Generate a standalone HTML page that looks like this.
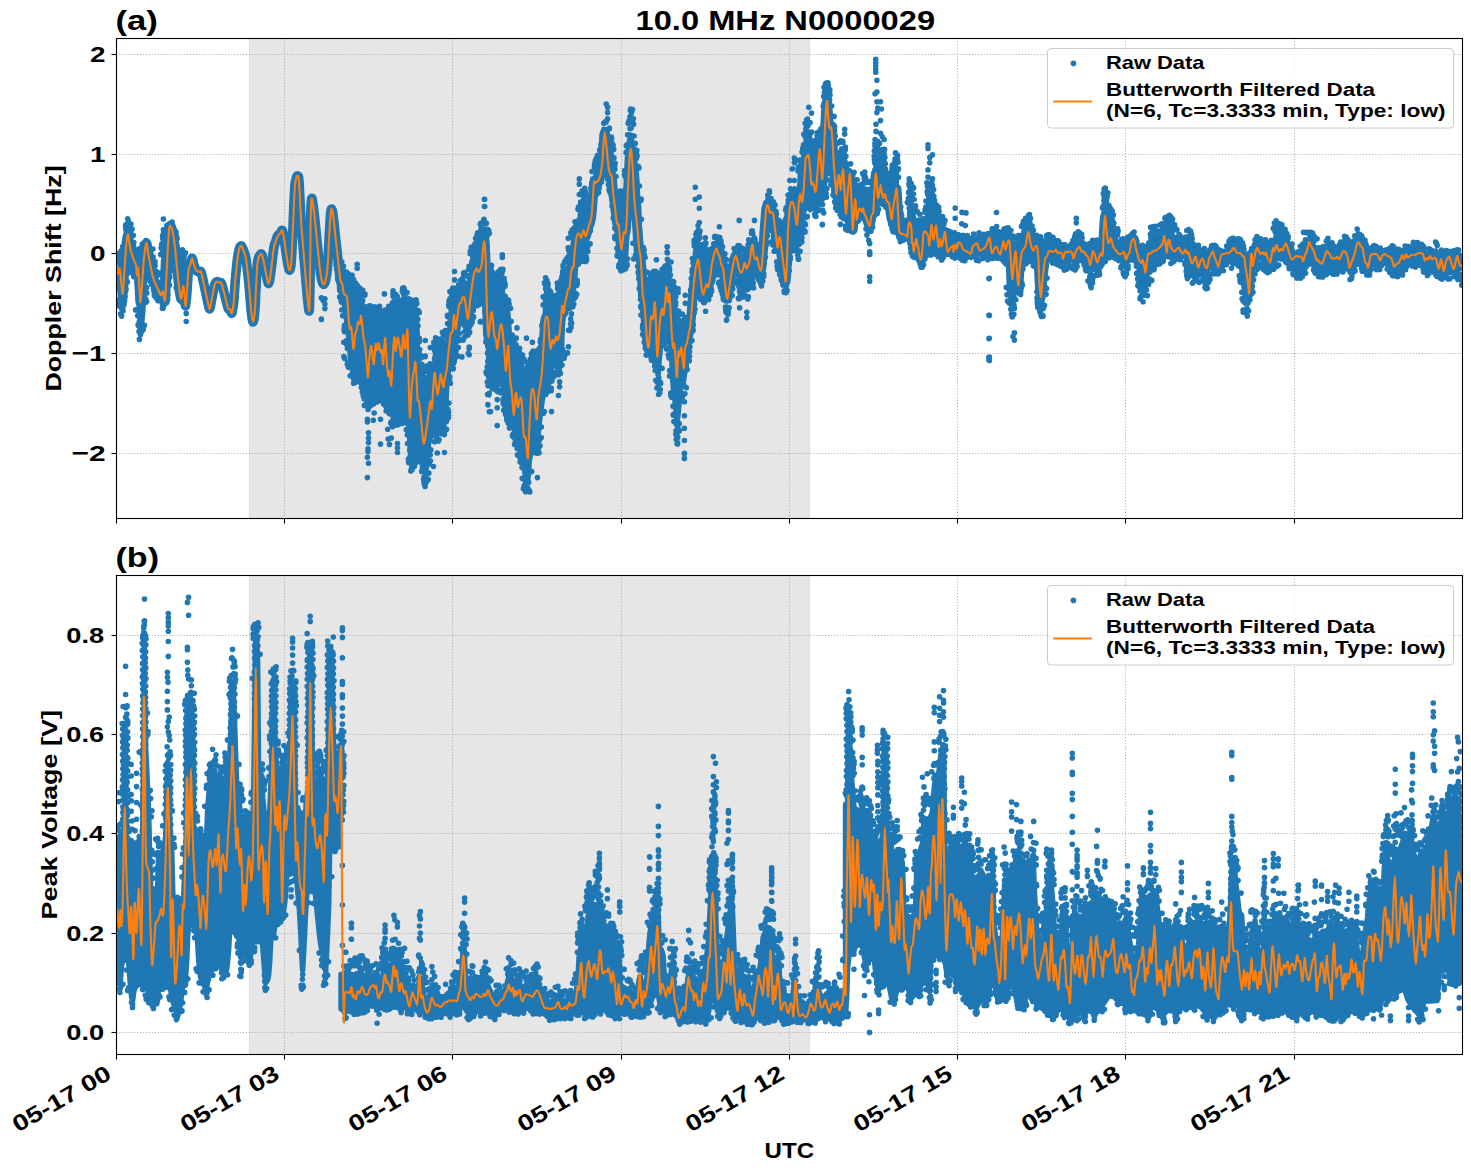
<!DOCTYPE html><html><head><meta charset="utf-8"><style>html,body{margin:0;padding:0;background:#fff}svg{display:block}text{font-family:"Liberation Sans",sans-serif;font-weight:bold;fill:#000}</style></head><body>
<svg width="1471" height="1172" viewBox="0 0 1471 1172">
<rect width="1471" height="1172" fill="#fff"/>
<clipPath id="ca"><rect x="116.5" y="38.5" width="1346.0" height="480.0"/></clipPath>
<rect x="249" y="38.5" width="560.8" height="480.0" fill="#e6e6e6"/>
<path d="M249.4 38.5V518.5M809.4 38.5V518.5" stroke="#dadada" stroke-width="0.8" fill="none"/>
<g stroke="#b0b0b0" stroke-width="1.11" stroke-dasharray="1.11,1.83" fill="none">
<path d="M284.5 38.5V518.5"/>
<path d="M452.5 38.5V518.5"/>
<path d="M621.5 38.5V518.5"/>
<path d="M789.5 38.5V518.5"/>
<path d="M957.5 38.5V518.5"/>
<path d="M1125.5 38.5V518.5"/>
<path d="M1294.5 38.5V518.5"/>
<path d="M116.5 54.5H1462.5"/>
<path d="M116.5 154.5H1462.5"/>
<path d="M116.5 253.5H1462.5"/>
<path d="M116.5 353.5H1462.5"/>
<path d="M116.5 453.5H1462.5"/>
</g>
<g clip-path="url(#ca)" id="dataa">
<defs><path id="o1" d="M117.2 264.7C117.3 266.2 117.6 272.9 118.1 273.7C118.5 274.4 119.3 267.1 119.9 269.2C120.5 271.3 121.1 282.2 121.6 286.2C122.2 290.2 122.5 295.8 122.9 293.4C123.4 291.0 123.8 279.6 124.3 271.9C124.9 264.1 125.5 253.0 126.1 246.8C126.7 240.5 127.4 234.8 127.9 234.2C128.5 233.6 128.9 240.5 129.4 243.2C129.8 245.9 130.1 248.3 130.6 250.4C131.1 252.4 131.8 253.9 132.4 255.7C133.0 257.5 133.6 259.6 134.2 261.1C134.8 262.6 135.5 262.3 136.0 264.7C136.4 267.1 136.5 274.9 136.9 275.4C137.2 276.0 137.7 265.6 138.1 268.3C138.6 271.0 139.2 285.9 139.6 291.6C140.0 297.3 140.1 303.2 140.5 302.3C140.9 301.4 141.3 293.7 141.9 286.2C142.5 278.7 143.3 264.7 144.1 257.5C144.8 250.4 145.7 244.1 146.4 243.2C147.0 242.3 147.3 248.6 148.0 252.2C148.6 255.7 149.5 260.5 150.3 264.7C151.2 268.9 152.1 274.0 153.0 277.2C153.9 280.5 154.8 282.3 155.7 284.4C156.6 286.5 157.6 288.0 158.4 289.8C159.2 291.6 160.0 294.9 160.7 295.2C161.5 295.5 162.2 290.7 162.9 291.6C163.6 292.5 164.4 303.2 165.0 300.5C165.6 297.8 166.0 283.8 166.5 275.4C166.9 267.1 167.3 258.1 167.7 250.4C168.2 242.6 168.7 232.9 169.1 228.9C169.6 224.8 170.0 225.9 170.6 226.2C171.1 226.5 171.7 227.8 172.4 230.6C173.0 233.5 173.9 238.1 174.5 243.2C175.2 248.3 175.7 255.1 176.3 261.1C176.9 267.1 177.5 273.7 178.1 279.0C178.7 284.4 179.4 290.1 179.9 293.4C180.4 296.7 180.8 299.9 181.3 298.7C181.9 297.6 182.6 287.1 183.1 286.2C183.6 285.3 184.0 290.1 184.4 293.4C184.8 296.7 185.2 306.5 185.6 305.9C186.1 305.3 186.6 295.8 187.1 289.8C187.5 283.8 188.0 274.3 188.5 270.1C189.0 265.9 189.7 266.6 190.3 264.7C190.9 262.8 191.5 258.4 192.1 258.4C192.7 258.4 193.2 262.8 193.9 264.7C194.5 266.6 195.2 268.9 196.0 270.1C196.8 271.3 197.9 271.6 198.7 271.9C199.5 272.2 200.3 270.4 201.0 271.9C201.8 273.4 202.4 277.2 203.2 280.8C204.0 284.4 205.0 289.5 205.9 293.4C206.7 297.3 207.6 301.6 208.2 304.1C208.9 306.7 209.2 309.8 209.8 308.6C210.5 307.4 211.3 301.0 212.2 297.0C213.0 292.9 214.0 286.9 214.8 284.4C215.6 281.9 216.2 282.0 217.0 281.7C217.7 281.4 218.6 282.3 219.3 282.6C220.1 282.9 220.7 282.0 221.5 283.5C222.2 285.0 223.0 288.4 223.8 291.6C224.6 294.7 225.7 299.5 226.5 302.3C227.2 305.2 227.6 307.4 228.3 308.6C228.9 309.8 229.8 308.8 230.4 309.5C231.0 310.2 231.3 314.3 231.9 313.1C232.4 311.9 233.1 308.0 233.7 302.3C234.3 296.7 234.8 286.5 235.4 279.0C236.1 271.6 236.9 262.6 237.6 257.5C238.3 252.4 238.8 250.5 239.4 248.6C240.0 246.6 240.7 245.6 241.4 245.9C242.0 246.2 242.8 248.4 243.5 250.4C244.2 252.3 245.0 253.9 245.7 257.5C246.4 261.1 247.0 266.5 247.6 271.9C248.3 277.2 248.8 283.2 249.4 289.8C250.0 296.4 250.6 305.9 251.2 311.3C251.8 316.7 252.4 322.0 253.0 322.0C253.6 322.0 254.3 317.3 254.8 311.3C255.3 305.3 255.6 294.0 256.1 286.2C256.5 278.4 256.9 269.5 257.3 264.7C257.8 259.9 258.1 259.3 258.7 257.5C259.4 255.7 260.7 253.6 261.4 253.9C262.2 254.2 262.6 256.9 263.2 259.3C263.8 261.7 264.4 265.3 265.0 268.3C265.6 271.3 266.2 274.7 266.8 277.2C267.4 279.8 268.0 283.8 268.6 283.5C269.2 283.2 269.8 279.2 270.4 275.4C271.0 271.7 271.6 265.9 272.2 261.1C272.8 256.3 273.4 250.1 274.0 246.8C274.6 243.5 275.2 243.2 275.8 241.4C276.4 239.6 276.8 237.4 277.6 236.0C278.3 234.7 279.4 234.2 280.3 233.3C281.1 232.4 281.7 229.6 282.4 230.6C283.1 231.7 283.5 235.4 284.2 239.6C284.9 243.8 285.8 251.3 286.5 255.7C287.2 260.2 287.8 264.1 288.3 266.5C288.9 268.9 289.3 270.4 289.7 270.1C290.2 269.8 290.6 269.8 291.0 264.7C291.5 259.6 292.0 248.9 292.4 239.6C292.9 230.3 293.3 218.1 293.7 209.1C294.1 200.2 294.5 191.1 294.9 185.8C295.4 180.6 295.9 179.4 296.4 177.8C296.9 176.1 297.4 175.2 297.8 176.0C298.3 176.7 298.5 174.6 299.1 182.3C299.6 189.9 300.5 212.1 301.1 221.7C301.7 231.2 302.0 233.0 302.5 239.6C303.1 246.2 303.7 253.9 304.3 261.1C304.9 268.3 305.5 275.7 306.1 282.6C306.7 289.5 307.4 297.8 307.9 302.3C308.5 306.8 309.0 314.0 309.4 309.5C309.7 305.0 309.9 290.1 310.1 275.4C310.3 260.8 310.4 234.4 310.6 221.7C310.8 209.0 311.1 202.3 311.5 199.3C311.9 196.3 312.4 200.6 312.9 203.8C313.5 206.9 314.1 212.7 314.7 218.1C315.3 223.5 315.9 230.0 316.5 236.0C317.1 242.0 317.7 248.3 318.3 253.9C318.9 259.6 319.5 265.6 320.1 270.1C320.7 274.6 321.3 278.4 321.9 280.8C322.5 283.2 323.1 284.4 323.7 284.4C324.3 284.4 324.9 283.2 325.5 280.8C326.1 278.4 326.8 275.1 327.3 270.1C327.8 265.0 328.1 257.8 328.5 250.4C328.9 242.9 329.4 231.8 329.8 225.3C330.2 218.7 330.5 213.5 330.9 210.9C331.2 208.4 331.7 208.8 332.1 210.0C332.6 211.2 333.0 214.1 333.5 218.1C334.1 222.1 334.6 228.9 335.2 234.2C335.7 239.6 336.4 245.0 337.0 250.4C337.6 255.7 338.1 261.4 338.7 266.5C339.3 271.6 339.9 277.8 340.5 280.8C341.1 283.8 341.8 282.3 342.3 284.4C342.9 286.5 343.2 291.6 343.8 293.4C344.3 295.2 345.0 294.3 345.6 295.2C346.2 296.1 346.8 294.6 347.3 298.7C347.9 302.9 348.3 315.2 348.8 320.3C349.2 325.3 349.6 328.0 350.0 329.2C350.5 330.4 350.8 325.3 351.3 327.4C351.7 329.5 352.3 338.2 352.7 341.8C353.1 345.3 353.3 349.8 353.6 348.9C354.0 348.0 354.4 339.7 354.9 336.4C355.4 333.1 356.1 331.6 356.7 329.2C357.2 326.8 357.6 322.9 358.1 322.0C358.6 321.1 359.4 324.9 359.9 323.8C360.4 322.8 360.7 314.9 361.1 315.8C361.6 316.7 362.1 325.2 362.6 329.2C363.0 333.2 363.4 337.1 363.8 340.0C364.3 342.8 364.8 342.5 365.3 346.5C365.7 350.5 366.3 358.6 366.7 363.8C367.2 368.9 367.5 377.8 368.0 377.2C368.4 376.6 368.7 365.4 369.2 360.2C369.7 355.0 370.5 346.7 371.0 345.8C371.5 344.9 372.0 351.8 372.4 354.8C372.9 357.8 373.3 365.6 373.9 363.8C374.4 362.0 375.1 346.3 375.7 344.1C376.2 341.8 376.8 350.5 377.3 350.3C377.8 350.2 378.2 342.9 378.7 343.2C379.2 343.5 380.0 350.9 380.5 352.1C381.0 353.3 381.3 348.4 381.8 350.3C382.2 352.3 382.7 365.9 383.2 363.8C383.7 361.7 384.4 338.1 385.0 337.8C385.6 337.5 386.2 355.5 386.8 362.0C387.3 368.4 387.8 374.8 388.2 376.3C388.7 377.8 389.0 369.4 389.5 370.9C390.0 372.4 390.7 388.3 391.3 385.3C391.9 382.3 392.5 361.1 393.0 353.0C393.6 344.9 393.9 337.2 394.3 336.9C394.7 336.6 395.2 351.1 395.7 351.2C396.3 351.4 396.9 339.0 397.5 337.8C398.1 336.6 398.7 340.9 399.3 344.1C400.0 347.2 400.8 358.1 401.5 356.6C402.1 355.1 402.7 336.6 403.3 335.1C403.8 333.6 404.2 345.8 404.7 347.6C405.1 349.4 405.5 348.8 405.9 345.8C406.4 342.9 407.0 326.7 407.4 329.7C407.8 332.7 408.0 352.1 408.3 363.8C408.6 375.4 408.9 390.6 409.2 399.6C409.5 408.6 409.7 419.0 410.1 417.5C410.5 416.0 411.1 397.5 411.5 390.6C412.0 383.8 412.3 379.6 412.8 376.3C413.2 373.0 413.6 373.3 414.0 370.9C414.5 368.5 415.0 360.2 415.4 362.0C415.9 363.8 416.3 375.4 416.7 381.7C417.1 388.0 417.2 396.3 417.6 399.6C418.0 402.9 418.6 399.0 419.0 401.4C419.5 403.8 420.0 409.8 420.5 413.9C420.9 418.1 421.3 422.3 421.7 426.5C422.1 430.7 422.6 436.2 423.0 439.0C423.4 441.9 423.6 444.4 424.1 443.5C424.5 442.6 425.2 437.4 425.8 433.7C426.4 429.9 427.0 425.6 427.6 421.1C428.2 416.6 428.9 410.1 429.4 406.8C429.9 403.5 430.3 401.1 430.7 401.4C431.1 401.7 431.5 411.3 431.9 408.6C432.4 405.9 432.9 391.2 433.4 385.3C433.8 379.3 434.3 372.1 434.8 372.7C435.3 373.3 436.1 385.3 436.6 388.9C437.1 392.4 437.3 395.4 437.8 394.2C438.4 393.0 439.1 385.0 439.6 381.7C440.1 378.4 440.3 373.6 440.9 374.5C441.5 375.4 442.5 386.6 443.2 387.1C443.9 387.5 444.4 380.2 445.0 377.2C445.6 374.2 446.2 373.5 446.8 369.1C447.4 364.8 448.2 355.5 448.6 351.2C449.1 347.0 449.2 346.2 449.5 343.5C449.8 340.9 450.1 336.9 450.4 335.1C450.7 333.3 450.9 333.5 451.3 332.8C451.7 332.1 452.3 334.0 452.7 331.0C453.2 328.0 453.5 315.2 454.0 314.9C454.5 314.6 455.2 329.2 455.8 329.2C456.4 329.2 457.0 319.1 457.6 314.9C458.2 310.7 458.8 306.2 459.4 304.1C460.0 302.0 460.5 303.5 461.1 302.3C461.7 301.1 462.3 297.6 462.9 297.0C463.5 296.4 464.1 296.4 464.7 298.7C465.3 301.1 466.0 308.0 466.5 311.3C467.1 314.6 467.4 319.7 468.0 318.5C468.5 317.3 469.2 308.9 469.7 304.1C470.3 299.3 470.9 294.6 471.5 289.8C472.2 285.0 473.0 278.7 473.7 275.4C474.3 272.2 475.0 271.3 475.5 270.1C476.0 268.9 476.2 268.0 476.7 268.3C477.2 268.6 477.7 272.5 478.5 271.9C479.3 271.3 480.9 268.3 481.6 264.7C482.4 261.1 482.5 254.2 482.9 250.4C483.4 246.5 483.9 240.2 484.3 241.4C484.8 242.6 485.2 248.9 485.6 257.5C485.9 266.2 486.2 282.6 486.5 293.4C486.8 304.1 487.1 314.7 487.4 322.0C487.7 329.4 488.0 337.3 488.5 337.3C488.9 337.3 489.6 326.2 490.1 322.0C490.6 317.9 491.0 312.5 491.5 312.2C492.0 311.9 492.5 316.5 492.9 320.3C493.4 324.0 493.7 331.3 494.2 334.6C494.7 337.9 495.5 337.6 496.0 340.0C496.5 342.4 496.8 349.2 497.2 348.9C497.7 348.6 498.2 341.8 498.7 338.2C499.2 334.6 499.7 329.7 500.1 327.4C500.6 325.2 500.9 323.8 501.4 324.7C501.8 325.6 502.3 328.4 502.8 332.8C503.3 337.2 503.9 344.6 504.4 351.0C504.9 357.3 505.4 370.0 505.8 370.9C506.3 371.9 506.7 360.8 507.1 356.6C507.5 352.4 507.8 345.2 508.2 345.8C508.5 346.4 508.7 354.2 509.1 360.2C509.4 366.2 509.9 376.9 510.3 381.7C510.7 386.5 511.2 385.3 511.6 388.9C512.0 392.4 512.3 398.9 512.7 403.2C513.0 407.5 513.5 415.4 513.9 414.8C514.3 414.2 514.8 403.2 515.2 399.6C515.5 396.0 515.8 392.1 516.2 393.3C516.7 394.5 517.3 405.4 517.8 406.8C518.4 408.1 518.7 402.9 519.3 401.4C519.8 399.9 520.6 396.3 521.1 397.8C521.6 399.3 521.9 404.1 522.3 410.4C522.8 416.6 523.2 431.0 523.8 435.4C524.3 439.9 525.0 434.6 525.6 437.2C526.1 439.9 526.6 448.1 527.0 451.6C527.4 455.0 527.6 459.9 527.9 457.8C528.2 455.8 528.4 446.4 528.8 439.0C529.1 431.7 529.6 421.4 530.0 413.9C530.5 406.5 530.8 398.4 531.3 394.2C531.7 390.0 532.2 388.9 532.7 388.9C533.2 388.9 533.7 390.9 534.2 394.2C534.6 397.5 535.0 404.4 535.4 408.6C535.9 412.7 536.4 420.8 536.8 419.3C537.3 417.8 537.7 404.7 538.1 399.6C538.5 394.5 539.1 391.8 539.5 388.9C540.0 385.9 540.4 384.7 540.8 381.7C541.2 378.7 541.7 375.4 542.0 370.9C542.4 366.5 542.8 360.3 543.1 354.8C543.4 349.3 543.7 343.6 544.0 338.2C544.3 332.7 544.6 325.6 544.9 322.0C545.3 318.5 545.7 317.1 546.2 316.7C546.7 316.2 547.4 316.1 548.0 319.4C548.5 322.6 548.8 331.5 549.2 336.4C549.7 341.3 550.1 348.3 550.6 348.9C551.2 349.5 551.8 340.9 552.4 340.0C553.0 339.1 553.6 344.1 554.2 343.5C554.8 343.0 555.4 337.0 556.0 336.4C556.6 335.8 557.2 340.6 557.8 340.0C558.4 339.4 559.1 336.4 559.6 332.8C560.1 329.2 560.6 322.9 561.0 318.5C561.5 314.0 561.8 306.8 562.3 305.9C562.7 305.0 563.3 313.4 563.7 313.1C564.2 312.8 564.5 307.1 565.0 304.1C565.5 301.1 566.2 297.7 566.8 295.2C567.3 292.6 567.8 290.1 568.2 288.9C568.7 287.7 569.0 290.2 569.5 288.0C569.9 285.8 570.3 278.9 570.7 275.4C571.2 272.0 571.7 268.9 572.2 267.4C572.6 265.9 573.1 269.3 573.6 266.5C574.0 263.6 574.4 254.8 574.8 250.4C575.3 245.9 575.6 242.3 576.1 239.6C576.5 236.9 577.0 235.1 577.5 234.2C578.1 233.3 578.7 233.6 579.3 234.2C579.9 234.8 580.5 238.4 581.1 237.8C581.8 237.2 582.7 231.2 583.3 230.6C583.9 230.0 584.2 233.3 584.7 234.2C585.2 235.1 585.6 236.9 586.1 236.0C586.7 235.1 587.3 230.9 587.9 228.9C588.5 226.8 589.1 225.6 589.7 223.5C590.3 221.4 591.0 220.2 591.5 216.3C592.0 212.4 592.3 205.9 592.8 200.2C593.2 194.5 593.6 185.1 594.0 182.3C594.5 179.4 594.9 183.3 595.4 183.2C596.0 183.0 596.6 182.0 597.2 181.4C597.8 180.8 598.4 180.9 599.0 179.6C599.6 178.2 600.3 176.1 600.8 173.3C601.4 170.5 601.8 167.5 602.3 162.7C602.7 157.8 603.1 149.0 603.5 143.9C603.9 138.9 604.3 132.3 604.8 132.3C605.2 132.3 605.7 139.5 606.2 143.9C606.7 148.4 607.2 154.8 607.6 159.1C608.1 163.4 608.4 167.0 608.9 169.7C609.4 172.4 610.2 173.9 610.7 175.1C611.2 176.3 611.5 173.6 611.9 176.9C612.4 180.2 612.8 189.4 613.4 194.8C613.9 200.2 614.6 204.4 615.2 209.1C615.8 213.9 616.4 220.8 617.0 223.5C617.6 226.2 618.2 222.3 618.7 225.3C619.3 228.3 619.7 237.4 620.2 241.4C620.6 245.4 621.0 249.5 621.4 249.5C621.9 249.5 622.3 244.2 622.7 241.4C623.1 238.6 623.3 233.9 623.8 232.4C624.2 230.9 625.0 234.8 625.6 232.4C626.1 230.0 626.5 224.4 626.8 218.1C627.2 211.8 627.3 203.1 627.7 194.8C628.1 186.5 628.6 175.3 629.0 168.0C629.3 160.7 629.7 154.2 630.0 151.1C630.4 148.0 630.7 148.7 630.9 149.3C631.2 149.9 631.4 151.6 631.6 154.7C631.9 157.8 632.3 161.3 632.7 168.0C633.1 174.7 633.6 188.0 634.0 194.8C634.4 201.7 634.8 204.7 635.2 209.1C635.7 213.6 636.2 217.2 636.7 221.7C637.1 226.2 637.7 231.2 638.1 236.0C638.5 240.8 638.9 246.8 639.4 250.4C639.8 253.9 640.2 253.3 640.6 257.5C641.0 261.7 641.3 268.9 641.7 275.4C642.1 282.0 642.5 292.5 642.9 297.0C643.4 301.4 643.7 298.4 644.2 302.3C644.6 306.2 645.2 314.3 645.6 320.3C646.1 326.2 646.5 333.7 646.9 338.2C647.3 342.7 647.6 346.2 648.0 347.1C648.3 348.0 648.8 348.3 649.2 343.5C649.7 338.8 650.2 322.8 650.6 318.5C651.1 314.1 651.5 317.6 651.9 317.6C652.3 317.6 652.7 321.0 653.2 318.5C653.6 315.9 654.2 303.5 654.6 302.3C655.0 301.1 655.2 305.3 655.5 311.3C655.8 317.3 656.1 330.7 656.4 338.2C656.7 345.6 657.0 354.6 657.3 356.1C657.6 357.6 657.8 351.9 658.2 347.1C658.5 342.4 659.0 332.8 659.4 327.4C659.9 322.0 660.3 318.0 660.8 314.9C661.2 311.7 661.7 308.6 662.2 308.6C662.6 308.6 663.0 315.3 663.4 314.9C663.9 314.4 664.2 310.1 664.7 305.9C665.1 301.7 665.8 292.8 666.1 289.8C666.5 286.8 666.4 285.9 666.7 288.0C667.0 290.1 667.5 301.4 667.9 302.3C668.4 303.2 668.9 291.9 669.4 293.4C669.8 294.9 670.3 305.3 670.6 311.3C671.0 317.3 671.1 323.2 671.5 329.2C671.9 335.2 672.5 345.0 672.9 347.4C673.4 349.8 673.8 342.2 674.2 343.8C674.6 345.4 675.0 351.7 675.4 357.2C675.9 362.8 676.4 378.1 676.9 377.2C677.4 376.3 677.9 355.3 678.3 351.9C678.8 348.4 679.1 357.1 679.6 356.3C680.1 355.6 680.8 346.1 681.4 347.4C682.0 348.6 682.7 360.4 683.2 363.8C683.6 367.1 683.8 369.8 684.1 367.3C684.3 364.9 684.5 353.1 684.9 349.2C685.4 345.3 686.1 346.2 686.7 343.8C687.3 341.4 687.9 337.6 688.5 334.6C689.1 331.6 689.8 329.5 690.3 325.6C690.8 321.7 691.1 316.7 691.6 311.3C692.0 305.9 692.5 298.7 693.0 293.4C693.5 288.0 694.0 283.2 694.4 279.0C694.9 274.9 695.3 271.1 695.7 268.3C696.1 265.4 696.7 263.4 697.1 262.0C697.6 260.7 697.9 258.6 698.4 260.2C698.8 261.9 699.4 268.1 699.8 271.9C700.3 275.6 700.7 279.3 701.1 282.6C701.5 285.9 701.9 289.6 702.3 291.6C702.7 293.5 703.0 294.6 703.4 294.3C703.8 294.0 704.2 291.4 704.7 289.8C705.2 288.1 705.9 284.9 706.5 284.4C707.0 284.0 707.6 288.0 708.2 287.1C708.8 286.2 709.4 282.8 710.0 279.0C710.6 275.3 711.2 268.6 711.8 264.7C712.4 260.8 713.0 258.1 713.6 255.7C714.2 253.3 714.9 251.6 715.4 250.4C715.9 249.2 716.2 248.0 716.7 248.6C717.1 249.2 717.6 252.4 718.1 253.9C718.6 255.4 719.4 255.7 719.9 257.5C720.4 259.3 720.8 262.9 721.3 264.7C721.9 266.5 722.6 265.9 723.1 268.3C723.6 270.7 724.0 275.4 724.4 279.0C724.8 282.6 725.2 286.5 725.6 289.8C726.1 293.1 726.6 298.1 727.1 298.7C727.5 299.3 728.0 296.4 728.5 293.4C729.0 290.4 729.7 284.7 730.3 280.8C730.9 276.9 731.5 273.4 732.1 270.1C732.7 266.8 733.3 263.5 733.9 261.1C734.5 258.7 735.1 255.7 735.7 255.7C736.3 255.7 736.9 258.9 737.5 261.1C738.1 263.4 738.6 267.2 739.2 269.2C739.8 271.1 740.4 272.6 741.0 272.8C741.6 272.9 742.2 271.7 742.8 270.1C743.4 268.4 744.0 263.2 744.6 262.9C745.2 262.6 745.8 267.8 746.4 268.3C747.0 268.7 747.6 267.1 748.2 265.6C748.8 264.1 749.5 262.2 750.0 259.3C750.5 256.5 750.8 251.0 751.3 248.6C751.7 246.2 752.1 243.8 752.5 245.0C753.0 246.2 753.4 253.3 753.9 255.7C754.5 258.1 755.2 259.0 755.7 259.3C756.3 259.6 756.6 256.3 757.2 257.5C757.7 258.7 758.3 264.4 759.0 266.5C759.6 268.6 760.5 271.6 761.1 270.1C761.7 268.6 762.1 262.6 762.5 257.5C763.0 252.4 763.4 245.6 763.8 239.6C764.2 233.6 764.6 227.1 765.1 221.7C765.5 216.3 765.9 210.0 766.5 207.3C767.0 204.7 767.7 204.7 768.3 205.6C768.8 206.5 769.2 211.7 769.7 212.7C770.3 213.8 770.9 211.5 771.5 211.8C772.1 212.1 772.8 212.3 773.3 214.5C773.8 216.8 774.1 221.7 774.6 225.3C775.0 228.9 775.5 232.3 776.0 236.0C776.5 239.8 777.1 247.4 777.6 247.7C778.1 248.0 778.6 239.2 779.0 237.8C779.5 236.5 780.0 237.5 780.5 239.6C780.9 241.7 781.3 246.8 781.7 250.4C782.1 253.9 782.5 257.5 783.0 261.1C783.4 264.7 784.0 268.4 784.4 271.9C784.9 275.3 785.3 282.3 785.7 281.7C786.1 281.1 786.4 275.3 786.7 268.3C787.1 261.3 787.3 247.4 787.6 239.6C787.9 231.8 788.2 227.1 788.5 221.7C788.9 216.3 789.3 210.6 789.8 207.3C790.3 204.1 791.0 202.6 791.6 202.0C792.2 201.4 792.8 202.3 793.4 203.8C793.9 205.3 794.4 207.9 794.8 210.9C795.3 213.9 795.6 219.6 796.1 221.7C796.5 223.8 796.9 226.5 797.3 223.5C797.8 220.5 798.3 208.7 798.7 203.8C799.2 198.8 799.7 194.2 800.2 193.9C800.7 193.6 801.3 201.8 801.8 202.0C802.3 202.1 802.8 199.0 803.2 194.8C803.7 190.6 804.1 182.9 804.5 176.9C804.9 170.9 805.2 162.2 805.6 159.0C805.9 155.7 806.3 157.8 806.8 157.2C807.3 156.6 808.1 153.6 808.6 155.4C809.1 157.2 809.6 163.1 810.0 167.9C810.5 172.7 810.8 181.7 811.3 184.1C811.7 186.4 812.3 182.0 812.7 182.3C813.2 182.6 813.5 184.3 814.0 185.8C814.5 187.3 815.1 194.0 815.8 191.2C816.4 188.4 817.1 176.0 817.8 169.0C818.4 162.0 819.1 150.5 819.6 149.3C820.1 148.1 820.4 156.9 820.8 161.9C821.3 166.8 821.8 179.8 822.3 178.9C822.7 178.0 823.2 164.7 823.7 156.5C824.1 148.3 824.6 137.1 824.9 129.6C825.3 122.1 825.5 116.5 825.8 111.7C826.2 106.9 826.7 100.0 827.1 100.9C827.5 101.8 827.8 112.6 828.2 117.1C828.6 121.5 828.9 126.0 829.4 127.8C829.9 129.6 830.7 125.1 831.2 127.8C831.8 130.5 832.2 137.7 832.7 143.9C833.1 150.2 833.5 159.2 833.9 165.4C834.3 171.7 834.7 176.8 835.2 181.6C835.6 186.4 836.1 194.7 836.6 194.1C837.1 193.5 837.6 181.0 838.0 178.0C838.5 175.0 838.8 174.1 839.3 176.2C839.7 178.3 840.3 190.5 840.7 190.5C841.2 190.5 841.6 179.6 842.0 176.2C842.4 172.8 842.8 166.9 843.2 169.9C843.7 172.9 844.2 186.8 844.7 194.1C845.1 201.4 845.5 213.2 845.9 213.8C846.4 214.4 846.9 202.8 847.3 197.7C847.8 192.6 848.3 187.3 848.8 183.4C849.2 179.5 849.6 171.4 850.0 174.4C850.5 177.4 851.0 192.0 851.5 201.3C851.9 210.5 852.3 228.5 852.7 230.0C853.2 231.5 853.7 215.3 854.2 210.3C854.6 205.2 855.0 198.0 855.4 199.5C855.8 201.0 856.2 217.1 856.7 219.2C857.1 221.3 857.6 213.8 858.1 212.0C858.6 210.3 859.3 208.5 859.9 208.5C860.5 208.5 861.1 212.0 861.7 212.0C862.2 212.0 862.7 208.2 863.1 208.5C863.6 208.8 863.9 212.3 864.4 213.8C864.9 215.3 865.6 215.9 866.2 217.4C866.8 218.9 867.4 221.5 868.0 222.8C868.6 224.1 869.2 226.7 869.7 225.5C870.3 224.3 870.9 217.9 871.5 215.6C872.1 213.4 872.9 215.6 873.3 212.0C873.8 208.5 873.8 200.5 874.2 194.1C874.6 187.7 875.2 175.0 875.7 173.5C876.1 172.0 876.6 181.1 876.9 185.2C877.3 189.2 877.5 196.2 877.8 197.7C878.2 199.2 878.6 196.2 879.1 194.1C879.5 192.0 880.1 185.5 880.5 185.2C880.9 184.9 881.3 190.2 881.8 192.3C882.2 194.4 882.7 197.4 883.2 197.7C883.7 198.0 884.4 193.5 885.0 194.1C885.6 194.7 886.1 199.8 886.8 201.3C887.4 202.8 888.3 201.3 888.9 203.1C889.5 204.9 889.9 209.4 890.4 212.0C890.8 214.7 891.3 219.8 891.8 219.2C892.2 218.6 892.5 212.0 893.0 208.5C893.6 204.9 894.2 201.0 894.8 197.7C895.4 194.4 896.2 188.1 896.6 188.7C897.1 189.3 897.2 196.2 897.5 201.3C897.8 206.4 898.1 214.1 898.4 219.2C898.7 224.3 898.9 229.4 899.3 231.8C899.8 234.1 900.4 233.1 901.1 233.5C901.9 234.0 903.0 234.1 903.8 234.4C904.6 234.7 905.5 235.0 906.1 235.3C906.7 235.6 907.0 238.0 907.4 236.2C907.8 234.4 908.2 226.8 908.6 224.6C909.1 222.3 909.6 221.9 910.1 222.8C910.5 223.7 911.2 226.6 911.5 230.0C911.8 233.3 911.7 240.6 911.9 242.7C912.1 244.8 912.5 241.1 912.8 242.6C913.1 244.1 913.3 251.4 913.7 251.7C914.0 252.0 914.6 246.6 915.1 244.5C915.5 242.4 915.9 238.7 916.3 239.0C916.8 239.3 917.3 245.1 917.6 246.3C917.9 247.5 917.9 244.9 918.1 246.1C918.4 247.3 918.6 251.2 919.0 253.5C919.5 255.8 920.3 260.3 920.8 259.7C921.4 259.2 921.8 254.2 922.3 249.9C922.7 245.5 923.0 236.7 923.5 233.7C924.0 230.7 924.7 231.9 925.3 231.9C925.9 231.9 926.6 232.7 927.1 233.7C927.6 234.6 928.1 235.6 928.4 237.3C928.6 239.1 928.7 243.1 928.9 244.3C929.1 245.5 929.2 245.7 929.4 244.5C929.6 243.3 929.9 238.9 930.1 237.1C930.4 235.3 930.4 235.8 930.7 233.8C930.9 231.7 931.2 223.8 931.6 224.7C932.0 225.6 932.6 237.2 933.0 239.0C933.5 240.8 933.8 237.7 934.3 235.4C934.8 233.2 935.5 225.3 936.1 225.6C936.6 225.9 936.9 233.7 937.3 237.2C937.8 240.8 938.3 246.8 938.7 247.1C939.2 247.4 939.7 239.2 940.2 239.0C940.6 238.9 940.9 245.9 941.4 246.2C941.9 246.5 942.6 243.2 943.2 240.8C943.8 238.4 944.5 231.6 945.0 231.9C945.5 232.2 945.8 239.3 946.3 242.6C946.7 245.9 947.0 250.8 947.7 251.7C948.4 252.6 949.6 248.9 950.4 248.0C951.1 247.1 951.7 246.6 952.2 246.3C952.6 246.0 952.9 245.2 953.1 246.1C953.3 247.0 953.1 252.0 953.4 251.7C953.7 251.4 954.3 244.9 954.9 244.4C955.4 243.9 956.1 249.2 956.7 248.9C957.3 248.6 957.7 243.4 958.5 242.6C959.2 241.9 960.4 243.4 961.1 244.4C961.9 245.5 962.2 247.8 962.9 248.9C963.7 250.0 964.7 250.2 965.6 250.8C966.5 251.4 967.4 252.1 968.3 252.6C969.2 253.0 970.3 254.5 971.0 253.5C971.8 252.4 972.0 247.7 972.8 246.2C973.5 244.7 974.7 244.9 975.5 244.4C976.2 244.0 976.7 242.6 977.3 243.5C977.9 244.4 978.5 248.7 979.1 249.9C979.6 251.1 980.0 250.7 980.8 250.5C981.5 250.3 982.5 249.5 983.4 248.7C984.3 248.0 985.4 247.4 986.1 246.0C986.9 244.7 987.3 242.0 987.9 240.6C988.5 239.3 989.2 236.5 989.7 238.0C990.3 239.5 990.7 247.1 991.1 249.6C991.6 252.1 991.9 253.3 992.4 253.2C992.9 253.0 993.5 249.8 994.2 248.7C994.9 247.7 995.8 246.5 996.5 246.9C997.2 247.4 997.7 250.2 998.3 251.4C999.0 252.6 999.8 255.0 1000.5 254.1C1001.1 253.2 1001.7 248.1 1002.3 246.0C1002.8 243.9 1003.2 240.9 1003.7 241.5C1004.2 242.1 1004.9 249.3 1005.5 249.6C1006.1 249.9 1006.6 244.7 1007.3 243.3C1007.9 242.0 1008.8 238.7 1009.4 241.5C1010.0 244.4 1010.4 254.1 1010.9 260.4C1011.3 266.6 1011.8 278.6 1012.3 279.2C1012.8 279.8 1013.3 268.6 1013.9 263.9C1014.5 259.3 1015.2 250.2 1015.7 251.4C1016.2 252.6 1016.5 265.4 1017.0 271.1C1017.4 276.8 1017.9 286.0 1018.4 285.4C1018.9 284.9 1019.3 272.9 1019.8 267.5C1020.4 262.2 1021.0 256.3 1021.6 253.2C1022.3 250.1 1023.1 249.9 1023.8 248.7C1024.4 247.5 1025.0 248.3 1025.6 246.0C1026.2 243.8 1026.8 237.5 1027.3 235.3C1027.9 233.0 1028.3 231.7 1028.8 232.6C1029.2 233.5 1029.5 238.1 1030.0 240.6C1030.5 243.2 1031.2 246.2 1031.8 247.8C1032.4 249.5 1033.0 250.8 1033.6 250.5C1034.2 250.2 1034.8 246.5 1035.4 246.0C1036.0 245.6 1036.7 245.4 1037.2 247.8C1037.7 250.2 1038.1 254.4 1038.5 260.4C1038.8 266.3 1039.1 277.5 1039.5 283.7C1039.9 289.8 1040.4 296.8 1040.8 297.1C1041.2 297.4 1041.6 289.8 1042.0 285.4C1042.5 281.1 1042.9 275.6 1043.5 271.1C1044.0 266.6 1044.7 261.1 1045.3 258.6C1045.9 256.0 1046.5 257.1 1047.1 255.9C1047.7 254.7 1048.1 252.1 1048.9 251.4C1049.6 250.7 1050.6 251.4 1051.5 251.4C1052.4 251.4 1053.5 251.7 1054.2 251.4C1055.0 251.1 1055.4 249.3 1056.0 249.6C1056.6 249.9 1057.1 252.7 1057.8 253.2C1058.6 253.6 1059.8 252.0 1060.5 252.3C1061.2 252.6 1061.8 253.9 1062.3 255.0C1062.7 256.0 1062.7 259.0 1063.2 258.6C1063.6 258.1 1064.2 253.3 1065.0 252.3C1065.7 251.2 1066.8 252.4 1067.7 252.3C1068.6 252.1 1069.6 251.2 1070.4 251.4C1071.1 251.5 1071.6 252.0 1072.2 253.2C1072.7 254.4 1073.0 258.9 1073.6 258.6C1074.2 258.3 1075.1 253.0 1075.7 251.4C1076.4 249.8 1076.9 249.5 1077.5 248.7C1078.2 248.0 1079.0 246.5 1079.7 246.9C1080.3 247.4 1080.8 250.7 1081.5 251.4C1082.2 252.1 1083.0 250.8 1083.8 251.4C1084.6 252.0 1085.4 253.9 1086.1 255.0C1086.9 256.0 1087.6 256.0 1088.3 257.7C1089.0 259.3 1089.8 265.3 1090.4 264.8C1091.0 264.4 1091.5 257.2 1091.9 255.0C1092.3 252.7 1092.3 251.5 1092.8 251.4C1093.2 251.2 1094.0 252.6 1094.6 254.1C1095.1 255.6 1095.8 259.0 1096.3 260.4C1096.9 261.7 1097.2 262.6 1097.6 262.2C1098.0 261.7 1098.5 259.2 1099.0 257.7C1099.6 256.2 1100.2 253.6 1100.8 253.2C1101.4 252.7 1102.2 257.7 1102.6 255.0C1103.1 252.3 1103.2 242.7 1103.5 237.1C1103.8 231.4 1104.1 224.4 1104.4 220.9C1104.7 217.5 1105.0 215.3 1105.3 216.5C1105.6 217.6 1105.8 224.4 1106.2 228.1C1106.6 231.8 1107.2 236.3 1107.6 238.9C1108.1 241.4 1108.4 243.5 1108.9 243.3C1109.4 243.2 1110.1 238.1 1110.7 238.0C1111.2 237.8 1111.7 240.9 1112.1 242.4C1112.6 243.9 1112.9 245.7 1113.4 246.9C1113.9 248.1 1114.5 248.7 1115.2 249.6C1115.8 250.5 1116.6 251.5 1117.3 252.3C1118.1 253.0 1118.8 253.9 1119.6 254.1C1120.5 254.2 1121.6 253.5 1122.3 253.2C1123.1 252.9 1123.5 251.2 1124.1 252.3C1124.7 253.3 1125.3 259.0 1125.9 259.5C1126.5 259.9 1127.1 256.2 1127.7 255.0C1128.3 253.8 1128.9 254.4 1129.5 252.3C1130.1 250.2 1130.7 244.7 1131.3 242.4C1131.9 240.2 1132.5 239.2 1133.1 238.9C1133.6 238.6 1134.1 239.2 1134.5 240.6C1135.0 242.1 1135.3 245.4 1135.8 247.8C1136.3 250.2 1137.0 252.9 1137.6 255.0C1138.2 257.1 1138.8 259.0 1139.4 260.4C1140.0 261.7 1140.5 263.0 1141.1 263.0C1141.7 263.0 1142.3 259.3 1142.9 260.4C1143.5 261.4 1144.3 267.4 1144.7 269.3C1145.2 271.3 1145.2 273.5 1145.6 272.0C1146.0 270.5 1146.6 263.3 1147.1 260.4C1147.5 257.4 1147.7 255.3 1148.3 254.1C1149.0 252.9 1150.3 253.6 1151.0 253.2C1151.8 252.7 1152.0 251.8 1152.8 251.4C1153.5 250.9 1154.6 250.9 1155.5 250.5C1156.4 250.1 1157.1 249.6 1158.2 248.7C1159.2 247.8 1160.9 246.2 1161.6 245.1C1162.4 244.1 1162.5 243.9 1162.9 242.4C1163.4 240.9 1163.9 235.6 1164.3 236.2C1164.8 236.8 1165.4 243.3 1165.8 246.0C1166.2 248.7 1166.3 252.9 1166.7 252.3C1167.0 251.7 1167.5 244.5 1167.9 242.4C1168.3 240.3 1168.7 239.2 1169.2 239.7C1169.6 240.3 1170.1 244.4 1170.6 246.0C1171.1 247.7 1171.7 248.7 1172.4 249.6C1173.1 250.5 1174.0 251.5 1174.7 251.4C1175.5 251.2 1176.2 249.3 1176.9 248.7C1177.6 248.1 1178.4 247.4 1179.0 247.8C1179.7 248.3 1180.1 250.5 1180.8 251.4C1181.5 252.3 1182.4 253.5 1183.2 253.2C1183.9 252.9 1184.9 249.6 1185.5 249.6C1186.1 249.6 1186.2 252.7 1186.7 253.2C1187.2 253.6 1188.0 251.7 1188.5 252.3C1189.0 252.9 1189.3 255.1 1189.8 256.8C1190.2 258.4 1190.7 261.1 1191.2 262.2C1191.7 263.2 1192.1 263.6 1192.7 263.0C1193.2 262.4 1193.9 259.6 1194.4 258.6C1195.0 257.5 1195.3 256.0 1195.7 256.8C1196.1 257.5 1196.5 261.3 1197.0 263.0C1197.4 264.8 1197.8 267.7 1198.4 267.5C1198.9 267.4 1199.6 263.6 1200.2 262.2C1200.8 260.7 1201.4 258.9 1202.0 258.6C1202.5 258.3 1203.0 259.2 1203.4 260.4C1203.9 261.6 1204.2 264.4 1204.7 265.7C1205.2 267.1 1205.9 268.4 1206.5 268.4C1207.0 268.4 1207.3 267.4 1207.7 265.7C1208.2 264.1 1208.6 260.4 1209.1 258.6C1209.7 256.8 1210.3 256.2 1210.9 255.0C1211.6 253.8 1212.5 251.1 1213.1 251.4C1213.7 251.7 1214.0 255.3 1214.5 256.8C1215.0 258.3 1215.5 259.2 1215.9 260.4C1216.4 261.6 1216.8 262.9 1217.2 263.9C1217.6 265.0 1218.0 267.2 1218.5 266.6C1218.9 266.0 1219.4 262.3 1219.9 260.4C1220.4 258.4 1220.7 256.0 1221.3 255.0C1221.9 253.9 1222.7 254.4 1223.5 254.1C1224.3 253.8 1225.3 253.3 1226.2 253.2C1227.1 253.0 1228.0 253.6 1228.9 253.2C1229.7 252.7 1230.7 251.4 1231.5 250.5C1232.4 249.6 1233.2 247.7 1233.9 247.8C1234.6 248.0 1235.0 250.5 1235.7 251.4C1236.3 252.3 1237.0 252.9 1237.8 253.2C1238.6 253.5 1239.8 252.7 1240.5 253.2C1241.2 253.6 1241.7 255.3 1242.3 255.9C1242.9 256.5 1243.6 255.1 1244.1 256.8C1244.6 258.4 1244.9 262.7 1245.3 265.7C1245.8 268.7 1246.3 271.4 1246.8 274.7C1247.3 278.0 1247.8 282.3 1248.2 285.4C1248.6 288.6 1248.8 295.0 1249.1 293.5C1249.4 292.0 1249.7 282.6 1250.0 276.5C1250.3 270.4 1250.6 260.4 1250.9 256.8C1251.2 253.2 1251.5 253.5 1251.8 255.0C1252.1 256.5 1252.3 264.8 1252.7 265.7C1253.0 266.6 1253.4 262.7 1253.9 260.4C1254.5 258.0 1255.1 253.5 1255.7 251.4C1256.3 249.3 1257.0 247.8 1257.5 247.8C1258.1 247.8 1258.4 250.4 1259.0 251.4C1259.5 252.4 1260.1 253.9 1260.8 254.1C1261.4 254.2 1262.2 252.1 1262.9 252.3C1263.6 252.4 1264.2 255.0 1264.7 255.0C1265.2 255.0 1265.7 251.8 1266.1 252.3C1266.6 252.7 1266.9 256.3 1267.4 257.7C1267.9 259.0 1268.7 259.6 1269.2 260.4C1269.7 261.1 1270.0 263.3 1270.4 262.2C1270.9 261.0 1271.4 255.6 1271.9 253.2C1272.3 250.8 1272.8 248.1 1273.3 247.8C1273.7 247.5 1274.0 251.8 1274.6 251.4C1275.1 250.9 1275.8 245.7 1276.3 245.1C1276.9 244.5 1277.2 246.8 1277.6 247.8C1278.0 248.9 1278.5 251.2 1279.0 251.4C1279.6 251.5 1280.2 248.9 1280.8 248.7C1281.4 248.6 1282.0 250.9 1282.6 250.5C1283.2 250.1 1283.9 247.2 1284.4 246.0C1284.9 244.8 1285.4 243.3 1285.8 243.3C1286.3 243.3 1286.6 244.5 1287.1 246.0C1287.6 247.5 1288.3 250.4 1288.9 252.3C1289.5 254.2 1290.1 256.5 1290.7 257.7C1291.3 258.9 1291.9 259.5 1292.5 259.5C1293.1 259.5 1293.6 258.3 1294.3 257.7C1295.0 257.1 1295.8 256.0 1296.6 255.9C1297.3 255.7 1297.9 256.6 1298.7 256.8C1299.6 256.9 1300.7 256.0 1301.4 256.8C1302.2 257.5 1302.6 261.6 1303.2 261.3C1303.8 261.0 1304.4 256.6 1305.0 255.0C1305.6 253.3 1306.2 253.3 1306.8 251.4C1307.4 249.5 1308.2 244.8 1308.6 243.3C1309.1 241.8 1309.1 241.8 1309.5 242.4C1309.9 243.0 1310.7 245.7 1311.3 246.9C1311.9 248.1 1312.5 248.3 1313.1 249.6C1313.7 250.9 1314.3 253.2 1314.9 255.0C1315.5 256.8 1316.1 259.5 1316.7 260.4C1317.3 261.3 1317.9 259.9 1318.5 260.4C1319.1 260.8 1319.6 262.6 1320.3 263.0C1320.9 263.5 1321.7 264.1 1322.4 263.0C1323.1 262.0 1324.0 258.7 1324.7 256.8C1325.4 254.8 1325.9 252.1 1326.5 251.4C1327.1 250.7 1327.7 251.7 1328.3 252.3C1328.9 252.9 1329.5 253.9 1330.1 255.0C1330.7 256.0 1331.3 258.1 1331.9 258.6C1332.5 259.0 1333.1 257.7 1333.7 257.7C1334.3 257.7 1334.9 258.7 1335.5 258.6C1336.1 258.4 1336.7 256.6 1337.3 256.8C1337.9 256.9 1338.5 259.6 1339.1 259.5C1339.7 259.3 1340.3 257.1 1340.9 255.9C1341.5 254.7 1342.1 253.0 1342.7 252.3C1343.2 251.5 1343.8 251.2 1344.4 251.4C1345.0 251.5 1345.6 252.0 1346.2 253.2C1346.8 254.4 1347.5 256.2 1348.0 258.6C1348.5 261.0 1348.7 266.9 1349.3 267.5C1349.9 268.1 1351.0 263.8 1351.6 262.2C1352.3 260.5 1352.8 259.5 1353.4 257.7C1354.0 255.9 1354.6 253.6 1355.2 251.4C1355.8 249.2 1356.4 245.7 1357.0 244.2C1357.6 242.7 1358.2 242.1 1358.8 242.4C1359.4 242.7 1360.0 245.1 1360.6 246.0C1361.2 246.9 1361.9 246.3 1362.4 247.8C1362.9 249.3 1363.4 252.6 1363.8 255.0C1364.3 257.4 1364.6 260.7 1365.1 262.2C1365.6 263.6 1366.4 263.0 1366.9 263.9C1367.4 264.8 1367.7 268.1 1368.1 267.5C1368.6 266.9 1369.1 262.4 1369.6 260.4C1370.0 258.3 1370.3 256.0 1371.0 255.0C1371.7 253.9 1373.1 254.2 1374.0 254.1C1375.0 253.9 1376.0 253.6 1376.7 254.1C1377.5 254.5 1377.9 255.7 1378.5 256.8C1379.1 257.8 1379.7 260.5 1380.3 260.4C1380.9 260.2 1381.4 256.9 1382.1 255.9C1382.9 254.8 1383.9 254.1 1384.8 254.1C1385.7 254.1 1386.7 255.4 1387.5 255.9C1388.3 256.3 1389.0 256.3 1389.6 256.8C1390.3 257.2 1390.9 257.5 1391.4 258.6C1392.0 259.6 1392.4 261.7 1392.9 263.0C1393.3 264.4 1393.7 266.5 1394.3 266.6C1394.9 266.8 1395.7 264.5 1396.4 263.9C1397.2 263.3 1397.9 263.8 1398.6 263.0C1399.3 262.3 1399.8 260.8 1400.4 259.5C1401.0 258.1 1401.6 255.0 1402.2 255.0C1402.8 255.0 1403.4 259.6 1404.0 259.5C1404.6 259.3 1405.2 254.4 1405.8 254.1C1406.4 253.8 1406.9 257.4 1407.6 257.7C1408.2 258.0 1409.1 256.3 1409.9 255.9C1410.7 255.4 1411.7 255.1 1412.6 255.0C1413.5 254.8 1414.4 255.3 1415.3 255.0C1416.2 254.7 1417.1 253.5 1418.0 253.2C1418.8 252.9 1419.8 253.0 1420.6 253.2C1421.5 253.3 1422.3 252.9 1423.0 254.1C1423.7 255.3 1424.2 259.8 1424.8 260.4C1425.4 261.0 1426.0 257.8 1426.6 257.7C1427.2 257.5 1427.8 259.8 1428.3 259.5C1428.9 259.2 1429.5 255.9 1430.1 255.9C1430.7 255.9 1431.3 259.2 1431.9 259.5C1432.6 259.8 1433.4 257.8 1434.1 257.7C1434.7 257.5 1435.3 257.2 1435.9 258.6C1436.5 259.9 1437.1 264.1 1437.7 265.7C1438.2 267.4 1438.6 269.5 1439.1 268.4C1439.6 267.4 1440.4 260.4 1440.9 259.5C1441.4 258.6 1441.6 261.1 1442.1 263.0C1442.7 265.0 1443.3 271.3 1443.9 271.1C1444.5 271.0 1445.1 264.2 1445.7 262.2C1446.3 260.1 1446.9 259.5 1447.5 258.6C1448.1 257.7 1448.7 256.2 1449.3 256.8C1449.9 257.4 1450.5 260.4 1451.1 262.2C1451.7 263.9 1452.4 266.5 1452.9 267.5C1453.4 268.6 1453.6 269.6 1454.2 268.4C1454.7 267.2 1455.4 262.4 1455.9 260.4C1456.5 258.3 1456.9 255.6 1457.4 255.9C1457.9 256.2 1458.3 260.5 1458.8 262.2C1459.4 263.8 1460.1 265.1 1460.6 265.7C1461.1 266.3 1461.8 265.7 1462.0 265.7"/></defs>
<use href="#o1" fill="none" stroke="#1f77b4" stroke-width="9.6" stroke-linejoin="round" stroke-linecap="round"/>
<polygon points="116.6,264.6 117.6,264.6 118.6,264.6 119.6,264.6 120.6,260.5 121.6,260.3 122.6,259.6 123.6,258.0 124.6,255.4 125.6,252.8 126.6,246.6 127.6,238.6 128.6,235.9 129.6,238.3 130.6,244.6 131.6,252.9 132.6,254.7 133.6,256.6 134.6,258.2 135.6,259.3 136.6,260.0 137.6,260.4 138.6,260.4 139.6,260.4 140.6,260.1 141.6,259.5 142.6,257.4 143.6,254.4 144.6,251.4 145.6,249.8 146.6,250.7 147.6,254.4 148.6,256.9 149.6,258.7 150.6,260.4 151.6,265.7 152.6,270.6 153.6,275.0 154.6,279.4 155.6,282.0 156.6,282.8 157.6,284.4 158.6,285.5 159.6,285.9 160.6,285.9 161.6,285.5 162.6,284.4 163.6,261.7 164.6,251.1 165.6,245.1 166.6,240.4 167.6,238.4 168.6,236.4 169.6,233.8 170.6,230.4 171.6,231.6 172.6,236.0 173.6,242.1 174.6,247.7 175.6,253.1 176.6,258.4 177.6,262.3 178.6,263.4 179.6,263.8 180.6,263.8 181.6,263.4 182.6,262.3 183.6,265.1 184.6,266.9 185.6,268.0 186.6,268.6 187.6,267.5 188.6,267.1 189.6,265.9 190.6,265.2 191.6,264.4 192.6,262.4 193.6,263.8 194.6,264.9 195.6,266.9 196.6,268.9 197.6,269.9 198.6,270.1 199.6,273.0 200.6,275.4 201.6,277.8 202.6,280.4 203.6,283.3 204.6,287.6 205.6,292.0 206.6,295.8 207.6,299.2 208.6,301.9 209.6,303.4 210.6,300.9 211.6,298.3 212.6,295.6 213.6,292.5 214.6,289.4 215.6,286.6 216.6,284.1 217.6,280.9 218.6,280.8 219.6,282.5 220.6,285.3 221.6,287.3 222.6,289.5 223.6,292.0 224.6,295.1 225.6,298.6 226.6,301.1 227.6,303.4 228.6,306.0 229.6,308.8 230.6,309.7 231.6,305.3 232.6,298.7 233.6,292.8 234.6,287.1 235.6,280.3 236.6,273.3 237.6,265.6 238.6,259.4 239.6,253.8 240.6,249.9 241.6,248.5 242.6,250.3 243.6,253.2 244.6,257.7 245.6,263.0 246.6,269.4 247.6,276.8 248.6,285.3 249.6,292.3 250.6,299.0 251.6,304.6 252.6,310.4 253.6,304.2 254.6,295.5 255.6,291.1 256.6,286.3 257.6,280.5 258.6,269.9 259.6,260.8 260.6,256.8 261.6,258.3 262.6,260.9 263.6,263.7 264.6,267.1 265.6,270.3 266.6,273.9 267.6,276.8 268.6,277.4 269.6,273.3 270.6,269.0 271.6,263.8 272.6,260.1 273.6,255.1 274.6,249.6 275.6,244.5 276.6,240.3 277.6,238.3 278.6,236.3 279.6,234.2 280.6,232.4 281.6,234.3 282.6,237.7 283.6,241.4 284.6,245.1 285.6,249.7 286.6,253.8 287.6,258.1 288.6,261.9 289.6,258.4 290.6,247.3 291.6,236.0 292.6,226.8 293.6,221.2 294.6,211.2 295.6,199.5 296.6,188.2 297.6,188.4 298.6,198.2 299.6,204.8 300.6,211.8 301.6,220.6 302.6,236.2 303.6,251.9 304.6,263.7 305.6,274.7 306.6,283.2 307.6,289.8 308.6,259.6 309.6,254.3 310.6,253.8 311.6,253.1 312.6,235.4 313.6,215.3 314.6,221.5 315.6,228.4 316.6,237.0 317.6,245.9 318.6,253.9 319.6,261.5 320.6,267.5 321.6,273.0 322.6,277.8 323.6,280.9 324.6,278.4 325.6,271.0 326.6,261.3 327.6,251.3 328.6,243.9 329.6,240.4 330.6,233.0 331.6,223.8 332.6,221.1 333.6,225.8 334.6,231.2 335.6,239.4 336.6,243.3 337.6,263.6 338.6,266.0 339.6,268.8 340.6,271.5 341.6,272.2 342.6,273.1 343.6,274.1 344.6,275.1 345.6,278.2 346.6,282.2 347.6,284.3 348.6,286.3 349.6,288.0 350.6,289.2 351.6,290.2 352.6,291.1 353.6,291.8 354.6,291.9 355.6,291.9 356.6,291.9 357.6,293.7 358.6,296.7 359.6,299.3 360.6,301.3 361.6,303.3 362.6,305.3 363.6,308.4 364.6,311.7 365.6,314.4 366.6,315.6 367.6,315.9 368.6,315.9 369.6,315.6 370.6,314.6 371.6,316.1 372.6,317.2 373.6,317.7 374.6,317.9 375.6,317.9 376.6,317.9 377.6,317.9 378.6,317.9 379.6,318.1 380.6,318.4 381.6,318.7 382.6,319.1 383.6,319.4 384.6,320.0 385.6,320.7 386.6,321.3 387.6,321.5 388.6,321.3 389.6,320.6 390.6,317.7 391.6,312.3 392.6,307.0 393.6,304.4 394.6,305.7 395.6,307.0 396.6,308.1 397.6,308.5 398.6,308.7 399.6,308.5 400.6,307.9 401.6,306.6 402.6,305.2 403.6,303.9 404.6,303.7 405.6,306.3 406.6,309.0 407.6,310.1 408.6,310.6 409.6,310.8 410.6,310.8 411.6,310.8 412.6,310.8 413.6,310.8 414.6,311.1 415.6,313.1 416.6,321.1 417.6,357.4 418.6,366.6 419.6,374.2 420.6,379.3 421.6,381.9 422.6,382.6 423.6,382.8 424.6,382.6 425.6,381.9 426.6,380.2 427.6,378.2 428.6,376.5 429.6,375.9 430.6,375.2 431.6,374.4 432.6,373.7 433.6,372.7 434.6,365.9 435.6,353.7 436.6,349.8 437.6,350.0 438.6,349.8 439.6,349.2 440.6,347.8 441.6,344.5 442.6,344.6 443.6,344.4 444.6,343.9 445.6,343.2 446.6,342.4 447.6,341.0 448.6,335.0 449.6,328.1 450.6,319.1 451.6,306.6 452.6,299.1 453.6,297.2 454.6,296.6 455.6,295.9 456.6,295.0 457.6,294.0 458.6,293.0 459.6,292.0 460.6,291.0 461.6,290.0 462.6,289.0 463.6,287.8 464.6,285.5 465.6,283.7 466.6,283.7 467.6,283.5 468.6,282.9 469.6,281.2 470.6,279.2 471.6,277.2 472.6,260.2 473.6,254.2 474.6,251.6 475.6,251.6 476.6,251.2 477.6,250.1 478.6,247.7 479.6,244.3 480.6,241.0 481.6,237.0 482.6,234.2 483.6,233.6 484.6,235.7 485.6,237.7 486.6,239.5 487.6,270.3 488.6,274.7 489.6,277.3 490.6,280.0 491.6,282.1 492.6,284.1 493.6,286.1 494.6,287.8 495.6,288.5 496.6,288.7 497.6,288.5 498.6,288.1 499.6,287.0 500.6,283.6 501.6,288.0 502.6,294.0 503.6,300.0 504.6,306.0 505.6,309.8 506.6,311.2 507.6,312.5 508.6,322.1 509.6,341.2 510.6,347.4 511.6,352.2 512.6,353.6 513.6,354.6 514.6,355.6 515.6,356.6 516.6,357.8 517.6,358.7 518.6,359.5 519.6,361.0 520.6,362.5 521.6,365.5 522.6,371.5 523.6,375.0 524.6,375.8 525.6,376.6 526.6,377.3 527.6,377.5 528.6,377.3 529.6,376.6 530.6,374.8 531.6,371.7 532.6,366.4 533.6,364.1 534.6,364.5 535.6,364.5 536.6,364.1 537.6,363.3 538.6,362.5 539.6,361.7 540.6,360.7 541.6,358.7 542.6,352.0 543.6,345.4 544.6,331.5 545.6,307.5 546.6,292.5 547.6,297.5 548.6,302.1 549.6,306.1 550.6,307.9 551.6,308.6 552.6,308.7 553.6,308.6 554.6,307.9 555.6,306.6 556.6,305.2 557.6,303.9 558.6,300.6 559.6,297.3 560.6,294.1 561.6,291.4 562.6,288.8 563.6,284.1 564.6,278.1 565.6,274.8 566.6,272.1 567.6,269.6 568.6,267.6 569.6,265.6 570.6,262.3 571.6,257.3 572.6,250.3 573.6,242.3 574.6,239.4 575.6,237.3 576.6,233.3 577.6,229.7 578.6,226.9 579.6,224.3 580.6,212.6 581.6,211.9 582.6,209.1 583.6,204.7 584.6,202.1 585.6,203.3 586.6,204.4 587.6,204.7 588.6,204.7 589.6,204.4 590.6,203.3 591.6,199.9 592.6,196.1 593.6,192.0 594.6,181.0 595.6,176.7 596.6,173.3 597.6,170.6 598.6,168.2 599.6,166.1 600.6,165.0 601.6,163.9 602.6,158.1 603.6,148.1 604.6,140.0 605.6,135.5 606.6,138.4 607.6,139.5 608.6,139.9 609.6,141.5 610.6,146.0 611.6,165.2 612.6,172.6 613.6,184.3 614.6,194.6 615.6,195.7 616.6,197.4 617.6,201.3 618.6,208.3 619.6,210.4 620.6,211.1 621.6,211.3 622.6,211.1 623.6,210.4 624.6,207.0 625.6,201.5 626.6,190.7 627.6,178.0 628.6,153.3 629.6,147.3 630.6,135.0 631.6,142.0 632.6,153.5 633.6,157.5 634.6,161.5 635.6,167.6 636.6,177.6 637.6,196.6 638.6,206.9 639.6,234.7 640.6,247.6 641.6,254.6 642.6,261.2 643.6,267.2 644.6,279.0 645.6,289.6 646.6,297.6 647.6,302.3 648.6,302.9 649.6,303.1 650.6,302.9 651.6,302.3 652.6,284.0 653.6,282.7 654.6,282.9 655.6,283.3 656.6,283.3 657.6,283.1 658.6,282.6 659.6,282.1 660.6,281.6 661.6,281.1 662.6,280.6 663.6,280.0 664.6,278.9 665.6,277.7 666.6,277.0 667.6,278.0 668.6,280.7 669.6,283.3 670.6,288.3 671.6,294.3 672.6,299.4 673.6,304.8 674.6,312.0 675.6,316.7 676.6,321.4 677.6,325.0 678.6,327.6 679.6,330.3 680.6,331.4 681.6,331.8 682.6,331.9 683.6,331.7 684.6,331.1 685.6,330.1 686.6,329.1 687.6,328.1 688.6,326.8 689.6,325.4 690.6,324.1 691.6,315.4 692.6,302.4 693.6,291.8 694.6,277.2 695.6,251.4 696.6,246.4 697.6,242.5 698.6,246.5 699.6,247.9 700.6,249.2 701.6,250.6 702.6,251.2 703.6,251.4 704.6,251.2 705.6,254.7 706.6,256.4 707.6,257.1 708.6,257.7 709.6,258.1 710.6,258.2 711.6,258.0 712.6,257.4 713.6,256.2 714.6,253.3 715.6,250.4 716.6,246.6 717.6,241.8 718.6,246.3 719.6,252.1 720.6,257.1 721.6,261.5 722.6,265.5 723.6,268.4 724.6,271.1 725.6,273.5 726.6,274.8 727.6,276.0 728.6,276.7 729.6,276.9 730.6,276.7 731.6,275.3 732.6,272.8 733.6,267.5 734.6,262.0 735.6,256.5 736.6,254.4 737.6,255.2 738.6,256.2 739.6,257.2 740.6,258.0 741.6,258.4 742.6,258.4 743.6,258.1 744.6,257.5 745.6,256.6 746.6,256.8 747.6,256.8 748.6,256.7 749.6,256.0 750.6,252.8 751.6,246.8 752.6,244.7 753.6,247.9 754.6,249.6 755.6,251.8 756.6,253.6 757.6,254.9 758.6,255.8 759.6,256.5 760.6,256.9 761.6,256.9 762.6,256.5 763.6,250.9 764.6,240.4 765.6,230.7 766.6,218.1 767.6,209.2 768.6,203.5 769.6,205.9 770.6,208.3 771.6,211.3 772.6,216.2 773.6,221.9 774.6,226.1 775.6,229.5 776.6,230.6 777.6,231.0 778.6,231.0 779.6,231.9 780.6,233.4 781.6,234.5 782.6,234.9 783.6,235.0 784.6,234.9 785.6,234.2 786.6,231.0 787.6,226.0 788.6,213.9 789.6,207.9 790.6,203.1 791.6,200.4 792.6,197.4 793.6,197.7 794.6,198.0 795.6,198.0 796.6,197.8 797.6,197.2 798.6,196.1 799.6,190.1 800.6,170.5 801.6,168.7 802.6,167.9 803.6,165.6 804.6,161.6 805.6,148.7 806.6,137.3 807.6,132.1 808.6,134.4 809.6,137.4 810.6,142.5 811.6,148.5 812.6,149.6 813.6,150.0 814.6,150.0 815.6,149.6 816.6,148.5 817.6,146.3 818.6,143.3 819.6,143.0 820.6,142.9 821.6,142.2 822.6,140.0 823.6,137.0 824.6,128.2 825.6,114.7 826.6,96.8 827.6,99.9 828.6,104.0 829.6,111.3 830.6,121.3 831.6,131.3 832.6,140.3 833.6,147.7 834.6,152.5 835.6,153.6 836.6,153.9 837.6,153.9 838.6,153.6 839.6,152.6 840.6,152.1 841.6,152.7 842.6,154.4 843.6,158.4 844.6,180.7 845.6,181.8 846.6,182.2 847.6,182.2 848.6,181.8 849.6,180.7 850.6,181.6 851.6,182.5 852.6,182.9 853.6,183.3 854.6,184.1 855.6,185.1 856.6,195.6 857.6,196.7 858.6,197.1 859.6,197.1 860.6,196.7 861.6,196.0 862.6,195.3 863.6,194.6 864.6,188.9 865.6,189.6 866.6,190.3 867.6,190.9 868.6,191.6 869.6,192.3 870.6,192.9 871.6,193.3 872.6,193.3 873.6,192.9 874.6,191.8 875.6,181.4 876.6,162.4 877.6,153.6 878.6,155.6 879.6,157.6 880.6,159.6 881.6,164.3 882.6,169.3 883.6,174.3 884.6,179.7 885.6,185.7 886.6,189.1 887.6,189.7 888.6,189.9 889.6,189.7 890.6,189.1 891.6,187.4 892.6,185.4 893.6,180.4 894.6,174.4 895.6,172.2 896.6,190.4 897.6,208.0 898.6,217.7 899.6,225.7 900.6,227.8 901.6,230.7 902.6,233.3 903.6,234.0 904.6,234.1 905.6,234.0 906.6,233.3 907.6,231.6 908.6,229.3 909.6,217.4 910.6,198.9 911.6,208.5 912.6,212.2 913.6,218.8 914.6,221.6 915.6,222.3 916.6,223.0 917.6,226.1 918.6,229.4 919.6,231.6 920.6,232.2 921.6,232.4 922.6,232.2 923.6,231.6 924.6,230.3 925.6,228.2 926.6,226.8 927.6,218.3 928.6,207.3 929.6,192.8 930.6,194.8 931.6,204.8 932.6,210.7 933.6,211.3 934.6,211.5 935.6,214.6 936.6,217.8 937.6,219.8 938.6,221.8 939.6,223.8 940.6,225.3 941.6,226.2 942.6,229.1 943.6,232.8 944.6,235.0 945.6,236.8 946.6,238.0 947.6,238.7 948.6,239.1 949.6,239.4 950.6,239.7 951.6,240.2 952.6,240.6 953.6,240.8 954.6,241.2 955.6,241.2 956.6,241.1 957.6,241.0 958.6,240.8 959.6,241.1 960.6,241.8 961.6,242.6 962.6,243.2 963.6,243.5 964.6,243.7 965.6,243.9 966.6,244.9 967.6,246.0 968.6,246.4 969.6,246.4 970.6,246.0 971.6,245.3 972.6,243.5 973.6,242.2 974.6,240.4 975.6,239.5 976.6,239.9 977.6,241.0 978.6,242.1 979.6,242.6 980.6,242.8 981.6,243.1 982.6,243.3 983.6,243.1 984.6,242.5 985.6,241.6 986.6,240.8 987.6,239.8 988.6,238.7 989.6,238.8 990.6,239.5 991.6,239.9 992.6,240.0 993.6,239.8 994.6,239.3 995.6,238.5 996.6,239.6 997.6,241.0 998.6,241.6 999.6,241.8 1000.6,241.6 1001.6,241.2 1002.6,240.4 1003.6,239.3 1004.6,238.0 1005.6,237.8 1006.6,237.6 1007.6,237.2 1008.6,240.5 1009.6,243.9 1010.6,245.3 1011.6,246.3 1012.6,247.2 1013.6,247.8 1014.6,248.0 1015.6,248.0 1016.6,247.6 1017.6,247.1 1018.6,246.9 1019.6,246.4 1020.6,245.8 1021.6,245.1 1022.6,244.0 1023.6,238.4 1024.6,233.3 1025.6,232.3 1026.6,230.7 1027.6,228.7 1028.6,227.4 1029.6,234.1 1030.6,237.5 1031.6,239.8 1032.6,240.5 1033.6,240.7 1034.6,240.6 1035.6,242.2 1036.6,244.0 1037.6,247.3 1038.6,249.5 1039.6,250.6 1040.6,251.3 1041.6,252.0 1042.6,252.4 1043.6,252.4 1044.6,252.2 1045.6,251.5 1046.6,249.8 1047.6,247.7 1048.6,245.5 1049.6,244.6 1050.6,244.8 1051.6,245.2 1052.6,245.4 1053.6,245.4 1054.6,245.3 1055.6,246.1 1056.6,246.9 1057.6,247.9 1058.6,249.3 1059.6,250.6 1060.6,251.2 1061.6,251.4 1062.6,251.3 1063.6,251.2 1064.6,250.8 1065.6,250.2 1066.6,249.4 1067.6,249.1 1068.6,249.0 1069.6,249.8 1070.6,250.2 1071.6,250.2 1072.6,249.8 1073.6,249.1 1074.6,247.9 1075.6,246.5 1076.6,244.7 1077.6,242.5 1078.6,241.0 1079.6,241.8 1080.6,243.7 1081.6,245.7 1082.6,247.1 1083.6,249.0 1084.6,250.5 1085.6,251.5 1086.6,253.4 1087.6,254.5 1088.6,254.9 1089.6,254.9 1090.6,254.5 1091.6,253.4 1092.6,251.5 1093.6,250.6 1094.6,251.2 1095.6,251.4 1096.6,251.2 1097.6,250.6 1098.6,249.8 1099.6,249.3 1100.6,248.5 1101.6,247.6 1102.6,246.3 1103.6,244.1 1104.6,230.5 1105.6,209.1 1106.6,215.2 1107.6,217.5 1108.6,219.4 1109.6,220.1 1110.6,220.5 1111.6,221.3 1112.6,223.4 1113.6,228.6 1114.6,235.6 1115.6,240.0 1116.6,243.5 1117.6,246.4 1118.6,248.4 1119.6,249.1 1120.6,249.3 1121.6,249.1 1122.6,248.4 1123.6,246.8 1124.6,247.7 1125.6,248.4 1126.6,249.0 1127.6,249.2 1128.6,249.0 1129.6,248.3 1130.6,245.7 1131.6,240.5 1132.6,238.5 1133.6,239.0 1134.6,242.1 1135.6,246.3 1136.6,249.4 1137.6,252.3 1138.6,253.4 1139.6,254.1 1140.6,254.2 1141.6,254.7 1142.6,255.3 1143.6,255.6 1144.6,255.6 1145.6,255.4 1146.6,255.0 1147.6,254.1 1148.6,252.6 1149.6,250.4 1150.6,248.2 1151.6,247.1 1152.6,237.7 1153.6,237.5 1154.6,237.6 1155.6,237.5 1156.6,237.2 1157.6,237.0 1158.6,236.7 1159.6,236.5 1160.6,236.1 1161.6,235.4 1162.6,234.6 1163.6,233.6 1164.6,232.3 1165.6,231.4 1166.6,230.3 1167.6,227.7 1168.6,227.6 1169.6,228.6 1170.6,229.6 1171.6,232.8 1172.6,236.5 1173.6,237.9 1174.6,239.2 1175.6,240.2 1176.6,240.9 1177.6,242.0 1178.6,243.3 1179.6,244.0 1180.6,244.4 1181.6,244.7 1182.6,244.8 1183.6,244.8 1184.6,244.7 1185.6,244.3 1186.6,243.2 1187.6,242.1 1188.6,242.0 1189.6,247.3 1190.6,250.7 1191.6,251.6 1192.6,252.0 1193.6,252.8 1194.6,253.4 1195.6,254.2 1196.6,254.8 1197.6,255.1 1198.6,255.3 1199.6,255.3 1200.6,255.0 1201.6,254.7 1202.6,256.1 1203.6,257.4 1204.6,258.0 1205.6,258.2 1206.6,258.1 1207.6,257.7 1208.6,257.0 1209.6,255.8 1210.6,254.3 1211.6,252.6 1212.6,251.4 1213.6,253.0 1214.6,254.3 1215.6,255.1 1216.6,255.6 1217.6,255.8 1218.6,255.8 1219.6,255.4 1220.6,254.8 1221.6,253.7 1222.6,252.3 1223.6,251.5 1224.6,251.3 1225.6,251.2 1226.6,251.5 1227.6,251.5 1228.6,251.1 1229.6,250.0 1230.6,247.7 1231.6,246.2 1232.6,245.2 1233.6,245.1 1234.6,246.2 1235.6,246.6 1236.6,246.6 1237.6,246.6 1238.6,246.6 1239.6,247.0 1240.6,248.5 1241.6,251.6 1242.6,255.9 1243.6,257.6 1244.6,259.1 1245.6,260.3 1246.6,260.9 1247.6,261.4 1248.6,261.6 1249.6,261.4 1250.6,260.7 1251.6,259.1 1252.6,256.3 1253.6,254.5 1254.6,253.1 1255.6,251.8 1256.6,250.3 1257.6,246.7 1258.6,248.1 1259.6,249.2 1260.6,250.6 1261.6,251.2 1262.6,251.6 1263.6,251.6 1264.6,251.2 1265.6,250.1 1266.6,250.8 1267.6,251.6 1268.6,252.1 1269.6,252.3 1270.6,252.3 1271.6,251.9 1272.6,250.8 1273.6,248.2 1274.6,246.1 1275.6,241.4 1276.6,232.5 1277.6,231.5 1278.6,230.1 1279.6,230.2 1280.6,231.0 1281.6,231.7 1282.6,235.8 1283.6,237.3 1284.6,238.0 1285.6,238.7 1286.6,242.9 1287.6,246.5 1288.6,249.2 1289.6,250.6 1290.6,251.9 1291.6,252.9 1292.6,253.4 1293.6,253.6 1294.6,253.5 1295.6,253.6 1296.6,253.6 1297.6,253.5 1298.6,254.2 1299.6,254.4 1300.6,254.2 1301.6,253.5 1302.6,251.6 1303.6,249.4 1304.6,243.7 1305.6,243.1 1306.6,242.9 1307.6,242.6 1308.6,241.9 1309.6,240.5 1310.6,240.7 1311.6,242.0 1312.6,243.8 1313.6,246.4 1314.6,250.7 1315.6,254.6 1316.6,255.3 1317.6,255.5 1318.6,255.3 1319.6,255.6 1320.6,255.9 1321.6,255.9 1322.6,255.6 1323.6,255.0 1324.6,254.4 1325.6,253.7 1326.6,251.8 1327.6,248.8 1328.6,249.9 1329.6,250.3 1330.6,250.5 1331.6,251.3 1332.6,252.9 1333.6,253.6 1334.6,253.8 1335.6,253.6 1336.6,253.0 1337.6,252.9 1338.6,252.8 1339.6,252.5 1340.6,251.8 1341.6,251.0 1342.6,250.0 1343.6,248.4 1344.6,246.4 1345.6,246.3 1346.6,247.4 1347.6,266.5 1348.6,266.4 1349.6,266.3 1350.6,266.2 1351.6,266.1 1352.6,265.9 1353.6,249.6 1354.6,249.0 1355.6,247.6 1356.6,243.7 1357.6,239.3 1358.6,240.7 1359.6,241.5 1360.6,242.7 1361.6,246.3 1362.6,250.0 1363.6,251.8 1364.6,253.3 1365.6,254.5 1366.6,255.2 1367.6,255.3 1368.6,255.2 1369.6,254.7 1370.6,253.8 1371.6,252.4 1372.6,250.8 1373.6,251.1 1374.6,251.1 1375.6,250.9 1376.6,251.6 1377.6,252.7 1378.6,253.4 1379.6,253.8 1380.6,254.0 1381.6,254.0 1382.6,253.8 1383.6,253.1 1384.6,252.0 1385.6,252.6 1386.6,253.2 1387.6,253.7 1388.6,253.9 1389.6,253.7 1390.6,254.0 1391.6,255.2 1392.6,256.1 1393.6,256.6 1394.6,257.0 1395.6,257.1 1396.6,257.1 1397.6,256.9 1398.6,256.6 1399.6,256.3 1400.6,255.9 1401.6,255.3 1402.6,254.2 1403.6,253.1 1404.6,252.6 1405.6,252.2 1406.6,251.7 1407.6,251.3 1408.6,251.3 1409.6,251.2 1410.6,250.9 1411.6,250.6 1412.6,250.1 1413.6,249.5 1414.6,249.0 1415.6,249.1 1416.6,249.1 1417.6,249.2 1418.6,249.3 1419.6,249.4 1420.6,250.3 1421.6,252.0 1422.6,253.1 1423.6,253.7 1424.6,254.1 1425.6,254.3 1426.6,254.4 1427.6,254.4 1428.6,254.3 1429.6,254.0 1430.6,254.1 1431.6,254.1 1432.6,253.9 1433.6,253.2 1434.6,252.6 1435.6,254.5 1436.6,255.8 1437.6,256.5 1438.6,256.9 1439.6,257.3 1440.6,257.4 1441.6,258.4 1442.6,259.0 1443.6,259.2 1444.6,259.2 1445.6,258.8 1446.6,258.1 1447.6,256.9 1448.6,255.4 1449.6,256.6 1450.6,257.8 1451.6,258.6 1452.6,258.9 1453.6,259.1 1454.6,258.9 1455.6,258.5 1456.6,257.5 1457.6,256.5 1458.6,257.4 1459.6,265.2 1460.6,265.2 1461.6,265.2 1462.6,265.2 1462.6,265.2 1461.6,265.2 1460.6,265.2 1459.6,265.2 1458.6,269.1 1457.6,268.7 1456.6,268.7 1455.6,269.0 1454.6,269.7 1453.6,270.6 1452.6,269.8 1451.6,269.0 1450.6,268.5 1449.6,268.3 1448.6,268.3 1447.6,268.4 1446.6,268.9 1445.6,269.6 1444.6,270.8 1443.6,271.5 1442.6,270.9 1441.6,270.6 1440.6,270.6 1439.6,270.7 1438.6,268.9 1437.6,267.3 1436.6,266.1 1435.6,265.3 1434.6,264.4 1433.6,263.7 1432.6,263.4 1431.6,263.4 1430.6,263.5 1429.6,263.3 1428.6,263.5 1427.6,264.2 1426.6,265.9 1425.6,264.6 1424.6,262.8 1423.6,260.9 1422.6,259.0 1421.6,257.6 1420.6,257.0 1419.6,256.8 1418.6,257.0 1417.6,257.6 1416.6,258.4 1415.6,258.9 1414.6,259.8 1413.6,260.8 1412.6,260.9 1411.6,260.8 1410.6,260.8 1409.6,261.0 1408.6,261.4 1407.6,261.5 1406.6,261.3 1405.6,261.5 1404.6,262.0 1403.6,263.1 1402.6,264.6 1401.6,265.8 1400.6,266.4 1399.6,267.3 1398.6,268.7 1397.6,269.4 1396.6,269.6 1395.6,269.8 1394.6,268.8 1393.6,267.3 1392.6,266.0 1391.6,265.0 1390.6,264.0 1389.6,263.1 1388.6,261.9 1387.6,259.2 1386.6,258.1 1385.6,257.5 1384.6,257.4 1383.6,257.5 1382.6,258.2 1381.6,260.3 1380.6,262.7 1379.6,263.4 1378.6,262.4 1377.6,260.3 1376.6,257.7 1375.6,256.6 1374.6,256.2 1373.6,256.2 1372.6,256.6 1371.6,257.7 1370.6,260.4 1369.6,262.8 1368.6,265.9 1367.6,268.3 1366.6,266.3 1365.6,263.1 1364.6,260.5 1363.6,258.2 1362.6,255.3 1361.6,253.6 1360.6,252.9 1359.6,252.7 1358.6,252.9 1357.6,253.5 1356.6,254.0 1355.6,254.6 1354.6,255.7 1353.6,259.5 1352.6,265.9 1351.6,266.1 1350.6,266.2 1349.6,266.3 1348.6,266.4 1347.6,266.5 1346.6,261.3 1345.6,260.7 1344.6,260.5 1343.6,260.6 1342.6,261.0 1341.6,261.9 1340.6,263.0 1339.6,264.2 1338.6,265.6 1337.6,265.4 1336.6,265.2 1335.6,265.3 1334.6,265.6 1333.6,265.6 1332.6,264.2 1331.6,262.6 1330.6,261.5 1329.6,261.1 1328.6,261.1 1327.6,261.5 1326.6,262.2 1325.6,262.9 1324.6,264.0 1323.6,265.1 1322.6,266.5 1321.6,268.1 1320.6,268.4 1319.6,268.0 1318.6,267.1 1317.6,266.1 1316.6,263.4 1315.6,260.4 1314.6,258.0 1313.6,255.7 1312.6,254.6 1311.6,254.2 1310.6,254.0 1309.6,254.0 1308.6,254.2 1307.6,254.6 1306.6,255.1 1305.6,256.2 1304.6,259.1 1303.6,263.1 1302.6,267.0 1301.6,267.6 1300.6,267.1 1299.6,266.7 1298.6,266.6 1297.6,266.8 1296.6,267.3 1295.6,266.5 1294.6,266.1 1293.6,265.3 1292.6,263.8 1291.6,262.0 1290.6,258.9 1289.6,255.4 1288.6,254.3 1287.6,253.9 1286.6,253.7 1285.6,253.7 1284.6,253.8 1283.6,254.2 1282.6,254.9 1281.6,255.6 1280.6,256.5 1279.6,256.9 1278.6,256.9 1277.6,256.6 1276.6,256.5 1275.6,256.7 1274.6,256.9 1273.6,257.6 1272.6,258.8 1271.6,260.2 1270.6,261.7 1269.6,263.8 1268.6,265.2 1267.6,264.6 1266.6,263.2 1265.6,262.0 1264.6,260.8 1263.6,260.1 1262.6,259.1 1261.6,258.2 1260.6,257.8 1259.6,257.7 1258.6,257.3 1257.6,257.1 1256.6,257.3 1255.6,257.9 1254.6,259.9 1253.6,263.2 1252.6,267.5 1251.6,272.4 1250.6,283.3 1249.6,287.7 1248.6,291.7 1247.6,296.1 1246.6,299.9 1245.6,300.1 1244.6,290.0 1243.6,284.3 1242.6,278.6 1241.6,267.3 1240.6,260.0 1239.6,257.8 1238.6,257.1 1237.6,256.9 1236.6,256.8 1235.6,256.2 1234.6,255.7 1233.6,255.5 1232.6,255.4 1231.6,255.5 1230.6,255.7 1229.6,255.7 1228.6,256.0 1227.6,256.6 1226.6,257.1 1225.6,257.5 1224.6,258.5 1223.6,259.8 1222.6,261.1 1221.6,262.3 1220.6,263.7 1219.6,265.3 1218.6,266.8 1217.6,267.3 1216.6,265.9 1215.6,264.8 1214.6,264.0 1213.6,263.4 1212.6,263.0 1211.6,263.0 1210.6,263.4 1209.6,264.4 1208.6,266.6 1207.6,269.5 1206.6,274.3 1205.6,278.5 1204.6,276.6 1203.6,274.3 1202.6,273.2 1201.6,272.8 1200.6,272.8 1199.6,273.1 1198.6,273.3 1197.6,272.5 1196.6,272.0 1195.6,271.7 1194.6,271.7 1193.6,271.9 1192.6,272.1 1191.6,271.8 1190.6,271.2 1189.6,270.8 1188.6,269.6 1187.6,258.8 1186.6,256.3 1185.6,255.2 1184.6,254.8 1183.6,254.8 1182.6,255.2 1181.6,254.8 1180.6,254.2 1179.6,253.9 1178.6,253.7 1177.6,253.7 1176.6,253.9 1175.6,254.3 1174.6,254.5 1173.6,254.8 1172.6,254.3 1171.6,253.0 1170.6,252.4 1169.6,252.0 1168.6,252.0 1167.6,252.3 1166.6,252.4 1165.6,251.7 1164.6,251.3 1163.6,251.3 1162.6,251.5 1161.6,252.0 1160.6,252.9 1159.6,253.8 1158.6,254.8 1157.6,255.6 1156.6,256.3 1155.6,256.9 1154.6,258.1 1153.6,259.9 1152.6,261.2 1151.6,261.5 1150.6,261.8 1149.6,261.8 1148.6,262.2 1147.6,263.3 1146.6,274.9 1145.6,284.4 1144.6,286.8 1143.6,289.1 1142.6,288.7 1141.6,284.7 1140.6,279.0 1139.6,270.9 1138.6,258.7 1137.6,253.5 1136.6,252.0 1135.6,250.2 1134.6,249.1 1133.6,248.7 1132.6,248.7 1131.6,249.1 1130.6,249.9 1129.6,251.2 1128.6,251.8 1127.6,252.5 1126.6,259.2 1125.6,266.1 1124.6,264.7 1123.6,263.3 1122.6,259.1 1121.6,256.4 1120.6,255.7 1119.6,255.5 1118.6,254.5 1117.6,254.1 1116.6,253.8 1115.6,253.1 1114.6,252.2 1113.6,251.4 1112.6,250.8 1111.6,250.5 1110.6,250.5 1109.6,250.4 1108.6,249.5 1107.6,248.9 1106.6,248.6 1105.6,248.6 1104.6,249.0 1103.6,250.1 1102.6,252.1 1101.6,254.7 1100.6,258.0 1099.6,261.6 1098.6,265.2 1097.6,266.1 1096.6,266.2 1095.6,265.4 1094.6,265.0 1093.6,265.0 1092.6,265.2 1091.6,265.9 1090.6,270.5 1089.6,272.2 1088.6,268.1 1087.6,263.0 1086.6,260.2 1085.6,258.7 1084.6,256.6 1083.6,255.5 1082.6,254.9 1081.6,254.2 1080.6,253.0 1079.6,252.4 1078.6,252.2 1077.6,252.4 1076.6,253.0 1075.6,254.9 1074.6,259.2 1073.6,260.8 1072.6,259.4 1071.6,258.8 1070.6,258.6 1069.6,258.6 1068.6,259.0 1067.6,259.8 1066.6,260.4 1065.6,260.5 1064.6,260.8 1063.6,261.0 1062.6,259.8 1061.6,258.8 1060.6,258.1 1059.6,257.9 1058.6,257.4 1057.6,256.9 1056.6,256.4 1055.6,256.1 1054.6,256.1 1053.6,256.3 1052.6,256.5 1051.6,256.2 1050.6,256.0 1049.6,256.2 1048.6,256.8 1047.6,258.6 1046.6,260.3 1045.6,265.9 1044.6,273.1 1043.6,282.8 1042.6,292.8 1041.6,302.8 1040.6,297.4 1039.6,289.0 1038.6,269.8 1037.6,258.0 1036.6,256.9 1035.6,256.5 1034.6,256.5 1033.6,256.0 1032.6,255.2 1031.6,254.5 1030.6,254.0 1029.6,253.8 1028.6,253.6 1027.6,253.5 1026.6,253.5 1025.6,253.5 1024.6,253.5 1023.6,253.8 1022.6,254.5 1021.6,258.1 1020.6,263.5 1019.6,278.1 1018.6,283.4 1017.6,287.0 1016.6,287.4 1015.6,288.0 1014.6,289.2 1013.6,290.5 1012.6,300.7 1011.6,299.8 1010.6,296.6 1009.6,293.1 1008.6,264.3 1007.6,254.1 1006.6,253.4 1005.6,253.0 1004.6,252.5 1003.6,252.1 1002.6,252.1 1001.6,252.3 1000.6,252.9 999.6,253.7 998.6,252.8 997.6,252.3 996.6,252.1 995.6,252.1 994.6,252.3 993.6,252.7 992.6,252.2 991.6,251.2 990.6,250.4 989.6,250.0 988.6,249.9 987.6,250.1 986.6,250.7 985.6,251.6 984.6,252.6 983.6,253.6 982.6,253.9 981.6,254.1 980.6,254.2 979.6,253.3 978.6,252.6 977.6,252.1 976.6,251.9 975.6,251.9 974.6,252.0 973.6,252.3 972.6,252.7 971.6,253.4 970.6,254.6 969.6,254.9 968.6,255.0 967.6,255.3 966.6,255.3 965.6,255.1 964.6,254.1 963.6,253.0 962.6,251.9 961.6,251.1 960.6,250.7 959.6,250.7 958.6,250.9 957.6,251.3 956.6,252.0 955.6,252.5 954.6,252.2 953.6,252.0 952.6,251.8 951.6,251.6 950.6,251.8 949.6,252.1 948.6,250.1 947.6,248.4 946.6,247.3 945.6,246.6 944.6,246.4 943.6,246.4 942.6,246.8 941.6,247.9 940.6,249.4 939.6,248.7 938.6,247.2 937.6,246.2 936.6,245.7 935.6,245.5 934.6,245.7 933.6,245.5 932.6,245.2 931.6,245.0 930.6,245.2 929.6,245.6 928.6,245.5 927.6,245.0 926.6,244.8 925.6,244.8 924.6,245.1 923.6,245.8 922.6,247.6 921.6,252.7 920.6,257.0 919.6,253.5 918.6,252.4 917.6,251.8 916.6,251.6 915.6,251.6 914.6,248.4 913.6,244.5 912.6,238.6 911.6,234.4 910.6,233.3 909.6,232.9 908.6,232.9 907.6,233.3 906.6,234.4 905.6,236.2 904.6,237.1 903.6,236.7 902.6,236.6 901.6,234.0 900.6,231.0 899.6,227.4 898.6,224.2 897.6,222.3 896.6,221.7 895.6,221.3 894.6,221.2 893.6,221.2 892.6,217.5 891.6,213.0 890.6,207.7 889.6,204.6 888.6,202.8 887.6,200.7 886.6,199.6 885.6,199.2 884.6,199.1 883.6,199.1 882.6,198.7 881.6,198.5 880.6,198.5 879.6,198.9 878.6,199.6 877.6,200.7 876.6,202.4 875.6,204.3 874.6,205.8 873.6,207.5 872.6,210.3 871.6,214.1 870.6,218.3 869.6,222.6 868.6,225.8 867.6,223.3 866.6,220.7 865.6,218.8 864.6,217.4 863.6,215.9 862.6,214.9 861.6,214.2 860.6,214.0 859.6,213.9 858.6,214.1 857.6,214.7 856.6,215.7 855.6,216.1 854.6,216.3 853.6,217.0 852.6,216.1 851.6,215.0 850.6,214.6 849.6,214.6 848.6,215.0 847.6,215.9 846.6,214.4 845.6,210.9 844.6,208.6 843.6,207.9 842.6,205.1 841.6,203.7 840.6,202.4 839.6,201.4 838.6,199.4 837.6,197.4 836.6,192.0 835.6,187.3 834.6,183.3 833.6,174.5 832.6,164.5 831.6,156.8 830.6,155.7 829.6,155.3 828.6,155.3 827.6,155.7 826.6,156.8 825.6,167.9 824.6,182.9 823.6,192.9 822.6,197.7 821.6,197.3 820.6,197.3 819.6,197.7 818.6,198.8 817.6,201.8 816.6,204.4 815.6,204.8 814.6,204.2 813.6,203.7 812.6,203.2 811.6,202.7 810.6,202.3 809.6,202.2 808.6,202.4 807.6,203.0 806.6,204.4 805.6,205.7 804.6,207.1 803.6,212.7 802.6,218.7 801.6,224.7 800.6,230.0 799.6,234.0 798.6,238.0 797.6,241.4 796.6,240.1 795.6,238.7 794.6,238.1 793.6,237.9 792.6,238.1 791.6,238.7 790.6,240.2 789.6,241.9 788.6,247.2 787.6,257.5 786.6,264.2 785.6,273.1 784.6,274.4 783.6,268.4 782.6,265.8 781.6,264.4 780.6,263.0 779.6,257.0 778.6,251.3 777.6,246.6 776.6,242.0 775.6,237.1 774.6,232.2 773.6,227.1 772.6,221.6 771.6,216.7 770.6,215.6 769.6,215.2 768.6,215.2 767.6,215.6 766.6,218.1 765.6,230.7 764.6,240.4 763.6,250.9 762.6,257.3 761.6,267.3 760.6,270.9 759.6,268.7 758.6,266.1 757.6,265.0 756.6,264.3 755.6,264.1 754.6,264.3 753.6,265.0 752.6,267.7 751.6,271.6 750.6,275.5 749.6,279.5 748.6,283.5 747.6,286.7 746.6,285.6 745.6,285.2 744.6,285.1 743.6,285.3 742.6,285.8 741.6,286.3 740.6,286.8 739.6,282.0 738.6,271.3 737.6,270.2 736.6,269.8 735.6,269.7 734.6,269.8 733.6,270.5 732.6,272.8 731.6,275.3 730.6,280.0 729.6,285.3 728.6,289.9 727.6,293.3 726.6,294.2 725.6,289.5 724.6,284.8 723.6,281.0 722.6,277.6 721.6,274.3 720.6,272.1 719.6,270.1 718.6,268.4 717.6,267.6 716.6,267.2 715.6,267.2 714.6,267.6 713.6,268.3 712.6,268.9 711.6,269.8 710.6,273.5 709.6,279.6 708.6,284.2 707.6,288.3 706.6,292.4 705.6,293.1 704.6,293.8 703.6,292.4 702.6,289.0 701.6,285.5 700.6,282.7 699.6,280.7 698.6,280.0 697.6,279.9 696.6,280.0 695.6,280.7 694.6,283.7 693.6,291.8 692.6,302.4 691.6,315.4 690.6,325.0 689.6,333.7 688.6,338.7 687.6,344.1 686.6,351.1 685.6,362.0 684.6,373.2 683.6,380.2 682.6,383.5 681.6,385.5 680.6,387.9 679.6,397.9 678.6,407.9 677.6,417.9 676.6,415.3 675.6,406.5 674.6,396.3 673.6,390.3 672.6,377.2 671.6,354.7 670.6,344.3 669.6,339.8 668.6,338.6 667.6,337.8 666.6,337.1 665.6,336.4 664.6,336.0 663.6,336.0 662.6,336.4 661.6,337.5 660.6,340.3 659.6,351.4 658.6,369.9 657.6,366.7 656.6,358.6 655.6,353.6 654.6,350.7 653.6,350.0 652.6,349.3 651.6,348.9 650.6,348.9 649.6,349.1 648.6,346.2 647.6,341.8 646.6,335.8 645.6,328.8 644.6,321.0 643.6,312.6 642.6,294.5 641.6,269.9 640.6,260.9 639.6,255.7 638.6,254.8 637.6,254.3 636.6,251.7 635.6,238.6 634.6,207.7 633.6,206.6 632.6,206.2 631.6,206.2 630.6,206.6 629.6,207.5 628.6,208.5 627.6,215.3 626.6,239.3 625.6,254.9 624.6,256.2 623.6,257.4 622.6,258.4 621.6,257.1 620.6,252.1 619.6,246.1 618.6,241.0 617.6,235.4 616.6,220.4 615.6,206.7 614.6,196.7 613.6,189.5 612.6,185.0 611.6,180.4 610.6,177.0 609.6,173.7 608.6,168.6 607.6,165.0 606.6,163.9 605.6,163.5 604.6,163.5 603.6,163.9 602.6,165.0 601.6,167.0 600.6,169.8 599.6,173.4 598.6,177.4 597.6,181.2 596.6,183.9 595.6,186.7 594.6,189.0 593.6,192.0 592.6,196.1 591.6,199.9 590.6,207.1 589.6,217.5 588.6,226.7 587.6,235.1 586.6,240.5 585.6,245.7 584.6,248.2 583.6,250.7 582.6,252.7 581.6,252.7 580.6,252.7 579.6,253.1 578.6,253.8 577.6,254.5 576.6,255.2 575.6,263.8 574.6,280.5 573.6,287.5 572.6,292.2 571.6,295.5 570.6,298.9 569.6,308.5 568.6,293.9 567.6,293.2 566.6,293.0 565.6,293.2 564.6,293.9 563.6,297.1 562.6,302.1 561.6,349.0 560.6,350.1 559.6,354.1 558.6,358.4 557.6,363.0 556.6,362.6 555.6,362.6 554.6,363.0 553.6,364.1 552.6,365.9 551.6,367.9 550.6,370.9 549.6,377.4 548.6,378.8 547.6,379.2 546.6,379.9 545.6,381.4 544.6,383.1 543.6,389.0 542.6,397.5 541.6,404.5 540.6,411.9 539.6,419.9 538.6,430.2 537.6,437.9 536.6,438.8 535.6,438.2 534.6,438.0 533.6,438.2 532.6,438.8 531.6,439.7 530.6,440.8 529.6,451.1 528.6,471.4 527.6,480.0 526.6,479.4 525.6,477.4 524.6,469.3 523.6,454.0 522.6,451.7 521.6,449.7 520.6,446.8 519.6,441.8 518.6,439.0 517.6,436.5 516.6,434.3 515.6,432.3 514.6,430.3 513.6,426.3 512.6,422.1 511.6,417.1 510.6,413.7 509.6,412.3 508.6,411.0 507.6,406.9 506.6,401.9 505.6,397.9 504.6,392.6 503.6,383.6 502.6,382.5 501.6,382.0 500.6,381.5 499.6,381.0 498.6,380.6 497.6,380.4 496.6,380.4 495.6,380.4 494.6,380.4 493.6,380.4 492.6,380.6 491.6,381.1 490.6,382.0 489.6,383.0 488.6,333.4 487.6,308.0 486.6,298.4 485.6,293.4 484.6,292.3 483.6,291.7 482.6,291.2 481.6,291.0 480.6,291.2 479.6,291.8 478.6,292.5 477.6,293.1 476.6,293.8 475.6,294.5 474.6,295.6 473.6,297.0 472.6,298.3 471.6,302.0 470.6,308.0 469.6,312.6 468.6,316.6 467.6,322.4 466.6,325.0 465.6,325.4 464.6,325.8 463.6,314.5 462.6,313.8 461.6,313.6 460.6,313.8 459.6,314.5 458.6,318.7 457.6,326.1 456.6,336.1 455.6,343.5 454.6,346.2 453.6,348.8 452.6,352.3 451.6,356.1 450.6,359.5 449.6,362.0 448.6,365.6 447.6,373.6 446.6,388.7 445.6,408.7 444.6,417.3 443.6,422.3 442.6,423.8 441.6,424.8 440.6,425.8 439.6,426.8 438.6,427.8 437.6,428.8 436.6,429.9 435.6,431.2 434.6,432.5 433.6,433.5 432.6,434.1 431.6,434.9 430.6,436.6 429.6,440.0 428.6,443.3 427.6,451.3 426.6,462.3 425.6,467.3 424.6,461.3 423.6,454.7 422.6,447.7 421.6,446.6 420.6,446.0 419.6,445.8 418.6,446.0 417.6,446.7 416.6,448.7 415.6,451.4 414.6,453.6 413.6,454.6 412.6,455.6 411.6,456.7 410.6,455.4 409.6,435.4 408.6,420.9 407.6,414.9 406.6,411.8 405.6,411.1 404.6,410.9 403.6,411.1 402.6,411.6 401.6,412.1 400.6,412.6 399.6,413.1 398.6,413.6 397.6,414.1 396.6,414.6 395.6,415.1 394.6,415.6 393.6,415.8 392.6,415.3 391.6,412.7 390.6,410.0 389.6,406.2 388.6,401.5 387.6,396.9 386.6,394.5 385.6,392.5 384.6,390.5 383.6,388.8 382.6,388.2 381.6,387.8 380.6,387.8 379.6,388.2 378.6,388.7 377.6,389.2 376.6,389.7 375.6,390.3 374.6,391.0 373.6,391.6 372.6,392.3 371.6,393.0 370.6,393.7 369.6,394.7 368.6,395.7 367.6,396.7 366.6,395.0 365.6,392.3 364.6,386.1 363.6,378.5 362.6,372.5 361.6,370.7 360.6,370.0 359.6,369.8 358.6,370.0 357.6,370.5 356.6,371.0 355.6,371.5 354.6,371.3 353.6,368.7 352.6,366.0 351.6,362.7 350.6,359.4 349.6,345.5 348.6,336.3 347.6,327.6 346.6,319.6 345.6,312.5 344.6,305.9 343.6,299.2 342.6,290.1 341.6,280.8 340.6,272.6 339.6,268.8 338.6,266.0 337.6,263.6 336.6,243.3 335.6,239.4 334.6,231.2 333.6,225.8 332.6,221.1 331.6,223.8 330.6,233.0 329.6,240.4 328.6,243.9 327.6,251.3 326.6,261.3 325.6,271.0 324.6,278.4 323.6,280.9 322.6,277.8 321.6,273.0 320.6,267.5 319.6,261.5 318.6,253.9 317.6,245.9 316.6,237.0 315.6,228.4 314.6,221.5 313.6,215.3 312.6,235.4 311.6,253.1 310.6,253.8 309.6,254.3 308.6,259.6 307.6,289.8 306.6,283.2 305.6,274.7 304.6,263.7 303.6,251.9 302.6,236.2 301.6,220.6 300.6,211.8 299.6,204.8 298.6,198.2 297.6,188.4 296.6,188.2 295.6,199.5 294.6,211.2 293.6,221.2 292.6,226.8 291.6,236.0 290.6,247.3 289.6,258.4 288.6,261.9 287.6,258.1 286.6,253.8 285.6,249.7 284.6,245.1 283.6,241.4 282.6,237.7 281.6,234.3 280.6,233.2 279.6,234.2 278.6,236.3 277.6,238.3 276.6,240.3 275.6,244.5 274.6,249.6 273.6,255.1 272.6,260.1 271.6,263.8 270.6,269.0 269.6,273.3 268.6,277.4 267.6,276.8 266.6,273.9 265.6,270.3 264.6,267.1 263.6,263.7 262.6,260.9 261.6,258.3 260.6,256.8 259.6,260.8 258.6,269.9 257.6,280.5 256.6,286.3 255.6,291.1 254.6,295.5 253.6,304.2 252.6,310.4 251.6,304.6 250.6,299.0 249.6,292.3 248.6,285.3 247.6,276.8 246.6,269.4 245.6,263.0 244.6,257.7 243.6,253.2 242.6,250.3 241.6,248.5 240.6,249.9 239.6,253.8 238.6,259.4 237.6,265.6 236.6,273.3 235.6,280.3 234.6,287.1 233.6,292.8 232.6,298.7 231.6,305.3 230.6,309.7 229.6,308.8 228.6,306.0 227.6,303.4 226.6,301.1 225.6,298.6 224.6,295.1 223.6,292.0 222.6,289.5 221.6,287.3 220.6,285.3 219.6,284.2 218.6,283.8 217.6,283.5 216.6,284.1 215.6,286.6 214.6,289.4 213.6,292.5 212.6,295.6 211.6,298.3 210.6,300.9 209.6,303.4 208.6,301.9 207.6,299.2 206.6,295.8 205.6,292.0 204.6,287.6 203.6,283.3 202.6,280.4 201.6,277.8 200.6,275.4 199.6,273.6 198.6,272.9 197.6,271.0 196.6,268.9 195.6,266.9 194.6,264.9 193.6,263.8 192.6,262.4 191.6,264.4 190.6,265.2 189.6,265.9 188.6,267.1 187.6,267.5 186.6,277.7 185.6,290.7 184.6,297.6 183.6,297.3 182.6,297.3 181.6,293.3 180.6,289.2 179.6,281.5 178.6,274.7 177.6,268.3 176.6,261.6 175.6,254.9 174.6,252.2 173.6,251.6 172.6,251.4 171.6,251.6 170.6,252.2 169.6,254.9 168.6,258.9 167.6,262.9 166.6,279.1 165.6,294.1 164.6,297.3 163.6,299.8 162.6,298.9 161.6,297.5 160.6,295.7 159.6,294.0 158.6,292.5 157.6,290.9 156.6,289.4 155.6,286.5 154.6,283.3 153.6,279.8 152.6,274.8 151.6,269.8 150.6,266.7 149.6,266.0 148.6,265.8 147.6,266.0 146.6,266.7 145.6,270.4 144.6,278.2 143.6,293.9 142.6,313.9 141.6,322.0 140.6,319.2 139.6,310.2 138.6,300.2 137.6,284.6 136.6,269.5 135.6,267.3 134.6,264.8 133.6,261.7 132.6,258.5 131.6,255.4 130.6,254.3 129.6,253.9 128.6,253.9 127.6,254.3 126.6,255.4 125.6,263.6 124.6,276.6 123.6,284.9 122.6,292.9 121.6,299.1 120.6,297.6 119.6,264.6 118.6,264.6 117.6,264.6 116.6,264.6" fill="#1f77b4" stroke="#1f77b4" stroke-width="5.6" stroke-linejoin="round"/>
<path d="M117.4 263.1h0m.5-7.2h0m.5 49.9h0m.3-5.7h0m0-42.9h0m.6 45h0m.3 3.6h0m.1-52.9h0m.2 49.9h0m.4-43.7h0m.3 54.7h0m.1-56.6h0m.2 48.4h0m.2-52.4h0m0-2.2h0m.3 57.2h0m.2 7.9h0m.1-11.7h0m0-48.6h0m.1 1.2h0m.3 51.9h0m.1-4.3h0m.1 4.1h0m.2-55.6h0m0 44.1h0m0 12.2h0m.2-62.8h0m.1 62.1h0m.2 2.3h0m1-6.6h0m.1-4.7h0m.3-1.8h0m.1-56h0m.1 58.9h0m.4-62.2h0m.1 58.3h0m.5-70.5h0m.2 64h0m0-60.9h0m0-4.6h0m.2 64.3h0m.6-7.9h0m.3 0h0m.1-52.3h0m0-2.9h0m.4 9.6h0m0 46.4h0m.2-53.5h0m.1-9.9h0m.3 54.4h0m0-4.9h0m.1-48h0m0 43h0m0-2.9h0m.1-28.4h0m.4 34.6h0m.9-38.6h0m.4 34.1h0m0 5h0m.2-36.8h0m.1 1.8h0m.2 26.7h0m0-26.7h0m.1 2.7h0m.3-2.1h0m0 36.8h0m.1-45.4h0m.1 4.2h0m.1 38h0m.1-36.4h0m.1 31.6h0m.8-32.3h0m.2 43.6h0m.6-28h0m.4-9.2h0m.3 10.6h0m.1 30.5h0m.1-34h0m.3 11.5h0m.1-4.5h0m.1 4.6h0m1.3 55.7h0m1-53.7h0m.5-6.4h0m.6 65.8h0m.1-65.7h0m.1 66.1h0m.2 8.7h0m.2 .9h0m.1-69.3h0m.6 75.2h0m.2-16.5h0m.1-66.3h0m.1 72.5h0m0-63.3h0m0 81.5h0m.1-8.7h0m.1-77.1h0m0-4.1h0m.4 77.7h0m.4-4.2h0m.1 11.6h0m.1-6.1h0m.2-76.6h0m.6 77h0m.3 2.5h0m.2-7.4h0m0-71.6h0m.3-8.1h0m0 3.2h0m.2 2.9h0m0 0h0m0-1.7h0m.4-2.4h0m.4-.5h0m0 83.2h0m0-.6h0m0 1.2h0m.2-2h0m.1-80.2h0m0 78.5h0m0-82.6h0m.9 81.9h0m.2-81.5h0m.5 .6h0m.2 1.5h0m.1-1.1h0m.3 54.2h0m.2-58.4h0m0 61.3h0m.3-14.4h0m0 14.7h0m.1-57.1h0m.3 56.5h0m.1-13.9h0m.1 5.3h0m.4-19h0m.7 1.3h0m.2-2.7h0m.6-1.6h0m.3 5.7h0m0-30.8h0m.3 26.1h0m.3 7.8h0m0-29.7h0m.1 2.6h0m.1 26.5h0m.2 2.1h0m.3-28.5h0m.3 24.7h0m.4-23.2h0m.5 2.9h0m.1 27.2h0m1.3-35.2h0m.2 8h0m.4 31.1h0m0 1.5h0m0-.8h0m.2-24.7h0m.5 29.1h0m.2 2.3h0m.1-34.3h0m.6 4.5h0m0-3.9h0m.9 35.8h0m.1-26.5h0m.1 23.3h0m0-22.9h0m1 9.7h0m.7 15.4h0m.1 4.1h0m.1-25.7h0m.3 25.6h0m.8-1h0m.8-16.3h0m.3 0h0m.3-10.5h0m.1-18.5h0m.3 45.8h0m.2-52.3h0m.4-3.5h0m.1 56.8h0m.5-.5h0m0-57.1h0m.1 3.4h0m0 2.6h0m.1 58.6h0m.1-3.7h0m.1-1.9h0m0-67h0m.2 3.1h0m.3 69.6h0m.1-.4h0m.2-88.9h0m0 10.7h0m.2 2.9h0m.1 8.5h0m.2-1.3h0m.2 62.6h0m0-61.6h0m.2-1.9h0m.1-5.3h0m.2 70.9h0m.2-67.3h0m0 62.9h0m1.1-.7h0m0-69.1h0m.8 .9h0m.1 71.2h0m.1-73h0m0-3.8h0m.2 .4h0m.6 73.3h0m.2-4.2h0m.7-66h0m.5 48.7h0m.4-2h0m0-51.4h0m0 60.7h0m.3-7.8h0m.3-53.8h0m.1 41.2h0m.3 5.5h0m.2-44.4h0m.6 35.9h0m.3-34.7h0m.2 39.9h0m.1-10h0m.2 5.9h0m0-40.8h0m0 35.5h0m.3-30.3h0m.1 7.3h0m.7 30h0m.3-5.3h0m.1 11.1h0m.9-5.7h0m.1-33.1h0m0 .8h0m.3 39.6h0m.2 .8h0m.3-37.8h0m.5-3h0m.2 10.4h0m.1 45.4h0m.1-52.1h0m.2 3.1h0m.1 48.2h0m0-5.4h0m.1-42h0m.3 38.6h0m.1-39.8h0m.2 9.7h0m.3 44.9h0m.2-39.4h0m.6-1.8h0m.2 42.6h0m.4-3h0m.1-37h0m.8 1.5h0m.1 39.5h0m.1 3.6h0m.3-36.8h0m.1-7.2h0m.2 43.8h0m.1-2.5h0m.5-42.7h0m1.1-3.8h0m.1 8.3h0m.1 44.5h0m.3-3.6h0m.1 4.3h0m.2-1.6h0m.3-1.4h0m.1-39.7h0m.6-4.3h0m.8 48.7h0m.5-52h0m.1 42.2h0m0 6h0m0 4.7h0m.6 7.6h0m0 8.1h0m.5-55.6h0m0-3.5h0m.2 41h0m.2-36.7h0m.1 .4h0m0-.9h0m1-5h0m.1 27h0m.8-3h0m0 1.3h0m2.7-28h0m.7 .9h0m8.5 11.5h0m8.9 38h0m6.1-26.4h0m.4-1.3h0m3.8 1.7h0m1.7 .6h0m9.7 29.4h0m8.6-67h0m1.2-.4h0m11.1 75.1h0m.1-6h0m7-59h0m.7-1.9h0m1.5 .3h0m6.6 30h0m12.9-53h0m1 4.6h0m.5-5.6h0m6.5 40.9h0m.1-10.7h0m.2 5.4h0m6.6-82.8h0m.3-6.3h0m.9-1.3h0m0 11.6h0m.5-6.4h0m3.7 77.1h0m9-10.7h0m0 9.8h0m.6-57.5h0m.1 4.9h0m0 7.1h0m.1 13.5h0m0 14.3h0m.1 33.9h0m0-27.1h0m.2-27.6h0m.1 14.3h0m9.6 65.4h0m0 21.2h0m0 .4h0m1.3-36h0m.5 17.1h0m.8-15h0m.9-1.7h0m0 14.9h0m0 5.4h0m0 4.5h0m6.5-92.4h0m.4-6.1h0m.1 11h0m2.7 9.2h0m1.5 34.8h0m.3-1.4h0m.2 5.2h0m1 10.2h0m.4-6.4h0m.3-11.5h0m1.2 23.5h0m0 2.6h0m.1 1.3h0m.1 8.3h0m.1-6.2h0m.2-27.5h0m.5 5.1h0m.3-4.1h0m.2 36.1h0m.4 1.8h0m.3-31.3h0m0 39.2h0m.1-48h0m.9 53.8h0m.4-49h0m.4-.4h0m.3 75.9h0m0 14.3h0m.3-27.5h0m.3 2.5h0m0-6.3h0m.3 33.1h0m.8-84.7h0m.2-1.6h0m.2 69.9h0m.3-1.3h0m.1-68.7h0m.4 72.6h0m.6 19.6h0m.1-15.8h0m.2 14.4h0m.5-84.3h0m.1 87.1h0m0 1.2h0m.1-92.9h0m.5 2.1h0m.1 91.4h0m.4-91.1h0m.1 86.3h0m.8 13.2h0m.4-90.9h0m0-9.1h0m1 6h0m.6-6.4h0m.4 97h0m.1 1.7h0m.3-4.2h0m0-81.8h0m.2-2.1h0m.1 89h0m.3 3.8h0m0 4.4h0m.1-103.5h0m.2 92.3h0m.1 6.5h0m.1 3.2h0m.2-93.9h0m.2 87.9h0m0-1.8h0m.3-83.2h0m.1-3.1h0m.1 88.6h0m.2-93.2h0m0 90.7h0m.2 8.8h0m.3-99.2h0m.2 90.7h0m.1 2h0m.1-85.3h0m.2-3.9h0m.2-.4h0m.7-22.1h0m0 4h0m.1 17.3h0m.4 95.1h0m.4-90.5h0m.2 .5h0m.1 82.7h0m.2 7.9h0m0-88.3h0m.7 81.5h0m.1-80.2h0m0-6.5h0m.2 86.4h0m0-2.5h0m.3-81.9h0m.3 92.5h0m.2-93.4h0m.2 89.6h0m0-.7h0m.2-82h0m0-3.7h0m.6 95.4h0m.1-7.4h0m.3 6h0m.2 .4h0m0 .4h0m.3 5.2h0m.2-100.1h0m.2 8.6h0m0-10.2h0m.3 103.2h0m.3 2.5h0m0-1.6h0m.7 .7h0m.2 3.8h0m.2 6.4h0m.4-110.2h0m.2-1.1h0m.2 103.6h0m.7 7.8h0m.1-5.9h0m.4-1.5h0m.2-88.9h0m.1 95h0m0-94.4h0m.3-3.1h0m.4 112.6h0m0 2.7h0m0 35.3h0m0 20.3h0m.2-73.2h0m.2-96.2h0m.2 140.7h0m0 2.7h0m.1-42.2h0m0-101.4h0m.2-1.8h0m.2 126.6h0m0 5.3h0m0 4.5h0m0 20.6h0m0-64.5h0m.4 7.7h0m.6-8.9h0m.1-90.3h0m.2 93.7h0m.2-95.2h0m.1 5.4h0m.1 89.5h0m.4-94.3h0m0 99.5h0m.3-1.8h0m.4 .2h0m.1-95.4h0m0 4.9h0m.1 87.6h0m.1-6.3h0m.3 4.3h0m.8-84.8h0m0-3.1h0m.5 4.1h0m.1 104.7h0m.2-16.2h0m.7 9h0m.5-106.3h0m.1 5.8h0m.2 83h0m0 3.7h0m.2-6.7h0m0-78.2h0m0 87.2h0m1.1-94.3h0m.2 88.7h0m.1 5.3h0m.1-86.3h0m.2 79.3h0m0-82.4h0m0 90.1h0m.5-7h0m.3-.9h0m.1-2.6h0m.4 .6h0m.2 4.2h0m.3-2.5h0m.1-79.8h0m.1-5.4h0m.2 89.1h0m.4-91.4h0m.6 94.4h0m.2-86.9h0m.2 105.6h0m0 24.8h0m.1-44.4h0m.1-3.2h0m.2-7.6h0m.8-77.8h0m0 84.3h0m.4-3.8h0m.1 .4h0m.3-80.6h0m.2 2.2h0m.1 3.7h0m.6-1.2h0m.2 87.9h0m.1-4.6h0m.5-81.6h0m.1 85.3h0m.1-109.2h0m.1 23h0m.1-.1h0m.2 87.3h0m.2-94h0m0 .3h0m.2 8.2h0m.4 87.4h0m.4-89.4h0m.1 94.4h0m.5-3.6h0m.2-88.1h0m.8-3.8h0m.1 113.7h0m.3-119.8h0m.1 1.3h0m.1 128.3h0m.3-28.9h0m.3-103.8h0m.4 107.3h0m.3 30.8h0m.2-136.7h0m1 115.2h0m.2-8.8h0m.4 24h0m.4-13.3h0m0-3.3h0m.1 2.6h0m.1-2.6h0m.5-118.8h0m.2 123.9h0m.4-132.6h0m.1-3.1h0m.1 5.6h0m.2 123.8h0m0-1.7h0m.1-123.8h0m.6 6.7h0m.1 118.5h0m.9-3.2h0m.1 .3h0m.4-122.9h0m.6 126.4h0m0-3.5h0m.3 7.8h0m.2-120.9h0m.1 117.6h0m.1-117.5h0m.2 113.9h0m0-121.8h0m.2 9.5h0m0 .4h0m.1-.1h0m.1 113.5h0m0 24h0m0 4.5h0m0 4.5h0m.8-27.9h0m0-9.5h0m.6-114.6h0m.3 5.3h0m.9-5.4h0m0 115.1h0m.5-1.6h0m0 3.6h0m.3 5.8h0m0-7.2h0m.3-1.2h0m.4 8.5h0m.5-122h0m.2-10h0m.3 131.5h0m0 .1h0m0-9.6h0m0-125.1h0m.1 134.2h0m.1-3.2h0m.5-126h0m.1 123.1h0m.1-3h0m.1-125.7h0m.2 126.2h0m0-113.7h0m.2 115.8h0m.1-118.4h0m0-8.9h0m0 7.5h0m.2 117.8h0m.4-113.9h0m.3 114.7h0m.3-.2h0m.2 8.2h0m.1-122.7h0m.7 129.6h0m.3-136.8h0m0 136.3h0m.4-136.7h0m.1 11.3h0m.2-2h0m.1 133.2h0m.1 8.5h0m.2-138.2h0m.7 153.9h0m.1-160.5h0m.1 163.9h0m.3-1.1h0m.1-160.6h0m.5 157h0m.1 4.1h0m.1-154.9h0m0 143.2h0m.1-11.9h0m0-129.1h0m.2 134.7h0m0-134.6h0m.6-9.9h0m.1 163.8h0m.1-.9h0m0 8.5h0m.1-166.7h0m0 156.1h0m.1-158h0m.6 165.5h0m.3-6.5h0m.2 8.5h0m.7-167.2h0m0 1.1h0m.6 159.8h0m0-2.2h0m.5-157.6h0m.2 162.6h0m0-4.2h0m0-152.3h0m.2 155.1h0m.1 1.4h0m.2-.5h0m0-157.8h0m.2 156.4h0m.2-158.4h0m0 150.6h0m.3-151.9h0m.3 5.4h0m.4-6.5h0m0 152.4h0m0-156.3h0m.2 2.1h0m.5 10.8h0m.1-9.2h0m.3 158.4h0m.2-116.8h0m0-5h0m0-6.5h0m.1-23.2h0m.1 3.2h0m.3 39h0m.1 105.6h0m0-138.9h0m.1 6.7h0m.3 127.3h0m.1-142.4h0m.7 147.4h0m.2-119.8h0m0-26h0m.1 142.4h0m0-113.2h0m.2 115.2h0m.1-107.2h0m.3 7.6h0m.2-2.4h0m.5 97h0m.1-93.9h0m0 96.4h0m.2-97.3h0m0 105.4h0m.5-104.8h0m0 7.2h0m.2-.6h0m0 107.2h0m.1-102.9h0m.6 99.1h0m.2-93.1h0m0-4.9h0m.1 1.5h0m.2 1.1h0m.1 97h0m0-93.1h0m.6 103.5h0m.4-99.2h0m0 96.6h0m0 4.6h0m.2 2.1h0m.6-3.6h0m.3 6.3h0m.2-145.9h0m0 0h0m0 15.6h0m0 .5h0m.1 21h0m.1-6.5h0m.1 108.6h0m.1-4.4h0m0 3.4h0m.4 2.8h0m.2-13.4h0m.1 14h0m.1-116h0m.2 107.5h0m1 5.5h0m.2-111.2h0m.3 4.1h0m.1 107.6h0m0-113.9h0m.5 107.4h0m.6-9.2h0m.1-96.3h0m0 94.3h0m.6-98h0m.1 91.1h0m.1-107.4h0m.1 113.2h0m.4-10.9h0m1.1-83.6h0m.1-.7h0m0 4.1h0m1.4 96.8h0m.1-118.8h0m.3-5.3h0m.3 2.8h0m.5 13.3h0m0 83.3h0m.1-91h0m0-3.4h0m.1 16.8h0m.6-22.9h0m0 93.1h0m.1-87.4h0m.1-9.3h0m.1 11h0m.1-1.2h0m.1 89.3h0m.3-2.6h0m.2 4.6h0m.1-99.4h0m.1 96.2h0m.3-93h0m0 91h0m.2-92.7h0m.2 112.1h0m.3-114h0m0 .3h0m.1 8.6h0m.7 93h0m.1-8.3h0m.2-87.2h0m.3 94.2h0m.1-93.5h0m.4-3.2h0m.8-3.3h0m.1-.6h0m.3 94h0m.2-91.5h0m0 87.8h0m.1 4.3h0m.4-5.2h0m.2-87.9h0m.3 87.6h0m.4-86.2h0m.1 .7h0m0-10.3h0m.4 101.1h0m.5 .4h0m.1-99.4h0m.2 90.2h0m.1-88.9h0m.2 95.3h0m.1-4.8h0m.3-92.1h0m.1 100.5h0m.1-98.7h0m0 116.6h0m.3-110.5h0m.6 88.3h0m0-99.7h0m.6 98.8h0m.4-7.8h0m.2-1.1h0m0 8.7h0m.7-14.7h0m.2-99.1h0m.1 8.1h0m0-6.9h0m.3 92.8h0m.1 2.7h0m.3 5.6h0m.2-1.8h0m0-4h0m.1-106.8h0m.3-.1h0m0 98.1h0m0-101.8h0m0 5.2h0m.5 74.5h0m.2 1.3h0m.2-5.3h0m.1-85.4h0m.1 7.2h0m.4 84.4h0m1.2-87.2h0m.4 67.9h0m.1-3.5h0m.2 3.2h0m0-72.4h0m.4 77.1h0m.1 0h0m.1-80.2h0m.2 80.9h0m.3-.4h0m.1-5.1h0m.2-72.3h0m.1 .2h0m.2 69.4h0m.1-67.9h0m.2 68.5h0m.2-89.9h0m0 8.4h0m1.2 11.8h0m0 1.8h0m.1 55.1h0m.1 2.5h0m0-.8h0m.4 5.3h0m.3 1.4h0m.5-1.4h0m0-67.9h0m1.2 2.8h0m0 57h0m.3-57.4h0m.1-5.6h0m.5 54.7h0m.1-5.6h0m.2 6.8h0m.6-54.6h0m.2-5.3h0m0 0h0m.5 37.8h0m.1 .7h0m.1-36.4h0m.1 40.6h0m0-41.8h0m.3 3h0m.1 2.6h0m.2-5.6h0m.2 75.5h0m.6-78.4h0m.4-.3h0m.3 61.9h0m.3-58.2h0m.1-8.8h0m.2 1.3h0m.2 9.5h0m.3 48.1h0m.1 5.3h0m.1-64.7h0m1.5 56.8h0m.5 3.6h0m.7-57.6h0m.3 56.7h0m.4-5.2h0m.1 8.2h0m.3 18.3h0m0-27.6h0m.1 4.6h0m.2-2.5h0m.1-58.7h0m0 64.3h0m.1-13.3h0m.1 12.8h0m0-55.4h0m.2 49.9h0m.1-61.3h0m0 80.9h0m0 1.4h0m0 6.3h0m.2-85.5h0m.1 56.9h0m.2 6.2h0m.6-78.6h0m0-2.4h0m.7 69.5h0m.1 3.3h0m0-.8h0m.2-76h0m0 26.6h0m.1-6.3h0m.1-13.6h0m0-7.1h0m.4 15h0m.3 60h0m0-70.3h0m.5 66.8h0m.3-70.5h0m.1 68.4h0m.2-6.2h0m.2-63.2h0m.1 70.2h0m.3-70.3h0m0 59.9h0m.3-4.4h0m.1-54.9h0m0 2.7h0m.3 48.8h0m.3-54.9h0m.4 3.6h0m.3-9.5h0m.9 3.7h0m0-.8h0m.6 64h0m0 .6h0m0-71.1h0m.2 2.7h0m.5-4.4h0m.3 4.7h0m0 58.3h0m.1-60.5h0m.8 58.5h0m.4 10.2h0m.2 .1h0m.3-2.5h0m.1-1.8h0m.3-75.5h0m0 97.2h0m0 .4h0m.3-28.9h0m.2 28.5h0m0 .4h0m.1-99h0m0 10.4h0m.1-4.2h0m.4 67.7h0m.1-73.6h0m0 69.8h0m.5 .3h0m0-60.8h0m0 0h0m.1-9.6h0m.3 76.9h0m.2-68.3h0m.2 61.9h0m.1-.5h0m0-62.4h0m.2 72.3h0m.5-6.4h0m0-66.9h0m0-8.9h0m0 2.5h0m.4-3.8h0m.1 2.4h0m.3-22.5h0m0 7.2h0m.1 22.2h0m.2 3.1h0m0-32.5h0m0 7.2h0m.3 105.2h0m.5 11.7h0m.1-100.5h0m.1 110.6h0m.1 8.4h0m.1-27h0m.1 5.9h0m0-5.9h0m.1 57.4h0m.1-.5h0m.2 1.6h0m0-150.1h0m.2 116.1h0m.4-104.9h0m.1 1.4h0m.2 146.2h0m0-15.4h0m0-137.3h0m.1 105.5h0m0-5.1h0m.2-7.8h0m0 72.6h0m0-53.9h0m0 12.6h0m.1 7.9h0m0-46.1h0m0 31.2h0m.2 58.3h0m.1-30.1h0m0 30.5h0m.1-19.2h0m.1-154.4h0m.1 104h0m.1 10.1h0m0 4.9h0m0 32.3h0m.1-5.9h0m0-13.2h0m.1-133.2h0m0 110.1h0m.1 16.6h0m.1 37.9h0m.1-10.6h0m0-15h0m.3 24h0m.1 18.4h0m.1-178.5h0m.3 35.2h0m.3 116.9h0m.5-118.2h0m.1 144.4h0m.1-137.3h0m.2-4.9h0m0 3.3h0m.4-6.4h0m.2 119.6h0m0-120.5h0m.1 119.9h0m.1-109.8h0m.1 .8h0m0-.6h0m.4 111.4h0m.1 1.7h0m0-113.3h0m.2 2.1h0m.2-5h0m1 112.5h0m.5-107.1h0m1 2.9h0m.4-6.2h0m.2 7.6h0m0-2.3h0m0 101.7h0m0-97.4h0m.4 103h0m0 3h0m.1-104h0m.1 96.5h0m.2 3.8h0m0-5h0m.5-98h0m.1 99.7h0m0-1.7h0m0 18h0m0 8.1h0m0 17.9h0m.1-43.9h0m.1-104.8h0m.1 10.2h0m.3 104.7h0m0-110.8h0m0-2.4h0m.3 5.3h0m.2-12h0m.4 7h0m.3 1.7h0m.7-8.2h0m.1 8.3h0m.2 111.8h0m.1-113.4h0m.2 2.5h0m.3-12.1h0m0 123.3h0m.4-123.6h0m0 114.9h0m.1-106.5h0m.2 3.9h0m0 108.5h0m.2-117.1h0m.2 119.9h0m.3-120.1h0m.3-17.9h0m0 2.7h0m.3 13.3h0m.1 7.7h0m.1 2h0m.1 7.9h0m0-19h0m.1 131.2h0m0-1.2h0m.2 4.1h0m.1-124.9h0m.3 120h0m.1 11.6h0m.3-9.1h0m0-120.9h0m0-1.8h0m.4 131.3h0m.1-127.5h0m0 123.3h0m.5-119.3h0m.1-1.7h0m.1 11.8h0m.3 117.9h0m.7-114.9h0m.5 120.7h0m.1-4.2h0m0 1.5h0m0-114.5h0m.6 3.3h0m.2 108.3h0m.1 .4h0m.2-114.9h0m.2 114.5h0m0 8.7h0m.4-122.7h0m0 121h0m.1-120.8h0m.1 113.6h0m.2-105.4h0m.2 105.4h0m0-110.1h0m.4 123.8h0m.1-119.8h0m.2 117.4h0m.3-.7h0m.5-116.5h0m.6 12.9h0m1 13.8h0m.2 100.9h0m.1-94.4h0m0-.6h0m.2 4.8h0m.1-6.8h0m.4 94.8h0m.3-87.9h0m.1 91.3h0m.2-3.4h0m.1 1.6h0m0-89.4h0m.2-3.2h0m.1 1.9h0m.1 91.2h0m.3-83.8h0m0 92.4h0m.1-6.8h0m.5-84.9h0m.1 89.1h0m.6-97.2h0m.1 2.6h0m.2-9.1h0m0 .1h0m.1 14.9h0m.4 1.6h0m.1-4.8h0m.1 2.2h0m.1-24.2h0m0 .1h0m.1 28.4h0m.1 92h0m0-98.1h0m0 5.8h0m.1 90.9h0m.2-98.9h0m0 106.8h0m.9-6.1h0m1-93.8h0m.2-6.6h0m.2 108.9h0m0-103.9h0m.3 108.6h0m.3-104.1h0m0 95.4h0m.2 6.7h0m0 2.2h0m.5-107h0m.3 106.8h0m.6 5.5h0m.2 10.7h0m.1-123.4h0m.2 2.7h0m.1-.4h0m.1 121.4h0m.3 .3h0m0-117h0m.4 126.9h0m.6-129.5h0m.1 127.1h0m.5-124.8h0m.4 123h0m0-123h0m.4 123.6h0m.1 .4h0m.1-3.4h0m0 6.5h0m0 3.2h0m.2-117.7h0m.3 1.2h0m.4-37.2h0m0 .1h0m.3 34.2h0m.2 118.7h0m.2-120.5h0m.2-3.8h0m.4 121.3h0m.6-13.3h0m0-108.7h0m.2 116.3h0m.4-118.1h0m.3 126.2h0m.3-119.3h0m.2 120.8h0m.1-130.2h0m.4-2.8h0m1.1-5.5h0m.1 10.4h0m.2 107.7h0m.1-116h0m.1 3.4h0m.5-16.7h0m.2 110.7h0m.3-92.5h0m0 86.9h0m.1-96.3h0m.1 2.1h0m.9 86.8h0m.4-.3h0m.2 2.5h0m0-80.6h0m.3 86.7h0m.4-85.7h0m0-.5h0m.4-6.3h0m.4-1.8h0m.4 96.1h0m0-8.2h0m.1-80.6h0m.1 .4h0m.1 85.6h0m.1-93.5h0m.1 99.5h0m0-.3h0m.2-2.5h0m.1-9.3h0m.1 36.4h0m.2-126h0m0-1.3h0m.1 96.5h0m.3-88.4h0m.3 91.5h0m.3-96.5h0m.5 99.3h0m.1-12.1h0m.2-86.9h0m.1-5.5h0m0 98h0m.5-.4h0m.3-104.1h0m.2 5.5h0m0-4.6h0m.1-3.4h0m.7 98.4h0m.1-97.6h0m0 87h0m.4-101.5h0m1.4-20.6h0m0-8h0m.2 116.3h0m.9-1.6h0m.2-128.7h0m.5 1.3h0m.5 17.4h0m.1-23.8h0m0 11h0m.2 101.8h0m0 3.9h0m.1-108.8h0m0 9.6h0m.3-8.6h0m.8-1.9h0m0-4.2h0m.1 102.7h0m.1-1.4h0m.3-88.4h0m.1 95.4h0m0 2.8h0m.1-103.3h0m.1-1.9h0m.1 .5h0m.1-3.1h0m.5 106h0m.2-3.3h0m.7-92.6h0m0 87.8h0m0-91.3h0m.2 91.6h0m.4-84.3h0m0 82.6h0m.4 .7h0m0-2.1h0m.2 2h0m.1-89.1h0m.5 98.8h0m.1-95.6h0m0 93.2h0m.1-16.5h0m.1 6.8h0m0-77.6h0m0 110.6h0m.2-107.3h0m.2 76.6h0m.1-74.8h0m.4 1.3h0m.8-9.6h0m.6 3.4h0m.2 75.4h0m.3-78.5h0m.2 4.3h0m1-3.4h0m.5-3.7h0m.1 77h0m.3-5.7h0m.1-70.4h0m.8-13.2h0m.2 84.8h0m.1-79.2h0m0-4.7h0m.2 3h0m.2 77.9h0m.4 30.7h0m.1-21.6h0m.1 .9h0m0-11.8h0m0-69.8h0m.6 73.9h0m0 3h0m.2-13.6h0m0 11.6h0m.2 13.6h0m0 5h0m0-22.8h0m.1-.3h0m.1-75h0m.2 77.9h0m.1 6.6h0m0-.3h0m.2-88.3h0m.1 89h0m.3-12.5h0m.3-80.9h0m0 4.9h0m0-2.8h0m.4 83.3h0m.5-88.7h0m0 1.4h0m.1 86.8h0m.1-13.3h0m.4 3.2h0m.1-83.4h0m.2 78.4h0m0-76.7h0m0 80.1h0m.3-88h0m.1 1.6h0m.8 89.8h0m.1 1.6h0m.5-96.5h0m.4 93.3h0m1-55.9h0m.4-40.2h0m1.1 93.9h0m.3-95.6h0m.4-19.1h0m0 9.5h0m0 12.5h0m.2-2.2h0m0 4.7h0m.1 84h0m.1-96.4h0m0 80h0m.1-82.2h0m0 10.6h0m.1 71.4h0m.3-74.1h0m.3-4.4h0m.1 .3h0m.3 78.5h0m.8-6.6h0m0-4.8h0m0-81.6h0m.2-4.6h0m.2 91.7h0m.1 2.8h0m.3-13.4h0m.2 9.1h0m.5-93h0m.7 76.8h0m.4-72.9h0m.6 70.1h0m.1-75.4h0m.3 69.8h0m.5-70.8h0m.3-5.9h0m.4 75.6h0m.1-3.9h0m0-65.5h0m.2-1.5h0m1 68.2h0m0-9.2h0m.6-1.9h0m0-3h0m.1-59h0m0-.5h0m.5-11.7h0m.6-2.3h0m0 56.9h0m.3-8.3h0m.5-76.9h0m0 .2h0m0 5.2h0m0 .2h0m0 10.2h0m.1 67.9h0m.9-57.3h0m.4-3h0m.3 52h0m0 2.4h0m.8-62.6h0m0 65h0m.1 2.4h0m.2-70.6h0m.3 12h0m.9-6.4h0m.1 58.3h0m.2 .7h0m.1-55.6h0m.2 2.4h0m.1-8.8h0m.7-4.9h0m0 63.9h0m.3 1.8h0m.3-59.4h0m.1-1.4h0m0-2.1h0m.1 3.1h0m.1 67.1h0m.1-61.1h0m.2 59.8h0m.1-2.4h0m.2-1.2h0m.2-61.4h0m.1 63.6h0m.1 1.6h0m1-13.4h0m.3-45.8h0m0 50.2h0m1.6-53.1h0m.6 45.5h0m.3-12.9h0m.5-42.6h0m.9 35.6h0m0-37.8h0m.1-2.3h0m.1-12.2h0m.7 7.6h0m.7 31.7h0m1-43.1h0m.1-3.3h0m.1 35.4h0m0-33h0m.5-4.5h0m.3-1.8h0m.2 32.4h0m.3 .5h0m.1-24h0m.1-10.6h0m0 36.3h0m.2-1.1h0m.2-2.7h0m.1-30.1h0m.7-4.7h0m.1 32.1h0m.2-33.4h0m.2 9.8h0m.3-5.6h0m.5 33.2h0m.6-4.7h0m.3-3.1h0m.2-34.8h0m0 6.1h0m.2 27.1h0m.3-.1h0m.8-38.3h0m.6 37.2h0m.4-7.4h0m.2-39.6h0m1.1 34h0m.2 2.7h0m.2-48.5h0m.3 6.2h0m.6-6.7h0m0 9h0m.1 36.9h0m0-1.7h0m.4-45.1h0m.1 48.4h0m.3 4.7h0m.3-43.8h0m.3-9h0m.1-18.1h0m.4 28.1h0m.2 .8h0m.6 46.2h0m0-49.3h0m.2-22.6h0m0 5.4h0m0 6.3h0m.2 60.1h0m.4-41.5h0m.2 47.1h0m.7 5.3h0m.2-1h0m.1-60.1h0m0-.8h0m.1 10h0m0 47.4h0m.3-1.9h0m.1 8.8h0m1.1-2.4h0m.3 3.4h0m.1-56.2h0m.1 .7h0m0 57.9h0m.1-57h0m.5 67.5h0m.2-62.3h0m.8 1.5h0m.1 72.7h0m.5-68.7h0m.1 68.6h0m.2-60.2h0m.8 69.9h0m0 10.7h0m0-1.8h0m.1-67.3h0m0-4.2h0m.1 63.3h0m0 9.3h0m.1-74.5h0m.9 13.3h0m.9 71.7h0m.2 7.6h0m.8 .5h0m.1-4h0m.1 0h0m.6-58.5h0m0 73.3h0m.1-71.3h0m.2 68.9h0m0-69.5h0m.1-.8h0m.5 71.9h0m.3-74.6h0m.2-.1h0m0-.6h0m.2 5.6h0m0 8.5h0m.1-3.6h0m.2-9.3h0m0 69.6h0m.2 8.6h0m0-11.1h0m.3 11.4h0m.5-.2h0m.2-64.8h0m0 2.6h0m.4 52.9h0m.3-55.5h0m0-9.9h0m.3 1.1h0m.2 2.9h0m.1 70.2h0m1-4.4h0m.4-75.1h0m.1-15.6h0m.1-4.3h0m.1 3.4h0m.3 .1h0m.4 84.1h0m0-81.1h0m.1 91.7h0m.1-10.2h0m.3 1.7h0m.1-107.9h0m.2 114.1h0m0-120.7h0m.8 119.4h0m0-120.6h0m.1 119.9h0m.3-5.8h0m.1-123.9h0m.6-11.6h0m.6-1.9h0m.5 13.9h0m.1 5.6h0m.5-19.8h0m0-3.9h0m.1 11.5h0m.2-7.4h0m.1-2.3h0m0-8.4h0m.3-1.4h0m.2 19.1h0m0-12.7h0m.1 95.9h0m.3-83.4h0m.1-7.1h0m.3-8.4h0m.2 23.3h0m.6-16.9h0m.1-9.4h0m.2 10.6h0m.3 123.1h0m.4-124.4h0m.2 5.4h0m0 134.8h0m.5-123h0m.5 13.2h0m.6-5.8h0m.2 114h0m0-103.7h0m.1 101.3h0m.6 3.8h0m.3-100.3h0m0-6h0m.4-2.3h0m.3 5.7h0m.6 110.4h0m.5 6h0m0-105.9h0m0 100.7h0m.6 11.7h0m0-111.3h0m.1 .4h0m.1 107.5h0m.2 13.2h0m.3-102.6h0m1 113.2h0m.2 7h0m.2-106.5h0m.1 .8h0m0 114.6h0m.1-7.4h0m.1-108.6h0m.2 20.1h0m0 95.5h0m1.1 13.3h0m.1 6.5h0m.1-6h0m0-3.4h0m.2-.3h0m.4-77.3h0m.2 85.4h0m.1-3.2h0m.1 5.8h0m.4-85.5h0m.1 92.3h0m.1-87.8h0m.8 3h0m.2 90.5h0m.6-1.9h0m.3 9h0m.1-5.7h0m1-4.1h0m.2-73.1h0m.2 12.6h0m.1-4.3h0m.1 72.6h0m.3-73.6h0m.5 13.3h0m0 58.2h0m0-65h0m.3 68.6h0m.1-66.7h0m.3 10h0m.3 54.9h0m.1-59.2h0m.5-16.3h0m.3-3.4h0m.1 2.3h0m.4 78.1h0m0-81.1h0m.1 85.7h0m.3-66.9h0m0-13.3h0m0 20.6h0m.1 60.9h0m.1-80.8h0m.2 4.8h0m.5 70.6h0m.3-78.5h0m.3 83.5h0m0-2.7h0m.7-85.7h0m.8 7.8h0m.2 86.8h0m.2-1.6h0m.3 6.1h0m.4-99.2h0m.2 108.9h0m.1-100.5h0m.2-6.8h0m.2-13.2h0m0 15.6h0m.1-15.6h0m0 12.4h0m.2 4.1h0m.3 111.8h0m.4-5.8h0m.4-12.9h0m.3 5.3h0m.2 13h0m.2-14.6h0m0 10.5h0m.1 4.4h0m.1 6.6h0m.1-5.3h0m0-115.6h0m.1 104.3h0m.1 11.6h0m.2-108.9h0m0 109.1h0m.7-6.1h0m0 7.1h0m0 2.4h0m.1-114.7h0m.1 104.6h0m.2 .2h0m.1 6.3h0m0-7.1h0m.4 1h0m.4-106.8h0m.2 1.3h0m.3 1.4h0m0 .2h0m.3-4.2h0m.2 92.9h0m0-98.8h0m.4 3.1h0m0 73.3h0m.4-5.4h0m.1 0h0m.2-70.1h0m.1 6.2h0m.9 67.7h0m.1-69.9h0m.1-.4h0m.1-3.3h0m.1-3.8h0m0 76.8h0m.1-70.1h0m.9-7.8h0m.3 9.9h0m.1 66.6h0m.3-68.5h0m.1-1.7h0m.2 77.1h0m.5-82.5h0m0-19.8h0m0 5.4h0m.3-5.4h0m0 6.2h0m0 6.3h0m0 8h0m.2 5.1h0m.3 76.6h0m.1-81.3h0m.1-4h0m.1 91.1h0m.2-88.1h0m0 82h0m.3-77.9h0m.2 6.7h0m.1 80.4h0m0-10.2h0m.2-80.4h0m.3 108.6h0m.1-107.8h0m0 2.2h0m.1 100.2h0m0-94.5h0m0 5.6h0m.7-6.5h0m.4 117.9h0m0 2.4h0m.2-133.4h0m.3 132.6h0m.4 2.6h0m.2-.8h0m.1 .7h0m.8-115.9h0m0 2.3h0m.2 122.7h0m.2 8.7h0m.4-133h0m.3 139.7h0m.2-7.5h0m.1-120.2h0m.1 121.6h0m0-128.8h0m.2 3.4h0m.4 .4h0m.2 5.5h0m.2 1.5h0m.3 7.7h0m0-12.6h0m.1 9.6h0m.1 131.8h0m0-137.6h0m.1 138h0m.1-3.7h0m0 3.7h0m.2 4.9h0m0-5.8h0m.4-8.8h0m.2-7.5h0m0-105.5h0m.2 119.5h0m.1 12.5h0m.3-11.3h0m.1 10.1h0m.1 1.4h0m0-133.2h0m.1 126.1h0m.1 .7h0m0-15.5h0m0 5.2h0m.3-138.3h0m0 3.6h0m.1 21.6h0m.5-2.7h0m.1 3.6h0m.5 108.8h0m.2 6.9h0m.2-105.4h0m0-2.3h0m.1-2.4h0m.3 2.4h0m1.8 5.6h0m.4-14.6h0m.1 82.8h0m.2-3.1h0m.4-70.1h0m.3 2.1h0m.7 59.7h0m.1-56.2h0m0-7.4h0m.3 80h0m0 13.9h0m0 12.6h0m0 12.2h0m0 12.9h0m0 5h0m.2-139.5h0m.3 5.4h0m0 69.4h0m.4-98.5h0m0 8h0m.8 14.1h0m.2 70.5h0m.2-65.8h0m.7 47.4h0m0-45.1h0m.3-2.5h0m.6-2.1h0m.3 35.4h0m.9-3.1h0m0 8.7h0m.2-4.5h0m0-4.8h0m.5-4.7h0m.7-5.1h0m0-51.5h0m.6-11.7h0m.7 62.1h0m.1-67.9h0m.1-3h0m0 61.7h0m.2-72.8h0m0 72.2h0m.5-6.1h0m.2-61.5h0m0 67.3h0m0-.6h0m.1-4.6h0m.1-.1h0m.8-82.3h0m.1 70.3h0m0-72.9h0m.1 5.8h0m.3-.1h0m0 58.6h0m.1-63.5h0m.3 68.3h0m.2-69.7h0m.1-52.3h0m0 12h0m.3 42.3h0m.3-7h0m.4 61.8h0m.1-63.6h0m.1 7.9h0m.1 47.4h0m0-54.4h0m.2 1.1h0m.1 .5h0m.3 53.4h0m.8-.5h0m.1-62.6h0m.1 4.9h0m.6 3.6h0m0 4.9h0m.4 46.2h0m.1-88.2h0m0 11.2h0m0 14.4h0m.1 11.4h0m0 10.5h0m.2-6.6h0m.4-6.8h0m.3 68.2h0m.5-54.4h0m.7 50.4h0m.2 .7h0m.2 3.8h0m.1-4.4h0m.3-46.5h0m.3 41.8h0m0 4.8h0m.1-47.1h0m.2-.4h0m.6 48h0m.1 6.6h0m.1-55.7h0m.3 53.9h0m.2-50.9h0m.1 49.6h0m.1 2.9h0m0-4.4h0m0 2.7h0m.4-4.6h0m.1-49.2h0m.3-3.9h0m.1-5.2h0m.2 60.4h0m.1 13.1h0m0-61.1h0m.2-6.8h0m.6 5.9h0m0 4.9h0m.2 43.1h0m.2-.7h0m1.3-44.9h0m.6 47.7h0m0 0h0m.5-43.1h0m.7-2.7h0m.4 41.4h0m.2-9h0m0-29.1h0m.5-4.7h0m.4 29.8h0m0 7.2h0m.2-40.4h0m0 42.5h0m.3-37h0m.1-5.7h0m0 2.3h0m.3 31h0m.2-1.7h0m.3 .3h0m.1-28.5h0m.1-2h0m.5 27.6h0m.2-29h0m.1-4.7h0m.2 .2h0m.6-6.6h0m.2 31.9h0m.2-33.2h0m.9 7h0m.1 27.8h0m.4-34.3h0m.2 6.2h0m.5 28.6h0m.1 1.7h0m.2 1.5h0m1-37.5h0m.2 46.1h0m.2-42.3h0m.2-2h0m0 43.1h0m.3-41.5h0m.1-13.9h0m.2 20.6h0m.2-9.7h0m.3 49.5h0m0-47.2h0m.8 47.7h0m0-46.5h0m.2 1.7h0m0 47.6h0m.5-8.6h0m.1-36h0m.2 5.2h0m.1 35h0m.3 8.1h0m.2-47.4h0m.1 47.9h0m.6 3.7h0m.1-41.6h0m0-2.3h0m.2 45h0m.1-1.9h0m.7 1.1h0m.5-37.4h0m.1-7.4h0m.1 10.2h0m.2 2.3h0m.3 40.7h0m0-6.2h0m.2-7.4h0m0 17h0m.2 1.5h0m.1-46h0m0 42.8h0m.1-49.3h0m.4 60.9h0m.1-.4h0m.2-19.1h0m0 6.3h0m.1-39.7h0m1 47h0m0-41.7h0m.3 38h0m0 3.2h0m.9-6.2h0m.1-7.3h0m.3-3.1h0m.1-.5h0m.9-1.4h0m.3-29.3h0m.3 28.7h0m.1-34.2h0m1 24.3h0m0 10.6h0m.4-15.8h0m.1 9.2h0m0-3.8h0m.6-28.7h0m.8-7.8h0m.3 32.1h0m.3-25.4h0m.4-2.9h0m.1-1.5h0m.5 20.8h0m0-17.8h0m.2 20.5h0m.3 8.6h0m1.7-31.6h0m.1 32.7h0m.1-38.6h0m.3 52.9h0m0-48.7h0m.1 23.2h0m.4 6.7h0m0 7.2h0m.3 12h0m0-78.4h0m.3 70.9h0m.1-41.9h0m0 .9h0m0 57.4h0m.2-61.6h0m0 1.4h0m.1 39.4h0m.3 7h0m.2-38.8h0m.2 33.8h0m.4-40.2h0m1.2 47.8h0m.2-48.2h0m.6 8.5h0m.1 40.1h0m.2-6.9h0m.2 6.3h0m1.1-45.5h0m.1 44.1h0m.6-43.9h0m.2 3.1h0m.1 .4h0m.1-2.1h0m.5 2.4h0m.2-2h0m.1-3.2h0m.3 62.6h0m0 5.4h0m.1-61.9h0m.3-4.1h0m.4 38h0m.2 9.3h0m.3-53.8h0m.2 1.5h0m.1 50.1h0m.3-57h0m.2 47.9h0m0-40.7h0m.3-4.7h0m.3 .5h0m1.1 44.8h0m.6-47.2h0m.2 43.4h0m.1-50.4h0m.2-2.2h0m.5-.4h0m.3 48.7h0m0-38.7h0m.2 44.1h0m0-51.5h0m.5 7.7h0m.1 42.1h0m.3 4.9h0m.7-50.1h0m.2 2.2h0m0 35.4h0m0-55.1h0m.5 19.5h0m.4 5.2h0m.2 28.2h0m.3-7.2h0m.1 .4h0m.2-22.7h0m.4 .3h0m0 31.7h0m.1-28.3h0m0-1.7h0m1.8 33.5h0m.2-7.6h0m.2 1.6h0m.3 3.9h0m.1 3h0m.8-31.8h0m0 30.7h0m.1 3.2h0m.3-37h0m.3 28.2h0m.2 11.1h0m.2-29.8h0m.2 15.2h0m0-20.6h0m.1 29.1h0m0 5.8h0m.1 1.6h0m.1-10.5h0m.5 2.5h0m.4-45.3h0m0 .5h0m.1 3h0m.1 45.2h0m.5-55h0m.4 50.1h0m.1-2.7h0m.3-60.1h0m.1 50.1h0m.1-53.9h0m.7-1.4h0m.4 48.8h0m.3-54.3h0m.5 .5h0m.4 41.4h0m0-42.6h0m.1 40.7h0m.4-40.7h0m0 40.5h0m.2-41.1h0m.1 34.1h0m.3-5.9h0m.1-34.6h0m.3 3.4h0m.4 27.2h0m.3-.8h0m.2-7.5h0m.1 4.9h0m.2-31.5h0m.2 26.4h0m0-24.7h0m0 8.5h0m.7 25.1h0m.8-27.7h0m.1 27.4h0m0 4.7h0m.1-1h0m.4 12.3h0m.1-39.5h0m1 .3h0m.1 42.3h0m.5-4.3h0m0-35.9h0m0-3.1h0m.2 3.5h0m0 31.7h0m.3-32.2h0m.1 4.9h0m.3 41.7h0m0-6.3h0m.4-29h0m.2-4.3h0m.1 33.8h0m.1-31.9h0m0 31.2h0m0-39.9h0m.7 16.6h0m.3-10h0m.4 2.3h0m.3 48h0m0-42.3h0m.3 4.5h0m.1 42.4h0m0-45.3h0m.4-.1h0m.1 48.4h0m.9-39.5h0m.1-.9h0m0 36.3h0m.1-36.3h0m.3 39.1h0m.1-38.4h0m0-8.8h0m.1 44.6h0m0-41.6h0m.1-3h0m.2 45.1h0m.1 8.6h0m0-48.4h0m.4 44.4h0m0-43.5h0m.1 40.1h0m0 5.8h0m0-43.7h0m0-4.1h0m.3 40.7h0m.1-36.4h0m.1 1.1h0m.1 39.6h0m.5 8.5h0m.3 1.7h0m.1-51.9h0m.5 .6h0m.8 55.8h0m.1-2.2h0m.1-4h0m.1-48.7h0m.3 1.1h0m.1 52.7h0m.2-59.5h0m.2 3.4h0m.2-5.8h0m0 68.9h0m.1 1.7h0m0-10.9h0m.1-59.4h0m.1 7.4h0m1.1-10.3h0m.1 58h0m0 9.1h0m0-76.3h0m.2 72.9h0m0-73.8h0m.2 83.4h0m0-84.8h0m.1 78.2h0m.8-75.9h0m.1 80.4h0m.5-8.8h0m.5-6h0m0-80.6h0m.2 5.1h0m0 3.1h0m.9 67.3h0m.2-6.4h0m.4-83.7h0m0 17.9h0m.2 .4h0m.2 60.8h0m0-.7h0m.1-2.1h0m0-58.5h0m.3-9.5h0m.4 4.5h0m.3 54h0m.2-49.4h0m.2-5.6h0m.5-23.3h0m.3-.2h0m.2 77.3h0m.1 4.6h0m0-1.8h0m0-53.3h0m.2 45.6h0m.2-1h0m.2-44.3h0m.4-5.6h0m.5-32.2h0m0 4.4h0m0 18h0m.2-22.2h0m0 4.5h0m.3 87.3h0m0-61.3h0m.1 61h0m.7-58.3h0m0 54.1h0m0 1.8h0m.3-1h0m1.2 3.4h0m.2-4.9h0m.3 .4h0m.1 9.3h0m.4-83.7h0m.1 87.1h0m.1-88.7h0m.1 90h0m0-92h0m.1 84.3h0m.1 7.6h0m.2-14.7h0m.4-84.2h0m.3 83.6h0m.3-77.7h0m.3 85.1h0m.4-86.3h0m.1-4.9h0m0 6.7h0m.4-1.3h0m.6 70.1h0m.2 6.3h0m.1-4.2h0m.2-85.6h0m.7-3.7h0m.1 82.3h0m.2-77.2h0m0-1.2h0m.3 77.7h0m.2-85.1h0m.3-10.5h0m.1 90.6h0m.1 5.5h0m.3 .1h0m.4-5.8h0m.1-1.2h0m.2 8.3h0m.1-108.6h0m.1 101.4h0m.2-87.2h0m.1 79.9h0m.2-73.7h0m0-15h0m.1 0h0m0 2.1h0m.6-4.1h0m.1-7h0m.1 11h0m.6 85.9h0m.2-9.7h0m.1 0h0m0-87.8h0m.3 3.5h0m.2 1.6h0m0 1.2h0m.4 82.7h0m.3-100.9h0m1.2 97.1h0m.1-81.7h0m.3 87h0m.2-76.4h0m.8 71.7h0m.1-91.8h0m.2 19h0m.7 72.3h0m1.3 3.5h0m0-2.8h0m.1-63.5h0m.5 7h0m.2 57.3h0m0-65.1h0m.2 73.6h0m0-68.5h0m.3 1.6h0m.1 68.5h0m0-8.8h0m.2 7.1h0m.6 2.2h0m.1-5.8h0m.4-3.4h0m.2-62.5h0m0-5.1h0m.1 .4h0m.2 67.8h0m.2-72.4h0m.3-3h0m.2 2.5h0m.1 72.1h0m.3-69.1h0m.2-.7h0m.2 67.4h0m.6 5.7h0m.5-75.7h0m.2 2.8h0m.2-1.9h0m.3 74.5h0m.4-80.8h0m.5 70h0m.4 3.7h0m.1-74.8h0m.7 96.4h0m0 .2h0m0-25.5h0m.1 25.1h0m.2-19.9h0m.1 5.7h0m.5-103.9h0m.5-9.7h0m0 116.4h0m.3-125.8h0m.1 16.6h0m.4-9.8h0m0-1.6h0m.1-5.1h0m.2 4.3h0m.2-.4h0m.4 13.5h0m.1-21h0m0 26.2h0m.1-26.1h0m.2 13.9h0m0-5.6h0m.1-2.7h0m.1 106.2h0m.1-1.7h0m0-106.3h0m.2-4.6h0m0 8.4h0m.1 105.9h0m.5-8.5h0m.6-9h0m.2-89.5h0m.1 2.3h0m.1-9.7h0m0 10.2h0m.1-5.6h0m.2 .7h0m.1-2.6h0m.2 84.9h0m.3-7.9h0m.3-72.6h0m.1 72.1h0m.4-70.6h0m0 8.4h0m.2 73.7h0m0-83.9h0m.2 5.4h0m.3 74.2h0m.1-5.1h0m0 .9h0m.5 9.2h0m0 10.4h0m.5-2.7h0m.3-76h0m0 74.9h0m1.3 14.2h0m.5-70.3h0m.3 2.5h0m.3-10.9h0m.2 75.8h0m.1-56.2h0m0 55.8h0m.2-60.9h0m0-4.3h0m.1 75.2h0m.4-4.2h0m.2 5.7h0m0-67.3h0m.1 66.4h0m.2-1.6h0m0 7.2h0m.8-63.9h0m.4 61.1h0m.3 5.1h0m.6-4.2h0m1.4-63.5h0m0 66.6h0m.7-2.4h0m.1 1.2h0m.2 6.5h0m.2 9.9h0m.3-83.5h0m.1 83.3h0m0 .1h0m.7-73.9h0m0 66.6h0m.1-3.2h0m.1-64.9h0m.4 1.2h0m.2 60.6h0m.3-59h0m.3-10.3h0m.1 1.1h0m.5 76h0m.4-65h0m.2-4h0m.1 3.4h0m.1 62h0m.3-36.7h0m0-28.6h0m0 22.2h0m.2-42.6h0m0 4.9h0m0 21.5h0m.1 11.1h0m.1-5.2h0m.4-11.8h0m.1-2.6h0m.2 82h0m0-72.9h0m.1 69.8h0m.2-8.8h0m0-61h0m.4 7.7h0m.1 53.8h0m.1 9.5h0m.4-6.6h0m0-54.3h0m.1 6.4h0m.3-1.2h0m.1 59h0m.3-51.6h0m.5 44.9h0m.7-1.6h0m.3-51.7h0m.1 48.9h0m.3-1.4h0m.5-44.4h0m.4 45.1h0m.1-55h0m.1 11.5h0m.2 52.6h0m0-54.3h0m.5 2.9h0m.3 .2h0m.2 48.6h0m.3-2.3h0m.3-48.2h0m.3 1.2h0m.7 48.7h0m.1 3.4h0m.1-9.4h0m.4-46.3h0m.8 48.5h0m.1 2.3h0m.2-42.9h0m1.1 12.5h0m0 25.5h0m.6-32.7h0m.3-5.8h0m1.5 7.5h0m.7-.3h0m.4 8.1h0m.1-2.5h0m.9-5.9h0m.1 6.1h0m.7-8.3h0m.5 33.2h0m0-30.4h0m.4 30h0m.1-43.6h0m.5 .9h0m.1 15.9h0m.1-6.9h0m.9-5.1h0m.4 4.1h0m.2-10.4h0m.2 7.1h0m.1-2.7h0m.2 6.3h0m.2-5h0m.5 51.2h0m.9 6.1h0m.3-52.6h0m1 49.8h0m.4-43.1h0m.1-7.9h0m0 58.9h0m.2-12.9h0m.8 16.1h0m0 .2h0m0 8.1h0m0 2.7h0m0 22.4h0m0 4.5h0m.6-50.9h0m.2 0h0m.1-39.3h0m0-8.4h0m.3 48.5h0m.1-1.9h0m.9-3.1h0m.1-3.3h0m.3-32.6h0m.3 36.9h0m.4-46.4h0m.1 39.4h0m.4-4.4h0m.7-59.7h0m.1-5.1h0m.1 39.3h0m0-30.6h0m.1 17h0m.3-13.8h0m.1 7h0m0-26.3h0m.1 39.9h0m0-37.2h0m.1-6.7h0m0-45.8h0m0 117h0m.1 4h0m.2-39.2h0m.1-6.1h0m.1-5h0m.1-105.1h0m0 3h0m0 3.6h0m0 3.6h0m0 2.7h0m0 79.7h0m0 5.9h0m.3-33.7h0m0 7.2h0m.2 75.1h0m.4-60.8h0m.1 61.1h0m0-55h0m.1 7h0m.1-78.5h0m0 11.7h0m0 9.8h0m0 10.8h0m.2 36.4h0m.1 64.6h0m.1-2.9h0m.1 1.4h0m.2-70.7h0m.1 5.3h0m.1-38.6h0m.1 41.3h0m.2 59.4h0m.4 .5h0m.6-59.2h0m.1 2.9h0m.4-9.8h0m.1 8.8h0m0 51.3h0m.1-51h0m.7-50.5h0m0 18.8h0m0 12.6h0m.3 19.3h0m.4 48.5h0m0 2.2h0m.2-94.2h0m.6 45.9h0m.3-18.1h0m.3 12.7h0m.4 55h0m.9-52.1h0m.2-12.9h0m0 15.4h0m.1 50.1h0m.2-42.8h0m.2-4.8h0m0-8.1h0m.2 53.2h0m0-2.2h0m.1-42.7h0m.1 11.7h0m.3-5.5h0m.2 5.2h0m.2 37.9h0m.4-32.1h0m.8-1h0m.2 32.2h0m.1-.1h0m.1-31h0m.2 33.1h0m.1-27.4h0m0-7.4h0m.2 3.6h0m0 3.1h0m1.4 7.8h0m.1 27h0m.1-29.7h0m.4-1.7h0m.1-6h0m.3 42.6h0m0-41.1h0m.3 44.7h0m.2-1.8h0m.4 3.4h0m.2-51.4h0m.1 45.7h0m.1-42.2h0m0-1.4h0m.3-5h0m0 55.1h0m.2-57.6h0m.1 61h0m.1-63.7h0m.1 2.5h0m.1-3h0m0 5.1h0m.1 53.7h0m.2-55.3h0m.2 53h0m.2 10.1h0m.8-7.8h0m.1-55.8h0m0 2.1h0m0 61.3h0m.4-8.9h0m.2-58.7h0m0 64.3h0m.1-65.8h0m0 65.4h0m.3-68.8h0m.2 64.3h0m.3-70.4h0m.1 72h0m.5-66.4h0m.1 74h0m0-49.9h0m0-19.3h0m.3 66.7h0m0-55.3h0m.2 51h0m.2-57.3h0m.6-7h0m0-2.2h0m.1-3.9h0m.2 14.8h0m.2-7.9h0m.5 15h0m0-8.3h0m.1 20.2h0m.2 48h0m.3-3.4h0m.2 4.1h0m.1-1.6h0m.4 1h0m.5-1.5h0m0 5.9h0m.3-29.8h0m.2-4.8h0m.1 5.8h0m.4 4.1h0m.2 1.1h0m.2-2.7h0m.1 5h0m0-1.7h0m.4 2h0m.4 3.7h0m.1 2.7h0m0 .5h0m0 .4h0m.3 12.6h0m1.7-7.9h0m.4-5h0m1.2-7.3h0m.3 17.8h0m.7-35.5h0m1-4h0m.3 36.4h0m.1-42h0m0-1h0m.2-8h0m.3-5.1h0m0 29.5h0m.1-22.6h0m.2 54.9h0m.1-59.5h0m0 17h0m.1 42.5h0m0-4.8h0m.1-21.5h0m0-11.1h0m.1-10h0m.3-2.3h0m.1-1.4h0m.3 58.1h0m.2-53.5h0m.2 58h0m0-10.1h0m.2-58.5h0m.5 10h0m.1 1.6h0m0-2h0m.5 1.9h0m.1 59.7h0m0 1.1h0m0-2.2h0m.2-66.8h0m.1 65.1h0m.7 4.8h0m0-6h0m.1-56.8h0m.1-6.1h0m.2 20h0m.3-8.4h0m.4 57.2h0m.1-5h0m.1 5.8h0m.1-49.4h0m.5 45.5h0m.2-47.7h0m.4 46.8h0m.7-41.6h0m1 1h0m.1 9.2h0m.5 .1h0m.1 1.2h0m.3-2.6h0m1.1 3.7h0m.1-9.4h0m0 45.6h0m.2-36.7h0m.2 41h0m.1-3.2h0m.1-34.9h0m.7 41.2h0m.2-37.9h0m.1 .3h0m.2-1.5h0m.3-2.3h0m.1 33.3h0m.1 8h0m.6-10.4h0m.1-37.7h0m0 .2h0m.1 8.9h0m.2-6.6h0m0 44h0m0-1h0m.4-36.1h0m.1 36.1h0m0-38.1h0m.5-7.7h0m.4 37.1h0m.1-32.7h0m.1 31.1h0m.2 4.8h0m.1-46.9h0m.1-2.1h0m.7-3h0m.2-6h0m.2 50.9h0m.4 3.4h0m.3-72.6h0m.1 69.9h0m.2-60.8h0m.1-8.3h0m0 65.8h0m.1-62.9h0m0 22h0m.1 5.4h0m.3-19.3h0m0-8.4h0m.1 62.5h0m0-61.5h0m0 13.9h0m.1-11.4h0m0-44.9h0m0 3.6h0m0 21.5h0m0 7.2h0m.1 70.8h0m.1-48.2h0m.3-6.6h0m.2 55h0m.2 3.6h0m.2-62.7h0m.2-3.4h0m.4 5.8h0m0-.4h0m.1-33.6h0m0 5.4h0m.3 21.4h0m0 70.8h0m.1-64h0m.3 56.8h0m.1-62.7h0m0 64.2h0m.6 5.6h0m.2-72.5h0m.1 10.4h0m0 55.8h0m0-50h0m0 51.6h0m.1-66.7h0m.5 66.2h0m.3-57.9h0m.1-37.1h0m0 24.2h0m0 6.6h0m.1 63.6h0m0-2.6h0m.8 3.8h0m.2-60.7h0m.2 6.8h0m.8 4.1h0m.4 52.2h0m.4-44.3h0m.2 38.4h0m.5 7.7h0m.1-48.7h0m.1-1.1h0m.4 42.8h0m.2 .1h0m.4-37.2h0m.1-.8h0m.7 47.2h0m.1-44.8h0m.3 38h0m.1-42.9h0m0 .9h0m.5 3.6h0m.4 4.5h0m0-.1h0m.2 36.8h0m1.1-31.9h0m.6 36.9h0m.2 1.6h0m0 .5h0m.1-5.2h0m.8-30.7h0m.1-7.5h0m.2 41.6h0m.2-6.4h0m.1-27.2h0m.4 26.3h0m0 .8h0m.1 5.1h0m.2-32.3h0m.2-1h0m1-3h0m1.2 10.8h0m.4-.8h0m0 4h0m.3 17.4h0m.4 2.2h0m.1-18.3h0m0-2.5h0m.9 1.8h0m.2 19.2h0m.3-23.2h0m.7 22.7h0m.2-16.4h0m.5 1h0m.1-6.6h0m0 1.7h0m.6 3.5h0m.1-2.5h0m.1 2.9h0m.4 1.1h0m.8 18.3h0m1.8-19.1h0m0 .1h0m.2-4.9h0m.1 0h0m.1 25h0m.4 .3h0m.3-50h0m0 10.2h0m.1 19.3h0m.1 19.7h0m.3-3.2h0m.1-15.4h0m1.6 16.4h0m.2-.3h0m.6-.8h0m0-19.2h0m0 19.2h0m.3-19.3h0m0 20.3h0m.9-17.8h0m.2-1.7h0m.5 .8h0m.3 22.1h0m.3-21.2h0m0 21.1h0m.3-3.3h0m.2-1.6h0m.4 6.2h0m.1-35.9h0m.3-11.3h0m.6 42.8h0m.1 5h0m.4-24.9h0m0 25.2h0m1.3-24h0m.3 1.5h0m.1 22.8h0m.2-19.2h0m.1 15.4h0m.2-31.5h0m.7-12.6h0m.1 43.7h0m.1 1.4h0m.5-1.2h0m.2-15.2h0m.4-6.1h0m.7 3.6h0m.9 2.7h0m.1 14.9h0m.7-13.2h0m1.4 14h0m.1-.4h0m.4-19h0m.9 18.1h0m1.1-22.2h0m.9 19.5h0m1.2-16.1h0m.3 18.2h0m.4 3h0m.1 1.6h0m.1-5.3h0m.6-17.2h0m.5 1.2h0m.3-1.5h0m.4 16.7h0m.2 6.7h0m.4-22.5h0m.1-5.5h0m.5 3h0m1.2 1.4h0m1.2-1.3h0m0 5.7h0m.2 16.8h0m.1 .1h0m.3-21.1h0m.1 18.1h0m.8-14.3h0m.2-6.8h0m0 3.6h0m.8-1.5h0m.8 18.3h0m.2-17h0m1.4 20.9h0m.2-3.6h0m.4 3.3h0m0-24.5h0m0 21.8h0m.3 4h0m0-7.8h0m1.1 26.7h0m0 36.7h0m0 23.3h0m0 18.8h0m0 2.7h0m.5-81.8h0m0 37.1h0m0 22.9h0m0 18.8h0m0 3.3h0m.3-108.1h0m.1-19.1h0m1.2 21.2h0m.3 0h0m.2 2.4h0m.7-28.1h0m0 29.7h0m.9-.2h0m0-26h0m.6 1.6h0m.7 .4h0m.3 1.8h0m.7-7.6h0m.1 3h0m.1 24.8h0m.7-23.2h0m.2-20.5h0m.1 14.1h0m.5 7.9h0m0-1.8h0m.5 25.6h0m.3-21.3h0m.1 .2h0m1-1.8h0m0 3h0m0-6.5h0m.8 8.3h0m.7-5.4h0m.6 3.7h0m.5 20.6h0m0-25.1h0m.1 2.1h0m.8 17.5h0m.3 .3h0m.6-22.7h0m.1 29.5h0m.2-27h0m.1 21.2h0m.1 1.6h0m.2-24.5h0m0-3h0m.1 26.6h0m0-22h0m.3 21.6h0m.1 7.1h0m.2-27.2h0m.1-.9h0m.2-2.7h0m0 29h0m.2-32h0m.2 1.7h0m.1-1.5h0m.1 30.9h0m.3-31.1h0m.2 35.6h0m.1 23.3h0m.4-52.7h0m.3 60.1h0m.3-62.9h0m.2 69.1h0m.3 .2h0m.4-73.4h0m.4 9.7h0m.1-7.4h0m.2 72.7h0m.3-66.3h0m0-3.2h0m1.3 70.7h0m.2-.5h0m.1 5.7h0m.1-78.6h0m.5 83.6h0m.5-9.9h0m.1 1.4h0m0-63.8h0m0 65.4h0m0-64.6h0m.1 .1h0m0 1.9h0m.2 60.8h0m0 11.5h0m.7 19.5h0m.4-100.4h0m.4 9.8h0m.1 68.3h0m0-68.5h0m0 59.3h0m.1-7.7h0m0 8.9h0m.1-62h0m.3 64.2h0m0 24.5h0m0 7.2h0m.7-94.7h0m.7 54.3h0m.3-62.5h0m0 53h0m.3-52.3h0m.2 7.9h0m.3 .1h0m.6-3.5h0m.1-3.2h0m.4 48.9h0m.2 4.9h0m.4-57.5h0m0 9.3h0m.3-2.4h0m0-1.4h0m.1 4.4h0m.1 43.6h0m.3-52.1h0m.3 5.8h0m0-7.2h0m.1 5h0m.8 48.2h0m0 5.9h0m.2-3.1h0m.3-7.8h0m.2 4.4h0m.2-61.7h0m.4 56.7h0m.5 2.1h0m.5-61.1h0m0 44.8h0m.1-3.2h0m.5-44.5h0m.4 10.7h0m.5-4.3h0m0 30.9h0m.1 1.2h0m.2-30.7h0m.1-1.2h0m.8-9.6h0m.2 36.8h0m.1 8.8h0m.2-43h0m0 3.8h0m.2-.7h0m1.1 30.7h0m0 6.5h0m.2-1.7h0m.3-33.6h0m.6-6.8h0m.1-3.7h0m0 8.9h0m.1 34.5h0m.3 2.9h0m.1-39.2h0m.2 36.6h0m0-39.9h0m.2-4.6h0m.2 44h0m0-38.6h0m.1 2.6h0m0 3.7h0m0 32.1h0m.5-.8h0m.2-39.2h0m1 7.4h0m.2 31.3h0m.1-22.9h0m.3-3.1h0m0-4.7h0m.1 31.7h0m.1 3.7h0m.3-4.2h0m.5 2.5h0m.2 5.8h0m.1-35.6h0m.5 35.7h0m1.2 .7h0m.3-2.1h0m.4-27.8h0m.8-1.3h0m.4 62.7h0m0-6.3h0m.3 9.7h0m.1 2.4h0m.2 2.4h0m.1 .9h0m.6-9.2h0m.1 2.8h0m.4 7.1h0m.6-68.9h0m.3 68h0m0-2.2h0m.1 6.8h0m.2 .5h0m.3-64.2h0m.2-11h0m0 67.3h0m0-57.2h0m.1 1.2h0m.3 66.3h0m.3 .9h0m.2-6.2h0m0-67.5h0m.1 74.7h0m0-10h0m.2 9.6h0m.4-67.8h0m.2 50.9h0m.1-58.7h0m0 4.2h0m.1 62.8h0m.1 7.7h0m0-10.6h0m.3 4.3h0m.1-63.3h0m.1 70.6h0m.1-8h0m.1-61.4h0m.2 3.8h0m0 57.2h0m.8-65.9h0m.2 63.6h0m.1-57.8h0m.7-5.3h0m.2 2.2h0m.1 2.2h0m.5 47.5h0m0-6.4h0m.2-43h0m.3 43.8h0m0-52.5h0m0 42.4h0m.5-.4h0m.2-37.3h0m0-5.8h0m1 6.9h0m.6-7.2h0m0 3.1h0m.2-3.1h0m.3 7.6h0m.1 .8h0m.6-6.8h0m.1 .4h0m.4 23h0m1.1-15.6h0m.1 15.3h0m.8 3.5h0m.1-22.3h0m.1 1.5h0m.2-4.9h0m.1 25.7h0m.5-18.8h0m.8-.2h0m.3 17h0m.2-1.3h0m.1-1.9h0m1-14.1h0m.1 14.5h0m.4-17.2h0m.1 22.6h0m.2-2.1h0m.1-17h0m.2 20.2h0m.4-5.7h0m.1 5h0m0-1.2h0m.5-21.7h0m.1 21h0m.1-20.9h0m.3 5.4h0m.1-3.1h0m.4-1.1h0m.8 2.8h0m.4 17.9h0m.1-18.8h0m0 21.9h0m.7-21.5h0m.1 17h0m.2 3.4h0m.5-17.9h0m.4 15.6h0m.3-14.5h0m.7 .8h0m0-1.6h0m.1 18.7h0m.5 2.8h0m.2-24h0m.2 25.2h0m.7-25.4h0m.6 3.4h0m0 21.1h0m1.3-.1h0m.1-6.8h0m.2-15.3h0m1 15.5h0m.1-.6h0m.2 2.4h0m1-18h0m.6 20.5h0m1.1-22.5h0m.5 3.8h0m.3 19.3h0m.2-.5h0m.2-.8h0m.1 2.5h0m.4-28.1h0m1 5.5h0m.2-2.5h0m.5-6.8h0m.4 33.2h0m.1-31.6h0m.1 27.5h0m.3-31.3h0m.1-.8h0m0 35.3h0m.2-3.8h0m.1-5.6h0m.1-19h0m0 26.1h0m0-26.3h0m.3-22.2h0m0 4.5h0m.1 12.3h0m.3 28.2h0m.1-1.5h0m.2-24.9h0m.1 29.8h0m.4-28.7h0m0 0h0m.4 19h0m.2-.6h0m0-.6h0m.1-23.8h0m.5 27.6h0m.7-27h0m1.3 28h0m0-21.9h0m.6 20h0m.1-22.2h0m.1 2.2h0m.1-4.4h0m.5 3.6h0m.5 19.7h0m.3-14.8h0m.1 15.8h0m.5 3.5h0m.1-3.5h0m.5 6.6h0m.2-4.6h0m.2 2.7h0m0-16.5h0m.9 18.6h0m.1-21h0m0 25.1h0m.1-6.7h0m.1-15.8h0m.2 23.7h0m.6-20.5h0m1.5 30.6h0m.8-27.2h0m.9-8.5h0m.1 31.8h0m0 6h0m.2-1.7h0m.1-37.8h0m.1 36.5h0m.1-7.3h0m.2 12.9h0m.1-7.3h0m.1-.1h0m0 4.2h0m.1 3.8h0m.1 .9h0m.3-3.1h0m0-35.4h0m0-.6h0m0 39.8h0m.4-37h0m.3-4.2h0m.2 34.1h0m.4-.4h0m.1 3h0m.1-42.9h0m0 38.7h0m.1-.6h0m.1-30.2h0m.7-.6h0m.5-.6h0m0 0h0m0 28.7h0m.1-8.5h0m.4 0h0m.6 2.6h0m.1-.9h0m.1-24.4h0m.8 5h0m.5-.5h0m.2-3.9h0m.1 30.3h0m.1-35.2h0m.5 33.1h0m.3-28.3h0m.8-3.4h0m.2 28.7h0m.3 1.9h0m.1-28.1h0m.3 30.6h0m.3-32.3h0m.1 4.4h0m.1-3.4h0m.2 22.6h0m.1-.1h0m.2-21.4h0m.1-.3h0m.1 22.3h0m.5-26.1h0m.3-3.8h0m.2 6.7h0m.4 21h0m.3-56.3h0m.2 51.5h0m.6-65.8h0m.2 12.2h0m0 27.4h0m.1 6.9h0m.2-45.3h0m0 18.4h0m.1-12.3h0m0 24.7h0m0-6.7h0m.1 37.1h0m0 1.1h0m0-64.2h0m.1-3.7h0m.1 8.5h0m0-8.8h0m.1 5h0m.1 20.1h0m.2 13.5h0m.1-29.5h0m.1-2.8h0m0 5.8h0m0 20.1h0m.2-26.8h0m0 61.9h0m0-47.9h0m.2 53.1h0m0-54.5h0m.1-18.9h0m.1 9.5h0m.4 2.8h0m.1-3h0m0-5.4h0m.2 59.2h0m.2 6.6h0m0-45.8h0m.1-10.6h0m.2-2.3h0m.2 8h0m.3-14.3h0m0 57.7h0m.1-53.9h0m.7-3.8h0m.1 64.1h0m.7-43.4h0m.2-8.2h0m0 10.4h0m.2 38.5h0m.1 3.6h0m.9-49.6h0m.5 47.6h0m.5-46.2h0m0 44.2h0m.4-34.3h0m.1-5.4h0m.2 .8h0m.1 37.3h0m.3-41h0m.2 8.6h0m.7 37.4h0m.3-42.2h0m.4 8.2h0m.7 32.6h0m.8 2.7h0m1 .3h0m.3-.2h0m.2 .5h0m.2-26.8h0m.3 2.9h0m.3-.4h0m0-5.9h0m.5 2.5h0m.5 29.3h0m1.9-19.1h0m.4 26.5h0m.2-1.2h0m.4-27.5h0m.3 2.8h0m.1 1.3h0m.2 .4h0m0 1.8h0m.1-3.2h0m.1 22.7h0m.7 .9h0m.1-27.3h0m.2 33.9h0m.1-33.3h0m.2 35h0m1.1-29.5h0m.1 29.4h0m.3 2.4h0m.5-35h0m.6 1.5h0m.4 30.7h0m0-12.2h0m.1 6.5h0m.3-23.7h0m.1-4.9h0m.3 14.4h0m.2-14.1h0m.1 19.9h0m0-17.4h0m0-5.2h0m.3 28.7h0m.1 3h0m1.1-9.6h0m.5 .9h0m.3-5.4h0m.2 .7h0m.6-2.5h0m.1-16.6h0m.1-1h0m.1 .1h0m.2-.3h0m.3 2.3h0m.3 22.3h0m.5-.4h0m.4-25.9h0m0 19.5h0m.4 2.1h0m.1-3.9h0m.8-19h0m0 28.1h0m.6-22.7h0m.5 23h0m1.2 5.8h0m.1-2.3h0m.1 9.6h0m.5-.9h0m.5 6.3h0m.3 6.7h0m.5-1.9h0m1.6 14.9h0m.1-.5h0m0-7.2h0m.2-2.3h0m.2-37.8h0m.3 45.8h0m.1-45.9h0m.8 38.1h0m0 2.3h0m.1-42.7h0m.2 47.5h0m.6-50.2h0m0-.4h0m.1 7.4h0m.4 49h0m.7-6.5h0m.2-43.6h0m.1-1.7h0m.3-3.4h0m.3 1.1h0m.1 45.5h0m.1-39.2h0m1.2-5.1h0m.4 41.1h0m1 5.6h0m.2-47.1h0m.1 35.9h0m.2-36.2h0m.5 36.2h0m.1-41h0m.1 40.9h0m.3-3.2h0m.2-2.4h0m.3-36.2h0m.3 29.6h0m.1-5h0m.2 4.6h0m.3-37.3h0m.2-7.2h0m.1 18.3h0m.2 20.7h0m0-28.3h0m.1 27.4h0m.4 14.8h0m.2-34.8h0m.1-12.4h0m.1 47.5h0m.1-41.1h0m.7 29.8h0m0-6.7h0m.1-34.7h0m.1 1.4h0m.1-2.3h0m.1 42.8h0m0-41.5h0m.2 1.9h0m.4 5h0m.5 33.5h0m0 1.1h0m.2-6.7h0m.2 .8h0m.6-28.2h0m0 29.7h0m.2-4.3h0m.2 .7h0m.1-35.2h0m.1 34.6h0m0 .1h0m.8-1.1h0m.2 3.5h0m.4-1.2h0m.1-1.7h0m.4-29.4h0m0 33.3h0m.4-6.2h0m1.1 5.3h0m0 .1h0m.5-7.7h0m.1 4.7h0m.1 3.1h0m.3-39h0m.6 5.8h0m.4 26.8h0m.7-27.4h0m.1-6.3h0m.2 38.3h0m.6-35.6h0m.7 34.5h0m.7-35.2h0m.1 31.5h0m.3-29.8h0m.4-9.1h0m.1 4.9h0m.6-5.9h0m.2 37.9h0m.1-32.4h0m.9 3.4h0m.1-8.1h0m.2 37.9h0m.5-34.7h0m.1-2.8h0m1 1.3h0m0 36.9h0m.5-34.4h0m0-7.1h0m.6 40.4h0m.2-28.8h0m.6-10.2h0m.2 2.6h0m.1 44.3h0m.4-5.8h0m.1-33.2h0m.4-3.8h0m.4 6.5h0m.1-8.3h0m.2 39.3h0m.1-38.7h0m0 6.9h0m.5 35.3h0m.1-4.8h0m.1-.5h0m.3 5h0m.5-.4h0m.5-36.3h0m.7 5h0m.1 7.9h0m.3 21.7h0m.1-30.2h0m.4-.4h0m.1 26.5h0m.5 1.8h0m.2-26.9h0m1.4 9.3h0m.5 15.7h0m.2-20.6h0m.3 3.5h0m.2 2.2h0m0-5.1h0m0 6h0m.5-2.3h0m0 21h0m.9-3.4h0m.3 .9h0m.4-17.2h0m.6-2.5h0m2.2 .9h0m.4 24.3h0m.1 1.6h0m.5-2.3h0m.7 9.5h0m0-34.6h0m0 20.8h0m.3 6.2h0m.1 5.2h0m.1 6.3h0m.1-45h0m.5 47.1h0m.1 1h0m0-15.4h0m.3 9.5h0m0 .2h0m.2-3.1h0m.7-40.2h0m.5 9.3h0m.4 37h0m.1-40.2h0m0 5.7h0m0-4.6h0m.4-6.1h0m.2 10.5h0m.1 33.6h0m.2-43.8h0m.3 1.6h0m.8 2.5h0m.2 5.4h0m.2-2.2h0m0 5.2h0m.1-4.4h0m.3 44h0m0-35.4h0m.1 35.4h0m.2-38.4h0m.2 4.1h0m.1-.6h0m.1 2.4h0m.4 .2h0m.1-6.5h0m.1 37.4h0m.6-5.5h0m.4 1.1h0m.1-26.9h0m.4-2.9h0m.6 3.9h0m.1 23.2h0m.2-.4h0m.3 0h0m0-24.1h0m.1 26.1h0m.4 4.1h0m0-33.7h0m.1 32.4h0m.3-26.6h0m1.1 22.3h0m0-29.3h0m.4 3h0m.3 34.1h0m0-.4h0m.1-32.3h0m.8 3.7h0m1-1h0m0-1.6h0m.3 23h0m1.5 5.2h0m.4-25.7h0m0 27.3h0m.2-.2h0m.1-2.1h0m0-1.7h0m.9-21.6h0m0-6.6h0m.4 2.1h0m.2 36.9h0m.1-3.9h0m.4-1.7h0m.1 4.9h0m.5-30.8h0m0 32.8h0m.1-32.4h0m.1-5.7h0m0 4.4h0m.1-1.5h0m.4 24.3h0m.6 10.3h0m.5-5.2h0m.1-29.6h0m.5 26.1h0m0 2.7h0m.1-29.4h0m1.3 27.2h0m.1-1.1h0m.2-4.7h0m.7-25.5h0m.1 0h0m.1 1.1h0m.5 17.9h0m0-21.9h0m.3 3.2h0m.2-3.5h0m1.5 28.5h0m.3-3.4h0m.2-1.2h0m.6-24h0m.4 24.1h0m.4-17h0m.6-6.3h0m.1 27.5h0m.3-21.6h0m.6 20.6h0m1.1 1.3h0m.3-24.5h0m.1 22.5h0m.3-17.5h0m.5-4.5h0m.2 21.4h0m1-19.9h0m.2-.6h0m2.2 14.5h0m.3-2.5h0m0 1.3h0m.1 6.5h0m1.2-6.1h0m1.7 0h0m.4-18.5h0m.1 14h0m.3 2.8h0m1-1.3h0m.9-20.2h0m0 17.9h0m.2-.6h0m.3-16.9h0m.6 15.1h0m.1-12.2h0m.1-5.1h0m1.2 28.5h0m.1-25.1h0m.3-4.5h0m.6 22.6h0m.2 1.8h0m.2-22.3h0m.5-2.4h0m.1 2.5h0m.2 15.9h0m.6-16.3h0m.2 23.3h0m.6 0h0m.2-19.9h0m.1 16.3h0m.8-17.7h0m.4 17.8h0m0-17.9h0m0-2.1h0m1.1 24.4h0m.5-.5h0m.1-25.3h0m0 1.6h0m.3 20.1h0m0-16.6h0m.1 22.3h0m.2-23.1h0m.3 32.8h0m0-31.2h0m.3-5.3h0m0 .7h0m.4 4.1h0m.1 35.7h0m.1-40.4h0m.1 42.7h0m.4-38.7h0m.3-2.5h0m.9 8.4h0m0 43h0m.3 6.4h0m.4-55.6h0m.6 57.8h0m0 9.1h0m.1 2.3h0m.2-63.8h0m.1-2.7h0m.3 65.1h0m.2-61.5h0m1.2 61.5h0m.1-7.7h0m1.5 6.4h0m.2-1h0m.2-11h0m.1 18.3h0m.4-56.2h0m.3 43.4h0m.2-1.4h0m.4 9.1h0m.2-57.3h0m.4 46.2h0m.4 .3h0m.3-.3h0m.3-43.3h0m1.2 37.4h0m.2-4.7h0m.1-40.5h0m.3 2.6h0m.2-1.4h0m.1 36.8h0m.7 5.6h0m.2-40.6h0m.4 28.2h0m.7-6.2h0m.2-28.9h0m.5 29.2h0m.1-33.8h0m.5 6.8h0m.5-8.3h0m.1 29.1h0m.6-6.1h0m.1-25.1h0m0 26.7h0m.1-19.5h0m.3 24.7h0m.1-.5h0m0-3h0m.1-.9h0m.1 5.1h0m.2-27.8h0m.1-.4h0m0 2.3h0m0-3.4h0m.1 25.8h0m.5 1.2h0m0-26.9h0m.5 4.2h0m.5 .6h0m1.1-5.9h0m0 .9h0m.5 4.5h0m.1 21.8h0m.9-20.6h0m.4 17.4h0m.2 2.8h0m.5-3.3h0m.1 7h0m.5-21.6h0m.1 14.7h0m.1-17.1h0m.2 23.4h0m.5-23.5h0m0-5h0m.1 5.2h0m.6 20.4h0m.1-26h0m0 24.8h0m.1 6.6h0m.1-5.3h0m.8 2.6h0m.1-23.2h0m.7-1.2h0m.1 2.1h0m0 23.4h0m.2 3h0m.2-4.7h0m.1 0h0m.1-23.5h0m.1-2.2h0m.3 7.9h0m.4 19.7h0m.5 2h0m.1-24h0m.6 21.8h0m.2-20.9h0m.1 15h0m.7-19.9h0m.2 25.6h0m0-23.4h0m.2-5.7h0m.4 3.4h0m0 20.2h0m0 1h0m1.3 1.2h0m.1-37.5h0m.3 39.9h0m.1 .8h0m.1-41.6h0m.4 40.8h0m.1-4.8h0m.1-1.6h0m.1-39h0m.6 8.3h0m.1-7.1h0m.1 3.3h0m0 39.2h0m.4-2.9h0m.2-37.9h0m.3 32.8h0m0-38h0m.3 5.1h0m1 40.2h0m1.1-7.7h0m.3 6.6h0m.1-41.4h0m.2 2.3h0m.1 1.4h0m.5 31.1h0m.1-34.6h0m.1 2.7h0m.5 32h0m0-32.6h0m.7 2.9h0m.3 30.2h0m.2-1.5h0m.1-30.8h0m.2-1.9h0m0 2.2h0m2.4 2.2h0m.6 26.4h0m.2-26.2h0m0 29.8h0m.4 2.6h0m.3-3.6h0m.1 2.6h0m.6 1.8h0m.3-29.1h0m.2 3.1h0m1.1 2h0m.1-2.1h0m.8 23.8h0m.1 8.3h0m0-2.4h0m1.6 1.9h0m.6-18.5h0m.1 .6h0m.2-2.2h0m.4-3.9h0m.2 6.5h0m.3 17.2h0m.5 5.4h0m.2 1.4h0m.2-6.7h0m1.1 .8h0m.2-.6h0m.1 .1h0m.2 .3h0m1.9 9.6h0m.1-4.5h0m.1-.1h0m.6-21.4h0m.1 18.2h0m.2 5.8h0m.5-1.1h0m.1-3.4h0m.7-3.5h0m1-21.9h0m.1 23.2h0m0-18.3h0m.2 27.1h0m.3-7.6h0m.4-23.7h0m0 28h0m.5-28.2h0m.5 30h0m.1-27.3h0m0 27h0m.3-32.3h0m.6 28.6h0m.2-40.4h0m.2 34.1h0m.1-22.4h0m.5-11.5h0m.8 35.8h0m0-35.9h0m.2 8.4h0m.2-1.1h0m.1 33.5h0m.9-6.9h0m.2-5h0m0-20.7h0m.9-7.5h0m.3 26.9h0m.4-27.6h0m0 25.1h0m.7 4.3h0m.1-6h0m.1 2.9h0m.4-2.1h0m.2 .5h0m.4-20.9h0m.2 1.5h0m.2 26.3h0m.1-8.5h0m.2-18.4h0m.1 18.3h0m.1-23.1h0m.7 6.6h0m.8-5.9h0m.5 28.9h0m0-21.4h0m.5 29.4h0m.4-33.8h0m.2 31.1h0m.4-26.7h0m.2 26h0m.1 6h0m.5 .7h0m.1-.5h0m.4-4.3h0m1.2-29.6h0m.3 34.9h0m.1-23.3h0m.2 22.8h0m.4-25.4h0m.4 5.4h0m0 23.3h0m.1-23.7h0m.8 .6h0m.1-.7h0m0 24.1h0m.1-6.6h0m.5-22.5h0m0 4.7h0m.6 22h0m1-21.8h0m0 17.5h0m1 6.8h0m.6-30.3h0m.4 5.3h0m.3 18.7h0m.8-3.5h0m0-.3h0m.8 5.9h0m0 1.7h0m.1-26.7h0m.5 22.1h0m.2-28.8h0m0 33.6h0m.5-27.4h0m.4-6.8h0m.1 30.4h0m.4-26.3h0m.1 19.2h0m.1-25.3h0m.3 33.7h0m.6-28.5h0m.1 25.6h0m.1 1.1h0m.1-4h0m.2 0h0m1.6 5.8h0m.1-5.8h0m.2-23.3h0m.2 3.1h0m.1 27h0m.5-30.3h0m1 31.3h0m.1-28.5h0m.2 24.3h0m.3-19.7h0m.1-3.9h0m.8 27.8h0m.4-7.3h0m.2-14.5h0m1.1-1.3h0m.3-1.8h0m.1-1.3h0m.3 3.8h0m.1 22.2h0m.2-23.8h0m.3-.3h0m.1 19.2h0m.1-22h0m.8 1.4h0m.4 18.4h0m.1-21.6h0m.8 25.3h0m.3-1.7h0m.1 1.4h0m.4-28.1h0m.1 26.1h0m0-2h0m.2 .5h0m.5-23.2h0m.8 .1h0m.5 1.5h0m.1 26.8h0m.7-26.8h0m.2 23.7h0m.8-32.5h0m.3 3.5h0m.4 .7h0m.3 24.8h0m.1-.6h0m.1-23.2h0m.4-4.4h0m.6 7.3h0m.1-4.2h0m.3 3.6h0m.1-4.7h0m0 4.2h0m1 2h0m.1 24.3h0m.9-21.2h0m0-7.3h0m.3 18.8h0m.3-5.4h0m.1 25h0m0-7.4h0m.3-6.4h0m.1 1.9h0m.2-25.1h0m0 19.5h0m.1 7.5h0m.9 9h0m.3-2h0m0-5.2h0m.4-23h0m.5 24.1h0m0-25.1h0m.1 23.1h0m.2-24.5h0m.1 .7h0m.2 23.6h0m.3-25.6h0m.4 22.2h0m.1-.3h0m.4 2.9h0m.2-33.5h0m.1 4.1h0m.1 31.1h0m.2-35.1h0m.4 24.5h0m.2 3.1h0m1-26.7h0m.4-7.8h0m.3 33.8h0m0 1.4h0m.1-9.3h0m.5 6.7h0m.1 1.2h0m.1-29.1h0m.4 2.1h0m.3 18.6h0m.3 4.8h0m.1 1.9h0m.2-26.9h0m.1 24.5h0m.3-22.6h0m.5 20.4h0m.4-17.3h0m.6 29.3h0m0-6.2h0m.1-26.7h0m.2 4.1h0m.4 25.8h0m0 5.7h0m0-7h0m.1 2.5h0m.2-28.7h0m.1 3.9h0m.1 .2h0m.2 27.4h0m.5 1.3h0m1.1-25.9h0m.2 1.7h0m.1 24.6h0m.2-30.9h0m.2 26.5h0m.6-23h0m0 3.6h0m.3 4.1h0m.2 20.8h0m.1-26.3h0m.3 7.6h0m0-4.9h0m0 4.1h0m.1 22h0m.7-3.4h0m.1 .6h0m.3-.1h0m.1-1.5h0m.1 3.9h0m.2-4.4h0m0-17.4h0m.2 17.7h0m.4-17.9h0m.4 17.5h0m.3 5.1h0m.3-8.4h0m.3 4.1h0m.1-22.1h0m.5-.6h0m.4 21.2h0m1.8-19.9h0m.6-3.4h0m.4 11.7h0m.3-12.1h0m.5 19h0m.1-2.1h0m1.2-16h0m.3 23.2h0m0-6.4h0m.2-1.5h0m.1 5.2h0m.3 .9h0m.4-4.1h0m2-12.9h0m.2 14.4h0m.1 1.6h0m.1-14.7h0m0 17.4h0m.1-4.6h0m.4-16.8h0m1.1 17.5h0m.1-13.5h0m1.4 8.7h0m.7-10.1h0m1 12.8h0m.9-3.1h0m.8-10.7h0m.9 19.3h0m1-3.4h0m.9-16.6h0m.5 23.2h0m.2-5.7h0m.3-18.5h0m0 24.7h0m.2-1.7h0m.3-20.8h0m1.4-2.7h0m.2 .4h0m.1-2.1h0m.2 29.8h0m.1-28.8h0m0 22.8h0m.1 3.9h0m.3-19.8h0m.6-6.9h0m0 25.6h0m.5-.1h0m0 3.5h0m1.1-21.6h0m.1 20.8h0m.7-25.7h0m1.2 .9h0m.4-.8h0m0 27.3h0m.4-25.8h0m.3 23.1h0m.2-20.5h0m.1-4.1h0m.1 25.5h0m0-4.7h0m.4-20.7h0m.4 23h0m.4-1.4h0m.1-19h0m.1 1.1h0m1.5 14.5h0m.2 2.4h0m.1 3.9h0m.2-22.4h0m.4-.5h0m0 23.8h0m.4-24.3h0m0 17.5h0m.3 2.6h0m0-19.8h0m.6 16.4h0m.3-2.1h0m.9 .6h0m.1-19.7h0m.5 23.6h0m1.3-7.1h0m0 .8h0m.2 2.5h0m.2-.1h0m.3-2.4h0m0-16.9h0m.8 .1h0m.3 2.7h0m.5 .4h0m.1 0h0m0 13.5h0m.5-13.6h0m.5 13.2h0m.3-13.9h0m1.7 17h0m1-21.8h0m.2-1.7h0m.5 23.3h0m.5-18.2h0m.8 14.2h0m.2 5.2h0m.6-20.2h0m.6 18.7h0m0-5.5h0m.4-13h0m.1-3.6h0m.1 2h0m0 .2h0m.2-3h0m.1 5.1h0m.1-.5h0m.2-1.1h0m.1 2h0m.1-4.5h0m.1 21.3h0m.2-16.9h0m1.1 11.7h0m1.1 5.7h0m1-20.9h0m.5 2.9h0m.6-1.7h0m.3 18.7h0m.2 1.2h0m0 3.2h0m.4 3.3h0m.1-25.2h0m.5 1.9h0m3.2 26.7h0m0-2.4h0m0-1.6h0m.7-3.7h0m.3-14.5h0m.6 20.4h0m.1-24.9h0m.9 .7h0m.1 18.8h0m.4-2.6h0m.2 3.2h0m.2-16.4h0m.2 18.1h0m1-19.1h0m1-.3h0m.3 20.3h0m.2-4.6h0m.7 5.6h0m.3-.3h0m1-30h0m.1 27.2h0m.1-18.2h0m.1 20h0m.2 4.1h0m.3-31.9h0m.2 .3h0m.5 32.9h0m0-23.8h0m0 .2h0m.1-7.5h0m.8 27h0m.3 2.1h0m.2-1.1h0m1 .1h0m.4-1.7h0m.2 5.6h0m.1 .7h0m.2-6.3h0m.5-18.8h0m0-.5h0m.7-2.5h0m.2 23h0m.1-.9h0m.2 7.1h0m.2-28.2h0m.7 3.4h0m.1-.5h0m.2 3.9h0m.7 19.2h0m.3-3.2h0m.6-.3h0m.8-21.9h0m.1 3.6h0m.2 20.3h0m.1 .9h0m.1-5.3h0m.4-20.5h0m1 19.4h0m.2-18.4h0m.3 27.4h0m.7-6.7h0m.1-2.1h0m.5-.4h0m.2 2h0m.2 7h0m0-9.1h0m.3 8.5h0m.1-26.7h0m.2 3h0m1.1 16.9h0m0-16.3h0m0 16.5h0m.4-15.9h0m.1 17h0m.2-.2h0m.9 .6h0m0-15.3h0m.2-6h0m.1 3.1h0m.1-3.9h0m.1-.2h0m.1 4.8h0m.1-1h0m.1 18.1h0m.4-19h0m.6 23h0m1.7-3.8h0m.4-23.2h0m.3 2.8h0m0 25.4h0m.2-24.7h0m.2 17.9h0m.2 8.4h0m0-3.3h0m.2-25.6h0m.5-.6h0m.3 27.8h0m1.5-20.6h0m.3 6.5h0m.7 16.6h0m.1-11.8h0m0 6.3h0m0-13.6h0m.2-5.3h0m0 29.3h0m.3-17.8h0" stroke="#1f77b4" stroke-width="5.6" stroke-linecap="round" fill="none"/>
<use href="#o1" fill="none" stroke="#ff7f0e" stroke-width="2.1" stroke-linejoin="round"/>
</g>
<rect x="116.5" y="38.5" width="1346.0" height="480.0" fill="none" stroke="#000" stroke-width="1.1"/>
<g stroke="#000" stroke-width="1.1">
<path d="M116.5 518.5v5"/>
<path d="M284.5 518.5v5"/>
<path d="M452.5 518.5v5"/>
<path d="M621.5 518.5v5"/>
<path d="M789.5 518.5v5"/>
<path d="M957.5 518.5v5"/>
<path d="M1125.5 518.5v5"/>
<path d="M1294.5 518.5v5"/>
<path d="M116.5 54.5h-5"/>
<path d="M116.5 154.5h-5"/>
<path d="M116.5 253.5h-5"/>
<path d="M116.5 353.5h-5"/>
<path d="M116.5 453.5h-5"/>
</g>
<clipPath id="cb"><rect x="116.5" y="575.5" width="1346.0" height="479.0"/></clipPath>
<rect x="249" y="575.5" width="560.8" height="479.0" fill="#e6e6e6"/>
<path d="M249.4 575.5V1054.5M809.4 575.5V1054.5" stroke="#dadada" stroke-width="0.8" fill="none"/>
<g stroke="#b0b0b0" stroke-width="1.11" stroke-dasharray="1.11,1.83" fill="none">
<path d="M284.5 575.5V1054.5"/>
<path d="M452.5 575.5V1054.5"/>
<path d="M621.5 575.5V1054.5"/>
<path d="M789.5 575.5V1054.5"/>
<path d="M957.5 575.5V1054.5"/>
<path d="M1125.5 575.5V1054.5"/>
<path d="M1294.5 575.5V1054.5"/>
<path d="M116.5 635.5H1462.5"/>
<path d="M116.5 734.5H1462.5"/>
<path d="M116.5 833.5H1462.5"/>
<path d="M116.5 933.5H1462.5"/>
<path d="M116.5 1032.5H1462.5"/>
</g>
<g clip-path="url(#cb)" id="datab">
<defs><path id="o7" d="M117.1 908.3C117.4 911.6 118.3 927.5 118.8 927.8C119.4 928.1 119.8 910.4 120.3 910.1C120.7 909.8 121.1 927.2 121.5 926.0C121.9 924.8 122.3 917.6 122.7 903.0C123.1 888.5 123.5 854.7 123.8 838.7C124.1 822.7 124.4 806.9 124.7 806.9C125.0 806.9 125.2 825.6 125.6 838.7C125.9 851.8 126.3 872.3 126.8 885.3C127.3 898.4 128.1 909.2 128.6 917.2C129.1 925.1 129.4 934.8 129.8 933.1C130.2 931.3 130.7 905.1 131.2 906.6C131.7 908.0 132.2 933.4 132.6 941.9C133.0 950.4 133.2 964.3 133.5 957.8C133.9 951.3 134.2 907.1 134.7 903.0C135.2 898.9 135.9 934.5 136.5 933.1C137.1 931.6 137.8 901.0 138.3 894.2C138.7 887.4 138.8 887.4 139.2 892.4C139.5 897.4 140.0 915.7 140.4 924.2C140.8 932.8 141.1 950.2 141.5 943.7C141.8 937.2 142.1 905.8 142.3 885.3C142.6 864.9 142.7 849.4 142.9 821.0C143.1 792.7 143.4 735.4 143.6 715.0C143.8 694.6 143.9 695.5 144.1 698.4C144.3 701.4 144.6 712.2 144.8 732.7C145.0 753.1 145.1 799.5 145.3 821.0C145.6 842.5 145.8 853.7 146.2 861.7C146.7 869.6 147.5 866.3 148.0 868.8C148.5 871.2 148.9 867.9 149.2 876.5C149.6 885.2 149.9 907.4 150.3 920.7C150.7 934.0 151.2 948.7 151.5 956.0C151.9 963.4 152.0 966.4 152.4 964.9C152.8 963.4 153.3 954.0 153.8 947.2C154.4 940.4 155.0 928.6 155.6 924.2C156.2 919.8 157.1 922.2 157.7 920.7C158.4 919.2 158.9 917.5 159.5 915.4C160.1 913.3 160.7 908.3 161.3 908.3C161.8 908.3 162.5 917.8 163.0 915.4C163.6 913.0 164.0 904.0 164.4 894.2C164.9 884.4 165.3 870.9 165.7 856.4C166.1 841.8 166.5 818.2 166.9 806.9C167.3 795.6 167.6 786.0 168.0 788.3C168.3 790.7 168.5 806.8 168.9 821.0C169.2 835.3 169.7 851.6 170.1 874.1C170.4 896.6 170.7 948.3 171.0 956.0C171.3 963.8 171.6 930.1 171.9 920.7C172.2 911.3 172.4 898.0 172.7 899.5C173.0 901.0 173.2 916.0 173.6 929.5C174.0 943.1 174.6 973.4 175.0 980.8C175.5 988.2 175.8 979.3 176.3 973.7C176.8 968.1 177.5 955.2 178.0 947.2C178.5 939.3 178.8 928.1 179.3 926.0C179.7 923.9 180.3 930.1 180.7 934.8C181.1 939.5 181.2 959.0 181.6 954.3C181.9 949.6 182.4 914.8 182.8 906.6C183.3 898.3 183.8 916.1 184.2 904.8C184.7 893.5 185.2 859.7 185.6 838.7C186.1 817.7 186.5 784.5 186.9 778.6C187.2 772.7 187.5 790.4 187.8 803.4C188.1 816.3 188.3 856.4 188.6 856.4C189.0 856.4 189.5 818.0 189.9 803.4C190.3 788.8 190.6 768.9 190.9 768.9C191.3 768.9 191.5 790.3 191.8 803.4C192.2 816.5 192.6 835.8 193.1 847.6C193.5 859.3 194.0 866.1 194.5 874.1C194.9 882.0 195.3 893.5 195.7 895.3C196.1 897.0 196.5 884.4 197.0 884.7C197.4 885.0 197.9 891.6 198.4 897.0C198.8 902.5 199.4 912.0 199.8 917.2C200.1 922.3 200.1 930.1 200.5 927.8C200.8 925.4 201.5 908.3 201.9 903.0C202.3 897.7 202.7 895.1 203.1 896.0C203.6 896.8 204.0 902.7 204.6 908.3C205.1 913.9 205.9 929.5 206.3 929.5C206.8 929.5 206.9 917.6 207.2 908.3C207.5 899.1 207.8 882.7 208.1 874.1C208.4 865.4 208.6 860.4 209.0 856.4C209.4 852.4 209.9 849.6 210.4 850.2C210.8 850.8 211.2 857.1 211.6 859.9C212.0 862.7 212.4 867.6 212.9 867.0C213.3 866.4 213.8 859.3 214.3 856.4C214.7 853.4 215.1 847.9 215.5 849.3C215.9 850.8 216.2 865.5 216.6 865.2C217.0 864.9 217.5 852.6 217.8 847.6C218.2 842.5 218.4 831.4 218.7 835.2C219.0 839.0 219.3 861.0 219.6 870.5C219.9 880.1 220.2 893.5 220.5 892.6C220.8 891.7 221.0 871.6 221.3 865.2C221.7 858.9 222.3 855.2 222.8 854.6C223.2 854.0 223.5 858.9 224.0 861.7C224.5 864.5 225.3 872.3 225.8 871.4C226.3 870.5 226.6 863.3 227.0 856.4C227.4 849.5 227.9 838.7 228.4 829.9C228.9 821.0 229.7 814.3 230.2 803.4C230.7 792.5 231.2 774.1 231.6 764.5C232.0 754.9 232.2 745.3 232.5 745.9C232.8 746.5 233.0 758.4 233.4 768.0C233.7 777.6 234.2 791.6 234.6 803.4C235.0 815.2 235.5 831.4 235.8 838.7C236.1 846.1 236.1 849.3 236.4 847.6C236.7 845.8 237.2 827.8 237.6 828.1C238.0 828.4 238.3 843.1 238.7 849.3C239.1 855.5 239.5 865.2 239.9 865.2C240.3 865.2 240.8 846.4 241.1 849.3C241.5 852.3 241.9 872.6 242.2 882.9C242.5 893.2 242.7 910.9 243.1 911.2C243.4 911.5 243.9 885.7 244.3 884.7C244.8 883.6 245.3 905.3 245.7 905.0C246.2 904.7 246.6 889.5 247.0 882.9C247.3 876.3 247.5 869.6 247.9 865.2C248.2 860.8 248.7 855.8 249.1 856.4C249.5 857.0 250.1 864.8 250.5 868.8C250.9 872.7 251.0 882.3 251.4 880.3C251.8 878.2 252.4 872.2 252.8 856.4C253.2 840.6 253.7 806.3 254.0 785.7C254.4 765.1 254.6 752.3 254.9 732.7C255.2 713.0 255.5 667.8 255.8 667.8C256.1 667.8 256.4 710.1 256.7 732.7C257.0 755.3 257.3 781.0 257.6 803.4C257.9 825.8 258.1 858.2 258.5 867.0C258.8 875.8 259.3 860.1 259.9 856.4C260.4 852.7 261.1 844.9 261.6 844.9C262.1 844.9 262.5 846.8 262.9 856.4C263.3 866.0 263.7 901.5 264.1 902.3C264.6 903.2 265.1 863.5 265.5 861.7C266.0 859.9 266.4 883.2 266.8 891.7C267.2 900.3 267.4 918.8 267.8 912.9C268.2 907.1 268.6 870.2 269.1 856.4C269.5 842.5 270.0 841.7 270.5 829.9C270.9 818.1 271.3 799.5 271.7 785.7C272.1 771.9 272.6 746.8 273.0 746.8C273.3 746.8 273.6 772.7 274.0 785.7C274.4 798.7 274.8 821.0 275.3 824.6C275.7 828.1 276.0 805.9 276.5 806.9C276.9 807.9 277.4 831.6 277.9 830.8C278.4 829.9 279.1 797.3 279.7 801.6C280.2 805.9 280.6 839.6 281.1 856.4C281.5 873.2 281.9 905.3 282.3 902.3C282.7 899.4 283.2 853.2 283.6 838.7C283.9 824.3 284.2 817.2 284.6 815.7C285.0 814.3 285.4 830.2 285.9 829.9C286.4 829.6 287.0 820.2 287.6 814.0C288.2 807.8 288.9 800.4 289.4 792.8C289.9 785.1 290.2 779.5 290.6 768.0C291.1 756.5 291.7 732.1 292.0 723.8C292.4 715.6 292.3 714.1 292.6 718.5C292.8 723.0 293.1 736.2 293.5 750.3C293.8 764.5 294.3 785.1 294.7 803.4C295.1 821.6 295.5 853.4 295.9 859.9C296.4 866.4 296.9 841.1 297.3 842.3C297.8 843.4 298.3 859.9 298.8 867.0C299.2 874.1 299.5 880.5 300.0 884.7C300.5 888.8 301.2 886.9 301.8 891.7C302.3 896.6 302.7 916.8 303.2 913.8C303.6 910.9 304.0 889.5 304.4 874.1C304.9 858.6 305.4 837.2 305.8 821.0C306.2 804.8 306.4 777.7 306.7 776.9C307.1 776.0 307.5 817.2 307.9 815.7C308.4 814.3 308.8 790.1 309.2 768.0C309.6 746.0 309.9 686.3 310.2 683.4C310.6 680.4 310.8 727.4 311.1 750.3C311.5 773.3 311.9 809.6 312.4 821.0C312.9 832.5 313.6 816.3 314.1 819.3C314.6 822.2 314.9 833.9 315.4 838.7C315.9 843.6 316.6 847.9 317.1 848.4C317.7 849.0 318.0 844.5 318.6 842.3C319.1 840.0 319.8 834.3 320.3 835.2C320.8 836.1 321.1 842.3 321.6 847.6C322.0 852.9 322.6 861.4 323.0 867.0C323.4 872.6 323.6 885.8 323.9 881.1C324.2 876.4 324.4 849.9 324.7 838.7C325.0 827.5 325.2 814.6 325.6 814.0C326.0 813.4 326.6 839.9 327.0 835.2C327.5 830.5 327.9 802.8 328.3 785.7C328.7 768.6 329.1 745.7 329.5 732.7C329.9 719.6 330.2 707.3 330.6 707.3C331.0 707.3 331.4 722.5 331.8 732.7C332.2 742.8 332.7 756.8 333.0 768.0C333.4 779.2 333.7 795.1 334.1 799.8C334.5 804.5 334.9 795.7 335.3 796.3C335.8 796.9 336.2 800.6 336.6 803.4C337.0 806.2 337.3 814.6 337.6 813.1C338.0 811.6 338.5 802.0 338.9 794.5C339.2 787.0 339.5 776.0 339.8 768.0C340.1 760.1 340.4 746.8 340.6 746.8C340.9 746.8 341.3 739.0 341.5 768.0C341.8 797.1 341.8 879.3 342.1 921.2C342.5 963.2 343.2 1007.4 343.7 1019.7C344.1 1032.0 344.0 999.5 344.7 994.9C345.4 990.4 347.1 992.6 348.0 992.3C348.8 992.0 349.1 994.0 349.7 993.2C350.3 992.3 351.0 986.4 351.5 987.0C352.0 987.6 352.3 995.4 352.7 996.7C353.2 998.0 353.6 994.5 354.1 994.9C354.7 995.4 355.3 999.9 355.9 999.3C356.5 998.8 357.1 992.4 357.7 991.4C358.3 990.4 358.9 993.5 359.4 993.2C360.0 992.9 360.3 990.7 360.9 989.6C361.4 988.6 362.0 986.4 362.6 987.0C363.2 987.6 363.8 991.8 364.4 993.2C365.0 994.5 365.6 994.8 366.2 994.9C366.7 995.1 367.3 995.1 367.9 994.0C368.5 993.0 369.0 990.1 369.7 988.7C370.3 987.4 371.2 986.7 371.8 986.1C372.5 985.5 373.1 984.9 373.6 985.2C374.1 985.5 374.6 987.7 375.0 987.9C375.4 988.0 375.8 984.9 376.2 986.1C376.6 987.3 377.0 992.9 377.5 994.9C377.9 997.0 378.4 998.9 378.9 998.5C379.4 998.0 380.1 993.5 380.7 992.3C381.2 991.1 381.9 993.6 382.4 991.4C382.9 989.2 383.4 981.8 383.8 979.0C384.3 976.2 384.7 974.0 385.1 974.6C385.5 975.2 385.9 981.4 386.3 982.6C386.7 983.7 387.2 981.1 387.7 981.7C388.3 982.3 388.9 984.5 389.5 986.1C390.1 987.7 390.7 993.5 391.3 991.4C391.8 989.3 392.2 978.0 392.7 973.7C393.1 969.4 393.5 965.3 393.9 965.8C394.3 966.2 394.7 975.6 395.1 976.4C395.6 977.1 396.1 969.4 396.6 970.2C397.0 970.9 397.5 977.3 398.0 980.8C398.4 984.3 398.7 991.0 399.2 991.4C399.7 991.8 400.5 984.3 401.0 983.4C401.5 982.6 401.7 984.5 402.2 986.1C402.7 987.7 403.4 992.3 404.0 993.2C404.6 994.0 405.2 990.5 405.7 991.4C406.3 992.3 406.7 996.4 407.2 998.5C407.6 1000.5 408.1 1002.4 408.6 1003.8C409.0 1005.1 409.4 1007.3 409.8 1006.4C410.2 1005.5 410.6 1000.8 411.0 998.5C411.5 996.1 412.0 992.6 412.5 992.3C412.9 992.0 413.3 995.4 413.9 996.7C414.4 998.0 415.1 999.1 415.6 1000.2C416.2 1001.4 416.7 1006.4 417.2 1003.8C417.7 1001.1 418.3 989.2 418.6 984.3C419.0 979.5 419.2 972.5 419.5 974.6C419.9 976.7 420.4 993.2 420.9 996.7C421.5 1000.2 422.2 994.6 422.7 995.8C423.2 997.0 423.5 1001.4 424.0 1003.8C424.5 1006.1 425.1 1008.5 425.7 1010.0C426.3 1011.4 426.9 1012.7 427.5 1012.6C428.1 1012.5 428.7 1010.8 429.3 1009.1C429.8 1007.3 430.2 1003.9 430.7 1002.0C431.1 1000.1 431.4 997.6 431.9 997.6C432.4 997.6 433.1 1000.7 433.7 1002.0C434.3 1003.3 434.9 1005.1 435.4 1005.5C436.0 1006.0 436.6 1004.5 437.2 1004.6C437.9 1004.8 438.6 1006.1 439.3 1006.4C440.1 1006.7 440.8 1007.0 441.6 1006.4C442.5 1005.8 443.4 1003.6 444.3 1002.9C445.2 1002.1 446.0 1002.4 446.9 1002.0C447.8 1001.6 448.8 1000.4 449.6 1000.2C450.4 1000.1 451.0 1001.1 451.7 1001.1C452.4 1001.1 453.3 1000.2 454.0 1000.2C454.7 1000.2 455.2 1001.1 455.8 1001.1C456.4 1001.1 457.0 1001.6 457.5 1000.2C458.0 998.9 458.3 994.9 458.8 993.2C459.2 991.4 459.7 992.9 460.2 989.6C460.7 986.4 461.2 979.0 461.6 973.7C462.0 968.4 462.5 960.6 462.8 957.8C463.2 955.0 463.4 954.9 463.7 956.9C464.0 959.0 464.3 964.7 464.6 970.2C464.9 975.6 465.1 985.5 465.5 989.6C465.9 993.7 466.4 993.6 466.9 994.9C467.4 996.3 468.1 996.7 468.7 997.6C469.3 998.5 469.8 1000.4 470.4 1000.2C471.0 1000.1 471.6 997.0 472.2 996.7C472.8 996.4 473.4 998.9 474.0 998.5C474.6 998.0 475.1 994.6 475.7 994.0C476.4 993.5 477.2 994.5 477.9 994.9C478.6 995.4 479.2 996.4 480.0 996.7C480.7 997.0 481.6 997.1 482.3 996.7C483.0 996.3 483.5 994.2 484.0 994.0C484.6 993.9 485.2 996.4 485.8 995.8C486.4 995.2 487.1 991.2 487.6 990.5C488.1 989.8 488.4 990.4 488.8 991.4C489.3 992.4 489.7 995.4 490.2 996.7C490.8 998.0 491.4 998.3 492.0 999.3C492.6 1000.4 493.1 1001.8 493.8 1002.9C494.4 1003.9 495.1 1005.2 495.9 1005.5C496.6 1005.8 497.5 1005.4 498.2 1004.6C498.9 1003.9 499.4 1001.8 500.0 1001.1C500.5 1000.4 501.1 1000.7 501.7 1000.2C502.3 999.8 502.9 999.6 503.5 998.5C504.1 997.3 504.7 994.5 505.3 993.2C505.8 991.8 506.4 992.0 507.0 990.5C507.6 989.0 508.3 984.5 508.8 984.3C509.3 984.2 509.6 988.4 510.0 989.6C510.5 990.8 511.0 991.7 511.4 991.4C511.9 991.1 512.4 987.0 512.9 987.9C513.3 988.7 513.6 996.3 514.1 996.7C514.5 997.1 515.1 990.8 515.5 990.5C515.9 990.2 516.2 994.8 516.7 994.9C517.2 995.1 518.0 992.1 518.5 991.4C519.0 990.7 519.5 989.3 519.9 990.5C520.4 991.7 520.7 996.7 521.2 998.5C521.7 1000.2 522.3 1001.6 522.9 1001.1C523.5 1000.7 524.1 997.0 524.7 995.8C525.3 994.6 525.9 994.2 526.5 994.0C527.1 993.9 527.6 994.6 528.2 994.9C528.9 995.2 529.8 995.5 530.5 995.8C531.3 996.1 532.0 997.0 532.6 996.7C533.3 996.4 533.8 995.1 534.4 994.0C535.1 993.0 535.9 991.0 536.5 990.5C537.1 990.1 537.4 990.7 537.9 991.4C538.5 992.1 539.1 993.5 539.7 994.9C540.3 996.4 540.9 998.5 541.5 1000.2C542.1 1002.0 542.7 1004.2 543.3 1005.5C543.8 1006.9 544.3 1007.7 545.0 1008.2C545.8 1008.6 546.8 1008.0 547.7 1008.2C548.6 1008.3 549.4 1009.1 550.3 1009.1C551.2 1009.1 552.1 1008.5 553.0 1008.2C553.9 1007.9 554.7 1008.3 555.6 1007.3C556.5 1006.3 557.5 1002.0 558.3 1002.0C559.0 1002.0 559.3 1006.1 560.0 1007.3C560.8 1008.5 561.8 1009.2 562.7 1009.1C563.6 1008.9 564.6 1006.4 565.3 1006.4C566.1 1006.4 566.5 1009.7 567.1 1009.1C567.7 1008.5 568.3 1003.5 568.9 1002.9C569.5 1002.3 569.9 1005.2 570.6 1005.5C571.4 1005.8 572.5 1005.1 573.3 1004.6C574.1 1004.2 574.8 1004.8 575.4 1002.9C576.0 1001.0 576.4 996.0 576.8 993.2C577.2 990.4 577.4 986.7 577.7 986.1C578.1 985.5 578.6 991.7 579.0 989.6C579.3 987.6 579.6 978.1 580.0 973.7C580.4 969.3 581.0 960.8 581.4 963.1C581.9 965.5 582.2 982.1 582.7 987.9C583.2 993.6 583.9 998.8 584.4 997.6C584.9 996.4 585.3 985.9 585.8 980.8C586.3 975.6 586.9 969.9 587.4 966.6C587.9 963.4 588.4 960.5 588.8 961.3C589.3 962.2 589.8 969.4 590.3 972.0C590.7 974.5 591.1 976.7 591.5 976.4C591.9 976.1 592.2 972.2 592.7 970.2C593.2 968.1 594.0 963.7 594.5 964.0C595.0 964.3 595.4 969.4 595.9 972.0C596.4 974.5 596.9 980.5 597.3 979.0C597.8 977.5 598.1 967.8 598.6 963.1C599.0 958.4 599.4 952.2 599.8 950.7C600.2 949.3 600.5 951.0 600.9 954.3C601.2 957.5 601.7 966.9 602.1 970.2C602.5 973.4 602.8 973.6 603.3 973.7C603.8 973.9 604.5 971.4 605.1 971.1C605.7 970.8 606.3 972.4 606.9 972.0C607.5 971.5 608.0 967.5 608.6 968.4C609.2 969.3 609.9 974.9 610.4 977.3C610.9 979.6 611.1 983.4 611.5 982.6C611.8 981.7 612.2 972.2 612.7 972.0C613.2 971.7 613.9 977.0 614.5 980.8C615.0 984.6 615.4 991.1 615.9 994.9C616.3 998.8 616.7 1005.5 617.1 1003.8C617.6 1002.0 618.1 985.5 618.5 984.3C619.0 983.1 619.4 993.3 619.8 996.7C620.2 1000.1 620.5 1004.1 621.0 1004.6C621.5 1005.2 622.2 1001.8 622.8 1000.2C623.4 998.6 623.9 995.4 624.5 994.9C625.1 994.5 625.7 997.3 626.3 997.6C626.9 997.9 627.5 996.1 628.1 996.7C628.7 997.3 629.2 1000.1 629.8 1001.1C630.5 1002.1 631.5 1001.7 632.1 1002.9C632.8 1004.1 633.3 1008.6 633.9 1008.2C634.5 1007.7 635.1 1001.1 635.7 1000.2C636.3 999.3 636.9 1005.5 637.4 1002.9C638.0 1000.2 638.5 989.2 638.9 984.3C639.2 979.5 639.4 972.0 639.7 973.7C640.1 975.5 640.6 989.5 641.0 994.9C641.4 1000.4 641.8 1007.0 642.2 1006.4C642.7 1005.8 643.2 992.9 643.6 991.4C644.1 989.9 644.5 997.9 645.0 997.6C645.6 997.3 646.2 993.6 646.8 989.6C647.4 985.6 648.1 978.7 648.6 973.7C649.1 968.7 649.4 964.1 649.8 959.6C650.2 955.0 650.7 946.9 651.0 946.3C651.4 945.7 651.7 951.5 652.1 956.0C652.5 960.6 652.9 973.7 653.3 973.7C653.8 973.7 654.1 961.3 654.6 956.0C655.0 950.7 655.5 946.9 656.0 941.9C656.5 936.9 657.0 924.8 657.4 926.0C657.9 927.2 658.3 940.4 658.6 949.0C659.0 957.5 659.2 969.7 659.5 977.3C659.8 984.8 660.1 992.9 660.4 994.0C660.8 995.2 661.2 985.6 661.7 984.3C662.1 983.0 662.6 984.9 663.1 986.1C663.5 987.3 664.0 989.6 664.5 991.4C665.0 993.2 665.7 997.4 666.2 996.7C666.8 996.0 667.4 987.6 668.0 987.0C668.6 986.4 669.3 993.3 669.8 993.2C670.3 993.0 670.6 988.7 671.0 986.1C671.4 983.4 671.8 976.7 672.3 977.3C672.7 977.8 673.2 985.5 673.7 989.6C674.1 993.7 674.6 999.3 675.1 1002.0C675.5 1004.6 675.9 1003.8 676.3 1005.5C676.7 1007.3 677.2 1010.5 677.6 1012.6C677.9 1014.7 678.2 1017.6 678.6 1017.9C679.1 1018.2 679.8 1015.8 680.4 1014.4C681.0 1012.9 681.6 1010.2 682.2 1009.1C682.7 1007.9 683.4 1007.0 683.9 1007.3C684.4 1007.6 684.8 1011.7 685.2 1010.8C685.5 1010.0 685.7 1006.4 686.0 1002.0C686.4 997.6 687.0 988.4 687.5 984.3C687.9 980.2 688.3 977.0 688.7 977.3C689.1 977.5 689.5 983.9 689.9 986.1C690.4 988.3 690.9 989.6 691.3 990.5C691.8 991.4 692.3 989.8 692.8 991.4C693.2 993.0 693.6 999.8 694.0 1000.2C694.4 1000.7 694.8 994.9 695.2 994.0C695.7 993.2 696.2 993.0 696.6 994.9C697.1 996.8 697.6 1004.5 698.1 1005.5C698.5 1006.6 698.8 1001.1 699.3 1001.1C699.8 1001.1 700.6 1007.2 701.1 1005.5C701.6 1003.9 701.9 995.2 702.3 991.4C702.7 987.6 703.0 982.6 703.4 982.6C703.7 982.6 704.2 990.5 704.6 991.4C705.0 992.3 705.4 990.2 705.8 987.9C706.3 985.5 706.8 982.3 707.3 977.3C707.7 972.2 708.2 961.3 708.7 957.8C709.1 954.3 709.6 960.8 709.9 956.0C710.3 951.3 710.5 938.4 710.8 929.5C711.1 920.7 711.4 909.2 711.7 903.0C712.0 896.8 712.3 892.4 712.6 892.4C712.9 892.4 713.1 896.8 713.4 903.0C713.8 909.2 714.2 920.1 714.7 929.5C715.1 939.0 715.7 950.7 716.1 959.6C716.5 968.4 716.7 976.1 717.0 982.6C717.3 989.0 717.4 996.3 717.9 998.5C718.3 1000.7 719.0 997.0 719.6 995.8C720.2 994.6 720.9 994.5 721.4 991.4C721.9 988.3 722.4 982.0 722.8 977.3C723.2 972.5 723.6 964.9 724.0 963.1C724.5 961.3 724.8 963.4 725.3 966.6C725.7 969.9 726.3 983.7 726.7 982.6C727.1 981.4 727.3 965.2 727.6 959.6C727.9 954.0 728.1 946.6 728.5 949.0C728.8 951.3 729.5 967.8 729.9 973.7C730.2 979.6 730.3 986.1 730.6 984.3C730.9 982.6 731.3 968.4 731.6 963.1C731.9 957.8 732.0 950.2 732.4 952.5C732.7 954.9 733.3 970.5 733.8 977.3C734.2 984.0 734.7 988.7 735.2 993.2C735.6 997.6 736.0 1000.8 736.4 1003.8C736.8 1006.7 737.3 1011.7 737.7 1010.8C738.0 1010.0 738.3 1002.0 738.7 998.5C739.1 994.9 739.5 989.3 740.0 989.6C740.4 989.9 740.7 997.6 741.2 1000.2C741.6 1002.9 742.1 1006.6 742.6 1005.5C743.1 1004.5 743.6 994.6 744.0 994.0C744.5 993.5 744.8 1000.1 745.3 1002.0C745.8 1003.9 746.4 1005.2 747.0 1005.5C747.6 1005.8 748.3 1003.6 748.8 1003.8C749.3 1003.9 749.6 1005.2 750.0 1006.4C750.5 1007.6 750.9 1009.4 751.4 1010.8C752.0 1012.3 752.6 1017.0 753.2 1015.3C753.8 1013.5 754.4 1004.2 755.0 1000.2C755.5 996.3 755.9 994.3 756.4 991.4C756.8 988.4 757.2 985.2 757.6 982.6C758.0 979.9 758.4 975.2 758.9 975.5C759.3 975.8 759.8 982.0 760.3 984.3C760.7 986.7 761.2 987.9 761.7 989.6C762.1 991.4 762.5 997.0 762.9 994.9C763.3 992.9 763.7 981.8 764.2 977.3C764.6 972.7 765.1 967.5 765.6 967.5C766.0 967.5 766.6 972.4 767.0 977.3C767.4 982.1 767.8 997.9 768.2 996.7C768.6 995.5 769.1 977.8 769.5 970.2C769.8 962.5 770.2 951.9 770.5 950.7C770.8 949.6 770.9 956.3 771.2 963.1C771.5 969.9 772.0 984.6 772.3 991.4C772.6 998.2 772.7 1004.6 773.0 1003.8C773.3 1002.9 773.7 986.8 774.1 986.1C774.4 985.4 774.9 999.6 775.3 999.3C775.7 999.1 776.1 988.6 776.5 984.3C777.0 980.1 777.5 973.1 777.9 973.7C778.4 974.3 778.9 982.3 779.4 987.9C779.8 993.5 780.2 1003.6 780.6 1007.3C781.0 1011.0 781.0 1010.5 781.5 1010.0C781.9 1009.4 782.6 1004.9 783.3 1003.8C783.9 1002.6 784.7 1001.7 785.4 1002.9C786.0 1004.1 786.6 1009.2 787.1 1010.8C787.7 1012.5 788.0 1013.8 788.6 1012.6C789.1 1011.4 789.7 1004.9 790.3 1003.8C790.9 1002.6 791.6 1003.5 792.1 1005.5C792.6 1007.6 793.1 1018.5 793.5 1016.1C793.9 1013.8 794.4 997.3 794.7 991.4C795.1 985.5 795.2 979.3 795.6 980.8C796.0 982.3 796.6 994.9 797.0 1000.2C797.5 1005.5 797.8 1010.0 798.3 1012.6C798.8 1015.3 799.3 1015.8 800.0 1016.1C800.7 1016.4 801.8 1014.2 802.7 1014.4C803.5 1014.5 804.6 1016.7 805.3 1017.0C806.0 1017.3 806.5 1017.2 807.1 1016.1C807.7 1015.1 808.2 1012.9 808.8 1010.8C809.4 1008.8 810.1 1004.6 810.6 1003.8C811.1 1002.9 811.5 1004.4 812.0 1005.5C812.5 1006.7 813.2 1010.5 813.8 1010.8C814.4 1011.1 815.1 1009.7 815.6 1007.3C816.1 1004.9 816.4 999.6 816.8 996.7C817.2 993.7 817.6 989.0 818.0 989.6C818.5 990.2 819.0 997.4 819.4 1000.2C819.9 1003.0 820.3 1005.2 820.9 1006.4C821.4 1007.6 822.0 1008.0 822.6 1007.3C823.2 1006.6 823.9 1003.2 824.4 1002.0C824.9 1000.8 825.1 999.3 825.6 1000.2C826.1 1001.1 826.7 1005.2 827.4 1007.3C828.1 1009.4 829.0 1012.9 829.7 1012.6C830.4 1012.3 830.9 1007.0 831.5 1005.5C832.0 1004.1 832.6 1003.5 833.2 1003.8C833.8 1004.1 834.4 1007.6 835.0 1007.3C835.6 1007.0 836.3 1002.6 836.8 1002.0C837.3 1001.4 837.6 1002.4 838.0 1003.8C838.4 1005.1 838.7 1009.7 839.2 1010.0C839.7 1010.2 840.5 1006.6 841.0 1005.5C841.5 1004.5 842.0 1006.4 842.4 1003.8C842.9 1001.1 843.3 996.1 843.7 989.6C844.0 983.1 844.2 964.0 844.5 964.9C844.9 965.8 845.3 996.4 845.6 994.9C845.9 993.5 846.1 974.0 846.3 956.0C846.5 938.1 846.6 906.6 846.8 887.1C847.1 867.6 847.4 854.3 847.7 839.0C848.0 823.8 848.2 791.0 848.6 795.7C849.0 800.5 849.6 846.8 850.0 867.7C850.4 888.5 850.6 914.8 850.9 920.7C851.2 926.6 851.3 916.6 851.6 903.0C851.9 889.4 852.2 846.7 852.5 839.0C852.8 831.4 853.2 845.8 853.6 857.1C853.9 868.3 854.3 903.6 854.8 906.6C855.2 909.5 855.8 885.8 856.2 874.7C856.6 863.6 857.0 841.4 857.4 839.9C857.9 838.5 858.3 854.8 858.7 865.9C859.1 877.0 859.4 903.3 859.7 906.6C860.1 909.8 860.6 890.7 861.0 885.3C861.4 880.0 861.8 874.4 862.2 874.7C862.7 875.0 863.2 883.3 863.6 887.1C864.1 890.9 864.6 898.0 865.0 897.7C865.5 897.4 865.9 888.4 866.3 885.3C866.6 882.3 866.7 874.3 867.2 879.2C867.6 884.0 868.4 912.0 868.9 914.5C869.4 917.0 869.8 899.9 870.2 894.2C870.5 888.4 870.8 880.6 871.2 880.0C871.6 879.5 872.0 889.8 872.5 890.7C872.9 891.5 873.4 881.8 873.9 885.3C874.3 888.9 874.8 904.5 875.1 911.9C875.5 919.2 875.6 932.5 876.0 929.5C876.4 926.6 876.8 894.8 877.2 894.2C877.7 893.6 878.2 924.5 878.6 926.0C879.1 927.5 879.6 905.7 880.1 903.0C880.5 900.4 880.9 910.1 881.3 910.1C881.7 910.1 882.3 911.9 882.7 903.0C883.2 894.2 883.6 869.6 884.0 857.1C884.3 844.5 884.5 827.6 884.8 827.6C885.2 827.6 885.7 849.2 886.1 857.1C886.4 864.9 886.7 868.9 887.0 874.7C887.3 880.6 887.6 891.5 887.8 892.4C888.1 893.3 888.0 876.8 888.4 880.0C888.7 883.3 889.3 901.5 889.8 911.9C890.2 922.2 890.6 939.5 891.0 941.9C891.4 944.3 891.8 926.3 892.3 926.0C892.7 925.7 893.2 937.5 893.7 940.1C894.1 942.8 894.5 945.1 894.9 941.9C895.3 938.7 895.6 927.5 896.0 920.7C896.3 913.9 896.5 900.7 896.9 901.3C897.2 901.8 897.7 918.0 898.1 924.2C898.5 930.4 898.9 941.9 899.3 938.4C899.7 934.8 900.1 913.0 900.4 903.0C900.7 893.0 901.0 879.8 901.3 878.3C901.6 876.8 901.8 887.1 902.2 894.2C902.5 901.3 903.0 911.6 903.4 920.7C903.8 929.8 904.2 945.0 904.6 949.0C905.1 953.0 905.6 942.5 906.0 944.6C906.5 946.6 907.0 956.5 907.5 961.3C907.9 966.2 908.3 974.0 908.7 973.7C909.1 973.4 909.5 964.0 909.9 959.6C910.4 955.2 910.9 949.7 911.3 947.2C911.8 944.7 912.3 946.9 912.8 944.6C913.2 942.2 913.6 937.0 914.0 933.1C914.4 929.1 914.8 923.1 915.2 920.7C915.7 918.3 916.2 918.0 916.6 918.9C917.1 919.8 917.6 924.5 918.1 926.0C918.5 927.5 918.9 931.6 919.3 927.8C919.7 923.9 920.1 909.2 920.5 903.0C921.0 896.8 921.5 891.8 922.0 890.7C922.4 889.5 922.9 893.0 923.4 896.0C923.8 898.9 924.2 904.5 924.6 908.3C925.0 912.2 925.4 919.8 925.8 918.9C926.3 918.0 926.9 908.3 927.3 903.0C927.6 897.7 927.8 886.8 928.1 887.1C928.4 887.4 928.7 900.7 929.0 904.8C929.3 908.9 929.6 916.9 929.9 911.9C930.2 906.9 930.5 882.1 930.8 874.7C931.1 867.4 931.4 872.1 931.7 867.7C932.0 863.3 932.2 853.5 932.6 848.2C932.9 842.9 933.5 834.4 934.0 835.9C934.4 837.3 934.8 846.5 935.2 857.1C935.6 867.7 936.1 896.5 936.4 899.5C936.8 902.4 937.2 884.8 937.5 874.7C937.8 864.7 937.9 851.2 938.2 839.4C938.5 827.6 938.8 804.0 939.1 804.0C939.4 804.0 939.7 826.1 940.0 839.4C940.2 852.7 940.3 883.6 940.5 883.6C940.7 883.6 941.1 853.4 941.4 839.4C941.7 825.3 942.0 802.2 942.3 799.3C942.6 796.3 942.9 812.1 943.2 821.7C943.5 831.4 943.7 843.5 944.0 857.1C944.3 870.6 944.6 889.5 944.9 903.0C945.2 916.6 945.5 930.6 945.8 938.4C946.1 946.2 946.3 952.8 946.7 949.9C947.1 946.9 947.7 929.4 948.1 920.7C948.6 912.0 948.8 902.1 949.3 897.7C949.8 893.3 950.5 894.5 951.1 894.2C951.7 893.9 952.4 894.2 952.9 896.0C953.4 897.7 953.7 901.3 954.1 904.8C954.5 908.3 954.8 918.0 955.2 917.2C955.6 916.3 956.0 901.0 956.4 899.5C956.8 898.0 957.3 904.8 957.7 908.3C958.0 911.9 958.3 920.4 958.7 920.7C959.1 921.0 959.6 913.2 960.0 910.1C960.3 907.0 960.5 901.3 960.8 902.1C961.2 903.0 961.8 911.4 962.2 915.4C962.7 919.4 963.1 926.9 963.5 926.0C963.9 925.1 964.3 910.4 964.7 910.1C965.2 909.8 965.7 918.6 966.1 924.2C966.6 929.8 967.1 944.7 967.6 943.7C968.0 942.6 968.4 919.8 968.8 918.0C969.2 916.3 969.6 928.2 970.0 933.1C970.5 937.9 971.0 944.6 971.4 947.2C971.9 949.9 972.4 946.3 972.9 949.0C973.3 951.6 973.7 961.1 974.1 963.1C974.4 965.2 974.6 965.5 975.0 961.3C975.4 957.2 976.0 944.1 976.4 938.4C976.8 932.6 976.9 924.8 977.3 926.9C977.6 928.9 978.2 949.7 978.5 950.7C978.9 951.8 979.0 936.3 979.4 933.1C979.7 929.8 980.2 927.8 980.6 931.3C981.0 934.8 981.3 953.1 981.7 954.3C982.1 955.5 982.6 942.5 982.9 938.4C983.3 934.2 983.4 926.9 983.8 929.5C984.2 932.2 984.8 952.2 985.2 954.3C985.7 956.3 986.0 944.6 986.5 941.9C986.9 939.3 987.3 938.1 987.7 938.4C988.1 938.7 988.7 944.6 989.1 943.7C989.5 942.8 989.6 939.3 990.0 933.1C990.3 926.9 990.9 913.0 991.2 906.6C991.6 900.1 991.7 893.3 991.9 894.2C992.2 895.1 992.4 904.8 992.6 911.9C992.9 918.9 993.2 931.6 993.5 936.6C993.9 941.6 994.3 938.7 994.8 941.9C995.2 945.1 995.7 951.9 996.2 956.0C996.7 960.2 997.2 964.0 997.6 966.6C998.0 969.3 998.2 969.2 998.5 972.0C998.8 974.7 999.0 983.4 999.4 983.4C999.7 983.4 1000.2 977.7 1000.6 972.0C1001.0 966.2 1001.2 957.5 1001.5 949.0C1001.8 940.4 1002.1 927.0 1002.4 920.7C1002.7 914.4 1003.0 908.0 1003.3 911.0C1003.5 913.9 1003.8 927.0 1004.1 938.4C1004.4 949.7 1004.7 976.1 1005.0 979.0C1005.3 982.0 1005.6 965.8 1005.9 956.0C1006.2 946.3 1006.5 926.7 1006.8 920.7C1007.1 914.7 1007.4 916.6 1007.7 919.8C1008.0 923.1 1008.3 938.5 1008.6 940.1C1008.8 941.8 1009.1 933.4 1009.4 929.5C1009.8 925.7 1010.3 917.8 1010.7 917.2C1011.1 916.6 1011.4 920.7 1011.7 926.0C1012.1 931.3 1012.6 947.5 1013.0 949.0C1013.3 950.4 1013.5 938.7 1013.9 934.8C1014.2 931.0 1014.8 926.0 1015.3 926.0C1015.7 926.0 1016.1 935.7 1016.5 934.8C1016.9 934.0 1017.3 924.2 1017.7 920.7C1018.2 917.2 1018.7 912.7 1019.2 913.6C1019.6 914.5 1020.0 920.7 1020.4 926.0C1020.8 931.3 1021.1 939.3 1021.5 945.4C1021.8 951.6 1022.3 962.2 1022.7 963.1C1023.1 964.0 1023.7 953.7 1024.1 950.7C1024.5 947.8 1024.6 944.6 1025.0 945.4C1025.3 946.3 1025.9 956.0 1026.2 956.0C1026.6 956.0 1026.8 950.4 1027.1 945.4C1027.5 940.4 1028.0 930.4 1028.3 926.0C1028.7 921.6 1029.0 916.9 1029.4 918.9C1029.8 921.0 1030.2 937.2 1030.6 938.4C1031.1 939.5 1031.5 929.1 1031.9 926.0C1032.3 922.9 1032.6 916.3 1032.9 919.8C1033.3 923.3 1033.8 939.4 1034.2 947.2C1034.6 955.0 1035.0 962.5 1035.4 966.6C1035.9 970.8 1036.4 969.9 1036.8 972.0C1037.3 974.0 1037.6 979.0 1038.1 979.0C1038.5 979.0 1039.2 973.4 1039.5 972.0C1039.8 970.5 1039.6 972.2 1040.0 970.2C1040.4 968.1 1041.2 962.2 1041.8 959.6C1042.4 956.9 1042.9 957.1 1043.5 954.3C1044.1 951.5 1044.8 942.5 1045.3 942.8C1045.8 943.1 1046.3 950.9 1046.7 956.0C1047.2 961.2 1047.5 969.7 1048.0 973.7C1048.4 977.7 1048.8 982.9 1049.2 979.9C1049.6 977.0 1049.9 963.6 1050.3 956.0C1050.6 948.5 1051.1 933.7 1051.5 934.8C1051.9 936.0 1052.3 955.5 1052.7 963.1C1053.1 970.8 1053.4 980.5 1053.8 980.8C1054.2 981.1 1054.6 966.1 1055.0 964.9C1055.4 963.7 1055.8 970.2 1056.3 973.7C1056.7 977.3 1057.3 983.6 1057.7 986.1C1058.1 988.6 1058.2 991.4 1058.6 988.7C1058.9 986.1 1059.4 975.5 1059.8 970.2C1060.2 964.9 1060.7 959.0 1061.2 956.9C1061.7 954.9 1062.2 959.0 1062.6 957.8C1063.1 956.6 1063.4 949.0 1063.9 949.9C1064.3 950.7 1064.7 957.1 1065.1 963.1C1065.5 969.2 1066.0 982.1 1066.5 986.1C1067.0 990.1 1067.5 985.2 1067.9 987.0C1068.4 988.7 1068.8 994.2 1069.2 996.7C1069.5 999.2 1069.7 1005.8 1070.0 1002.0C1070.4 998.2 1070.7 983.7 1071.1 973.7C1071.5 963.7 1071.9 943.7 1072.3 941.9C1072.8 940.1 1073.2 957.8 1073.6 963.1C1074.0 968.4 1074.4 973.4 1074.8 973.7C1075.3 974.0 1075.8 967.8 1076.2 964.9C1076.7 961.9 1077.2 954.6 1077.6 956.0C1078.1 957.5 1078.5 970.5 1078.9 973.7C1079.3 977.0 1079.7 978.4 1080.1 975.5C1080.6 972.5 1081.1 958.7 1081.5 956.0C1082.0 953.4 1082.3 956.6 1082.8 959.6C1083.2 962.5 1083.7 969.6 1084.2 973.7C1084.7 977.8 1085.2 984.3 1085.6 984.3C1086.0 984.3 1086.4 978.3 1086.8 973.7C1087.2 969.2 1087.6 959.9 1088.1 956.9C1088.5 954.0 1089.0 959.4 1089.5 956.0C1090.0 952.7 1090.5 936.6 1090.9 936.6C1091.3 936.6 1091.7 949.3 1092.1 956.0C1092.6 962.8 1093.1 977.3 1093.6 977.3C1094.0 977.3 1094.3 962.8 1094.8 956.0C1095.2 949.3 1095.8 938.7 1096.2 936.6C1096.6 934.5 1097.0 940.4 1097.4 943.7C1097.9 946.9 1098.4 953.8 1098.9 956.0C1099.3 958.3 1099.7 955.7 1100.1 956.9C1100.5 958.1 1101.1 959.9 1101.5 963.1C1101.9 966.4 1102.3 977.0 1102.7 976.4C1103.2 975.8 1103.5 963.9 1104.0 959.6C1104.4 955.3 1104.9 951.2 1105.4 950.7C1105.9 950.3 1106.6 956.3 1107.2 956.9C1107.8 957.5 1108.3 955.0 1108.9 954.3C1109.5 953.5 1110.2 954.0 1110.7 952.5C1111.2 951.0 1111.7 947.6 1112.1 945.4C1112.6 943.2 1112.9 937.5 1113.3 939.3C1113.8 941.0 1114.1 950.7 1114.6 956.0C1115.0 961.3 1115.5 968.4 1116.0 971.1C1116.5 973.7 1117.2 973.9 1117.8 972.0C1118.4 970.0 1119.0 962.5 1119.5 959.6C1120.1 956.6 1120.5 954.6 1120.9 954.3C1121.4 954.0 1121.8 956.0 1122.2 957.8C1122.6 959.6 1123.0 962.5 1123.4 964.9C1123.9 967.2 1124.4 973.7 1124.8 972.0C1125.3 970.2 1125.8 955.5 1126.2 954.3C1126.7 953.1 1127.1 962.5 1127.5 964.9C1127.9 967.2 1128.3 968.4 1128.7 968.4C1129.1 968.4 1129.4 963.4 1129.8 964.9C1130.2 966.4 1130.7 972.8 1131.0 977.3C1131.4 981.7 1131.6 989.3 1131.9 991.4C1132.3 993.5 1132.8 989.0 1133.1 989.6C1133.5 990.2 1133.8 996.4 1134.2 994.9C1134.6 993.5 1135.0 983.7 1135.4 980.8C1135.9 977.8 1136.4 978.7 1136.9 977.3C1137.3 975.8 1137.7 974.6 1138.1 972.0C1138.5 969.3 1138.9 963.3 1139.3 961.3C1139.8 959.4 1140.3 961.6 1140.7 960.5C1141.2 959.3 1141.6 956.5 1142.0 954.3C1142.3 952.1 1142.5 946.3 1142.9 947.2C1143.2 948.1 1143.5 953.8 1143.9 959.6C1144.3 965.3 1144.7 980.2 1145.2 981.7C1145.6 983.1 1146.0 969.7 1146.4 968.4C1146.8 967.1 1147.3 975.8 1147.8 973.7C1148.3 971.7 1148.8 960.3 1149.2 956.0C1149.6 951.8 1149.8 946.9 1150.1 948.1C1150.5 949.3 1150.9 963.0 1151.3 963.1C1151.8 963.3 1152.2 953.1 1152.6 949.0C1153.0 944.9 1153.3 942.2 1153.6 938.4C1154.0 934.5 1154.2 925.1 1154.5 926.0C1154.8 926.9 1155.1 937.2 1155.4 943.7C1155.7 950.2 1156.0 958.1 1156.3 964.9C1156.6 971.7 1156.8 983.4 1157.2 984.3C1157.5 985.2 1158.0 970.8 1158.4 970.2C1158.8 969.6 1159.2 980.8 1159.7 980.8C1160.1 980.8 1160.6 969.9 1161.1 970.2C1161.5 970.5 1161.9 979.0 1162.3 982.6C1162.7 986.1 1163.3 989.3 1163.7 991.4C1164.1 993.5 1164.2 997.9 1164.6 994.9C1165.0 992.0 1165.5 979.5 1165.8 973.7C1166.2 968.0 1166.5 961.1 1166.9 960.5C1167.3 959.9 1167.7 965.9 1168.1 970.2C1168.5 974.5 1168.9 986.7 1169.4 986.1C1169.8 985.5 1170.3 970.2 1170.8 966.6C1171.3 963.1 1171.8 966.1 1172.2 964.9C1172.6 963.7 1173.0 962.5 1173.4 959.6C1173.9 956.6 1174.3 947.8 1174.7 947.2C1175.1 946.6 1175.4 951.6 1175.7 956.0C1176.1 960.5 1176.6 968.7 1177.0 973.7C1177.4 978.7 1177.8 986.1 1178.2 986.1C1178.7 986.1 1179.2 980.2 1179.6 973.7C1180.1 967.2 1180.5 952.5 1180.9 947.2C1181.2 941.9 1181.4 939.3 1181.7 941.9C1182.1 944.6 1182.4 957.4 1182.8 963.1C1183.2 968.9 1183.6 975.2 1184.0 976.4C1184.5 977.5 1184.8 970.9 1185.3 970.2C1185.7 969.4 1186.2 972.5 1186.7 972.0C1187.2 971.4 1187.7 968.3 1188.1 966.6C1188.6 965.0 1188.9 961.6 1189.3 962.2C1189.8 962.8 1190.1 967.5 1190.6 970.2C1191.0 972.8 1191.5 979.9 1192.0 978.1C1192.5 976.4 1193.0 963.9 1193.4 959.6C1193.9 955.3 1194.2 954.0 1194.6 952.5C1195.1 951.0 1195.4 949.9 1195.9 950.7C1196.3 951.6 1196.9 957.8 1197.3 957.8C1197.7 957.8 1198.2 952.1 1198.5 950.7C1198.9 949.4 1199.2 947.5 1199.6 949.9C1200.0 952.2 1200.5 960.0 1200.8 964.9C1201.2 969.7 1201.4 978.7 1201.7 979.0C1202.1 979.3 1202.6 967.5 1203.0 966.6C1203.3 965.8 1203.6 969.7 1204.0 973.7C1204.4 977.7 1204.8 991.1 1205.3 990.5C1205.7 989.9 1206.1 976.5 1206.5 970.2C1206.9 963.9 1207.2 951.9 1207.6 952.5C1207.9 953.1 1208.4 968.7 1208.8 973.7C1209.2 978.7 1209.6 980.3 1210.0 982.6C1210.4 984.8 1210.7 989.0 1211.1 987.0C1211.5 984.9 1211.9 976.7 1212.3 970.2C1212.7 963.7 1213.1 947.5 1213.6 948.1C1214.0 948.7 1214.5 966.5 1215.0 973.7C1215.4 980.9 1215.8 988.0 1216.2 991.4C1216.6 994.8 1216.9 992.9 1217.3 994.0C1217.7 995.2 1218.1 1000.7 1218.5 998.5C1218.9 996.3 1219.3 986.7 1219.7 980.8C1220.2 974.9 1220.7 967.1 1221.2 963.1C1221.6 959.1 1222.0 956.9 1222.4 956.9C1222.8 956.9 1223.3 960.6 1223.8 963.1C1224.3 965.6 1224.8 972.2 1225.2 972.0C1225.7 971.7 1226.0 963.9 1226.5 961.3C1226.9 958.8 1227.3 956.9 1227.7 956.9C1228.1 956.9 1228.4 964.4 1228.8 961.3C1229.1 958.3 1229.3 946.6 1229.6 938.4C1229.9 930.1 1230.3 917.8 1230.5 911.9C1230.8 906.0 1231.0 900.1 1231.2 903.0C1231.5 906.0 1231.8 921.9 1232.1 929.5C1232.4 937.2 1232.8 945.4 1233.2 949.0C1233.6 952.5 1233.9 950.3 1234.4 950.7C1234.9 951.2 1235.7 951.3 1236.2 951.6C1236.7 951.9 1237.2 950.6 1237.6 952.5C1238.0 954.4 1238.4 959.0 1238.8 963.1C1239.2 967.2 1239.7 973.7 1240.1 977.3C1240.5 980.8 1240.8 982.3 1241.1 984.3C1241.5 986.4 1241.7 990.2 1242.0 989.6C1242.3 989.0 1242.5 984.0 1242.9 980.8C1243.3 977.5 1243.7 969.3 1244.1 970.2C1244.5 971.1 1244.9 985.5 1245.4 986.1C1245.8 986.7 1246.3 975.5 1246.8 973.7C1247.2 972.0 1247.6 972.8 1248.0 975.5C1248.4 978.1 1248.7 989.9 1249.1 989.6C1249.5 989.3 1249.9 979.0 1250.3 973.7C1250.7 968.4 1251.2 957.8 1251.6 957.8C1251.9 957.8 1252.2 969.9 1252.6 973.7C1253.0 977.5 1253.4 981.4 1253.9 980.8C1254.3 980.2 1254.8 970.2 1255.3 970.2C1255.7 970.2 1256.1 977.7 1256.5 980.8C1256.9 983.9 1257.3 990.2 1257.7 988.7C1258.2 987.3 1258.7 972.7 1259.2 972.0C1259.6 971.2 1260.1 985.2 1260.6 984.3C1261.0 983.4 1261.4 972.4 1261.8 966.6C1262.3 960.9 1262.8 949.9 1263.2 949.9C1263.7 949.9 1264.0 963.0 1264.5 966.6C1264.9 970.3 1265.4 969.6 1265.9 972.0C1266.3 974.3 1266.7 978.1 1267.1 980.8C1267.6 983.4 1268.1 986.1 1268.5 987.9C1269.0 989.6 1269.3 995.2 1269.8 991.4C1270.2 987.6 1270.7 972.4 1271.2 964.9C1271.6 957.4 1272.0 947.8 1272.4 946.3C1272.8 944.9 1273.2 951.5 1273.7 956.0C1274.1 960.6 1274.6 968.6 1275.1 973.7C1275.5 978.9 1276.0 987.6 1276.5 987.0C1276.9 986.4 1277.3 975.6 1277.7 970.2C1278.1 964.7 1278.6 954.9 1279.0 954.3C1279.3 953.7 1279.6 963.1 1280.0 966.6C1280.4 970.2 1280.8 975.2 1281.3 975.5C1281.7 975.8 1282.2 970.2 1282.7 968.4C1283.1 966.6 1283.5 964.9 1283.9 964.9C1284.3 964.9 1284.9 968.6 1285.3 968.4C1285.8 968.3 1286.1 965.0 1286.6 964.0C1287.0 963.0 1287.5 960.6 1288.0 962.2C1288.4 963.9 1288.8 973.0 1289.2 973.7C1289.6 974.5 1290.2 968.3 1290.6 966.6C1291.1 965.0 1291.4 964.3 1291.9 964.0C1292.3 963.7 1292.8 963.9 1293.3 964.9C1293.7 965.9 1294.1 970.5 1294.5 970.2C1294.9 969.9 1295.5 965.6 1295.9 963.1C1296.4 960.6 1296.8 955.5 1297.2 955.2C1297.7 954.9 1298.0 960.2 1298.5 961.3C1299.0 962.5 1299.7 959.0 1300.3 962.2C1300.8 965.5 1301.5 978.9 1302.0 980.8C1302.5 982.7 1302.8 977.5 1303.3 973.7C1303.7 969.9 1304.2 958.4 1304.7 957.8C1305.1 957.2 1305.6 966.9 1306.1 970.2C1306.5 973.4 1306.8 975.6 1307.3 977.3C1307.8 978.9 1308.5 981.1 1309.1 979.9C1309.7 978.7 1310.4 973.0 1310.9 970.2C1311.4 967.4 1311.7 965.0 1312.1 963.1C1312.5 961.2 1313.0 960.2 1313.5 958.7C1314.0 957.2 1314.5 950.6 1314.9 954.3C1315.4 958.0 1315.8 974.6 1316.2 980.8C1316.5 987.0 1316.7 992.0 1317.0 991.4C1317.4 990.8 1318.0 979.8 1318.5 977.3C1318.9 974.7 1319.3 978.4 1319.7 976.4C1320.1 974.3 1320.5 967.1 1320.9 964.9C1321.4 962.7 1321.9 961.6 1322.3 963.1C1322.8 964.6 1323.3 970.5 1323.8 973.7C1324.2 977.0 1324.5 985.5 1325.0 982.6C1325.5 979.6 1326.3 957.5 1326.8 956.0C1327.3 954.6 1327.6 969.3 1328.0 973.7C1328.4 978.1 1329.0 979.6 1329.4 982.6C1329.9 985.5 1330.3 988.9 1330.7 991.4C1331.0 993.9 1331.3 1003.5 1331.7 997.6C1332.1 991.7 1332.5 965.0 1333.0 956.0C1333.4 947.1 1333.8 942.5 1334.2 943.7C1334.6 944.9 1334.9 957.5 1335.2 963.1C1335.6 968.7 1336.0 976.4 1336.5 977.3C1336.9 978.1 1337.5 970.0 1337.9 968.4C1338.3 966.8 1338.7 968.0 1339.1 967.5C1339.6 967.1 1340.1 963.9 1340.6 965.8C1341.0 967.7 1341.4 975.0 1341.8 979.0C1342.2 983.0 1342.6 990.5 1343.0 989.6C1343.5 988.7 1344.0 974.6 1344.4 973.7C1344.9 972.8 1345.2 984.3 1345.7 984.3C1346.1 984.3 1346.6 974.6 1347.1 973.7C1347.6 972.8 1348.0 979.0 1348.5 979.0C1349.0 979.0 1349.6 977.0 1350.1 973.7C1350.6 970.5 1351.1 960.2 1351.5 959.6C1352.0 959.0 1352.3 968.1 1352.7 970.2C1353.2 972.2 1353.7 973.1 1354.2 972.0C1354.6 970.8 1355.1 962.8 1355.6 963.1C1356.0 963.4 1356.4 969.7 1356.8 973.7C1357.2 977.7 1357.6 987.3 1358.0 987.0C1358.5 986.7 1359.0 972.7 1359.5 972.0C1359.9 971.2 1360.4 978.9 1360.9 982.6C1361.3 986.2 1361.8 993.7 1362.1 994.0C1362.5 994.3 1362.7 989.5 1363.0 984.3C1363.3 979.2 1363.5 967.1 1363.9 963.1C1364.2 959.1 1364.7 961.1 1365.1 960.5C1365.6 959.9 1366.1 961.5 1366.5 959.6C1366.9 957.7 1367.1 952.7 1367.4 949.0C1367.8 945.3 1368.2 939.4 1368.7 937.5C1369.1 935.6 1369.6 937.3 1370.1 937.5C1370.5 937.6 1371.0 934.4 1371.5 938.4C1371.9 942.3 1372.3 959.6 1372.7 961.3C1373.1 963.1 1373.6 953.5 1374.0 949.0C1374.3 944.4 1374.6 935.4 1375.0 934.0C1375.4 932.5 1375.8 939.1 1376.3 940.1C1376.8 941.2 1377.4 938.1 1378.0 940.1C1378.6 942.2 1379.3 949.1 1379.8 952.5C1380.3 955.9 1380.6 961.6 1381.0 960.5C1381.4 959.3 1381.7 952.1 1382.1 945.4C1382.5 938.8 1383.0 926.3 1383.3 920.7C1383.7 915.1 1383.9 914.1 1384.2 911.9C1384.6 909.7 1385.1 906.0 1385.4 907.4C1385.8 908.9 1386.1 916.1 1386.5 920.7C1386.9 925.3 1387.4 935.1 1387.7 934.8C1388.1 934.5 1388.3 918.9 1388.6 918.9C1389.0 918.9 1389.5 930.1 1389.9 934.8C1390.2 939.5 1390.5 947.5 1390.9 947.2C1391.3 946.9 1391.7 940.4 1392.2 933.1C1392.6 925.7 1393.0 912.4 1393.4 903.0C1393.8 893.6 1394.4 876.5 1394.8 876.5C1395.3 876.5 1395.7 893.3 1396.0 903.0C1396.4 912.7 1396.7 928.4 1397.1 934.8C1397.5 941.3 1397.9 944.3 1398.3 941.9C1398.8 939.5 1399.3 927.8 1399.8 920.7C1400.2 913.6 1400.6 903.2 1401.0 899.5C1401.4 895.8 1401.8 896.5 1402.2 898.6C1402.7 900.7 1403.2 907.7 1403.6 911.9C1404.1 916.0 1404.4 924.8 1404.9 923.3C1405.3 921.9 1405.9 903.5 1406.3 903.0C1406.7 902.6 1407.1 915.1 1407.5 920.7C1408.0 926.3 1408.5 936.6 1408.9 936.6C1409.4 936.6 1409.8 927.6 1410.2 920.7C1410.6 913.8 1410.9 895.7 1411.2 895.1C1411.6 894.5 1412.0 909.4 1412.5 917.2C1412.9 925.0 1413.5 935.4 1413.9 941.9C1414.3 948.4 1414.8 952.5 1415.1 956.0C1415.5 959.6 1415.7 964.6 1416.0 963.1C1416.4 961.6 1416.8 952.2 1417.3 947.2C1417.7 942.2 1418.2 938.2 1418.7 933.1C1419.1 927.9 1419.6 915.4 1420.1 916.3C1420.5 917.2 1420.9 932.8 1421.3 938.4C1421.7 944.0 1422.1 948.7 1422.6 949.9C1423.0 951.0 1423.5 944.4 1424.0 945.4C1424.4 946.5 1424.8 958.7 1425.2 956.0C1425.7 953.4 1426.2 936.5 1426.6 929.5C1427.0 922.6 1427.2 913.3 1427.5 914.5C1427.9 915.7 1428.3 933.5 1428.7 936.6C1429.2 939.7 1429.7 937.2 1430.2 933.1C1430.6 928.9 1431.0 919.8 1431.4 911.9C1431.8 903.9 1432.1 892.9 1432.5 885.3C1432.8 877.8 1433.0 863.8 1433.3 866.8C1433.7 869.7 1434.2 893.2 1434.6 903.0C1435.0 912.9 1435.4 920.4 1435.8 926.0C1436.3 931.6 1436.8 934.4 1437.2 936.6C1437.6 938.8 1437.8 944.9 1438.1 939.3C1438.5 933.7 1439.0 914.8 1439.3 903.0C1439.7 891.2 1440.0 871.5 1440.4 868.6C1440.8 865.6 1441.2 878.1 1441.6 885.3C1442.1 892.6 1442.5 906.4 1442.9 911.9C1443.3 917.3 1443.6 922.5 1443.9 918.0C1444.2 913.6 1444.4 896.5 1444.7 885.3C1444.9 874.2 1445.3 853.8 1445.7 850.9C1446.1 847.9 1446.6 861.0 1446.9 867.7C1447.3 874.3 1447.3 886.5 1447.8 890.7C1448.3 894.8 1449.4 889.5 1450.0 892.4C1450.5 895.4 1450.9 902.7 1451.4 908.3C1451.8 913.9 1452.2 921.7 1452.6 926.0C1453.0 930.3 1453.3 936.3 1453.7 934.0C1454.0 931.6 1454.5 920.0 1454.9 911.9C1455.3 903.8 1455.7 891.2 1456.1 885.3C1456.6 879.5 1457.1 878.7 1457.6 876.5C1458.0 874.3 1458.3 871.5 1458.8 872.1C1459.2 872.7 1459.7 878.3 1460.2 880.0C1460.7 881.8 1461.7 882.3 1462.0 882.7"/></defs>
<polygon points="116.6,911.0 117.6,911.0 118.6,911.0 119.6,842.7 120.6,842.0 121.6,841.0 122.6,840.0 123.6,836.8 124.6,806.8 125.6,819.1 126.6,843.8 127.6,844.6 128.6,845.3 129.6,846.1 130.6,846.8 131.6,847.5 132.6,847.9 133.6,848.2 134.6,848.4 135.6,848.7 136.6,848.9 137.6,849.2 138.6,849.4 139.6,849.6 140.6,849.4 141.6,848.7 142.6,845.4 143.6,761.0 144.6,714.4 145.6,747.0 146.6,768.7 147.6,790.5 148.6,812.2 149.6,855.6 150.6,888.3 151.6,893.0 152.6,893.7 153.6,893.9 154.6,893.9 155.6,893.7 156.6,893.0 157.6,891.0 158.6,855.4 159.6,854.6 160.6,853.8 161.6,853.0 162.6,851.9 163.6,848.3 164.6,843.6 165.6,838.1 166.6,816.3 167.6,770.6 168.6,766.0 169.6,820.0 170.6,839.9 171.6,844.5 172.6,888.8 173.6,910.8 174.6,911.4 175.6,911.8 176.6,912.1 177.6,912.4 178.6,912.8 179.6,913.1 180.6,913.3 181.6,913.1 182.6,912.4 183.6,898.9 184.6,875.7 185.6,860.7 186.6,824.7 187.6,710.5 188.6,709.4 189.6,709.4 190.6,709.4 191.6,709.4 192.6,747.0 193.6,832.4 194.6,833.5 195.6,833.9 196.6,836.8 197.6,841.8 198.6,846.4 199.6,847.5 200.6,848.2 201.6,848.9 202.6,849.4 203.6,849.6 204.6,849.4 205.6,848.8 206.6,837.5 207.6,812.5 208.6,797.4 209.6,787.4 210.6,774.7 211.6,769.8 212.6,771.6 213.6,773.2 214.6,775.5 215.6,777.8 216.6,779.7 217.6,780.4 218.6,780.8 219.6,781.0 220.6,781.2 221.6,781.4 222.6,781.6 223.6,781.6 224.6,781.2 225.6,780.1 226.6,774.7 227.6,773.4 228.6,772.8 229.6,764.0 230.6,738.6 231.6,710.0 232.6,682.1 233.6,699.6 234.6,725.2 235.6,755.3 236.6,785.1 237.6,792.4 238.6,799.8 239.6,807.0 240.6,814.0 241.6,819.0 242.6,823.0 243.6,824.1 244.6,824.6 245.6,824.8 246.6,824.6 247.6,824.2 248.6,823.8 249.6,823.4 250.6,823.0 251.6,822.3 252.6,816.9 253.6,806.9 254.6,724.2 255.6,642.5 256.6,638.2 257.6,665.2 258.6,777.8 259.6,779.8 260.6,780.4 261.6,783.2 262.6,797.7 263.6,807.9 264.6,814.9 265.6,816.0 266.6,816.4 267.6,816.4 268.6,816.0 269.6,814.9 270.6,794.7 271.6,767.5 272.6,729.8 273.6,682.4 274.6,749.1 275.6,756.7 276.6,764.3 277.6,768.8 278.6,769.4 279.6,769.6 280.6,769.4 281.6,768.8 282.6,767.2 283.6,763.8 284.6,766.5 285.6,769.2 286.6,769.9 287.6,770.0 288.6,769.9 289.6,769.2 290.6,748.3 291.6,701.2 292.6,686.8 293.6,693.9 294.6,754.4 295.6,808.0 296.6,813.3 297.6,818.2 298.6,819.3 299.6,819.9 300.6,820.6 301.6,821.2 302.6,821.4 303.6,821.2 304.6,820.5 305.6,813.5 306.6,799.5 307.6,791.7 308.6,786.7 309.6,660.4 310.6,645.5 311.6,718.9 312.6,782.3 313.6,783.4 314.6,783.8 315.6,783.8 316.6,783.4 317.6,782.3 318.6,777.0 319.6,771.7 320.6,775.4 321.6,779.0 322.6,780.1 323.6,780.5 324.6,780.5 325.6,780.1 326.6,779.3 327.6,778.5 328.6,764.8 329.6,673.7 330.6,653.2 331.6,653.7 332.6,717.6 333.6,752.1 334.6,758.0 335.6,759.7 336.6,763.5 337.6,778.7 338.6,779.3 339.6,779.5 339.6,846.4 338.6,846.0 337.6,846.0 336.6,846.2 335.6,846.4 334.6,846.7 333.6,846.9 332.6,847.2 331.6,847.4 330.6,848.1 329.6,849.3 328.6,906.2 327.6,931.5 326.6,951.5 325.6,970.0 324.6,968.1 323.6,960.0 322.6,952.9 321.6,948.9 320.6,943.1 319.6,935.1 318.6,925.7 317.6,915.7 316.6,905.7 315.6,895.7 314.6,888.4 313.6,887.3 312.6,886.9 311.6,886.9 310.6,886.9 309.6,887.1 308.6,887.7 307.6,890.9 306.6,895.9 305.6,911.9 304.6,931.9 303.6,951.9 302.6,969.8 301.6,950.0 300.6,930.0 299.6,912.0 298.6,900.0 297.6,888.5 296.6,877.5 295.6,873.7 294.6,873.0 293.6,872.8 292.6,873.0 291.6,873.4 290.6,873.7 289.6,874.1 288.6,874.4 287.6,874.9 286.6,876.0 285.6,894.2 284.6,903.0 283.6,910.6 282.6,917.6 281.6,919.4 280.6,919.0 279.6,918.8 278.6,919.0 277.6,919.6 276.6,920.6 275.6,921.8 274.6,927.6 273.6,934.0 272.6,934.6 271.6,935.4 270.6,942.3 269.6,962.3 268.6,974.6 267.6,979.6 266.6,981.4 265.6,982.8 264.6,970.0 263.6,956.3 262.6,944.6 261.6,942.0 260.6,939.3 259.6,937.3 258.6,936.6 257.6,936.4 256.6,936.6 255.6,937.3 254.6,938.2 253.6,939.4 252.6,943.9 251.6,949.9 250.6,955.0 249.6,959.3 248.6,960.7 247.6,957.4 246.6,956.2 245.6,955.9 244.6,955.8 243.6,955.8 242.6,955.9 241.6,956.2 240.6,950.0 239.6,943.0 238.6,937.7 237.6,936.6 236.6,936.0 235.6,933.7 234.6,929.7 233.6,928.6 232.6,928.2 231.6,928.2 230.6,928.6 229.6,929.7 228.6,949.5 227.6,960.9 226.6,969.4 225.6,970.1 224.6,970.8 223.6,971.8 222.6,972.2 221.6,969.2 220.6,967.2 219.6,966.5 218.6,965.8 217.6,965.1 216.6,964.7 215.6,964.7 214.6,965.1 213.6,966.2 212.6,968.1 211.6,970.1 210.6,972.3 209.6,974.9 208.6,977.6 207.6,981.8 206.6,986.8 205.6,988.8 204.6,986.2 203.6,984.0 202.6,982.0 201.6,980.0 200.6,976.9 199.6,970.9 198.6,957.9 197.6,940.4 196.6,932.1 195.6,926.6 194.6,925.5 193.6,925.1 192.6,925.0 191.6,925.2 190.6,925.6 189.6,925.9 188.6,926.5 187.6,935.6 186.6,962.4 185.6,975.7 184.6,977.1 183.6,978.4 182.6,985.8 181.6,993.8 180.6,1001.8 179.6,1007.6 178.6,1009.6 177.6,1011.6 176.6,1011.4 175.6,1009.0 174.6,1006.3 173.6,1003.6 172.6,999.2 171.6,994.6 170.6,990.0 169.6,986.0 168.6,982.0 167.6,979.8 166.6,979.1 165.6,978.9 164.6,979.1 163.6,979.8 162.6,981.5 161.6,983.5 160.6,985.5 159.6,988.1 158.6,990.8 157.6,993.2 156.6,995.2 155.6,997.2 154.6,998.0 153.6,998.6 152.6,999.8 151.6,998.9 150.6,997.9 149.6,996.9 148.6,995.2 147.6,989.0 146.6,987.9 145.6,987.3 144.6,986.8 143.6,986.2 142.6,985.6 141.6,985.1 140.6,984.5 139.6,984.2 138.6,984.2 137.6,984.6 136.6,985.7 135.6,987.0 134.6,988.3 133.6,992.5 132.6,1000.5 131.6,996.4 130.6,986.4 129.6,974.1 128.6,960.1 127.6,957.9 126.6,957.2 125.6,957.0 124.6,957.2 123.6,957.9 122.6,960.6 121.6,964.9 120.6,976.9 119.6,984.1 118.6,911.0 117.6,911.0 116.6,911.0" fill="#1f77b4" stroke="#1f77b4" stroke-width="5.6" stroke-linejoin="round"/>
<polygon points="341.1,974.2 342.1,975.3 343.1,976.2 344.1,976.6 345.1,977.6 346.1,978.7 347.1,979.1 348.1,979.1 349.1,978.7 350.1,977.9 351.1,976.4 352.1,974.8 353.1,975.3 354.1,976.0 355.1,976.5 356.1,976.7 357.1,976.5 358.1,976.1 359.1,975.5 360.1,974.8 361.1,974.1 362.1,974.6 363.1,975.6 364.1,976.6 365.1,977.3 366.1,977.8 367.1,977.9 368.1,977.9 369.1,978.0 370.1,978.2 371.1,978.0 372.1,977.7 373.1,977.7 374.1,978.0 375.1,981.4 376.1,983.5 377.1,984.2 378.1,984.4 379.1,984.2 380.1,983.5 381.1,982.5 382.1,981.1 383.1,975.3 384.1,968.3 385.1,961.4 386.1,963.1 387.1,964.6 388.1,965.4 389.1,965.7 390.1,965.7 391.1,965.4 392.1,964.2 393.1,961.2 394.1,958.2 395.1,957.7 396.1,958.7 397.1,959.9 398.1,960.5 399.1,960.9 400.1,961.3 401.1,962.1 402.1,963.6 403.1,972.9 404.1,976.9 405.1,980.0 406.1,982.1 407.1,983.5 408.1,984.4 409.1,984.9 410.1,985.2 411.1,985.2 412.1,985.5 413.1,988.8 414.1,990.0 415.1,990.7 416.1,990.8 417.1,990.7 418.1,990.0 419.1,985.5 420.1,982.0 421.1,984.0 422.1,986.2 423.1,991.0 424.1,996.7 425.1,997.8 426.1,998.2 427.1,998.4 428.1,998.3 429.1,998.0 430.1,997.5 431.1,996.7 432.1,995.8 433.1,994.2 434.1,995.2 435.1,996.2 436.1,997.2 437.1,998.3 438.1,998.9 439.1,999.1 440.1,999.0 441.1,998.9 442.1,998.8 443.1,998.6 444.1,998.1 445.1,997.0 446.1,995.5 447.1,994.4 448.1,993.4 449.1,992.7 450.1,992.0 451.1,991.4 452.1,990.7 453.1,990.0 454.1,989.3 455.1,988.6 456.1,988.2 457.1,987.2 458.1,985.6 459.1,983.6 460.1,981.1 461.1,977.1 462.1,969.5 463.1,950.2 464.1,948.7 465.1,973.9 466.1,981.5 467.1,985.3 468.1,985.9 469.1,986.1 470.1,985.9 471.1,985.3 472.1,983.9 473.1,982.8 474.1,982.4 475.1,983.4 476.1,984.1 477.1,984.3 478.1,985.1 479.1,985.5 480.1,985.5 481.1,985.1 482.1,984.1 483.1,983.0 484.1,981.8 485.1,981.1 486.1,982.2 487.1,983.7 488.1,986.0 489.1,988.5 490.1,990.9 491.1,992.6 492.1,993.9 493.1,995.3 494.1,996.2 495.1,996.6 496.1,996.7 497.1,996.6 498.1,996.3 499.1,995.9 500.1,995.4 501.1,994.7 502.1,993.8 503.1,993.4 504.1,993.1 505.1,991.9 506.1,988.6 507.1,985.4 508.1,981.2 509.1,975.0 510.1,975.7 511.1,977.2 512.1,979.8 513.1,981.7 514.1,982.3 515.1,982.5 516.1,982.4 517.1,982.2 518.1,982.6 519.1,984.3 520.1,985.7 521.1,986.4 522.1,986.7 523.1,986.7 524.1,986.3 525.1,985.8 526.1,985.0 527.1,984.3 528.1,984.0 529.1,984.0 530.1,984.1 531.1,984.1 532.1,984.0 533.1,983.7 534.1,983.2 535.1,982.6 536.1,981.8 537.1,980.6 538.1,982.3 539.1,986.5 540.1,990.4 541.1,994.2 542.1,997.1 543.1,999.0 544.1,1001.4 545.1,1002.5 546.1,1002.9 547.1,1003.1 548.1,1002.9 549.1,1002.3 550.1,1002.1 551.1,1002.0 552.1,1001.5 553.1,1000.9 554.1,1000.2 555.1,999.5 556.1,998.9 557.1,998.1 558.1,997.8 559.1,998.7 560.1,999.3 561.1,999.7 562.1,1000.0 563.1,1000.6 564.1,1001.3 565.1,1001.6 566.1,1001.6 567.1,1001.2 568.1,1000.6 569.1,999.8 570.1,999.3 571.1,998.4 572.1,997.0 573.1,996.3 574.1,995.2 575.1,993.2 576.1,991.5 577.1,986.7 578.1,977.5 579.1,957.5 580.1,952.0 581.1,945.1 582.1,938.3 583.1,931.4 584.1,931.3 585.1,930.9 586.1,929.8 587.1,924.8 588.1,918.3 589.1,908.3 590.1,905.9 591.1,906.6 592.1,906.8 593.1,906.6 594.1,906.0 595.1,905.3 596.1,904.6 597.1,910.9 598.1,912.3 599.1,913.6 600.1,917.8 601.1,924.8 602.1,927.5 603.1,928.5 604.1,929.5 605.1,930.4 606.1,930.8 607.1,931.1 608.1,931.5 609.1,931.9 610.1,932.4 611.1,937.3 612.1,942.5 613.1,943.6 614.1,944.1 615.1,944.4 616.1,944.8 617.1,945.5 618.1,949.7 619.1,957.0 620.1,984.0 621.1,985.4 622.1,986.8 623.1,987.4 624.1,987.6 625.1,988.5 626.1,989.2 627.1,990.0 628.1,991.1 629.1,992.2 630.1,993.0 631.1,993.6 632.1,994.0 633.1,994.5 634.1,994.9 635.1,994.9 636.1,994.5 637.1,993.4 638.1,987.6 639.1,980.5 640.1,976.5 641.1,982.2 642.1,983.3 643.1,983.7 644.1,983.7 645.1,983.3 646.1,982.2 647.1,976.4 648.1,960.1 649.1,942.4 650.1,932.2 651.1,927.2 652.1,925.2 653.1,922.7 654.1,920.1 655.1,916.7 656.1,909.4 657.1,902.1 658.1,915.2 659.1,945.8 660.1,948.8 661.1,949.6 662.1,952.2 663.1,956.2 664.1,973.8 665.1,975.0 666.1,976.0 667.1,976.7 668.1,976.9 669.1,976.7 670.1,976.0 671.1,973.5 672.1,964.6 673.1,964.7 674.1,992.9 675.1,998.6 676.1,1002.0 677.1,1002.8 678.1,1003.3 679.1,1003.8 680.1,1004.0 681.1,1004.0 682.1,1003.6 683.1,1002.5 684.1,999.8 685.1,997.8 686.1,994.9 687.1,986.1 688.1,978.7 689.1,972.2 690.1,970.0 691.1,971.6 692.1,975.1 693.1,976.9 694.1,977.7 695.1,978.3 696.1,980.7 697.1,983.4 698.1,985.4 699.1,986.0 700.1,986.2 701.1,986.0 702.1,985.4 703.1,982.4 704.1,976.4 705.1,969.1 706.1,961.1 707.1,953.1 708.1,945.1 709.1,934.4 710.1,910.9 711.1,890.1 712.1,880.1 713.1,874.9 714.1,881.2 715.1,889.2 716.1,928.6 717.1,947.3 718.1,970.0 719.1,971.1 720.1,971.5 721.1,971.5 722.1,971.1 723.1,970.0 724.1,962.0 725.1,953.4 726.1,943.4 727.1,935.1 728.1,928.1 729.1,920.3 730.1,912.3 731.1,905.3 732.1,903.4 733.1,928.2 734.1,954.6 735.1,970.0 736.1,974.1 737.1,976.7 738.1,977.4 739.1,977.6 740.1,977.4 741.1,976.9 742.1,976.4 743.1,976.0 744.1,977.7 745.1,983.2 746.1,987.2 747.1,990.7 748.1,991.8 749.1,992.2 750.1,992.2 751.1,991.8 752.1,990.7 753.1,988.8 754.1,986.6 755.1,984.2 756.1,981.5 757.1,978.8 758.1,975.3 759.1,971.3 760.1,967.3 761.1,961.3 762.1,952.4 763.1,938.0 764.1,935.0 765.1,932.5 766.1,930.5 767.1,928.5 768.1,927.5 769.1,928.0 770.1,928.5 771.1,930.3 772.1,955.3 773.1,962.0 774.1,962.7 775.1,962.9 776.1,962.7 777.1,962.0 778.1,960.7 779.1,969.6 780.1,991.3 781.1,994.7 782.1,995.4 783.1,995.8 784.1,995.8 785.1,996.6 786.1,997.5 787.1,997.9 788.1,998.1 789.1,997.9 790.1,998.1 791.1,997.9 792.1,997.3 793.1,994.0 794.1,984.8 795.1,985.1 796.1,993.9 797.1,1000.7 798.1,1004.3 799.1,1005.6 800.1,1006.7 801.1,1007.2 802.1,1007.4 803.1,1007.5 804.1,1007.8 805.1,1007.8 806.1,1007.6 807.1,1007.1 808.1,1006.3 809.1,1004.9 810.1,1003.1 811.1,999.2 812.1,998.2 813.1,998.6 814.1,998.6 815.1,998.2 816.1,997.4 817.1,995.2 818.1,984.8 819.1,992.0 820.1,994.3 821.1,995.7 822.1,996.3 823.1,996.5 824.1,996.3 825.1,995.7 826.1,994.8 827.1,993.5 828.1,992.7 829.1,992.7 830.1,992.6 831.1,993.0 832.1,993.2 833.1,993.1 834.1,992.7 835.1,992.3 836.1,991.8 837.1,991.2 838.1,991.2 839.1,992.0 840.1,992.6 841.1,992.8 842.1,992.6 843.1,992.0 844.1,991.0 845.1,991.2 845.1,1016.5 844.1,1016.6 843.1,1017.3 842.1,1018.3 841.1,1018.7 840.1,1019.1 839.1,1019.0 838.1,1018.6 837.1,1018.4 836.1,1018.5 835.1,1018.7 834.1,1018.9 833.1,1019.0 832.1,1019.2 831.1,1019.3 830.1,1018.9 829.1,1018.5 828.1,1018.1 827.1,1017.6 826.1,1017.0 825.1,1016.4 824.1,1015.8 823.1,1015.2 822.1,1015.0 821.1,1014.8 820.1,1014.8 819.1,1015.2 818.1,1015.9 817.1,1016.7 816.1,1017.5 815.1,1017.7 814.1,1017.7 813.1,1017.9 812.1,1018.3 811.1,1018.1 810.1,1018.1 809.1,1018.3 808.1,1018.7 807.1,1019.0 806.1,1019.3 805.1,1019.4 804.1,1019.4 803.1,1019.4 802.1,1019.4 801.1,1019.4 800.1,1019.3 799.1,1019.1 798.1,1018.9 797.1,1018.8 796.1,1018.6 795.1,1018.4 794.1,1018.3 793.1,1018.1 792.1,1017.9 791.1,1017.8 790.1,1017.7 789.1,1017.9 788.1,1018.3 787.1,1018.6 786.1,1018.9 785.1,1019.3 784.1,1019.0 783.1,1018.7 782.1,1018.3 781.1,1018.0 780.1,1017.7 779.1,1017.3 778.1,1017.0 777.1,1016.7 776.1,1016.3 775.1,1016.0 774.1,1016.0 773.1,1016.2 772.1,1016.5 771.1,1016.9 770.1,1017.2 769.1,1017.5 768.1,1017.8 767.1,1018.0 766.1,1018.1 765.1,1018.3 764.1,1018.4 763.1,1017.9 762.1,1017.4 761.1,1017.0 760.1,1016.9 759.1,1017.0 758.1,1017.4 757.1,1017.8 756.1,1018.2 755.1,1018.6 754.1,1019.0 753.1,1019.4 752.1,1019.8 751.1,1020.1 750.1,1019.7 749.1,1019.4 748.1,1019.1 747.1,1018.7 746.1,1018.5 745.1,1018.3 744.1,1018.2 743.1,1018.0 742.1,1017.8 741.1,1017.7 740.1,1017.5 739.1,1017.3 738.1,1017.2 737.1,1017.0 736.1,1015.6 735.1,1014.2 734.1,1012.8 733.1,1011.4 732.1,1010.4 731.1,1009.4 730.1,1008.4 729.1,1007.4 728.1,1006.7 727.1,1006.3 726.1,1006.3 725.1,1006.7 724.1,1007.4 723.1,1008.2 722.1,1008.9 721.1,1009.8 720.1,1011.0 719.1,1012.2 718.1,1009.7 717.1,1004.7 716.1,1002.4 715.1,1001.4 714.1,1000.5 713.1,1000.1 712.1,1000.1 711.1,1000.5 710.1,1001.6 709.1,1008.2 708.1,1014.2 707.1,1015.6 706.1,1017.0 705.1,1017.8 704.1,1017.4 703.1,1017.0 702.1,1016.8 701.1,1016.9 700.1,1017.1 699.1,1017.2 698.1,1017.4 697.1,1017.6 696.1,1017.3 695.1,1017.0 694.1,1016.7 693.1,1016.3 692.1,1016.0 691.1,1016.0 690.1,1016.2 689.1,1016.5 688.1,1016.8 687.1,1017.2 686.1,1017.5 685.1,1017.8 684.1,1018.2 683.1,1018.6 682.1,1019.0 681.1,1019.1 680.1,1018.9 679.1,1018.5 678.1,1018.2 677.1,1017.0 676.1,1015.8 675.1,1014.6 674.1,1013.4 673.1,1012.8 672.1,1012.4 671.1,1012.2 670.1,1012.0 669.1,1011.9 668.1,1011.7 667.1,1011.5 666.1,1011.2 665.1,1010.8 664.1,1010.5 663.1,1010.2 662.1,1009.1 661.1,1007.8 660.1,1005.2 659.1,997.7 658.1,996.5 657.1,995.6 656.1,994.9 655.1,994.7 654.1,994.9 653.1,995.6 652.1,997.8 651.1,1000.8 650.1,1003.0 649.1,1005.0 648.1,1007.0 647.1,1009.0 646.1,1011.0 645.1,1011.9 644.1,1012.5 643.1,1013.1 642.1,1013.0 641.1,1012.8 640.1,1012.6 639.1,1012.5 638.1,1012.4 637.1,1012.5 636.1,1012.7 635.1,1012.9 634.1,1013.0 633.1,1012.7 632.1,1012.1 631.1,1011.4 630.1,1010.7 629.1,1010.2 628.1,1009.8 627.1,1009.8 626.1,1010.2 625.1,1010.7 624.1,1011.2 623.1,1011.7 622.1,1012.2 621.1,1012.7 620.1,1013.3 619.1,1013.9 618.1,1014.5 617.1,1014.0 616.1,1013.4 615.1,1012.8 614.1,1012.3 613.1,1011.8 612.1,1011.3 611.1,1010.8 610.1,1010.6 609.1,1010.4 608.1,1010.2 607.1,1010.0 606.1,1009.8 605.1,1009.7 604.1,1009.7 603.1,1009.7 602.1,1009.7 601.1,1009.6 600.1,1009.5 599.1,1009.7 598.1,1010.2 597.1,1010.0 596.1,1009.8 595.1,1009.8 594.1,1010.1 593.1,1010.7 592.1,1011.5 591.1,1011.9 590.1,1011.5 589.1,1011.1 588.1,1010.7 587.1,1010.7 586.1,1011.1 585.1,1011.9 584.1,1013.2 583.1,1012.7 582.1,1012.1 581.1,1011.7 580.1,1011.5 579.1,1011.7 578.1,1011.8 577.1,1012.0 576.1,1012.2 575.1,1012.3 574.1,1012.5 573.1,1012.7 572.1,1012.8 571.1,1013.0 570.1,1013.2 569.1,1013.3 568.1,1013.5 567.1,1013.7 566.1,1013.8 565.1,1014.0 564.1,1014.1 563.1,1014.1 562.1,1014.1 561.1,1014.1 560.1,1014.1 559.1,1014.1 558.1,1014.3 557.1,1014.4 556.1,1014.6 555.1,1014.8 554.1,1014.9 553.1,1015.0 552.1,1015.0 551.1,1015.0 550.1,1015.0 549.1,1015.0 548.1,1015.0 547.1,1015.0 546.1,1015.0 545.1,1014.6 544.1,1013.3 543.1,1012.1 542.1,1011.0 541.1,1010.6 540.1,1010.2 539.1,1009.8 538.1,1009.4 537.1,1009.0 536.1,1008.9 535.1,1009.0 534.1,1009.2 533.1,1009.4 532.1,1009.6 531.1,1009.2 530.1,1008.8 529.1,1008.4 528.1,1008.1 527.1,1008.0 526.1,1008.1 525.1,1008.3 524.1,1008.5 523.1,1008.6 522.1,1008.8 521.1,1009.0 520.1,1009.1 519.1,1009.3 518.1,1009.5 517.1,1009.6 516.1,1009.5 515.1,1009.3 514.1,1009.1 513.1,1008.9 512.1,1008.5 511.1,1008.1 510.1,1007.7 509.1,1007.3 508.1,1007.1 507.1,1007.2 506.1,1007.6 505.1,1008.0 504.1,1008.4 503.1,1008.8 502.1,1009.2 501.1,1009.8 500.1,1010.4 499.1,1011.0 498.1,1011.6 497.1,1012.3 496.1,1013.0 495.1,1013.8 494.1,1013.7 493.1,1013.5 492.1,1013.2 491.1,1013.1 490.1,1012.9 489.1,1012.7 488.1,1012.6 487.1,1012.4 486.1,1012.2 485.1,1012.1 484.1,1011.9 483.1,1011.7 482.1,1011.6 481.1,1011.5 480.1,1011.5 479.1,1011.5 478.1,1011.5 477.1,1011.5 476.1,1011.5 475.1,1011.6 474.1,1011.8 473.1,1012.0 472.1,1012.2 471.1,1012.5 470.1,1012.9 469.1,1013.6 468.1,1012.8 467.1,1011.3 466.1,1009.9 465.1,1008.6 464.1,1007.2 463.1,1006.6 462.1,1006.4 461.1,1006.6 460.1,1007.0 459.1,1007.9 458.1,1008.9 457.1,1009.7 456.1,1010.3 455.1,1010.9 454.1,1011.5 453.1,1011.8 452.1,1012.0 451.1,1012.2 450.1,1012.4 449.1,1012.7 448.1,1013.2 447.1,1013.7 446.1,1013.6 445.1,1013.2 444.1,1012.8 443.1,1012.5 442.1,1012.4 441.1,1012.6 440.1,1012.7 439.1,1012.9 438.1,1013.1 437.1,1013.2 436.1,1013.4 435.1,1013.6 434.1,1013.7 433.1,1013.9 432.1,1014.1 431.1,1014.3 430.1,1014.6 429.1,1014.9 428.1,1015.3 427.1,1015.6 426.1,1015.0 425.1,1013.4 424.1,1011.8 423.1,1010.5 422.1,1009.9 421.1,1009.6 420.1,1009.3 419.1,1009.1 418.1,1008.9 417.1,1008.9 416.1,1009.1 415.1,1009.3 414.1,1009.5 413.1,1009.7 412.1,1010.1 411.1,1011.0 410.1,1011.5 409.1,1010.2 408.1,1008.9 407.1,1007.8 406.1,1007.3 405.1,1007.1 404.1,1007.3 403.1,1007.5 402.1,1007.7 401.1,1007.9 400.1,1008.1 399.1,1008.1 398.1,1005.5 397.1,1003.4 396.1,1002.4 395.1,1002.0 394.1,1002.0 393.1,1002.4 392.1,1003.3 391.1,1004.3 390.1,1005.0 389.1,1004.8 388.1,1004.6 387.1,1004.5 386.1,1004.5 385.1,1004.8 384.1,1005.0 383.1,1005.3 382.1,1005.7 381.1,1006.3 380.1,1007.3 379.1,1008.3 378.1,1009.3 377.1,1008.0 376.1,1006.7 375.1,1005.7 374.1,1004.7 373.1,1003.7 372.1,1003.0 371.1,1002.8 370.1,1003.0 369.1,1003.3 368.1,1004.2 367.1,1005.5 366.1,1006.0 365.1,1006.5 364.1,1007.0 363.1,1007.4 362.1,1007.7 361.1,1008.1 360.1,1008.5 359.1,1008.9 358.1,1009.3 357.1,1009.7 356.1,1009.7 355.1,1009.7 354.1,1009.7 353.1,1009.7 352.1,1009.6 351.1,1009.4 350.1,1009.2 349.1,1009.0 348.1,1009.0 347.1,1009.4 346.1,1010.5 345.1,1012.4 344.1,1011.6 343.1,1009.8 342.1,1009.1 341.1,1008.9" fill="#1f77b4" stroke="#1f77b4" stroke-width="5.6" stroke-linejoin="round"/>
<polygon points="845.6,804.3 846.6,804.2 847.6,803.5 848.6,715.7 849.6,742.6 850.6,769.7 851.6,779.7 852.6,791.0 853.6,805.0 854.6,812.0 855.6,812.7 856.6,812.9 857.6,812.7 858.6,812.1 859.6,811.4 860.6,810.8 861.6,809.7 862.6,807.3 863.6,812.3 864.6,813.9 865.6,814.6 866.6,814.8 867.6,815.3 868.6,819.8 869.6,825.1 870.6,831.1 871.6,835.6 872.6,839.6 873.6,845.6 874.6,849.4 875.6,850.5 876.6,850.9 877.6,850.9 878.6,850.5 879.6,849.4 880.6,845.4 881.6,841.4 882.6,834.0 883.6,824.0 884.6,790.5 885.6,808.8 886.6,820.2 887.6,828.7 888.6,836.3 889.6,838.3 890.6,841.8 891.6,848.8 892.6,853.1 893.6,854.4 894.6,855.1 895.6,855.3 896.6,855.1 897.6,854.6 898.6,854.1 899.6,854.2 900.6,856.2 901.6,860.2 902.6,869.1 903.6,905.6 904.6,909.2 905.6,912.9 906.6,915.4 907.6,916.3 908.6,916.8 909.6,917.1 910.6,917.4 911.6,917.4 912.6,917.0 913.6,915.9 914.6,911.5 915.6,905.5 916.6,874.3 917.6,867.7 918.6,861.0 919.6,855.1 920.6,850.1 921.6,846.4 922.6,843.4 923.6,830.5 924.6,819.0 925.6,818.8 926.6,819.2 927.6,819.3 928.6,819.1 929.6,818.5 930.6,816.8 931.6,814.8 932.6,810.2 933.6,795.2 934.6,784.9 935.6,780.9 936.6,779.8 937.6,778.7 938.6,773.8 939.6,767.7 940.6,757.7 941.6,750.6 942.6,749.0 943.6,760.1 944.6,846.1 945.6,854.4 946.6,855.1 947.6,855.3 948.6,855.1 949.6,854.4 950.6,852.1 951.6,848.7 952.6,845.4 953.6,844.3 954.6,843.3 955.6,843.6 956.6,846.2 957.6,848.6 958.6,849.7 959.6,850.2 960.6,850.7 961.6,851.2 962.6,851.6 963.6,851.8 964.6,851.6 965.6,851.3 966.6,851.1 967.6,850.9 968.6,850.9 969.6,853.2 970.6,864.7 971.6,875.1 972.6,886.6 973.6,892.7 974.6,893.8 975.6,894.2 976.6,894.2 977.6,894.0 978.6,893.4 979.6,878.3 980.6,870.0 981.6,872.0 982.6,874.0 983.6,878.1 984.6,884.1 985.6,885.2 986.6,885.6 987.6,885.6 988.6,885.4 989.6,884.8 990.6,881.1 991.6,875.1 992.6,879.1 993.6,910.0 994.6,927.0 995.6,939.0 996.6,945.7 997.6,946.3 998.6,946.5 999.6,946.3 1000.6,945.7 1001.6,944.6 1002.6,932.6 1003.6,914.6 1004.6,884.2 1005.6,884.1 1006.6,885.2 1007.6,885.9 1008.6,886.6 1009.6,887.0 1010.6,887.0 1011.6,886.6 1012.6,885.5 1013.6,877.0 1014.6,866.1 1015.6,861.1 1016.6,857.0 1017.6,855.7 1018.6,854.3 1019.6,855.5 1020.6,863.2 1021.6,864.5 1022.6,865.9 1023.6,867.0 1024.6,867.8 1025.6,868.4 1026.6,869.0 1027.6,869.2 1028.6,869.0 1029.6,868.4 1030.6,867.3 1031.6,861.3 1032.6,856.2 1033.6,870.7 1034.6,896.5 1035.6,912.0 1036.6,928.5 1037.6,938.8 1038.6,939.9 1039.6,940.3 1040.6,940.3 1041.6,939.9 1042.6,938.8 1043.6,928.3 1044.6,921.5 1045.6,915.5 1046.6,909.5 1047.6,902.1 1048.6,882.4 1049.6,874.4 1050.6,881.4 1051.6,889.4 1052.6,901.2 1053.6,920.1 1054.6,932.1 1055.6,940.7 1056.6,942.5 1057.6,943.1 1058.6,943.3 1059.6,943.1 1060.6,942.5 1061.6,933.2 1062.6,917.9 1063.6,906.6 1064.6,910.5 1065.6,926.3 1066.6,954.9 1067.6,956.0 1068.6,956.3 1069.6,956.3 1070.6,956.0 1071.6,954.9 1072.6,929.8 1073.6,917.8 1074.6,914.5 1075.6,913.8 1076.6,914.6 1077.6,916.3 1078.6,917.3 1079.6,918.0 1080.6,918.6 1081.6,919.0 1082.6,919.0 1083.6,918.6 1084.6,917.8 1085.6,915.5 1086.6,912.1 1087.6,908.8 1088.6,906.8 1089.6,904.8 1090.6,903.2 1091.6,902.8 1092.6,904.1 1093.6,904.7 1094.6,905.0 1095.6,905.0 1096.6,904.8 1097.6,904.5 1098.6,905.2 1099.6,905.9 1100.6,906.5 1101.6,906.7 1102.6,906.5 1103.6,910.1 1104.6,914.6 1105.6,915.9 1106.6,917.2 1107.6,917.9 1108.6,918.3 1109.6,918.3 1110.6,917.9 1111.6,917.4 1112.6,918.9 1113.6,921.5 1114.6,923.5 1115.6,925.5 1116.6,927.2 1117.6,927.8 1118.6,928.0 1119.6,927.8 1120.6,927.2 1121.6,926.0 1122.6,924.7 1123.6,923.3 1124.6,921.5 1125.6,919.5 1126.6,921.0 1127.6,928.0 1128.6,935.8 1129.6,940.8 1130.6,946.4 1131.6,953.4 1132.6,957.0 1133.6,957.6 1134.6,957.8 1135.6,957.6 1136.6,957.0 1137.6,952.3 1138.6,944.3 1139.6,933.2 1140.6,921.1 1141.6,903.4 1142.6,901.4 1143.6,900.8 1144.6,900.5 1145.6,900.1 1146.6,899.8 1147.6,899.4 1148.6,898.5 1149.6,897.5 1150.6,897.1 1151.6,897.6 1152.6,898.1 1153.6,898.6 1154.6,899.2 1155.6,901.2 1156.6,903.2 1157.6,910.0 1158.6,918.1 1159.6,928.8 1160.6,931.8 1161.6,934.0 1162.6,935.2 1163.6,936.2 1164.6,937.1 1165.6,937.6 1166.6,937.8 1167.6,937.6 1168.6,937.3 1169.6,936.9 1170.6,936.5 1171.6,935.8 1172.6,935.1 1173.6,934.4 1174.6,932.9 1175.6,931.3 1176.6,929.7 1177.6,928.7 1178.6,928.1 1179.6,928.6 1180.6,933.2 1181.6,939.2 1182.6,943.2 1183.6,945.9 1184.6,946.5 1185.6,946.7 1186.6,946.5 1187.6,945.9 1188.6,944.3 1189.6,938.3 1190.6,932.3 1191.6,926.3 1192.6,924.8 1193.6,924.1 1194.6,923.4 1195.6,923.3 1196.6,923.6 1197.6,923.6 1198.6,923.3 1199.6,922.7 1200.6,922.0 1201.6,923.0 1202.6,923.9 1203.6,924.4 1204.6,924.6 1205.6,924.6 1206.6,924.6 1207.6,924.6 1208.6,924.8 1209.6,925.1 1210.6,925.3 1211.6,925.6 1212.6,925.8 1213.6,933.8 1214.6,942.1 1215.6,950.8 1216.6,952.0 1217.6,952.3 1218.6,952.3 1219.6,952.0 1220.6,950.8 1221.6,941.9 1222.6,931.9 1223.6,930.9 1224.6,931.4 1225.6,931.5 1226.6,931.4 1227.6,930.7 1228.6,927.5 1229.6,922.5 1230.6,905.8 1231.6,877.4 1232.6,865.7 1233.6,868.0 1234.6,869.1 1235.6,883.5 1236.6,890.5 1237.6,898.6 1238.6,908.6 1239.6,913.3 1240.6,914.3 1241.6,915.3 1242.6,931.4 1243.6,945.9 1244.6,954.5 1245.6,955.6 1246.6,956.0 1247.6,956.0 1248.6,955.6 1249.6,954.5 1250.6,944.1 1251.6,935.1 1252.6,928.1 1253.6,926.5 1254.6,927.7 1255.6,933.7 1256.6,943.7 1257.6,949.0 1258.6,951.8 1259.6,952.4 1260.6,952.6 1261.6,952.4 1262.6,951.8 1263.6,946.1 1264.6,933.2 1265.6,928.3 1266.6,929.4 1267.6,929.8 1268.6,929.8 1269.6,929.4 1270.6,928.7 1271.6,928.1 1272.6,927.3 1273.6,925.7 1274.6,923.7 1275.6,922.0 1276.6,921.5 1277.6,921.0 1278.6,920.7 1279.6,920.4 1280.6,920.3 1281.6,920.6 1282.6,921.3 1283.6,922.8 1284.6,924.3 1285.6,925.6 1286.6,926.3 1287.6,926.8 1288.6,927.3 1289.6,927.8 1290.6,927.9 1291.6,927.8 1292.6,927.4 1293.6,926.3 1294.6,924.3 1295.6,922.3 1296.6,919.9 1297.6,925.6 1298.6,928.3 1299.6,930.3 1300.6,932.3 1301.6,934.0 1302.6,934.6 1303.6,934.8 1304.6,934.7 1305.6,938.4 1306.6,940.7 1307.6,942.4 1308.6,943.3 1309.6,943.7 1310.6,943.7 1311.6,943.3 1312.6,942.2 1313.6,940.2 1314.6,938.2 1315.6,936.6 1316.6,936.8 1317.6,936.8 1318.6,936.5 1319.6,935.4 1320.6,934.0 1321.6,932.7 1322.6,931.4 1323.6,931.2 1324.6,931.5 1325.6,931.5 1326.6,931.1 1327.6,930.0 1328.6,928.7 1329.6,927.4 1330.6,928.6 1331.6,929.4 1332.6,929.7 1333.6,929.7 1334.6,929.4 1335.6,929.9 1336.6,931.0 1337.6,931.6 1338.6,932.1 1339.6,932.6 1340.6,933.7 1341.6,935.0 1342.6,936.3 1343.6,937.7 1344.6,939.0 1345.6,940.1 1346.6,940.4 1347.6,940.4 1348.6,940.1 1349.6,939.6 1350.6,939.1 1351.6,938.6 1352.6,937.9 1353.6,936.6 1354.6,937.0 1355.6,938.4 1356.6,944.2 1357.6,954.2 1358.6,955.3 1359.6,955.7 1360.6,955.7 1361.6,955.3 1362.6,954.2 1363.6,945.9 1364.6,935.7 1365.6,929.6 1366.6,924.6 1367.6,917.3 1368.6,905.3 1369.6,897.2 1370.6,892.2 1371.6,889.9 1372.6,888.9 1373.6,889.5 1374.6,891.1 1375.6,892.7 1376.6,893.7 1377.6,894.1 1378.6,894.1 1379.6,893.7 1380.6,893.1 1381.6,892.3 1382.6,891.2 1383.6,883.2 1384.6,864.1 1385.6,850.7 1386.6,849.2 1387.6,859.1 1388.6,862.1 1389.6,863.2 1390.6,863.6 1391.6,863.6 1392.6,863.2 1393.6,862.1 1394.6,858.5 1395.6,852.3 1396.6,849.3 1397.6,849.7 1398.6,849.7 1399.6,849.3 1400.6,848.2 1401.6,845.2 1402.6,842.3 1403.6,839.8 1404.6,838.4 1405.6,837.9 1406.6,837.4 1407.6,837.1 1408.6,836.7 1409.6,836.3 1410.6,836.5 1411.6,842.3 1412.6,848.3 1413.6,853.3 1414.6,856.9 1415.6,858.0 1416.6,858.4 1417.6,858.4 1418.6,858.0 1419.6,856.9 1420.6,854.9 1421.6,851.1 1422.6,852.2 1423.6,852.6 1424.6,852.6 1425.6,852.2 1426.6,851.1 1427.6,844.1 1428.6,838.6 1429.6,835.6 1430.6,831.4 1431.6,826.4 1432.6,820.6 1433.6,820.1 1434.6,823.5 1435.6,825.5 1436.6,826.6 1437.6,827.0 1438.6,827.0 1439.6,826.6 1440.6,825.5 1441.6,819.3 1442.6,820.3 1443.6,821.2 1444.6,821.6 1445.6,821.6 1446.6,821.2 1447.6,820.1 1448.6,813.8 1449.6,806.9 1450.6,804.1 1451.6,805.2 1452.6,805.6 1453.6,805.6 1454.6,805.3 1455.6,804.8 1456.6,804.1 1457.6,803.4 1458.6,801.9 1459.6,886.7 1460.6,885.6 1461.6,885.4 1462.6,885.4 1462.6,885.4 1461.6,885.4 1460.6,885.6 1459.6,975.9 1458.6,980.3 1457.6,981.6 1456.6,981.9 1455.6,981.7 1454.6,981.3 1453.6,980.7 1452.6,980.1 1451.6,979.3 1450.6,977.3 1449.6,975.3 1448.6,972.2 1447.6,968.9 1446.6,966.3 1445.6,965.2 1444.6,964.8 1443.6,964.8 1442.6,965.2 1441.6,965.9 1440.6,966.6 1439.6,967.7 1438.6,981.1 1437.6,991.4 1436.6,994.7 1435.6,994.9 1434.6,994.7 1433.6,994.9 1432.6,995.5 1431.6,996.3 1430.6,997.1 1429.6,997.9 1428.6,998.7 1427.6,999.5 1426.6,1000.3 1425.6,1001.1 1424.6,1001.9 1423.6,1003.0 1422.6,1006.5 1421.6,1011.5 1420.6,1016.5 1419.6,1015.6 1418.6,1014.0 1417.6,1012.8 1416.6,1011.8 1415.6,1010.8 1414.6,1009.8 1413.6,1008.3 1412.6,1006.8 1411.6,1005.3 1410.6,1003.8 1409.6,1002.3 1408.6,1000.8 1407.6,998.7 1406.6,995.4 1405.6,992.1 1404.6,990.3 1403.6,989.7 1402.6,989.5 1401.6,989.7 1400.6,990.2 1399.6,990.7 1398.6,991.2 1397.6,991.8 1396.6,993.0 1395.6,994.6 1394.6,993.5 1393.6,993.1 1392.6,993.1 1391.6,993.5 1390.6,994.2 1389.6,995.2 1388.6,996.2 1387.6,997.2 1386.6,999.2 1385.6,998.8 1384.6,998.6 1383.6,998.6 1382.6,999.0 1381.6,1000.1 1380.6,1003.1 1379.6,1006.1 1378.6,1007.5 1377.6,1007.2 1376.6,1007.2 1375.6,1007.6 1374.6,1008.7 1373.6,1010.4 1372.6,1008.7 1371.6,1007.6 1370.6,1007.2 1369.6,1007.2 1368.6,1007.5 1367.6,1008.0 1366.6,1008.5 1365.6,1009.0 1364.6,1009.6 1363.6,1010.6 1362.6,1011.6 1361.6,1012.6 1360.6,1012.8 1359.6,1012.0 1358.6,1011.1 1357.6,1010.2 1356.6,1008.9 1355.6,1007.7 1354.6,1006.4 1353.6,1005.7 1352.6,1005.6 1351.6,1005.6 1350.6,1006.0 1349.6,1006.9 1348.6,1007.9 1347.6,1008.9 1346.6,1009.9 1345.6,1011.1 1344.6,1012.6 1343.6,1014.1 1342.6,1015.6 1341.6,1016.3 1340.6,1016.9 1339.6,1016.6 1338.6,1015.8 1337.6,1015.0 1336.6,1014.3 1335.6,1014.1 1334.6,1014.3 1333.6,1015.0 1332.6,1016.4 1331.6,1017.3 1330.6,1016.1 1329.6,1014.9 1328.6,1013.9 1327.6,1012.9 1326.6,1011.9 1325.6,1011.1 1324.6,1010.7 1323.6,1010.7 1322.6,1011.1 1321.6,1012.0 1320.6,1013.0 1319.6,1013.3 1318.6,1012.8 1317.6,1012.1 1316.6,1011.3 1315.6,1010.6 1314.6,1010.0 1313.6,1009.8 1312.6,1010.0 1311.6,1010.6 1310.6,1011.5 1309.6,1012.5 1308.6,1013.5 1307.6,1014.2 1306.6,1014.5 1305.6,1012.5 1304.6,1011.1 1303.6,1010.1 1302.6,1009.1 1301.6,1008.2 1300.6,1007.8 1299.6,1007.8 1298.6,1008.2 1297.6,1009.3 1296.6,1014.9 1295.6,1014.8 1294.6,1014.0 1293.6,1013.0 1292.6,1012.0 1291.6,1011.1 1290.6,1010.7 1289.6,1010.6 1288.6,1010.6 1287.6,1010.6 1286.6,1010.6 1285.6,1010.5 1284.6,1010.3 1283.6,1010.1 1282.6,1009.9 1281.6,1009.8 1280.6,1009.8 1279.6,1010.0 1278.6,1010.2 1277.6,1010.4 1276.6,1010.6 1275.6,1010.9 1274.6,1011.3 1273.6,1011.7 1272.6,1012.1 1271.6,1012.5 1270.6,1012.7 1269.6,1012.9 1268.6,1013.1 1267.6,1013.3 1266.6,1013.7 1265.6,1014.8 1264.6,1016.4 1263.6,1015.6 1262.6,1014.0 1261.6,1012.9 1260.6,1012.4 1259.6,1012.0 1258.6,1011.6 1257.6,1011.2 1256.6,1009.9 1255.6,1008.4 1254.6,1006.9 1253.6,1005.8 1252.6,1005.4 1251.6,1005.3 1250.6,1005.3 1249.6,1005.3 1248.6,1005.3 1247.6,1005.5 1246.6,1006.1 1245.6,1007.7 1244.6,1009.7 1243.6,1011.7 1242.6,1013.7 1241.6,1012.7 1240.6,1010.7 1239.6,1008.7 1238.6,1006.7 1237.6,1005.0 1236.6,1004.1 1235.6,1003.7 1234.6,1003.7 1233.6,1004.1 1232.6,1004.6 1231.6,1005.1 1230.6,1004.9 1229.6,1004.7 1228.6,1004.5 1227.6,1004.6 1226.6,1005.0 1225.6,1005.7 1224.6,1006.5 1223.6,1007.2 1222.6,1007.7 1221.6,1008.1 1220.6,1008.5 1219.6,1008.9 1218.6,1009.4 1217.6,1010.4 1216.6,1011.4 1215.6,1012.4 1214.6,1013.4 1213.6,1014.6 1212.6,1015.9 1211.6,1016.3 1210.6,1016.1 1209.6,1015.6 1208.6,1015.1 1207.6,1014.4 1206.6,1013.4 1205.6,1012.4 1204.6,1011.4 1203.6,1010.2 1202.6,1008.9 1201.6,1007.7 1200.6,1006.7 1199.6,1006.3 1198.6,1006.0 1197.6,1005.7 1196.6,1005.5 1195.6,1005.3 1194.6,1005.5 1193.6,1006.2 1192.6,1006.2 1191.6,1004.8 1190.6,1004.1 1189.6,1003.7 1188.6,1003.7 1187.6,1004.0 1186.6,1004.4 1185.6,1004.8 1184.6,1005.2 1183.6,1005.7 1182.6,1006.2 1181.6,1006.7 1180.6,1007.2 1179.6,1007.8 1178.6,1009.2 1177.6,1011.2 1176.6,1013.2 1175.6,1013.6 1174.6,1012.4 1173.6,1011.4 1172.6,1010.4 1171.6,1009.5 1170.6,1009.1 1169.6,1009.1 1168.6,1009.3 1167.6,1010.0 1166.6,1011.0 1165.6,1012.0 1164.6,1013.0 1163.6,1014.6 1162.6,1013.8 1161.6,1012.6 1160.6,1011.6 1159.6,1010.6 1158.6,1009.7 1157.6,1009.0 1156.6,1008.5 1155.6,1008.0 1154.6,1007.5 1153.6,1007.1 1152.6,1007.1 1151.6,1007.5 1150.6,1008.6 1149.6,1010.6 1148.6,1012.6 1147.6,1013.8 1146.6,1012.5 1145.6,1011.1 1144.6,1009.8 1143.6,1009.1 1142.6,1009.0 1141.6,1009.0 1140.6,1009.2 1139.6,1009.5 1138.6,1009.7 1137.6,1009.9 1136.6,1010.1 1135.6,1010.3 1134.6,1010.5 1133.6,1010.4 1132.6,1010.2 1131.6,1010.0 1130.6,1009.8 1129.6,1009.5 1128.6,1009.3 1127.6,1008.7 1126.6,1007.7 1125.6,1006.7 1124.6,1004.3 1123.6,1001.6 1122.6,999.6 1121.6,998.8 1120.6,998.4 1119.6,998.4 1118.6,998.8 1117.6,996.2 1116.6,995.1 1115.6,994.5 1114.6,993.8 1113.6,993.2 1112.6,993.0 1111.6,993.2 1110.6,993.9 1109.6,994.9 1108.6,996.3 1107.6,997.6 1106.6,998.9 1105.6,1000.3 1104.6,1001.6 1103.6,1003.1 1102.6,1004.6 1101.6,1006.1 1100.6,1007.4 1099.6,1008.7 1098.6,1009.9 1097.6,1011.2 1096.6,1012.4 1095.6,1013.7 1094.6,1013.2 1093.6,1009.5 1092.6,1007.0 1091.6,1006.3 1090.6,1006.1 1089.6,1006.1 1088.6,1006.5 1087.6,1007.6 1086.6,1010.2 1085.6,1012.9 1084.6,1010.3 1083.6,1009.7 1082.6,1009.3 1081.6,1009.3 1080.6,1009.7 1079.6,1010.8 1078.6,1012.1 1077.6,1013.5 1076.6,1015.1 1075.6,1013.3 1074.6,1012.6 1073.6,1012.4 1072.6,1012.6 1071.6,1013.3 1070.6,1015.4 1069.6,1018.4 1068.6,1017.3 1067.6,1015.8 1066.6,1014.3 1065.6,1013.0 1064.6,1012.0 1063.6,1011.0 1062.6,1010.0 1061.6,1009.3 1060.6,1009.1 1059.6,1009.2 1058.6,1009.6 1057.6,1010.7 1056.6,1012.2 1055.6,1013.1 1054.6,1013.9 1053.6,1014.3 1052.6,1014.7 1051.6,1014.1 1050.6,1013.5 1049.6,1012.9 1048.6,1011.9 1047.6,1010.9 1046.6,1009.5 1045.6,1006.9 1044.6,1004.2 1043.6,1003.1 1042.6,1002.7 1041.6,1002.7 1040.6,1003.1 1039.6,1004.2 1038.6,1007.1 1037.6,1006.3 1036.6,1003.7 1035.6,1000.7 1034.6,996.7 1033.6,994.0 1032.6,993.4 1031.6,993.2 1030.6,993.3 1029.6,993.7 1028.6,994.3 1027.6,995.0 1026.6,996.1 1025.6,998.3 1024.6,1001.0 1023.6,1003.5 1022.6,1005.0 1021.6,1004.5 1020.6,1004.3 1019.6,1004.0 1018.6,1003.3 1017.6,1002.0 1016.6,999.0 1015.6,995.0 1014.6,991.0 1013.6,987.7 1012.6,986.6 1011.6,986.2 1010.6,986.2 1009.6,986.6 1008.6,987.7 1007.6,990.3 1006.6,993.0 1005.6,995.0 1004.6,995.1 1003.6,994.9 1002.6,994.9 1001.6,995.3 1000.6,996.2 999.6,997.2 998.6,997.3 997.6,995.6 996.6,992.9 995.6,987.9 994.6,985.1 993.6,984.5 992.6,984.3 991.6,984.5 990.6,985.1 989.6,987.8 988.6,991.8 987.6,994.8 986.6,997.4 985.6,999.9 984.6,1001.0 983.6,1000.5 982.6,1000.1 981.6,1000.1 980.6,1000.5 979.6,1001.6 978.6,1003.1 977.6,1004.8 976.6,1006.4 975.6,1007.8 974.6,1006.2 973.6,1004.6 972.6,1003.3 971.6,1001.9 970.6,1000.7 969.6,1000.0 968.6,999.3 967.6,998.6 966.6,998.0 965.6,996.5 964.6,992.5 963.6,989.1 962.6,986.1 961.6,985.0 960.6,984.5 959.6,984.3 958.6,984.5 957.6,985.0 956.6,984.0 955.6,974.6 954.6,969.9 953.6,968.1 952.6,967.0 951.6,966.6 950.6,966.6 949.6,967.0 948.6,968.1 947.6,977.1 946.6,971.9 945.6,964.3 944.6,961.6 943.6,958.9 942.6,956.9 941.6,955.7 940.6,954.8 939.6,954.2 938.6,953.9 937.6,953.5 936.6,953.2 935.6,953.2 934.6,953.6 933.6,954.5 932.6,955.5 931.6,956.5 930.6,961.4 929.6,981.6 928.6,986.7 927.6,983.7 926.6,983.0 925.6,982.6 924.6,982.6 923.6,983.0 922.6,983.7 921.6,984.4 920.6,985.5 919.6,991.9 918.6,995.1 917.6,993.1 916.6,991.1 915.6,990.0 914.6,989.6 913.6,989.6 912.6,990.0 911.6,991.1 910.6,993.0 909.6,993.4 908.6,989.4 907.6,988.0 906.6,987.0 905.6,986.0 904.6,985.0 903.6,984.4 902.6,984.2 901.6,984.4 900.6,985.0 899.6,986.2 898.6,987.7 897.6,989.2 896.6,990.7 895.6,994.6 894.6,998.7 893.6,1000.4 892.6,999.1 891.6,997.2 890.6,992.2 889.6,987.6 888.6,983.6 887.6,981.5 886.6,980.8 885.6,980.6 884.6,980.8 883.6,981.4 882.6,982.1 881.6,982.7 880.6,983.8 879.6,985.8 878.6,987.8 877.6,985.5 876.6,979.2 875.6,970.4 874.6,962.8 873.6,958.6 872.6,957.9 871.6,957.7 870.6,957.9 869.6,958.6 868.6,960.6 867.6,963.6 866.6,964.9 865.6,961.9 864.6,958.3 863.6,951.2 862.6,947.7 861.6,944.7 860.6,942.4 859.6,941.3 858.6,940.9 857.6,940.9 856.6,941.2 855.6,941.6 854.6,942.0 853.6,942.7 852.6,944.7 851.6,947.4 850.6,950.1 849.6,954.0 848.6,958.7 847.6,967.3 846.6,997.3 845.6,1013.2" fill="#1f77b4" stroke="#1f77b4" stroke-width="5.6" stroke-linejoin="round"/>
<path d="M117.2 900.4h0m.1-54.1h0m0 21.5h0m0-28.3h0m.1 39.7h0m0 28.7h0m0-78.3h0m.1 23.2h0m0 39.8h0m0-29.8h0m.1-5h0m.3 16.2h0m.1 12h0m.8-93.2h0m0 8.8h0m0 35.4h0m.3-11.7h0m.3 163.5h0m.5 3.7h0m0-.3h0m.3-160.9h0m.3 149.3h0m.1-156.8h0m.1 163.6h0m.1-162.9h0m.1 9.3h0m.6-9.5h0m.5 9.1h0m.1-42.1h0m.1 1.9h0m0-69.6h0m.1 63.3h0m.1-32.3h0m.1-19.4h0m0 44.5h0m0 14.6h0m.1-52.4h0m0 91.3h0m0-71.9h0m.1 57.9h0m0-90.1h0m.1 83.4h0m0-43.7h0m0 31.3h0m0-52.4h0m.1 77.8h0m0-18.8h0m.1 177.6h0m0-209.8h0m.1-68h0m.2 47.6h0m0 54.7h0m.1 5.4h0m0-49.8h0m0 62h0m0-88.6h0m.1 57.3h0m0 36.2h0m.1-55.8h0m0-26.7h0m0 71h0m.1-76h0m.1-20.2h0m0 35.5h0m.1 30.3h0m0-19h0m0 11.6h0m0 19h0m.1-70.6h0m.2 55.5h0m0 11.2h0m0-26.6h0m.1 20.7h0m0-27.5h0m.1 11.8h0m.1 5.4h0m0-23.3h0m.1-26.3h0m.1 73.4h0m0-66.6h0m.2 12.2h0m0-7.2h0m0 217.2h0m.1-235.9h0m.2 55.5h0m.1-31.2h0m0-18.8h0m0 43.5h0m0-11.4h0m.1 55.2h0m0-62.6h0m.1-37.3h0m0 6.6h0m0 75.6h0m.1-133.3h0m0 28.3h0m0 49.1h0m0-37.1h0m.1 1.2h0m.1 86.1h0m0 11h0m0 6.5h0m.2-44.4h0m0 19.4h0m0-49h0m.1-19.4h0m.1 32.9h0m.1 65h0m0 20.4h0m.1-47.1h0m0-5.6h0m0-44.1h0m0 17.1h0m.1-10.6h0m.1 224.1h0m.1-175.5h0m0 14h0m.1 21.4h0m.1-97.6h0m0 69.9h0m0-77.2h0m0 97.7h0m0-108.7h0m0 55.7h0m.1 7.9h0m0-14.1h0m.1-57h0m0-.8h0m.1 76.5h0m.1-32h0m0-5.2h0m.1 65h0m0 5.6h0m.1-83.7h0m0 95h0m.1 11.1h0m0 152.4h0m0-213.5h0m.1 44.3h0m0-31.2h0m0-19h0m.1-50h0m0 3h0m0 33.9h0m.1 5.2h0m0 49.5h0m0-10h0m0 29.5h0m0-35.6h0m.1-58.6h0m.6 250h0m.4-156.5h0m.9 9.6h0m1.3-.5h0m0-76h0m0 11.5h0m0 18.5h0m0 6.2h0m0 10.6h0m.3 191.3h0m.2-161.2h0m.1 .1h0m.3-12.1h0m0-8.4h0m0 24.2h0m.4 162.2h0m.1-3.5h0m.2-160.7h0m2.2-12.6h0m0 12.4h0m.2 2.5h0m1.1 2.1h0m.1-3.1h0m.1-71.2h0m0 13.3h0m0 15.9h0m0 16.8h0m.3 25.3h0m.4 1.1h0m.6 .2h0m.5 1h0m.1 .5h0m.5-1.3h0m.1-5.5h0m.1 2.4h0m.1 1.3h0m0-92.2h0m0 84.5h0m1 2.5h0m.4-34.1h0m1-51.6h0m.6-110.2h0m.1 125.9h0m0 5.6h0m0-97.6h0m0 85.8h0m0 26.3h0m0 41.7h0m0-180.4h0m.1 192.4h0m0-33.6h0m0-125.7h0m.1-20.2h0m0 153.7h0m.1-179.3h0m0 84.7h0m0 6.5h0m0-13.5h0m0 121.5h0m0-167.2h0m0 80.1h0m0-54.2h0m.1 13.4h0m0 280.5h0m0-193.4h0m.1-59.5h0m0-79.9h0m0 32.5h0m0 92.3h0m.1-146.3h0m0 122.3h0m0 43.9h0m0-98.6h0m.1 41.4h0m0 79.2h0m.2-184.6h0m0 76.8h0m.1-30.5h0m.1 13.5h0m0-24.1h0m.1-24.3h0m0 100.6h0m0-28.2h0m.1-77.3h0m0 11.7h0m.1-29h0m0-1.3h0m.1 83.8h0m0-31.1h0m0-46.9h0m0 101.9h0m.1 5.1h0m0 5.1h0m0-53.4h0m0 12.7h0m0 53.4h0m.1-29.7h0m0-58.3h0m0-7.3h0m.2-41.1h0m0 27.9h0m.1-5.3h0m.1 44h0m0-54.6h0m0-8.3h0m0 51.5h0m0-21.8h0m.1-55.3h0m0 72.2h0m0 41.3h0m.1-7.4h0m0-84.4h0m0 45.1h0m0-27.9h0m0-4.5h0m.2 47.5h0m0-20.9h0m.1 39h0m0-5.2h0m.4-31.1h0m0 332.4h0m0-321.7h0m.1 18.4h0m.1-34.1h0m0 70h0m0 4.8h0m.1-29.7h0m0-5.3h0m0 41.3h0m0 5.5h0m0-108.5h0m0 80.5h0m.1-64.7h0m0 34.4h0m.1-18.2h0m.1-23.2h0m0 33.9h0m.1 30h0m0 13.4h0m0-83.2h0m.2 360.5h0m1.3-286.3h0m.3 21.7h0m.3-3.2h0m.5 271.1h0m1.6-212.2h0m.5 8.2h0m.6 204.7h0m0-186.6h0m.5 33.6h0m.2-39.5h0m.2 194.8h0m.1-135.1h0m0-8.7h0m.1-7.9h0m.9 24.2h0m.1 130.3h0m.2-119.7h0m1.4 112.6h0m.4-147.7h0m.2 1h0m0-15.5h0m.4 29.5h0m.3 130.4h0m.5 4.8h0m.1-149.8h0m.4 .1h0m.2 146.8h0m.1-162.5h0m.2 3.4h0m.3 10.8h0m.6-6.2h0m.3 150.4h0m.2-1.1h0m0-153.4h0m.7 154.6h0m1.5-152.3h0m.2 144.5h0m1-163.3h0m.2 163.3h0m1.2-175.2h0m.2 169.6h0m.4 1h0m.6-213.5h0m0 33.2h0m.1 21.5h0m.2-39.5h0m.1 46h0m.1-66.9h0m.1 13.4h0m0 18.7h0m0 21h0m0-46.6h0m.1 39.8h0m.1-19.5h0m.2 22.5h0m0-30.1h0m.3 5.3h0m.2 11.7h0m0 6.7h0m.1-29.2h0m.1-13.6h0m0 29.5h0m0 192.3h0m0-215.2h0m.2-25.3h0m.2 16h0m.1-7.4h0m0-83h0m0 4.9h0m0 14.1h0m0 10.3h0m0 8.3h0m0 16.8h0m.2 38.6h0m.4-83.1h0m.2 73.8h0m.1-142.4h0m0 4.4h0m0 4.4h0m0 3.6h0m0 5.3h0m0 10.2h0m0 14.9h0m0 65h0m0 10.6h0m.5 26.2h0m0-4.5h0m.1 243.1h0m.3-279.8h0m0 18.5h0m.1 29.7h0m0 53h0m0-62.8h0m.1 29h0m0-30.3h0m0 18.2h0m0 5h0m.1 20.6h0m.2 13.5h0m0-71.4h0m0 259.4h0m0-195.2h0m.3-12.7h0m.1-39.6h0m.1 66.3h0m0-43h0m.2 62.8h0m.2-5.7h0m0-32.4h0m0-6.3h0m0-38h0m.1 14.7h0m0 10.6h0m0 6.9h0m.1-23.3h0m.1 60h0m0-19.4h0m.1 5.4h0m.6 199.1h0m.8-198.7h0m.5 198h0m1-170.8h0m.1 6.1h0m.2 171.1h0m.4-168.1h0m1.6 55.4h0m.1 8.1h0m.1 108.9h0m.3-4.4h0m.4 2.9h0m.2-120.9h0m.1 11.1h0m.5-2.7h0m.1 109.4h0m.5-107h0m2-6.8h0m.9-2.5h0m.2 112.8h0m.4-134.7h0m0 133.9h0m.1-143.2h0m.4-13.5h0m.1 148.7h0m.7-154.8h0m.4-25.1h0m0-9.8h0m1-108.6h0m0 288h0m.5-262.3h0m0 75.3h0m0 179.7h0m.1-220.6h0m0-63.9h0m.1 127.7h0m0-6.5h0m0-42h0m0-38.6h0m.1 5.2h0m0 39.4h0m0 13.9h0m.1-64.8h0m0 249.8h0m0-274.1h0m0 271.8h0m0-126.1h0m.1-62.6h0m.1-75.5h0m0 54h0m0-15.1h0m0 84.7h0m.1-31.3h0m0-58.3h0m0-28.5h0m0 124.9h0m0-32.4h0m.1 18h0m.1-134.4h0m.2 63.4h0m.1 31.7h0m0-26.4h0m0 36.6h0m0-99.8h0m0 17.2h0m0 16.1h0m.1 61.4h0m.1-10.4h0m0-56.9h0m0 43.5h0m0-19h0m.1-54.4h0m0 107.9h0m0-59.3h0m.1-41.9h0m0 108.8h0m0-112.9h0m0 10.3h0m.1 66h0m0-54.2h0m.1 18.2h0m.1-45.4h0m.3-97.9h0m0 44.8h0m0 2.6h0m0 12.4h0m.1 33.3h0m0 9.1h0m.1-1.1h0m.2-33.4h0m0 5.3h0m0 303.3h0m.8-381.4h0m0 18h0m0 63.7h0m.5 25.5h0m.1-1.6h0m1-9h0m.2 3.5h0m.1-4.7h0m.6-.3h0m.2-12.5h0m0 5.8h0m1 43.2h0m.1 13.8h0m0-21.7h0m.1-5h0m.1-6h0m.1 25.2h0m.1-33.8h0m.1-1.2h0m.3 5.9h0m0 22.2h0m0 72h0m.1-33h0m0 53.7h0m.1-13.4h0m0-101.6h0m.1 40.5h0m0-36.7h0m.1 84h0m0-21.2h0m.1-31h0m0 85h0m0-11.4h0m0-28.6h0m.1 143.8h0m.1-176.2h0m0-46.7h0m0 15.9h0m0 12h0m.1 44.1h0m0-63.5h0m0 45.7h0m.2-33h0m0 40.3h0m0 24.9h0m.1-84.4h0m0-16.2h0m.1 113.5h0m0 13.7h0m0-98.5h0m0 33.4h0m0 26.1h0m0 46.8h0m.1-28.5h0m.1-65.3h0m0 15.4h0m0 187.9h0m.1-221.8h0m0 26.3h0m0 33.1h0m.1-12.2h0m0 50.9h0m.1-25.7h0m.8 24.9h0m0 1.3h0m.4 154.2h0m1 2h0m0 .4h0m.4-154.6h0m0 4.4h0m1.4 8.8h0m0 3.9h0m.2 149h0m.3-149.8h0m.2 6h0m0 144h0m.3-142h0m.7-12.1h0m.3 1.8h0m.1 11.6h0m.8-6.2h0m0 5.5h0m.1-6.5h0m.3 12h0m.9 144.8h0m.1-150.4h0m0-2.5h0m.3 1.3h0m.3-3.9h0m.9-30h0m.7 185.7h0m.7 2.3h0m.2-206.1h0m.3-3h0m.2 1.4h0m.2 206.5h0m.1 4.4h0m0-223.9h0m1.8 215.9h0m.2 .2h0m.2-211.1h0m.1 6h0m0-19.9h0m.3 6.1h0m.5-6.8h0m.3 5h0m1.3-4.6h0m0-1.3h0m.8-13.8h0m.3 226h0m1.1-210.5h0m.5 5.4h0m.3-10.3h0m0 10.8h0m.8 198h0m0-208.5h0m.4-5.4h0m.3 10.5h0m.6 .2h0m1.2 10h0m.3 1.5h0m1.5-3h0m.1-6.6h0m.5 5h0m.1 6.5h0m.5-.9h0m0-.5h0m.4 195.3h0m0-203.5h0m.3 209.4h0m1.1-211.7h0m.2 210.7h0m.3-205.8h0m.2 205.5h0m1.1-210.5h0m.2-13.9h0m.1 15.7h0m.2-11.3h0m.4 4.3h0m.2 3.9h0m0 2.8h0m.1 203.7h0m1.6-232.2h0m.1 234.8h0m1.5-280.1h0m.3-13.3h0m.2-2.9h0m.6 49.7h0m.1-35h0m.1 4.9h0m.1 16.6h0m0 19.8h0m0-47.1h0m.2-6h0m.1-5h0m.1 45.7h0m.1-18.1h0m0 5.2h0m.2-26.3h0m0 13.3h0m.1 5h0m.2-25.9h0m0-16.8h0m.3 30.5h0m.2-31.2h0m0 274h0m.5-282.4h0m.3 26h0m.2-8.4h0m.4 8.5h0m0 19.3h0m.3-11.5h0m.1 5.7h0m0-28.5h0m.1 13.2h0m.4-11.1h0m.1 25.3h0m.1-25.7h0m0 39.7h0m0 5.7h0m.3 11.7h0m.1-43.2h0m0 37.8h0m.1-31h0m0 11.3h0m.1-27.5h0m.1 7.4h0m.5 5.6h0m1.6 267.4h0m.1-231.1h0m.2 228h0m.3 9h0m1-169.1h0m.1-19.4h0m.8 211.6h0m.3-191.7h0m.1 6.4h0m.3 171.8h0m0-5.8h0m.3 6.4h0m0 13.3h0m0-7.1h0m.4-11.6h0m.1 14.4h0m.1-2.2h0m0-7.2h0m.2-173.9h0m0 6.5h0m.1-4.9h0m.5 10.6h0m.9-1.8h0m1.3 19.9h0m.3 1.6h0m.5-9.9h0m.2 4.8h0m.3 4.4h0m.1 141h0m.6-149.3h0m.5 6.5h0m.1 142.7h0m.4 .1h0m.8-142.7h0m1 146.9h0m.2-151.4h0m1.5-11.6h0m.3 160.9h0m0-169h0m.1 166.5h0m0-168.1h0m1-114.3h0m.8-44h0m.1-5.4h0m.1 9.7h0m.1-12h0m.9 45.5h0m.1 21.1h0m0 5.6h0m0 252.9h0m0-2h0m0-270.2h0m.1 31.3h0m0-24.7h0m0-34.8h0m.1-5.5h0m0-7.1h0m.1 309h0m0-312.7h0m0 23.1h0m.1-33.6h0m.1 40.7h0m0 38.9h0m.1 12.7h0m.1-87.7h0m.5 311.6h0m.2-302.5h0m1.3-7h0m.2 8.3h0m.1 23.9h0m0 278.5h0m0-283.7h0m.5-12.4h0m0 7.4h0m.2-16.3h0m0-14.1h0m.7 4.9h0m1.3 26.6h0m1.1 120.9h0m.9 1.9h0m.2-12.9h0m.6 5.5h0m.7 10.4h0m.4 1.8h0m.2 3h0m.1 5.1h0m.1 185.4h0m.5 6.2h0m0 6h0m.5 2.8h0m.1-209h0m1.1 207.2h0m2.2-220.6h0m.1 8.8h0m.7-37.6h0m0-3.4h0m.1-13h0m.2 28.8h0m.9-79.4h0m.5 84.4h0m0-12.9h0m0-59.8h0m0 41.7h0m.1 5.8h0m0-17.6h0m0-12.5h0m.1 17.4h0m0-22.6h0m.1 42.6h0m0 11.1h0m.1-42.8h0m0-16.4h0m0-18.2h0m.1 89.6h0m.4-40.5h0m.2-39.3h0m0 7.8h0m.1 6.6h0m0 14h0m.2-38.4h0m.1 43.9h0m.1-13.4h0m.4-22.9h0m0-10.6h0m.4 5.1h0m.1 .7h0m.5 72.8h0m0-52.5h0m.1 28.1h0m.2 11.6h0m0-16.9h0m0-17.9h0m.1 11.9h0m.2-29.1h0m0 6h0m0 18h0m0 22.8h0m.1 12.5h0m.2 9.3h0m.1-13.2h0m.1-12.1h0m.1-12.9h0m.1-28.6h0m0 253h0m0-205.5h0m0-62.4h0m.1-.9h0m.1 75h0m0-36.1h0m.1-5.3h0m0 18.3h0m0-43.7h0m0 18.6h0m0-6h0m.2-23h0m.5 15.1h0m1.1 242.7h0m.3-180.7h0m.1-2.6h0m.2 8.8h0m.8 3.3h0m.3 167.3h0m.2-165.3h0m.1-.6h0m.9 167.4h0m1.3-159.6h0m.3-.2h0m.3-4.5h0m.9 160h0m.3-157.2h0m.1-2h0m.1-13h0m.5 9.8h0m.1 5.3h0m.2-1.8h0m.6-1h0m.4 157.2h0m.6-167.3h0m.3 1.2h0m.2 2.4h0m1.2-18.4h0m.4 150.3h0m.8-146.8h0m0 20.3h0m.1-13.5h0m0-23.6h0m0-6.3h0m.1-13.4h0m.1 63.2h0m0-38.2h0m.1-36.3h0m0 41.4h0m.1-36.5h0m.1 56.8h0m0-43.2h0m.2-30.1h0m.1 3.9h0m.2 50.7h0m0-48.5h0m.1 19.8h0m.2 7.8h0m.2-15.2h0m0 42h0m0-13.6h0m.1-36.3h0m0 55.2h0m0-72.1h0m0 47.8h0m.3 163.2h0m0 8h0m0 7h0m0-218.5h0m.1 9.9h0m.6-17h0m0 23.4h0m.1-18.3h0m.6-38h0m0 3.6h0m0 6.1h0m0 7.1h0m0 8h0m.9 7.1h0m.1 17.1h0m.2-16.6h0m.1 13.1h0m.2 196.6h0m.2-192.9h0m.1 63h0m.1-33.4h0m0 26.1h0m.1-32.9h0m0 14.4h0m.2-19.5h0m.1 26.1h0m0-31.5h0m0-6.9h0m.1 43.6h0m.2 24.7h0m0-29.5h0m.1 72.8h0m0-37.4h0m0-16.4h0m0 40.8h0m.1-18.5h0m0 26.2h0m.1-72.4h0m0-37.9h0m.1 7.2h0m0 47h0m.1-23.2h0m0 59.8h0m0-42.7h0m0 48.2h0m0-73.1h0m0 44.2h0m.1-75.2h0m0 20.3h0m0-18.8h0m.1 23.8h0m.2 196.6h0m.2-197.5h0m.9 39.8h0m.5 62.6h0m.4-15.4h0m.1 17.2h0m1.2 140.7h0m0-134.9h0m.9-2.8h0m1 172.6h0m.1 2.4h0m0-168.6h0m.4 170h0m.5-170.7h0m.1 160.8h0m.2-165.7h0m.1 160.9h0m0-174.3h0m.1 15.3h0m0 169.9h0m.2-187.5h0m.1 21.6h0m.3 167.7h0m.4-188.1h0m3-151.7h0m.3-2.4h0m.1-11.3h0m0 103.9h0m0-51.1h0m0-19.3h0m0 55.8h0m0-43.7h0m.1-18.7h0m.1 37.7h0m0 59.2h0m0 5.2h0m0-103.1h0m0 57.6h0m.1 50.5h0m0-94h0m.1-30.1h0m0 61.4h0m0 82.9h0m.1-141.6h0m.1 128.5h0m0 7.5h0m0-31h0m0-6.3h0m0-14.4h0m0-87.9h0m.1 69.1h0m0-59.3h0m.1 40.5h0m.2-25.3h0m0 88.6h0m0 16h0m.1-4.9h0m.1-107.3h0m0 13.2h0m0 67.1h0m.1-52.8h0m0 7.5h0m.1 207.7h0m0-256.2h0m.1 99.3h0m0 33.4h0m0-127h0m.1 55.2h0m0 26.3h0m.1-13.1h0m0 6.9h0m0-26.9h0m0 50.3h0m0 10.5h0m.1-81.1h0m0 34h0m.3-68.1h0m.2 6.6h0m.7-36.6h0m0 5.3h0m1 20.8h0m0 27.6h0m.1 26.2h0m.1 7.2h0m0-38.5h0m0 49.2h0m0-23h0m.1 18.1h0m0-65.8h0m.3 34.1h0m.1 6.8h0m0-32.3h0m0-5h0m.1 12.7h0m0-16.8h0m.2 59.8h0m0 13.3h0m0 175.6h0m0-225.2h0m.1 103.5h0m0-6.8h0m0-121.7h0m0 88.3h0m.1 13.8h0m0 7.7h0m.1-71.5h0m0 56.3h0m0-88.6h0m0 25.1h0m.1-27.8h0m0 77.7h0m0-35.7h0m.2 90.4h0m0-20.4h0m0-48.5h0m.1-10.8h0m0-37.8h0m0 32.6h0m.1-38.9h0m.1 15.4h0m.5 234.8h0m.2-227.7h0m2.7 97.1h0m.5-6.8h0m0 5.8h0m.1-12.7h0m.4-5.4h0m.2 4h0m.4-4.9h0m0 9.4h0m.4 8.2h0m.6 182.6h0m.3-201.6h0m.2 5.7h0m.5-3.6h0m.3 4.4h0m.3-2.4h0m.2 18.1h0m0-5.1h0m.5 1.3h0m.2 190.1h0m0-182.5h0m.1 188.2h0m1-193.9h0m.6-10.4h0m.2 224h0m.2-221h0m.2 15h0m.5 202.8h0m.1-217.3h0m.1 211.1h0m.1-204.4h0m.6-5.8h0m.2 212.2h0m.2 5.9h0m.2-11.2h0m0-202.9h0m.2-6.3h0m.1-13h0m.1 12.9h0m1-33.9h0m0-7.8h0m0 34.1h0m0-88.1h0m0 25h0m0-37.8h0m.1 24.6h0m0 69.5h0m0-51h0m.1 11.2h0m0 52.1h0m0 4.9h0m.1 209.2h0m0-271.5h0m.1-62.8h0m.1 132.4h0m0-88.2h0m0-39.1h0m0 96.6h0m0-81.7h0m.1 12.8h0m.1 40.7h0m0 21h0m.4-49.4h0m0 53.5h0m.1 12.9h0m0 209.2h0m0-236.1h0m0-52.3h0m.1 41.3h0m0 31.2h0m0-91.5h0m.1 5.3h0m0 60.8h0m0-12.6h0m.1-7.4h0m0 32.4h0m0-67.1h0m0 14.2h0m.1 13.2h0m0 66.3h0m.1-109.5h0m.1 .5h0m.1 17.6h0m.4-7.9h0m.2-6h0m.5-6.8h0m.3 1.6h0m.1-2.5h0m.3 4.3h0m.8 226h0m.4-160.6h0m.4-54.3h0m0 25.5h0m.1-20.3h0m0 12.9h0m0 19h0m.1-25.4h0m0-20.9h0m0 52.3h0m0-50.8h0m.2 39.3h0m0 16.7h0m.1 139.5h0m.1-194.7h0m0 195.9h0m.1-213.8h0m0 63.1h0m.1-12.8h0m0-13.6h0m0 47h0m.1-52.6h0m0 60.4h0m0-33.9h0m0-33.5h0m.1 81.6h0m0-28.6h0m0 34.3h0m.2-41.1h0m.1 28h0m.1-54.5h0m1 170.7h0m.1-.4h0m.3-.5h0m.7-114h0m0 10.2h0m.3 8.1h0m.3 3.4h0m1 88.8h0m.2-94.6h0m.2 1.6h0m.3-.3h0m.3 7h0m1.1 4.8h0m.1-17.6h0m0 66.7h0m.2-45.3h0m0 2.7h0m0 24.9h0m0-58.1h0m.1-1.2h0m0 54h0m0-15.5h0m.1 6.6h0m0-7.8h0m0 6.2h0m.1-36.1h0m.1 4.8h0m0 54.7h0m0-70h0m.1 12.3h0m0 32.6h0m0 30.8h0m.1-21.5h0m0-4.7h0m0 9.5h0m.1 23h0m0-18.1h0m0 8.9h0m.1 10.9h0m.1-58.1h0m0 35.8h0m.1-9h0m0-27.9h0m.2 40.9h0m.3 13.7h0m0-64.3h0m.1-19.2h0m0 24.1h0m.2-1.5h0m0-19.7h0m.1 18.1h0m0-5.2h0m.1 32.2h0m.1 24.6h0m.1 17.2h0m.1-192.3h0m0 2.7h0m0 7h0m0 20.4h0m0 23.8h0m0 2.7h0m0 10.6h0m0 2.6h0m0 10.6h0m0 8h0m0 7.9h0m0 141.2h0m0 .4h0m0 39.4h0m0 .1h0m0 40.3h0m0-209.4h0m.1 7.5h0m.2-2.8h0m.2 67.7h0m.1-47.2h0m0 33.6h0m.1-23.9h0m0 6.2h0m.2-19.6h0m.1 5h0m0 27.6h0m.1 22.1h0m.1-6.6h0m0-38.9h0m.1-35h0m.1 32.1h0m0 37.6h0m.1-28.1h0m0 12h0m0 180.7h0m0-197.9h0m0-26.5h0m.1 13.9h0m.7 210.9h0m.4 52h0m.2-66.2h0m.2 20.3h0m.4 1.2h0m0-21.5h0m.3 65.5h0m.7-50.3h0m1-1.5h0m.7 9.3h0m.2-6.4h0m0 4.3h0m.5-5.8h0m.2 7.7h0m.7-14.5h0m.1 51.1h0m0-37.2h0m.6-8.5h0m.4-42.6h0m0 4.5h0m0 11.5h0m.2-16h0m0 4.5h0m0 11.5h0m.9 21.9h0m1.7 53h0m.8-48.4h0m.1-7.8h0m0 4.8h0m.4 11.6h0m.8-11h0m.9 10.1h0m.4 40.5h0m.7-56.3h0m.8 55.8h0m.2-51.4h0m.4 5.3h0m.2-.2h0m.4-11.2h0m.1 12.6h0m.3 1.3h0m.7 .7h0m.8-14.9h0m.1 1.9h0m.8 52.3h0m.1 2.9h0m.1-44h0m.2-10.1h0m1.5 1.6h0m0 51.9h0m.3-49.9h0m.1 46.4h0m.1-44.6h0m.5-.9h0m.3-.9h0m.9-1.3h0m.2 5.6h0m0 43.8h0m0-2.6h0m.3-38.6h0m0 3.8h0m.2-8.4h0m.1 8.2h0m.4-7.1h0m.2 5h0m.7 2.1h0m1-2.6h0m.8 35.5h0m1.6 .4h0m0-40.3h0m.4 10h0m1.4 1.3h0m.9-4.5h0m.3 4.1h0m.5-12.8h0m.6 46.3h0m.4 13h0m0-44.8h0m.2-4.1h0m0 2.4h0m1.4-7.8h0m.4 45.3h0m.4-36.3h0m1.5-9.2h0m.2-1.9h0m.2-3.7h0m.3-5.7h0m.4-9.5h0m.7 4.5h0m0-3.1h0m.9 7.4h0m.2 9.6h0m0 42.8h0m0-47.8h0m.3-18.3h0m0 14.6h0m0 51.2h0m.1-48.2h0m.2-18h0m.6-17.5h0m0 4.4h0m0 2.7h0m0 6.2h0m.3 16.3h0m.1 3.1h0m.1-8.4h0m.7 10.3h0m.2 47.6h0m.1 2.6h0m0-53.4h0m.2-1.9h0m2.2 4.2h0m0-5h0m.1 2.6h0m.4 52.7h0m1.8-56.8h0m.2 55.3h0m0-58.8h0m.2 6.4h0m.1-5.1h0m.2-.8h0m.6-9.1h0m.5 8.2h0m0 2.2h0m.1 5.4h0m.3-5.6h0m.4-35h0m.1 89h0m.2-55.7h0m.4 58.4h0m.1-2.9h0m.1-84.4h0m.3 19.4h0m.2 14h0m.1-2.4h0m.5 5.1h0m1.4-3.6h0m.1-29.8h0m0 4.4h0m.1 22.8h0m.2 3.9h0m0 53.8h0m.9-64.2h0m0 15.3h0m.5-8.1h0m.2 8.4h0m.4-.8h0m.3-3.8h0m.3-4.8h0m.3 60.6h0m0-54.5h0m.5 56.9h0m.2-1.4h0m0-55h0m.8-3.5h0m.2 10.1h0m1.5-1.1h0m.8-13.3h0m1.3 25.1h0m.4-5.7h0m.7-6.3h0m.4 52.5h0m.1-2.5h0m.7-32.4h0m.2-.9h0m.1 2.3h0m.9-12.6h0m.8 1.9h0m1.3 1.5h0m.3 43.4h0m1.1-39.6h0m.6 10.7h0m.7-5.5h0m3.6 31.2h0m.8-56.3h0m0 .9h0m.2 28.1h0m0-12.1h0m.1 5.4h0m.5 1.7h0m.1-10.4h0m0-53.2h0m0 10.6h0m0 12.4h0m.3 76.3h0m0-43.1h0m.4-13.5h0m.2-46.6h0m0 7.4h0m0 14.2h0m0 7h0m.4 31.9h0m.1 6.2h0m.5-12.7h0m.2-3h0m.6 3.8h0m.2-1.4h0m.9 8.1h0m.2 9.6h0m1-3.9h0m0-9.2h0m.6 12.7h0m.1 35h0m.1-34.2h0m.2-5.9h0m1.4 12.8h0m.2-7.7h0m1.4 36.5h0m.6-30h0m.5 6.5h0m1-2.2h0m0 .6h0m.3 22.4h0m.5-24h0m.2 26.7h0m.2-38.9h0m.1-13.2h0m.1 23.1h0m.1-4.4h0m.1 7.1h0m.6-20.4h0m0 19.2h0m.2-4.2h0m1.5 3.6h0m.1-14.2h0m.2 39.8h0m.5-23h0m.3-8.5h0m.5 32.6h0m.6-23.2h0m0 .8h0m.1 20h0m.7-21.9h0m0 23.4h0m.2-.2h0m.4-28.6h0m2 9.9h0m1 19.8h0m.6-20.7h0m0 18h0m3.9-30.3h0m4.5 32.8h0m.4-28.9h0m1.1-6.4h0m.1 31.8h0m.6-28.7h0m.7-9.8h0m.3 38.4h0m1.3-.5h0m.2 0h0m.3-40.6h0m.1 1.6h0m.4 5.3h0m.7 1.6h0m0-.3h0m0-3.7h0m.3 38.1h0m1.9-37h0m.1-16.4h0m0 52.2h0m.2-41.1h0m.7 38.4h0m.1 2.8h0m1-65.4h0m.1-13.8h0m.4-.1h0m.5 .2h0m.2-8h0m.4 24h0m.4 7.4h0m0-21.3h0m0 6.4h0m.2-19.9h0m.2 4.9h0m.5 4.3h0m.3-3h0m.1 8.8h0m0-13h0m.7-27.3h0m0 4h0m0 11.2h0m.2 14.1h0m.6 8.8h0m.7 8.4h0m.5-11.6h0m.1 21.1h0m.4-15.1h0m0 78.6h0m1.4 1.9h0m.3-36.4h0m.1-11.7h0m.6 10.4h0m.1-.5h0m.4-9.6h0m0 46.9h0m.6-40.9h0m.4 4.7h0m.8-10h0m.3-6.6h0m.3 6.7h0m.4-6.2h0m.8 50.2h0m.6-1.7h0m.8-37.1h0m.5-.8h0m.1 1.1h0m.4 1.3h0m3-1.8h0m1.6 1.3h0m0 37.2h0m.1-34h0m1.4-10.8h0m.5 2.3h0m1.4 6h0m.2-12h0m.4 45.7h0m.2-37.2h0m.6-2.6h0m.1-11.4h0m.2 17.4h0m.6-10.5h0m.6 8.1h0m.7-7.5h0m.7 .5h0m1.4 44.8h0m.1-35.9h0m.4 2.1h0m0 35.5h0m.9-35.9h0m2.5 35.6h0m.5 2.1h0m.7 1.1h0m1.3-34h0m.8 6.2h0m.3 23.2h0m.2-29.1h0m.2-.3h0m.1 28.5h0m.2-19.9h0m1 20.5h0m.1-29h0m.3 1.8h0m3.3 3.9h0m1.5 19.3h0m.8-24.8h0m1.4-17h0m1.2 13.1h0m.2-7.7h0m.1-4h0m.1-2.1h0m.6 2.7h0m.1 4.1h0m0-16.9h0m.1 10.5h0m.5 43.8h0m1.7-51.6h0m0 3.7h0m.6 9.8h0m.7-3.2h0m.5 3h0m.9-10.8h0m.3 8.1h0m.2 42.5h0m.6-44h0m.1 1.9h0m.1-.9h0m.3 3.5h0m.5 36.8h0m0-30.1h0m.7-.6h0m1-4.4h0m.1 36.4h0m.3-1.4h0m.3 3.1h0m1.2-45.1h0m.6 12.6h0m.1-3.8h0m.5-.4h0m.6-4.6h0m1.2 39.4h0m.4-39.4h0m.9 40.4h0m.1-1.8h0m.5-34.5h0m1.9-5.8h0m.1 8.8h0m.5 .2h0m1.2-3.2h0m.9 6h0m.3-4.1h0m1.2-.6h0m.3 32.7h0m.8-32.2h0m0-4h0m1 3h0m.7 36.4h0m.1-34.1h0m.3-11.5h0m.2 10.4h0m.3-2.1h0m1 3.4h0m.6-14h0m.1 10.7h0m0-4.1h0m.1 5.6h0m.5-2.3h0m.3 37.5h0m.1-45.7h0m.3-3.8h0m1.2 3.1h0m.6 10.5h0m.8 6.7h0m.1 29.8h0m.2-35.7h0m3.9 11.5h0m.6 4.4h0m.3-5.7h0m2.1 12.8h0m.3-7.4h0m.2 2.8h0m.3 19.9h0m.9-20.7h0m1.1 24.3h0m.2-26.9h0m1.1-1.3h0m1 25.3h0m.9-23.3h0m1 3.7h0m.1 21.9h0m.2-24.8h0m1 24.4h0m.2-32.1h0m.2 10.6h0m.1 21.4h0m.7-22.9h0m1.3-8.9h0m.3 8h0m.1-9h0m1.5 8.8h0m.2 22.9h0m.5 .6h0m0-27h0m2.1 .7h0m.3 2.5h0m.7-3.4h0m.8 24.1h0m.6 3h0m.4-27.7h0m1 1.1h0m1.8 5.5h0m.3 18.5h0m.5-19.4h0m.4 21.3h0m1.5-27.3h0m.3 2.3h0m0 25.6h0m.2-3.1h0m0-1.1h0m.7-19.3h0m.8-11.8h0m1.9-4.2h0m1.1-5.1h0m1 39.4h0m.2 2h0m.6-63h0m.2-15.8h0m0 6.5h0m.1-9.9h0m.3 8.5h0m.9 73.6h0m.4-75.6h0m.6-16.9h0m.1-.2h0m.2 5.4h0m.2 4.2h0m0-6.7h0m.1 12.9h0m.1-24.4h0m.3 30.9h0m.6-21.6h0m.1 1.5h0m.2 1.2h0m.1 2.8h0m.3-9.5h0m1.8 8.7h0m.5-.2h0m.2 90.7h0m.2-112.4h0m.5 4.6h0m.1-1.3h0m.4-1h0m.5-11.6h0m.1 120.5h0m.3-126.3h0m0 7.2h0m.1 9.5h0m0-4.6h0m.2-11.2h0m.7 9.5h0m.1 1.1h0m.5 7.3h0m.1-17.7h0m0 11.3h0m.1-18.2h0m.6-2.2h0m0 4.4h0m0 4.5h0m0 4.4h0m0 5.3h0m.2-3.8h0m0 .3h0m0 115.2h0m.1-113.2h0m.3-6.3h0m.2 1.3h0m.2-7.5h0m1 14.8h0m.1 114.3h0m.8-127.8h0m.4 1.8h0m.2 13.6h0m.1 112.8h0m.1-119.2h0m.7-8.6h0m.4 .3h0m.2-.5h0m.4 125.8h0m.7-143.4h0m0 3.6h0m0 11.5h0m0 8.8h0m.6-23.2h0m0 22.1h0m.1-3.9h0m.2 .6h0m.6-14.4h0m.3 134.8h0m.1 1.3h0m0-130h0m.4 4.1h0m.1-15.3h0m.3-5.8h0m.2 41.2h0m.2-13.9h0m.1-5.8h0m.2 12.5h0m0-19.8h0m.2 24.8h0m.1-29.1h0m.4-22.1h0m0 4.4h0m0 6.6h0m0 5.3h0m0 8.5h0m0-24.7h0m0 5.3h0m0 4.5h0m0 4.4h0m0 9.7h0m.4 34.2h0m.3-6.2h0m.4 108.5h0m.1-1.6h0m.1-117h0m0 6.2h0m0 11.5h0m1.3-3.9h0m1.1-3.3h0m.7 15.5h0m0 3.7h0m.6-8.3h0m.2-2h0m1.7-1.9h0m.5 99.3h0m.2-82.3h0m.4-39.8h0m0 8.8h0m0 16.9h0m0-25.9h0m0 8.8h0m0 28.7h0m1-1.5h0m.1-12.1h0m.1 101.1h0m0-98.6h0m2.3 7.2h0m0 88.7h0m.2 3.5h0m.5-81.4h0m.2-5.4h0m.4 5h0m.4 79.8h0m.2-90.1h0m.1 15.8h0m0-8.3h0m.8-4.6h0m0 12.9h0m.1-3.3h0m.3 1.9h0m.8-2.8h0m.2 83.5h0m.2-87.2h0m.1 11.8h0m.1 72.1h0m.1-75.5h0m.2 76h0m1.1-73.8h0m.1-6.6h0m1.8 11.5h0m.8-44.9h0m0 3.9h0m0 112.8h0m.1-71.2h0m0 18.9h0m0-5.5h0m.1-6.6h0m0-52.2h0m0 4.5h0m0 5.3h0m0 60.8h0m.2-28.5h0m.5-7.5h0m.1 10.8h0m.6 3.4h0m.4-9.1h0m.2 13.7h0m.5 22.2h0m1.9-8.4h0m.3 45h0m2.8-33.9h0m.7 33.4h0m.3-32.9h0m.3-1.6h0m1.5 .9h0m0 8.2h0m.7 28.1h0m.8 .8h0m.2-33h0m.2 29.1h0m.1 3.7h0m.3-31.1h0m.3 6.8h0m2.8-4.8h0m1.6 28.5h0m0-52.9h0m1.4 50.3h0m.1 .3h0m.5 .1h0m.1-44.4h0m.3-8h0m.2 2.6h0m.2 12.6h0m.2 40.1h0m.7-.3h0m.1-47.7h0m.1 46.4h0m.4-58.3h0m.3-1.4h0m.2 6h0m.5-2.8h0m.4 3.7h0m.8 53.8h0m.1-44.6h0m0-4h0m.8 3.4h0m0 1.1h0m.2-1.2h0m.4-13.4h0m.2 14.6h0m.2-20.4h0m1.9-29.9h0m.4 90.7h0m1.3-.4h0m.1-86.9h0m.3-57h0m0 19.4h0m.1-31.2h0m0 12.5h0m0 18h0m0 3.6h0m.2-33.8h0m.3 57.4h0m.1-.4h0m.2 9.8h0m.1-9.3h0m.9 3.4h0m.1 87.7h0m.9-104.5h0m.4-1.5h0m.2 13.4h0m.2-3.5h0m.2-9.2h0m.7-9.1h0m.1 12h0m0-.8h0m.2-1.5h0m.6-4.3h0m1.4 1h0m.1-8.4h0m0 14.2h0m.5-19.9h0m.4 7.2h0m.1 117.8h0m.1-116.1h0m.1 4.9h0m.6 5.1h0m.1 105.4h0m0-201.5h0m0 20h0m0 9.2h0m0 14.3h0m0 6.5h0m0 8h0m0 4.9h0m0 9.2h0m0 5.3h0m0 4.4h0m0 4.4h0m0 7.1h0m0 3.6h0m.1 19.1h0m.1-4.9h0m0-66.6h0m0 5.3h0m0 7.1h0m0 5.3h0m0 9.7h0m0 5.3h0m.1 13.9h0m0 12.3h0m.6 98.3h0m0 1.4h0m.6-105.4h0m0-5h0m0 4.5h0m.2 106.6h0m.2 2.4h0m1.5-69.7h0m.9-7.3h0m.4 75.8h0m2-71.7h0m0 77h0m2.1-3.6h0m1.4 .6h0m0 1h0m.1 0h0m.7-49.7h0m.3-16.4h0m.8 8.8h0m.2 57h0m.2-65.9h0m.6 65.2h0m0-49.4h0m.5-6.3h0m.2-16.6h0m.2 14.9h0m.6-6.2h0m.2 4.9h0m.1 14.7h0m0-7.8h0m0 15.4h0m.6-24.7h0m.4 29.8h0m0-19.1h0m.1-7.1h0m.1-6.1h0m.3 39.1h0m0-20.9h0m.1 7h0m.5-26.4h0m.9 21h0m.6 22.4h0m.5-2h0m1 30.5h0m.2-32.8h0m.2 13.7h0m.1-12.3h0m0 1.7h0m.7 4.7h0m.1 28.3h0m.4-3.8h0m.6-25.5h0m.1-2.1h0m.3 28.1h0m.5-21.7h0m.2-10.2h0m.8 1h0m0 6.6h0m.2-1.2h0m.1-2.4h0m0-1.1h0m.1 2.7h0m.4 27.2h0m.1-24.2h0m.7-11.3h0m.5-15.7h0m1.3-2.4h0m.2 50.7h0m.2-57.7h0m.4-4h0m.2 11.8h0m.1-.4h0m.3 3.3h0m.2 50.2h0m0-.3h0m.2-42.1h0m.6-17.9h0m.3-2.5h0m0-28.8h0m0 9.7h0m0 29.5h0m1.2-7.6h0m.2 5.6h0m.4-24.8h0m.5 78.3h0m1.1-1h0m0-66.4h0m1.3 15.6h0m1-4.1h0m.2 6.8h0m.1-11h0m.9 10.9h0m0 49.9h0m1.9-52.2h0m.6-5.7h0m.3 1.4h0m.9 14.5h0m.6-5.3h0m.7 43.9h0m0 3.8h0m.3-45.5h0m.6-13.5h0m.1 9.4h0m.5-14.9h0m.4 13.7h0m1-11.8h0m.2-2.1h0m0-10.9h0m1.4 75.9h0m.5-85.5h0m.2 87h0m0-88.2h0m.4-11.6h0m.2 96.2h0m.1-88h0m.9-31.8h0m.7 119.1h0m.3-118.8h0m.1-15.5h0m.3-1.3h0m0 135.5h0m.2-130h0m.2-18.4h0m0 6.3h0m.2 13.1h0m0-28.5h0m.2 10.4h0m0-12.6h0m.3 8.8h0m0 10.9h0m.4-9.4h0m.3 2.3h0m0-9.8h0m.1 1.4h0m.1 27.7h0m.3 125.9h0m.2-111.1h0m0-29.7h0m0 26.1h0m0-24.8h0m.1-7.1h0m.1 3.6h0m.1 22.9h0m.1-81.4h0m0 21.1h0m0 19.2h0m0-47.8h0m0 57.9h0m.1-66.1h0m0 60.1h0m.1 36.3h0m.1-35.8h0m0-14.4h0m0 34.5h0m.2-9.8h0m.1-37.2h0m.2 49h0m0-56.6h0m0-8.1h0m.2 77.7h0m.1-1.2h0m0-84.9h0m.1 12.1h0m0 77.9h0m0-64.7h0m.2 32.1h0m0-28.2h0m.1-6.4h0m.1 43.2h0m.1-119.5h0m0 19.9h0m0 8.3h0m0 7.1h0m0 49.5h0m0 12.4h0m.2 17.7h0m0-66h0m.1 47.4h0m0 29h0m.1-8.5h0m.1-48.8h0m.1-17.7h0m.1 200h0m.1-118.5h0m0-31h0m.1-42.4h0m0-21.3h0m.2 84.5h0m0-19.6h0m.1-29.6h0m.1 49.1h0m.1 27.3h0m0-107.2h0m0 73.9h0m.1-59.6h0m0 43h0m.1-59.7h0m0 17.9h0m0 193h0m0-133.9h0m.1 14.2h0m0-14.1h0m.1-3h0m.2-38.4h0m.1-27.3h0m0-40.9h0m.1 39h0m.2 17.6h0m.2 41.6h0m0 42.7h0m0-2.5h0m0-43.7h0m0 7.3h0m.1 21.1h0m.3-104.7h0m0 5.8h0m.4 98.1h0m.4-5.4h0m.3 130.9h0m.1 5.1h0m.1-116.9h0m.1-5.3h0m.1 5h0m.1-6.2h0m.2 15.9h0m1.3 109.7h0m.3-82.1h0m.1 14.9h0m0 63.2h0m.7 2.1h0m.3-54.2h0m.7-15.7h0m.3 1h0m.3 6.2h0m0-12.5h0m.7-.4h0m1.2 71.7h0m.4-93.7h0m.9 89.8h0m.1-88.9h0m.1 3.8h0m.6-8.7h0m.8-71.7h0m0 21.2h0m0 21.2h0m.1 20.4h0m.5-20.7h0m.8-74.8h0m0 2.6h0m0 8h0m0 1.7h0m0 7.6h0m0 9.2h0m0 21.2h0m0 19.5h0m0 10.6h0m0 7.9h0m0 4.5h0m.1-40h0m.7 27.5h0m1.4-8.7h0m.6 3.6h0m0 127.5h0m.1-118.4h0m.4-1.3h0m.1 5h0m.4-8.4h0m0 8.7h0m.1-44.2h0m0 2.7h0m0 5.3h0m0 6.2h0m0 8.8h0m0 4.4h0m0 8.9h0m0 5.3h0m.2-41.8h0m0 6.2h0m0 7.1h0m0 9.7h0m0 8.8h0m.3 20.4h0m.2 111.2h0m.1 .1h0m.1-127.4h0m.3 1.8h0m1.6 125h0m0 3.4h0m.2-1.5h0m.3 2.1h0m2-66.8h0m.7 20h0m.3-14.8h0m.1 2.1h0m1 9.4h0m.4-11.1h0m.1 6.6h0m.1 .2h0m.6 8.2h0m.1 47.3h0m0-60.8h0m.5 11.7h0m.7-3.4h0m.1-7.8h0m.8 59.6h0m.1-2.1h0m.1-52.2h0m0-4.2h0m1-2.6h0m.3-1.3h0m0 7.3h0m.1 53h0m0-42.8h0m.8 6.8h0m.2-5.8h0m.2-9.6h0m.1 52.8h0m1.1-56.4h0m.1 5.3h0m.2 54.4h0m.9-40.8h0m.1-.1h0m.4-6.5h0m.3 2.5h0m0-8.4h0m0 15.7h0m1.2 34.6h0m.1 1.4h0m1.2 2.1h0m1-46.9h0m0 46.1h0m.5-56.6h0m.4 12.3h0m.2 42.4h0m.4-.2h0m.1-50.9h0m.9 8h0m.1-6h0m.1 4.3h0m.1-6.2h0m.8-15.9h0m1.6 .2h0m.2-5.2h0m.6-3h0m0 4.7h0m.9 5.2h0m1.2 63.5h0m.4-94.9h0m.4 2.3h0m3 95.2h0m.5-100.2h0m.2-11h0m.5 16.6h0m.4-8.7h0m.5-11h0m.3 9.2h0m.2 101.6h0m.2-109.3h0m.2 3.7h0m1-4.2h0m.1 112.4h0m.4-1.3h0m.1-101.6h0m1.6 99.7h0m.5-83.1h0m.3-24.8h0m0 30.4h0m.1-73.7h0m0 3.5h0m0 4.5h0m0 4.4h0m0 4.4h0m0 7.6h0m0 8.3h0m0 15.3h0m.2-47.3h0m0 4.4h0m0 4.4h0m0 5.3h0m0 9.7h0m0 8.9h0m0 29h0m.6 19.3h0m.4 7.4h0m.1-21.4h0m0 7.4h0m0-12.3h0m.2-18h0m0 108.1h0m.3-106.5h0m.1 5h0m1.1 101.2h0m.1-79.5h0m.9 8h0m.1-2.7h0m.9-7.4h0m.5 8.2h0m.4 4.5h0m.1 5.1h0m.8 .3h0m.4-7.7h0m.1-8.9h0m.4 30.4h0m.1-13.4h0m.2-5.4h0m0-18.1h0m.2 44.3h0m0-13.6h0m.8-26h0m.2 14.5h0m.3 4.5h0m.2-2.4h0m.1 10.6h0m.6-8.6h0m0 63.5h0m.5-37.5h0m.2 4.3h0m.2 5h0m.2-10.9h0m.2 2.6h0m.3 39.9h0m.4-35.7h0m.1 3.2h0m.4 2.1h0m1.1 30h0m.3-40.9h0m1.2 0h0m.2 38.9h0m.1-.2h0m.2-38.6h0m.4 37.1h0m.2 3.3h0m.4-27.2h0m1 26.3h0m.6-25.8h0m1.4-21.6h0m.9 46.6h0m.5-43.1h0m.6 5.1h0m.3-7.5h0m.5-1.6h0m.1-5h0m.1-7.3h0m0-3.7h0m.2 10.3h0m.4-4.9h0m.4 22.7h0m0-47.3h0m0 4.4h0m0 12.3h0m.1 24.6h0m.1-6h0m.8-6.4h0m.5 54.1h0m.4-48.8h0m.4 46.9h0m.7-33.9h0m0 35.8h0m1.5-21.4h0m.1-5.1h0m.2 5.4h0m.1 1.5h0m.4 19.8h0m.1-19.4h0m1.1-1.3h0m.7 1.4h0m1.6-7.5h0m.3 7.9h0m1.8 .2h0m1.2 17.8h0m.3 .5h0m.1 1.2h0m.7-1h0m.2 1.2h0m.3-22.5h0m.7-6h0m.2 24.4h0m.1-24.2h0m.8 27.1h0m.5-28h0m.8-12.9h0m.8 .8h0m.3 9.7h0m1-.5h0m.1-8.8h0m.1 36.5h0m.4-31.8h0m.1 35.6h0m.3-50.1h0m.1 11.7h0m.3-6.4h0m.3 1.1h0m.2-5.2h0m.3-6.8h0m.4-9.5h0m.3 26.3h0m.2-18.1h0m0 11.6h0m.3-24.5h0m.1 17h0m.1 48.8h0m.3-34.2h0m.2-33.9h0m.3 26.1h0m0-19.4h0m.1 12.2h0m.2-7.5h0m.1-4.9h0m1 59.5h0m0-.2h0m1.1-31.7h0m1.1 2h0m.5 30.9h0m1.1 .9h0m.7-.6h0m.8 3.6h0m.4-39.4h0m1.2 3.7h0m.2-2h0m1.1-.3h0m.7 4.9h0m.4 2h0m1.1 1h0m.5-2.3h0m.4 1.7h0m.5 30.9h0m.3-33.7h0m.1 32.3h0m.8 1.8h0m.5-2h0m.3 3.2h0m.2-32.4h0m.3-7h0m.1-2h0m.6 39.5h0m.6-1.6h0m.3-30.3h0m.1-1h0m0-.6h0m1.6 35.2h0m1.1-48.9h0m.4 49.6h0m.7-46.7h0m.5 13.9h0m.9-.1h0m1.1-30.7h0m.1-24.3h0m.3 23.4h0m.6-63.2h0m.6-5.5h0m0 12.3h0m0 3.6h0m0 15h0m1.1-128.3h0m0 195.5h0m.7-280.9h0m.2 82h0m0-71.2h0m.1 20.4h0m0 37.5h0m0-63h0m.2 82h0m0-25.2h0m0-24.6h0m0-38h0m.1 2.3h0m.1 46.6h0m0 258.6h0m.2-290.1h0m.1 6.3h0m0 32h0m0-12.5h0m0 33.4h0m.1-79.8h0m.5 312.2h0m0-302.3h0m.5 301.6h0m.2-2.5h0m.3-322.1h0m.4 8.2h0m.2 12.3h0m.7-5.2h0m.3 30.1h0m.1 26h0m.4-7.2h0m0-26.6h0m0 20.9h0m.1-37.3h0m0 29.5h0m0-20.2h0m.1-4.9h0m.6 9.7h0m.7 2h0m0 11h0m.2-8.4h0m.3 21.1h0m.3-12.4h0m0 17.7h0m0 9.7h0m0 7.9h0m.4-6.9h0m.4 182.7h0m.1 3.1h0m0 15h0m.2-207.9h0m0 2.9h0m0 186.1h0m.1-4.7h0m.1-172.5h0m.8 17.5h0m0 156.7h0m.9-4h0m.1-146.1h0m.2 12.1h0m.9-10h0m1 145.6h0m.4-146.6h0m.2 145.7h0m.3-143.4h0m.6-5h0m.2 3.1h0m0 1.5h0m.6-9.2h0m.2 4h0m.5 6.3h0m.1 151.2h0m0-147.6h0m.2-.6h0m.2-16h0m.2 14.5h0m.3-15.9h0m0-59.3h0m0 2.7h0m0 4.7h0m0 22.3h0m0 7.4h0m.1 23.2h0m.1 14.8h0m.4-14.1h0m.4 16.3h0m.4 160.9h0m.5-167.2h0m.1 165.7h0m.3 11.1h0m0 20h0m.4-193.3h0m.2 167h0m.8-4.2h0m.2 3.1h0m.5-170.3h0m.3 172.7h0m0-159.7h0m.6 .1h0m.2-7.2h0m.2 10.3h0m.4-10.1h0m0 159.3h0m.1-160h0m.5 178.5h0m.2-170.4h0m.1-1.1h0m.2-9.3h0m.1 213.8h0m0 17.7h0m.2-209.3h0m.2-7.4h0m.2 2.2h0m.5-2.6h0m.1-9.6h0m.7 2.9h0m1.1 16.2h0m.1-4.2h0m.2 4.1h0m.8-1.8h0m.1 151.7h0m1.9-136.7h0m.1-2.5h0m0-4.7h0m.1 12.1h0m.6 2.2h0m.3 138.8h0m.2 6.3h0m0-157.1h0m.2 7.9h0m.1 151.4h0m.2-246.9h0m0 4.4h0m0 3.5h0m.2 91.6h0m.2-83.6h0m0 3.5h0m0 7.1h0m0 5.3h0m0 5.3h0m0 5.3h0m0 7.1h0m0 10.6h0m0 6.2h0m0 6.2h0m0 8.8h0m0 4.4h0m.4 12h0m.1 147.3h0m.3 19.6h0m0 3.5h0m.5-18.7h0m.6-173.5h0m.2 5.3h0m.2-8.1h0m.6 169h0m1.1-203h0m0-3.7h0m.4-4h0m0 46.3h0m.2-26.6h0m0-12h0m0-35.7h0m0 42h0m0 24.7h0m0 14.7h0m.1-74h0m0-12.7h0m.1 18.1h0m.3 16h0m0-10.2h0m0 42.9h0m.1-37.7h0m0-31.1h0m0 60.9h0m.1-69h0m0 253.4h0m0-248h0m0-8.6h0m.2 59.7h0m0-40.9h0m0 28.3h0m0-17h0m.1 60.2h0m0-19.1h0m.3-29.4h0m0 23h0m0 11.9h0m.1-22.4h0m0-41.4h0m0 70.8h0m.1-60h0m0 12.6h0m.3 5.9h0m0-21.1h0m.2 36.3h0m.1-29h0m0-14.4h0m.1-10.6h0m0 46.4h0m.1-45.1h0m.2 31.1h0m.3-9.6h0m0 228.1h0m0-186.5h0m.1-28.8h0m.2 14.6h0m0-39.5h0m0 5.4h0m0 41.1h0m.1-28h0m.3 13.5h0m.1 29.2h0m.2-55.1h0m.1 23.7h0m0-10.5h0m0 36h0m0 12.5h0m.1-31h0m0-22.9h0m.2 60.3h0m0-25.9h0m0-48.7h0m.1 42.1h0m.1 21.2h0m.1-38h0m.4-13.2h0m.1 45.9h0m.1-26.2h0m0 12.6h0m0-45h0m0 64.5h0m.2-59.3h0m.1 14.1h0m0-25.3h0m0 58.7h0m0 19.7h0m.1 7.6h0m0-55.3h0m0 13.9h0m.5 20.2h0m.2-2.2h0m.3 13.6h0m.9 3.6h0m.3 185h0m1-167.2h0m.8-6.6h0m.2-5.5h0m.3 13.4h0m.6-8.3h0m.3-1.9h0m.2 16.5h0m.2 159.5h0m.4 .7h0m.1 1.3h0m.1-171.1h0m1 4.9h0m.2 14h0m.1 147.8h0m.1-158.6h0m1 12.1h0m.5-32.6h0m0 6.2h0m0 3.5h0m.6 19.4h0m.5-10.5h0m.3-2.3h0m.5 13.9h0m.3-1.1h0m.7-12.5h0m1.3 19.2h0m.1 133.6h0m.1-.1h0m0 .2h0m.7-126.9h0m.1-10.9h0m.1 4.4h0m0-6.1h0m.1 138.6h0m1.2-133.5h0m2.2 13.7h0m.4 28.5h0m.3 1.6h0m1.4 101.2h0m.1-5.1h0m.2-88.8h0m1.4 3.6h0m0 86.4h0m.6-87.8h0m.1 93.5h0m.3-6.8h0m.5 2.7h0m.8-91.4h0m0-10.9h0m.1 12.8h0m.2 85.2h0m.7 2h0m.7-107.9h0m.2-19.9h0m.1 125.9h0m.1-124.5h0m.7-10.4h0m.1 1.3h0m0 134.2h0m.1-131.1h0m.2-12h0m.2 12.4h0m.9-9.6h0m.9-1.5h0m.3-13.9h0m1.5-7.5h0m.1 164.9h0m.2-158.6h0m.3-6.2h0m.9 158.6h0m.1 5.6h0m.2-181.2h0m.3 14.5h0m.3-13.3h0m.1 4.6h0m.9-43.2h0m.9 20.9h0m0 5.6h0m0 14.2h0m.1-7.7h0m.2 18.7h0m0-5.2h0m.3-36.8h0m.2 13.5h0m.5 4.9h0m.9-4.9h0m.5-5.9h0m0 195.1h0m.6-189.3h0m.6-26.6h0m.7 26.9h0m1.3 185.4h0m.1 11.6h0m.2-199.3h0m0 193h0m.4-186.6h0m.1-2.5h0m0 200.7h0m.3-12.4h0m0 9.2h0m.1-3.5h0m.1-10.8h0m.1-7.4h0m0-6.6h0m.1-5.5h0m.6 33.8h0m.3-228h0m.4 212.9h0m1.4-219.3h0m.1 194.9h0m.3-181.2h0m.1 178.2h0m.1-179.5h0m.2-70.3h0m0 5.3h0m0 29.2h0m0 8.8h0m.3 12.8h0m.3 12.9h0m.1-1.1h0m.4 .1h0m.7 194.8h0m0 3.5h0m0 8.9h0m0 4.4h0m0 4.4h0m.2-226.6h0m.5 190.4h0m1.2-192.6h0m.6-20.6h0m.5 .3h0m0-3.5h0m.5 220.6h0m0-262.6h0m0 11.5h0m0 7h0m0 6.2h0m.9 15h0m.2 13.6h0m.5-18.2h0m.2 3.1h0m1.3 9.9h0m0-13.3h0m.1 .3h0m.3 3.8h0m.3 9h0m0 4.6h0m.1-58.7h0m0 9.7h0m0 2.7h0m0 8.8h0m0 5.3h0m.1 37.7h0m.1-21.4h0m.2 2.7h0m.3 14.6h0m0 44.2h0m.1 13.2h0m0 12.6h0m0-37h0m.1-15.1h0m0 7.9h0m.1 50.1h0m.1-25.6h0m0-38.8h0m.1 71.3h0m.2 7.5h0m0-84.4h0m0 32.1h0m.1 24.9h0m.1 168.6h0m.2-236.5h0m.6-6.4h0m0 10.2h0m.7 225.9h0m.2 7.2h0m.2-162.8h0m.9 162.6h0m.3-.9h0m0-129.5h0m.1-10.6h0m.3-6.5h0m.1 139.4h0m.4-141h0m0 6.8h0m0 145.6h0m.7-4.4h0m.3-134.1h0m.1 133.1h0m1.2-8.3h0m0-128.5h0m.1-2.9h0m.4-3.9h0m1.4 138.7h0m.1-168.1h0m0 7.9h0m0 2.7h0m1.9 18.9h0m.2 151.5h0m0 3.1h0m.1-2.7h0m.1-6h0m.1-6.1h0m.4-139.7h0m.1 4.8h0m.3-.6h0m.9 3.6h0m1.2-11.1h0m.6 .6h0m.1 5.8h0m.2 148.8h0m.4-1.3h0m0-151.8h0m.3 150.6h0m1.4-140h0m0-68.2h0m0 3.5h0m0 4.4h0m0 16h0m0 6.1h0m.1 184.3h0m1.3 7h0m.3-149.7h0m.1-9.4h0m0 9.1h0m.7-4.4h0m.2-52.8h0m0 11.5h0m.2 30.5h0m.2 162.3h0m.2-160.6h0m.3-11h0m.3 16h0m.5 161.8h0m0-183.1h0m.3 19h0m.6-5.1h0m.1 5h0m.3 163.4h0m0-156.1h0m.6-9.9h0m.1 167.4h0m.5 .7h0m.3-165h0m.7-5.1h0m0 11.5h0m.9 12.2h0m.1 149.3h0m0-155.3h0m1.1-4.6h0m1 4.6h0m.4 7h0m.2-4.9h0m.5 12.1h0m.2 4.9h0m0-5h0m.2 .4h0m.4 15.2h0m.6 4.2h0m.1 126.9h0m.7-135.2h0m.1 11.3h0m0-2.3h0m.1 127.9h0m.1-136h0m.2 2.9h0m.2 3.4h0m.1 126.5h0m.3-144.5h0m0 146.3h0m.5-143.5h0m0-25.2h0m.4-2.2h0m0-2.1h0m.3 29.6h0m0-5.7h0m.1-13.3h0m.1 .1h0m.1 7h0m.1 18.6h0m.2 10.9h0m0-5.8h0m1-31.5h0m1 11.7h0m.2 2.9h0m.1-14.4h0m2.9 155.7h0m.6-145.6h0m.9-.2h0m1.1 145.7h0m0-3.9h0m.7-120.7h0m0-4.5h0m.2-7.7h0m.5 9.8h0m.6 121.2h0m.1-134.2h0m.4 9.8h0m.4-19.6h0m.4 139.2h0m.5-132h0m0 4.2h0m.7 126.9h0m.2-130.8h0m.2-12.4h0m.3 18.6h0m.1-12.8h0m.3-2.1h0m.3-4.6h0m0 24.5h0m.1-13.5h0m.2 6.3h0m.6 27.1h0m0-23.9h0m.1-7h0m0 25.8h0m0 11.2h0m.1-24.1h0m.2 30.7h0m.1-24.8h0m.1 110.6h0m.2-127.6h0m.5-7.3h0m.5 32.6h0m.2-6.4h0m1.1 111.8h0m0-80.4h0m.3 1.6h0m.7 85h0m.1-2.6h0m.1-77.1h0m.7 16.3h0m.2 6.2h0m1.2-26h0m.2 82.4h0m.5-73.5h0m0-3.5h0m.2-15.2h0m.1 7.2h0m.4 83.9h0m.1-85.2h0m0-13.4h0m.3 95.5h0m.3-104.3h0m.6-27.9h0m.7 131.4h0m.8-149.2h0m.4 33.2h0m0-11.8h0m.3-4.3h0m.1 10.7h0m.3-21.7h0m.2 146.5h0m.2-133.4h0m.4 135.1h0m.1-137h0m0 7.4h0m.9 125.3h0m.5-114.3h0m0-9.6h0m.6 124.9h0m.1-127.9h0m.4 8.9h0m.8 2.9h0m.6-4.3h0m.1 115.7h0m.2-117.9h0m.6-2.9h0m.7-70.5h0m0 9.7h0m0 5.3h0m0 14.1h0m.3 39.9h0m.1-6.3h0m.1 1.8h0m0 127.1h0m1.1-142.5h0m1.3 5.2h0m.2-1.2h0m1.8-4h0m0-46.5h0m0 15h0m.1 181.6h0m.4-163.1h0m.1-1.7h0m.2 168.5h0m.1-163.9h0m.3-1h0m.2 168.2h0m.2 0h0m0-165.3h0m.4-10.7h0m.9 11.3h0m.4 3.9h0m.5 5.3h0m.1 154.3h0m.2-172.4h0m0 23.8h0m.3-11.9h0m0-25.1h0m0 10.6h0m.1 176.5h0m.2-164.3h0m.5-3.9h0m.1 4.4h0m.9 9.4h0m0 5.7h0m.7 1.7h0m.6 146.8h0m.1 1.5h0m.2-5.6h0m1.6-.6h0m.5-137.2h0m.2 138.9h0m0-149.6h0m0 7.9h0m.5-9.9h0m.9 13.2h0m.9-6.2h0m1.7-24.3h0m.6 161.5h0m0-148.9h0m1.1 150.8h0m.5 1.7h0m.6-138.9h0m.1-20.1h0m0 12.8h0m.2-33.9h0m0 29h0m2.3-7.2h0m0 15.1h0m.1 150.7h0m.1-144.1h0m.2 19.5h0m0 123.3h0m.3-121.9h0m.9 22.6h0m1.1 11.3h0m.1-3.6h0m.9 91.1h0m.5-86.4h0m.4 9.7h0m.9-10.4h0m.1 1.1h0m.2 85.6h0m.3-90.3h0m.3 87.8h0m.2 4.2h0m.1-95.2h0m1.7-17.3h0m.2 6.5h0m.3-.3h0m.1 109.1h0m.1-120.4h0m1.1-37.5h0m.1 47.9h0m0-7.1h0m0 12.3h0m.2-17.5h0m.1-18.8h0m.1-21.1h0m0 28.2h0m0 .1h0m0-1.5h0m.3 6.4h0m.2-4.5h0m.1 22.3h0m0-5.6h0m.2 120.6h0m.2-144.6h0m.1 18h0m0-5.8h0m.2 131h0m0-157.4h0m.3 7.8h0m.2 5.8h0m0 6.3h0m1.2-6h0m.2-8.8h0m.3 13.5h0m.2 140.7h0m.3-146.3h0m.8-19.3h0m0 3.5h0m0 5.3h0m0 6.2h0m0 4.4h0m0 10.6h0m0-22.6h0m.5 8.5h0m.4-6.2h0m0 10.6h0m0 4.4h0m.2 144.7h0m1-.4h0m0-146h0m.4 6.6h0m.1 5.1h0m1.3 26.2h0m.3-6.8h0m.1 11.3h0m.2 100.1h0m1.5-79.9h0m0 2.4h0m.1-11.8h0m.4 6.4h0m.2 3.5h0m0 4.7h0m.8-4.1h0m.4-16.7h0m1.6-27.1h0m.4 5h0m.1 10h0m.1 21.2h0m.1-7.8h0m.2-5.8h0m.3-26.3h0m.2 24.2h0m.1-7h0m.7 108.5h0m.5-124.1h0m.2 123.4h0m.6 3.2h0m.1-111.2h0m.2-14.6h0m.3-3.9h0m0 10.2h0m.2-9.2h0m0 16.2h0m0 6h0m.1 7.8h0m.9 34.5h0m0-36.5h0m0 29.5h0m.1-16.5h0m0 5.7h0m.1-11.3h0m0-19.9h0m0 7.4h0m.1-6h0m.1 34.7h0m.9-14.6h0m.5 9.4h0m.5 88h0m.5 .4h0m.7-101.5h0m.1 99h0m.3-100.4h0m.1 98.2h0m.8 4h0m.3-104.8h0m.4 99.1h0m.4-116.4h0m.1-147.4h0m0 4.7h0m0 14.2h0m0 2.3h0m0 18.9h0m0 6.2h0m0 16.8h0m0 15.9h0m0 12h0m0 27.2h0m0 18.2h0m.4-17.6h0m.1 43.7h0m.2 11.4h0m0-5.4h0m.3-14.8h0m.8 111.1h0m.5 1.1h0m0-107.6h0m0-9.2h0m.2-.7h0m.1 5.8h0m.2-3.8h0m.5 113h0m.2-121h0m.2 5h0m.3 .4h0m.4-4.5h0m.1 124.1h0m.1-124.3h0m.2-46.4h0m0 0h0m0 5.3h0m0 2.7h0m0 2.6h0m0 5.3h0m0 1.8h0m0 5.2h0m0 1.8h0m0 2.6h0m0 8.9h0m1.5 132.7h0m.2-116.3h0m1.6 7.3h0m0-8.8h0m.3 5.8h0m0 106.1h0m.1-96.5h0m.7-25.9h0m1.1 25.4h0m.8 101.3h0m.2-4.1h0m.2-107h0m.1 4.7h0m.5 104.9h0m.1 4.5h0m0-109.6h0m.7-7.6h0m.2-5.2h0m0 123.6h0m.1-5.1h0m1.9-146.1h0m0 0h0m0 5.3h0m0 .9h0m1.5 9.2h0m.6 125.2h0m1.3-118.7h0m.1 3h0m.2-11.3h0m.1 5.4h0m.1-7.5h0m.3 10.9h0m.5-7.9h0m.3 127.8h0m.6-114.9h0m.1-7.9h0m0 4.4h0m.5 120.5h0m.5-123.1h0m.1 128.7h0m.3-3h0m.3-128.8h0m.6 4.4h0m.2-5h0m.2 8.5h0m.1-1.2h0m.3 4.8h0m.1 3h0m.2-8.8h0m.1-47.8h0m0 24.2h0m.6 28.2h0m0-5.5h0m.1 .4h0m.1-63.5h0m0 30.4h0m0 .9h0m0 1.7h0m0 8.9h0m.9 3.5h0m.7 19.1h0m.4-1.5h0m.7-14.9h0m0 .8h0m.2 23.8h0m.2-4.2h0m.6-9.4h0m.2 13.3h0m.5 107.5h0m.3 1.6h0m.4-121.2h0m1.3 13.9h0m.6 104.8h0m.1-142.8h0m0 43.4h0m.2-5.8h0m.3-42.9h0m0 .4h0m0 5.3h0m.3 36.8h0m0-6.9h0m.2 2.1h0m.4 7.6h0m.4 1h0m.5 4.7h0m1-10.1h0m0 11.7h0m.1 .3h0m.2-13.6h0m.3 7.9h0m.5 8.1h0m0-10.3h0m1-4h0m.4 6.5h0m.1 2.5h0m.2 5.2h0m.9-14.7h0m.2 13h0m.1-2.3h0m.4-7.7h0m.3-.3h0m.1 8.4h0m0 83.8h0m1.3-79.8h0m.3-7.8h0m1-5.1h0m.1 11.1h0m.2 3.4h0m.3-4.2h0m.2 84.7h0m.3-.6h0m.2-83.5h0m.7 2.1h0m.1 7h0m0 80.2h0m.3-4.9h0m.1-73.6h0m.1 79.1h0m.3-4h0m.2-83.3h0m.7 84.3h0m.2-85.7h0m.2 7h0m0 79.2h0m.1-86.9h0m.3 8.5h0m.3 79.2h0m.5-94.4h0m.4 94.8h0m1.2-97.4h0m.9-9.1h0m0 15.3h0m1.8 97.2h0m.4-98.2h0m.1 101.6h0m.2-99.5h0m.6-9.2h0m.2 13.6h0m.6 93.6h0m0-98h0m.1-12.9h0m.2 17.2h0m.2-51.6h0m0 0h0m0 16.8h0m0 .8h0m0 6.2h0m0 .1h0m0 35.6h0m.3-5.7h0m.3-3.9h0m.5-11.3h0m.4 13.6h0m.1 3.1h0m.1 0h0m.7 .9h0m.7 89.5h0m0-98.6h0m.3 14.1h0m0-7.7h0m.1 16.8h0m1.7-8.9h0m.4 7.5h0m.2 .8h0m1 13.2h0m.7-.8h0m.1-11.7h0m1.5-6h0m.1 1h0m.5-3.1h0m.5-6.7h0m.1 90.8h0m.1-98.6h0m0 8.2h0m.6-10.7h0m.1 99.9h0m.3 2.5h0m.1-104.9h0m.1-8.2h0m.6-13.4h0m.5 13.1h0m0 16h0m.1-5.6h0m.2-18.3h0m.4 10.8h0m.2 110.6h0m.3-1.6h0m.1-115.3h0m.5-7h0m.2 2.8h0m0 3.3h0m.3-2h0m.9-26.2h0m0 .8h0m0 5.4h0m0 .8h0m1 16.6h0m.5 123.6h0m.3-124.3h0m1.3-2.6h0m.1 9.9h0m.1-.5h0m.8 119.7h0m0-130.7h0m.4 134.2h0m.5-133.6h0m.1-5.4h0m0 2.4h0m.1-3.7h0m.2 136.8h0m.5-136h0m.6 6.9h0m.3-2.3h0m0 9.6h0m.3-83h0m0 11.1h0m0 5.3h0m0 16.8h0m0 5.7h0m0 .6h0m0 10.5h0m0 .1h0m0 5.2h0m0 1h0m0 4.3h0m0 22.4h0m.2 117.5h0m.3-131h0m.4 4.4h0m.6 3.6h0m.4 124.4h0m1.4-123.7h0m.2-10.2h0m.1 .9h0m.4 13.2h0m.3 .7h0m1-26.6h0m0 .1h0m0 6.1h0m.7 26.4h0m.2-8.7h0m.2 4.5h0m1.5-9.6h0m.4 125.1h0m.3-111.3h0m.2 114.4h0m.1-125.3h0m.9 123.4h0m1.8-100.3h0m.2 103.6h0m.6-92.2h0m.4 94.8h0m.1-90.6h0m0 93.9h0m.4-4.7h0m.9 3.3h0m.1 1.2h0m.6-90h0m.4-12.9h0m.1 3.6h0m.5 8.5h0m.2-11h0m.2 .1h0m.2 9.9h0m.4-9.3h0m.8 4.7h0m.1 7.2h0m.3-5.7h0m.1-6.7h0m0 10.8h0m.1-8.8h0m0 6.4h0m.3-8.1h0m1.2 89.4h0m1.3-82.3h0m.7 1.7h0m.8 .7h0m.7-4.2h0m.9 .5h0m.4 89.4h0m0-92.2h0m.2 93.1h0m.3 4.1h0m.1-101.7h0m0-15.9h0m.8 113h0m.6-92.2h0m0-8.4h0m.4 102.7h0m.6-97.5h0m.9-7h0m.7 97.1h0m.8-101.1h0m.2 17h0m0 1.7h0m.1-2.5h0m.6-64.4h0m0 .1h0m0 9.6h0m0 .1h0m0 5.2h0m0 .1h0m0 4.4h0m0 10.6h0m0 0h0m0 45.3h0m.3-7.1h0m2.1 5.9h0m.4 71.6h0m1.3-80.5h0m.1 2.1h0m.1 2.6h0m.4 77.4h0m0-75.6h0m1-5.9h0m0 9.8h0m.8-11.7h0m.2-9.5h0m0 3.8h0m.3-6.7h0m1.1 91.3h0m.1-96h0m.2 11h0m.4 3.8h0m.3 81.9h0m0-79.4h0m.2 80.9h0m1.5-85h0m.3 1h0m1.5-9.1h0m.1-8.7h0m.3 7.4h0m0-2.9h0m.2 100.1h0m0-112.8h0m1 8.7h0m1.1 7.6h0m.1 3.5h0m.2 4.9h0m.2-5.3h0m.6-6.9h0m.3-3.8h0m0 10.6h0m2.1-7.6h0m1 8.7h0m.2 .3h0m.4-12.6h0m1.3 110.9h0m1.2-101.3h0m.1-7h0m.9 4.3h0m.5 5.4h0m.6 4.9h0m.3 92.8h0m.4 4.4h0m.4-112.7h0m.6 9.4h0m.3-33.4h0m0 .3h0m0 8.9h0m0 0h0m0 5.3h0m.1 25.2h0m.6-6.3h0m.6-4.6h0m1.9 5.8h0m.4 3.8h0m.2-10.8h0m1.2 110.7h0m.3-2.3h0m.1-91.9h0m.1 89.9h0m0-92.2h0m.3 8h0m.1-13.5h0m0 19.1h0m.3-19.1h0m.3 6.8h0m.2-4.4h0m0 94.8h0m1-79.8h0m.1 77.7h0m.1-83.8h0m.4-3h0m1 13.1h0m0-.4h0m.1 4.2h0m.1-1.9h0m.5-6.9h0m.8-8.7h0m.5-7.8h0m.4 95.4h0m.2-75.9h0m.2 7h0m.4 67.6h0m0-81.7h0m.4-3.5h0m.1 3.7h0m.1-5.5h0m.2-24.4h0m.3 35h0m.6-8.5h0m.1-14.6h0m.1 .3h0m0 98.6h0m.2-.4h0m.9-89.1h0m1.2 87.9h0m.4-82.9h0m.6 82.1h0m.9-101.5h0m2.9-55.9h0m.1 8.5h0m.3 36.1h0m.3-18.9h0m0-22.2h0m0 33.4h0m.2-25h0m0 18.9h0m.1-11.8h0m.1-19.5h0m.4 18.4h0m0-19.2h0m.1-3.9h0m.1-1.3h0m0 13.9h0m.2 3.1h0m0-111.4h0m0 3.2h0m0 22.1h0m0 1.8h0m0 37.1h0m0 6.2h0m0 4.4h0m0 14.1h0m.2 4.9h0m.2 .1h0m.1-14.7h0m.1 29h0m0-.6h0m.3-9.2h0m.3-16h0m.4 11.9h0m.2 162.4h0m.1-143.7h0m1.1-.7h0m0-14.7h0m.2 155.8h0m.2-148h0m.1 147.7h0m1.3-139.9h0m.1-5h0m.6 9.4h0m.6-2.3h0m.2 .5h0m0 12.6h0m0 131.6h0m.7 3.2h0m.8 1.2h0m.2 .5h0m1.3-124h0m.1 122.7h0m.4 4.8h0m.8-4h0m.5 2.1h0m.9-3.7h0m.1 3.7h0m1.6-82.2h0m.4-7.8h0m.9 11.8h0m.2 68.8h0m.6-.6h0m.2-74.6h0m.1 13.1h0m1.3 59.4h0m.1-82h0m.1 83.2h0m0 1.9h0m.1-84.4h0m1.2-.5h0m.1-.7h0m.1-12h0m.2-1.5h0m0 99.2h0m.6-98h0m.4-1.9h0m2.5 103.7h0m.5-92.9h0m.3-5h0m0 8.4h0m.2 6.4h0m.1-19.1h0m1.7 1.7h0m1.2 18.2h0m.1 10.1h0m.1 1.5h0m.4-15.3h0m.8 7.2h0m1.1 2.5h0m.3 80.4h0m.5-96.3h0m1 1.2h0m.2 96.2h0m.2-124.1h0m0 18.5h0m0 21.1h0m.1-28.6h0m.1 14.1h0m.1-30.1h0m0 37.4h0m.1 14.1h0m0-49.6h0m.4-4h0m.3 28.8h0m0 5h0m0-10.9h0m.1-49.9h0m0 0h0m0 7h0m0 .1h0m0 9.6h0m0 .1h0m0 5.3h0m0 .8h0m.3 43.4h0m0-29.1h0m.1 7.5h0m.3-1.8h0m1-5.5h0m.5 23.2h0m.1-9h0m.4 104.6h0m1.5-90.4h0m.9 90.2h0m.3-95.4h0m.1 93.4h0m1.3-92.6h0m.7-7.5h0m.4 100.3h0m.1-105.6h0m.6 107h0m.2-162.7h0m0 0h0m0 5.3h0m0 5.3h0m0 0h0m0 2.6h0m0 .1h0m0 14.1h0m0 0h0m0 9.7h0m0 .1h0m.5 14.8h0m.5 13.9h0m0-14.2h0m.2 12.6h0m0-2.5h0m0 2.2h0m.6-12.6h0m.1 8.6h0m.7-35.3h0m0 .1h0m.1 35.7h0m.6-9.8h0m.3 111.1h0m.5-3.3h0m.8 3.3h0m0-156.5h0m0 .9h0m0 5.6h0m0 .6h0m.4 27.4h0m0 0h0m1.1 25.7h0m0-6.3h0m.2 2.3h0m.7-11.8h0m1.5 109.7h0m.8-94.7h0m.3-.1h0m.4 93.8h0m.2-93.8h0m.1-24.8h0m0 0h0m.6 25.2h0m0-9.2h0m.4 9.8h0m.3 3h0m.4-15.5h0m.5 16.3h0m.8-3.8h0m.3 2.2h0m.1-5h0m0 7.7h0m1.2-10.5h0m.1 101.6h0m.4-99.6h0m.9 99.9h0m.1-90.9h0m1 89.9h0m.8-100.5h0m.3-5h0m0 108.2h0m.5-108.7h0m.2 11.2h0m.8 .5h0m.7-5.9h0m.1-.5h0m.6-3.9h0m0 107.8h0m0-106h0m.5 6h0m.3-7.2h0m.6-1.5h0m.4 111.8h0m.4-4.2h0m0-94.1h0m.1 91.8h0m0-96.9h0m.3-18.7h0m.3 14.2h0m.1-27.5h0m0 0h0m0 5.3h0m0 .1h0m.2 21.3h0m.3-27h0m0 .3h0m0 4.5h0m.1 34.2h0m0 89.8h0m.1-94.9h0m.6-5.6h0m.2-8.6h0m1.3 8.8h0m.7 14.2h0m.5 83.6h0m.3-86.5h0m.4 3.7h0m.2 .3h0m.2 86.7h0m0-2.3h0m.1-89.8h0m.8 8.4h0m.1-7.9h0m.7 5.7h0m.4 88h0m.1-90.4h0m.1-11.6h0m.2-11.7h0m.1 30.3h0m0 80.3h0m.2-98.3h0m0-1h0m.4 17.6h0m.3 .5h0m.2 4.5h0m.1-23.1h0m.5 102.3h0m.2 2.2h0m.4-88.8h0m0 3.3h0m.3-7h0m.2 12.6h0m.5-15.5h0m.3 16.7h0m1.8 .5h0m1.4 70.8h0m.1-80.8h0m.2-1.9h0m1-2.5h0m.5 4.1h0m.1-28.6h0m.4 25.3h0m.1 6.8h0m.1-9h0m.1-6.8h0m.2-37.3h0m0 .7h0m0 4.4h0m.3 41.1h0m.2 86.6h0m.4-85.4h0m0 88.5h0m.3-90.6h0m.1 90.1h0m.9-1.5h0m.5-88.9h0m0-7.3h0m.4 14.9h0m.4 81.3h0m.1-92.4h0m1.2 1.6h0m.3-7.7h0m.6 8.9h0m.1 89.4h0m0 .3h0m.4-130.1h0m0 1.2h0m0 13.3h0m.1 14.4h0m.3 99.9h0m.2-91.6h0m1.5 93.4h0m1.2-100h0m.8 2.3h0m0 98.7h0m.4-102.5h0m.4 7.3h0m.2-8.9h0m0 105.1h0m.6-96.1h0m.4-30h0m0 5.3h0m0 4.5h0m1.6 118.6h0m.1-94.3h0m.5-13.9h0m.3 10.3h0m.1 97.8h0m1.1-103.2h0m.1-4.3h0m.7 108.6h0m.5-101.9h0m.4-22.2h0m.2 14.5h0m.4 7.6h0m.2 6.1h0m.2 2.2h0m.1 93.7h0m.6-128.5h0m0 9.7h0m0 117.1h0m.9-134.2h0m0 .3h0m.2 38.6h0m0 95.1h0m.2-2.1h0m.3-100.2h0m.8 9h0m0 2.4h0m.2-8.5h0m0-5.5h0m0 .4h0m.1 12.3h0m.9-23.8h0m.4 20.8h0m.4-35.8h0m0 5.3h0m.4 31.5h0m.2 4.1h0m.4 .8h0m.2-5.7h0m.2 5.8h0m.6-13.5h0m0 105.2h0m.3-96.5h0m.6-1.3h0m.1 9.2h0m.7-6.8h0m.2 93.8h0m1.4-3.6h0m0 1.3h0m.5-86.4h0m.1-11.9h0m.8 17.3h0m1.1 78.7h0m.1-91.1h0m.1-15h0m.5 104.9h0m.3 1.3h0m.4-85.3h0m.5-8.1h0m.1-29.6h0m0 8.9h0m0 22.3h0m.3 12.8h0m0-7.4h0m0 5.4h0m1.1-.3h0m.3 77.5h0m0-77.2h0m.3 74.6h0m.2-88h0m.5-.6h0m.4 2.7h0m0 12.5h0m.2-2.2h0m.2-5.3h0m.7 4.3h0m1.4 76.5h0m.2-83.9h0m.4 88.2h0m.1-77.8h0m.8 76.2h0m.1-75.6h0m.3-3.9h0m.3-3.8h0m.1-6.8h0m0-25.5h0m0 2.6h0m0 8h0m0 5.3h0m.9 18.2h0m.1 83.2h0m.3-90.4h0m1.3 93.4h0m.1-80.5h0m.3 80.5h0m1-79.5h0m.1 5.4h0m.2-8.9h0m.1 4.5h0m.4-14.7h0m.4 13h0m.2 81.8h0m.5-94.5h0m.3 92h0m2.8-109.8h0m0-1.2h0m.2 107.3h0m.2-117.4h0m.3-.1h0m.3 119.3h0m.3-2.7h0m.6-123.1h0m1.1-11.9h0m1.4 10.9h0m.1-4.1h0m0 127.2h0m.6-130h0m2.6-8.5h0m0 147.5h0m.6-146.7h0m.9 13.5h0m0 .2h0m.3 .3h0m.1 2.1h0m.1-7.4h0m.3 2.1h0m0-3.6h0m.3 10.6h0m.7 .9h0m.4 117.8h0m.3-120.9h0m.3 1.4h0m.3-.5h0m.8 1.6h0m.2-8.7h0m.3 128.4h0m.4-120.3h0m.5-7h0m0 125.8h0m.3-117h0m.3-1.4h0m.7 125.3h0m.1-154.1h0m.4-12.6h0m.2 8.8h0m.2-2.4h0m.4-11.4h0m.5-7.1h0m.2-1.6h0m.4 .7h0m1.3 12.9h0m.3-23.4h0m.2 17.6h0m0-7.4h0m.1 169.2h0m0-174.6h0m.5 12.8h0m0-22.1h0m.1 8.2h0m0 6.5h0m.2 12.4h0m.6 7.5h0m.1-35.8h0m0 29.1h0m.2 152.9h0m0-158.2h0m.1-27.7h0m.1 13.7h0m.2 7.6h0m.1-15.8h0m.1-.9h0m.6 12.8h0m.2-1.6h0m.2 22.6h0m1.2 162.2h0m0 4.5h0m.2-174.6h0m0 152.6h0m1-144.5h0m.2-4.6h0m.7 5.1h0m.6-7h0m0-11.2h0m.6-10.3h0m.4 172.9h0m.1-183.3h0m1 26.7h0m0-13.3h0m.1-59.8h0m0 15h0m0 8.8h0m.1 42.2h0m.4-11.2h0m.1 25.7h0m.2-36h0m.2 14.5h0m.1 169.2h0m.1-174h0m.7 2.5h0m1.1 7.3h0m.4-3.1h0m1.3 5.2h0m.4-.8h0m.2-4.2h0m.4-17.5h0m.6 19.4h0m.7-7.4h0m0 12.2h0m.7-10h0m.5 7.9h0m.8-11.2h0m.2-16.2h0m.1 25.6h0m.8-10.2h0m.6-2.2h0m.1 13h0m.1-10.4h0m1.4-3.5h0m1 196.2h0m0 4.5h0m0-13.1h0m.1-187h0m.1 7h0m.1-6.3h0m.8 10.5h0m.8 .7h0m1.1-42.5h0m0 10.3h0m.1 31h0m.2 7.4h0m.1-23.7h0m.1 9.6h0m.1-4h0m.3-66.3h0m0 3.2h0m0 8.3h0m0 5.9h0m0 11.8h0m0 19.4h0m.5 26.6h0m.2 1.2h0m1.4 4.9h0m.4 8.7h0m.5 1.8h0m1 3h0m.1-4.5h0m.7 4.9h0m.4 169.8h0m1.5 2.7h0m.5-1.9h0m.3-177.3h0m.5 8.8h0m.1-6.6h0m.9-.7h0m.4 171.8h0m.9-185.3h0m.3 188.8h0m1.5-10.7h0m.1-168.7h0m.3 7.5h0m.3-15.8h0m.1 177.2h0m.7-171.3h0m.2 .7h0m.8-4.2h0m.2 1.3h0m.8-19.6h0m.4 13.1h0m.4 172.1h0m2.3-195.8h0m.5-7.3h0m0 202.9h0m1.1-182.5h0m.2-6.7h0m.3-108.7h0m0 8.8h0m0 5h0m0 18h0m0 6.2h0m0 23.8h0m0 2.7h0m.4 49h0m0-5.7h0m.4 189.9h0m0-192.9h0m.4 9.1h0m.1-86h0m0 15.4h0m0 7h0m0 17.2h0m.1 40.7h0m1-6.4h0m.2 194.2h0m.1-180.9h0m.7 179.4h0m.4 3h0m.3-4.3h0m.3-179.6h0m.1 7.4h0m.4 173.7h0m.1-3.5h0m.2-6.9h0m.1 23.5h0m.2-194.6h0m.2-.6h0m1-3.2h0m0 1.6h0m1.3-6.9h0m.1 175.1h0m.1-165.5h0m.1-6.6h0m.5-9.5h0m0 4.8h0m.1 3.7h0m.9 161.8h0m0-162.3h0m.4 6.9h0m.3 1.1h0m.2-10.7h0m.1 8.9h0m.2 161.6h0m0 9.7h0m0 3.5h0m.2-21.9h0m.1-154.3h0m.4-7.3h0m1.3 .7h0m1-4.4h0m.3-8h0m.1 4.3h0m.6 1.6h0m.9-7.6h0m.1 185.7h0m0-173.4h0m.1 178.4h0m.3-194.3h0m.1 2.8h0m.1 6.6h0m.2-11.9h0m.4 .1h0m.1 196.1h0m0-184.9h0m.3-9.8h0m.5-16.5h0m.2 210.6h0m0-178.5h0m.1-5.2h0m0-9.1h0m.3 194.9h0m.9-2.2h0m1.1-179.7h0m.7-8.6h0m.2 2h0m.2-8.3h0m.2 5.5h0m.1 3.6h0m.2 186.7h0m.1 2.6h0m.2-183.4h0m.2-16.1h0m0 11.4h0m.6-39.2h0m.3 26.9h0m.6-48.1h0m0 34.5h0m.3 15.1h0m0 .1h0m.4 11.9h0m.1-57.1h0m0 39.7h0m.2 4.7h0m0 3h0m.7 194h0m0-214.9h0m0 229.2h0m0 10.6h0m.2-27.5h0m.7-229.1h0m.5 41.9h0m.2-6.5h0m.3 63h0m.1-41.4h0m0 34.2h0m0-15.1h0m.1 38.2h0m.1-10.3h0m0 17.4h0m.2-37.5h0m0 24.9h0m0 20.1h0m.1-79h0m0 15h0m.1 5.2h0m0-26.8h0m.7 86.1h0" stroke="#1f77b4" stroke-width="5.6" stroke-linecap="round" fill="none"/>
<use href="#o7" fill="none" stroke="#ff7f0e" stroke-width="2.1" stroke-linejoin="round"/>
</g>
<rect x="116.5" y="575.5" width="1346.0" height="479.0" fill="none" stroke="#000" stroke-width="1.1"/>
<g stroke="#000" stroke-width="1.1">
<path d="M116.5 1054.5v5"/>
<path d="M284.5 1054.5v5"/>
<path d="M452.5 1054.5v5"/>
<path d="M621.5 1054.5v5"/>
<path d="M789.5 1054.5v5"/>
<path d="M957.5 1054.5v5"/>
<path d="M1125.5 1054.5v5"/>
<path d="M1294.5 1054.5v5"/>
<path d="M116.5 635.5h-5"/>
<path d="M116.5 734.5h-5"/>
<path d="M116.5 833.5h-5"/>
<path d="M116.5 933.5h-5"/>
<path d="M116.5 1032.5h-5"/>
</g>
<text x="115.5" y="29.7" font-size="27.20" textLength="42.4" lengthAdjust="spacingAndGlyphs">(a)</text>
<text x="115.5" y="566.8" font-size="27.20" textLength="43.5" lengthAdjust="spacingAndGlyphs">(b)</text>
<text x="785.3" y="29.7" font-size="27.20" text-anchor="middle" textLength="299.5" lengthAdjust="spacingAndGlyphs">10.0 MHz N0000029</text>
<text transform="translate(61.3,278.5) rotate(-90)" font-size="22.66" text-anchor="middle" textLength="226.2" lengthAdjust="spacingAndGlyphs">Doppler Shift [Hz]</text>
<text transform="translate(57,814.8) rotate(-90)" font-size="22.66" text-anchor="middle" textLength="209.6" lengthAdjust="spacingAndGlyphs">Peak Voltage [V]</text>
<text x="789.3" y="1158" font-size="22.66" text-anchor="middle" textLength="49.5" lengthAdjust="spacingAndGlyphs">UTC</text>
<text transform="translate(113.0,1078) rotate(-30)" font-size="22.66" text-anchor="end" textLength="109.7" lengthAdjust="spacingAndGlyphs">05-17 00</text>
<text transform="translate(281.0,1078) rotate(-30)" font-size="22.66" text-anchor="end" textLength="109.7" lengthAdjust="spacingAndGlyphs">05-17 03</text>
<text transform="translate(449.0,1078) rotate(-30)" font-size="22.66" text-anchor="end" textLength="109.7" lengthAdjust="spacingAndGlyphs">05-17 06</text>
<text transform="translate(618.0,1078) rotate(-30)" font-size="22.66" text-anchor="end" textLength="109.7" lengthAdjust="spacingAndGlyphs">05-17 09</text>
<text transform="translate(786.0,1078) rotate(-30)" font-size="22.66" text-anchor="end" textLength="109.7" lengthAdjust="spacingAndGlyphs">05-17 12</text>
<text transform="translate(954.0,1078) rotate(-30)" font-size="22.66" text-anchor="end" textLength="109.7" lengthAdjust="spacingAndGlyphs">05-17 15</text>
<text transform="translate(1122.0,1078) rotate(-30)" font-size="22.66" text-anchor="end" textLength="109.7" lengthAdjust="spacingAndGlyphs">05-17 18</text>
<text transform="translate(1291.0,1078) rotate(-30)" font-size="22.66" text-anchor="end" textLength="109.7" lengthAdjust="spacingAndGlyphs">05-17 21</text>
<text x="105.6" y="62.1" font-size="22.66" text-anchor="end" textLength="15.5" lengthAdjust="spacingAndGlyphs">2</text>
<text x="105.6" y="162.1" font-size="22.66" text-anchor="end" textLength="15.5" lengthAdjust="spacingAndGlyphs">1</text>
<text x="105.6" y="261.1" font-size="22.66" text-anchor="end" textLength="15.5" lengthAdjust="spacingAndGlyphs">0</text>
<text x="105.6" y="361.1" font-size="22.66" text-anchor="end" textLength="34.1" lengthAdjust="spacingAndGlyphs">−1</text>
<text x="105.6" y="461.1" font-size="22.66" text-anchor="end" textLength="34.1" lengthAdjust="spacingAndGlyphs">−2</text>
<text x="104.1" y="643.1" font-size="22.66" text-anchor="end" textLength="37.8" lengthAdjust="spacingAndGlyphs">0.8</text>
<text x="104.1" y="742.1" font-size="22.66" text-anchor="end" textLength="37.8" lengthAdjust="spacingAndGlyphs">0.6</text>
<text x="104.1" y="841.1" font-size="22.66" text-anchor="end" textLength="37.8" lengthAdjust="spacingAndGlyphs">0.4</text>
<text x="104.1" y="941.1" font-size="22.66" text-anchor="end" textLength="37.8" lengthAdjust="spacingAndGlyphs">0.2</text>
<text x="104.1" y="1040.1" font-size="22.66" text-anchor="end" textLength="37.8" lengthAdjust="spacingAndGlyphs">0.0</text>
<rect x="1047.5" y="48.5" width="406" height="79.5" rx="3.5" fill="#fff" fill-opacity="0.8" stroke="#ccc" stroke-width="1"/>
<circle cx="1073.4" cy="63.4" r="2.8" fill="#1f77b4"/>
<path d="M1053.2 101.5h38.7" stroke="#ff7f0e" stroke-width="2.1" fill="none"/>
<text x="1106" y="69.0" font-size="18.89" textLength="98.5" lengthAdjust="spacingAndGlyphs">Raw Data</text>
<text x="1106" y="95.7" font-size="18.89" textLength="269.1" lengthAdjust="spacingAndGlyphs">Butterworth Filtered Data</text>
<text x="1106" y="116.8" font-size="18.89" textLength="339.6" lengthAdjust="spacingAndGlyphs">(N=6, Tc=3.3333 min, Type: low)</text>
<rect x="1047.5" y="585.5" width="406" height="79.5" rx="3.5" fill="#fff" fill-opacity="0.8" stroke="#ccc" stroke-width="1"/>
<circle cx="1073.4" cy="600.4" r="2.8" fill="#1f77b4"/>
<path d="M1053.2 638.5h38.7" stroke="#ff7f0e" stroke-width="2.1" fill="none"/>
<text x="1106" y="606.0" font-size="18.89" textLength="98.5" lengthAdjust="spacingAndGlyphs">Raw Data</text>
<text x="1106" y="632.7" font-size="18.89" textLength="269.1" lengthAdjust="spacingAndGlyphs">Butterworth Filtered Data</text>
<text x="1106" y="653.8" font-size="18.89" textLength="339.6" lengthAdjust="spacingAndGlyphs">(N=6, Tc=3.3333 min, Type: low)</text>
</svg></body></html>
